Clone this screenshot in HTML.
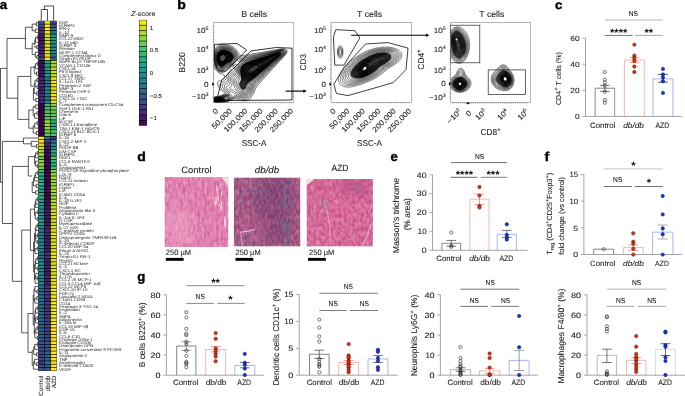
<!DOCTYPE html>
<html lang="en"><head><meta charset="utf-8"><title>Figure</title>
<style>html,body{margin:0;padding:0;background:#fff;overflow:hidden}svg{display:block;will-change:transform}text{font-family:'Liberation Sans', sans-serif}</style>
</head><body>
<svg width="685" height="396" viewBox="0 0 685 396" text-rendering="geometricPrecision">
<rect width="685" height="396" fill="#fff"/>
<g id="pa">
<rect x="38.2" y="20.8" width="18.5" height="350.05" fill="#000" stroke="none" stroke-width="0.5"/>
<rect x="38.48" y="21.14" width="5.61" height="2.62" fill="#365c8d"/>
<rect x="44.65" y="21.14" width="5.61" height="2.62" fill="#fde725"/>
<rect x="50.81" y="21.14" width="5.61" height="2.62" fill="#3f4788"/>
<rect x="38.48" y="24.44" width="5.61" height="2.62" fill="#3d4e8a"/>
<rect x="44.65" y="24.44" width="5.61" height="2.62" fill="#fde725"/>
<rect x="50.81" y="24.44" width="5.61" height="2.62" fill="#39558c"/>
<rect x="38.48" y="27.74" width="5.61" height="2.62" fill="#453581"/>
<rect x="44.65" y="27.74" width="5.61" height="2.62" fill="#f6e620"/>
<rect x="50.81" y="27.74" width="5.61" height="2.62" fill="#2e6f8e"/>
<rect x="38.48" y="31.05" width="5.61" height="2.62" fill="#472f7d"/>
<rect x="44.65" y="31.05" width="5.61" height="2.62" fill="#f1e51d"/>
<rect x="50.81" y="31.05" width="5.61" height="2.62" fill="#2b758e"/>
<rect x="38.48" y="34.35" width="5.61" height="2.62" fill="#481668"/>
<rect x="44.65" y="34.35" width="5.61" height="2.62" fill="#cde11d"/>
<rect x="50.81" y="34.35" width="5.61" height="2.62" fill="#1f948c"/>
<rect x="38.48" y="37.65" width="5.61" height="2.62" fill="#471164"/>
<rect x="44.65" y="37.65" width="5.61" height="2.62" fill="#c0df25"/>
<rect x="50.81" y="37.65" width="5.61" height="2.62" fill="#1e9d89"/>
<rect x="38.48" y="40.95" width="5.61" height="2.62" fill="#481668"/>
<rect x="44.65" y="40.95" width="5.61" height="2.62" fill="#cde11d"/>
<rect x="50.81" y="40.95" width="5.61" height="2.62" fill="#1f948c"/>
<rect x="38.48" y="44.26" width="5.61" height="2.62" fill="#481d6f"/>
<rect x="44.65" y="44.26" width="5.61" height="2.62" fill="#dde318"/>
<rect x="50.81" y="44.26" width="5.61" height="2.62" fill="#238a8d"/>
<rect x="38.48" y="47.56" width="5.61" height="2.62" fill="#481b6d"/>
<rect x="44.65" y="47.56" width="5.61" height="2.62" fill="#d5e21a"/>
<rect x="50.81" y="47.56" width="5.61" height="2.62" fill="#218e8d"/>
<rect x="38.48" y="50.86" width="5.61" height="2.62" fill="#481f70"/>
<rect x="44.65" y="50.86" width="5.61" height="2.62" fill="#dfe318"/>
<rect x="50.81" y="50.86" width="5.61" height="2.62" fill="#23888e"/>
<rect x="38.48" y="54.16" width="5.61" height="2.62" fill="#472d7b"/>
<rect x="44.65" y="54.16" width="5.61" height="2.62" fill="#efe51c"/>
<rect x="50.81" y="54.16" width="5.61" height="2.62" fill="#2a778e"/>
<rect x="38.48" y="57.47" width="5.61" height="2.62" fill="#404588"/>
<rect x="44.65" y="57.47" width="5.61" height="2.62" fill="#fde725"/>
<rect x="50.81" y="57.47" width="5.61" height="2.62" fill="#355e8d"/>
<rect x="38.48" y="60.77" width="5.61" height="2.62" fill="#460a5d"/>
<rect x="44.65" y="60.77" width="5.61" height="2.62" fill="#23a983"/>
<rect x="50.81" y="60.77" width="5.61" height="2.62" fill="#aadc32"/>
<rect x="38.48" y="64.07" width="5.61" height="2.62" fill="#460a5d"/>
<rect x="44.65" y="64.07" width="5.61" height="2.62" fill="#23a983"/>
<rect x="50.81" y="64.07" width="5.61" height="2.62" fill="#aadc32"/>
<rect x="38.48" y="67.37" width="5.61" height="2.62" fill="#460b5e"/>
<rect x="44.65" y="67.37" width="5.61" height="2.62" fill="#21a585"/>
<rect x="50.81" y="67.37" width="5.61" height="2.62" fill="#b2dd2d"/>
<rect x="38.48" y="70.68" width="5.61" height="2.62" fill="#481a6c"/>
<rect x="44.65" y="70.68" width="5.61" height="2.62" fill="#21908d"/>
<rect x="50.81" y="70.68" width="5.61" height="2.62" fill="#d2e21b"/>
<rect x="38.48" y="73.98" width="5.61" height="2.62" fill="#470d60"/>
<rect x="44.65" y="73.98" width="5.61" height="2.62" fill="#20a386"/>
<rect x="50.81" y="73.98" width="5.61" height="2.62" fill="#b5de2b"/>
<rect x="38.48" y="77.28" width="5.61" height="2.62" fill="#482979"/>
<rect x="44.65" y="77.28" width="5.61" height="2.62" fill="#297b8e"/>
<rect x="50.81" y="77.28" width="5.61" height="2.62" fill="#ece51b"/>
<rect x="38.48" y="80.58" width="5.61" height="2.62" fill="#472c7a"/>
<rect x="44.65" y="80.58" width="5.61" height="2.62" fill="#29798e"/>
<rect x="50.81" y="80.58" width="5.61" height="2.62" fill="#efe51c"/>
<rect x="38.48" y="83.88" width="5.61" height="2.62" fill="#46337f"/>
<rect x="44.65" y="83.88" width="5.61" height="2.62" fill="#2d718e"/>
<rect x="50.81" y="83.88" width="5.61" height="2.62" fill="#f4e61e"/>
<rect x="38.48" y="87.19" width="5.61" height="2.62" fill="#481c6e"/>
<rect x="44.65" y="87.19" width="5.61" height="2.62" fill="#228c8d"/>
<rect x="50.81" y="87.19" width="5.61" height="2.62" fill="#dae319"/>
<rect x="38.48" y="90.49" width="5.61" height="2.62" fill="#481d6f"/>
<rect x="44.65" y="90.49" width="5.61" height="2.62" fill="#238a8d"/>
<rect x="50.81" y="90.49" width="5.61" height="2.62" fill="#dde318"/>
<rect x="38.48" y="93.79" width="5.61" height="2.62" fill="#472d7b"/>
<rect x="44.65" y="93.79" width="5.61" height="2.62" fill="#2a778e"/>
<rect x="50.81" y="93.79" width="5.61" height="2.62" fill="#efe51c"/>
<rect x="38.48" y="97.09" width="5.61" height="2.62" fill="#472d7b"/>
<rect x="44.65" y="97.09" width="5.61" height="2.62" fill="#2a778e"/>
<rect x="50.81" y="97.09" width="5.61" height="2.62" fill="#efe51c"/>
<rect x="38.48" y="100.4" width="5.61" height="2.62" fill="#482677"/>
<rect x="44.65" y="100.4" width="5.61" height="2.62" fill="#27808e"/>
<rect x="50.81" y="100.4" width="5.61" height="2.62" fill="#e7e419"/>
<rect x="38.48" y="103.7" width="5.61" height="2.62" fill="#440256"/>
<rect x="44.65" y="103.7" width="5.61" height="2.62" fill="#3dbc74"/>
<rect x="50.81" y="103.7" width="5.61" height="2.62" fill="#7fd34e"/>
<rect x="38.48" y="107" width="5.61" height="2.62" fill="#440154"/>
<rect x="44.65" y="107" width="5.61" height="2.62" fill="#42be71"/>
<rect x="50.81" y="107" width="5.61" height="2.62" fill="#7cd250"/>
<rect x="38.48" y="110.3" width="5.61" height="2.62" fill="#440154"/>
<rect x="44.65" y="110.3" width="5.61" height="2.62" fill="#56c667"/>
<rect x="50.81" y="110.3" width="5.61" height="2.62" fill="#65cb5e"/>
<rect x="38.48" y="113.61" width="5.61" height="2.62" fill="#440154"/>
<rect x="44.65" y="113.61" width="5.61" height="2.62" fill="#56c667"/>
<rect x="50.81" y="113.61" width="5.61" height="2.62" fill="#65cb5e"/>
<rect x="38.48" y="116.91" width="5.61" height="2.62" fill="#440154"/>
<rect x="44.65" y="116.91" width="5.61" height="2.62" fill="#56c667"/>
<rect x="50.81" y="116.91" width="5.61" height="2.62" fill="#65cb5e"/>
<rect x="38.48" y="120.21" width="5.61" height="2.62" fill="#46075a"/>
<rect x="44.65" y="120.21" width="5.61" height="2.62" fill="#9dd93b"/>
<rect x="50.81" y="120.21" width="5.61" height="2.62" fill="#29af7f"/>
<rect x="38.48" y="123.51" width="5.61" height="2.62" fill="#46085c"/>
<rect x="44.65" y="123.51" width="5.61" height="2.62" fill="#a5db36"/>
<rect x="50.81" y="123.51" width="5.61" height="2.62" fill="#25ab82"/>
<rect x="38.48" y="126.82" width="5.61" height="2.62" fill="#450559"/>
<rect x="44.65" y="126.82" width="5.61" height="2.62" fill="#98d83e"/>
<rect x="50.81" y="126.82" width="5.61" height="2.62" fill="#2cb17e"/>
<rect x="38.48" y="130.12" width="5.61" height="2.62" fill="#440154"/>
<rect x="44.65" y="130.12" width="5.61" height="2.62" fill="#73d056"/>
<rect x="50.81" y="130.12" width="5.61" height="2.62" fill="#4ac16d"/>
<rect x="38.48" y="133.42" width="5.61" height="2.62" fill="#440154"/>
<rect x="44.65" y="133.42" width="5.61" height="2.62" fill="#69cd5b"/>
<rect x="50.81" y="133.42" width="5.61" height="2.62" fill="#52c569"/>
<rect x="38.48" y="136.72" width="5.61" height="2.62" fill="#f4e61e"/>
<rect x="44.65" y="136.72" width="5.61" height="2.62" fill="#2d718e"/>
<rect x="50.81" y="136.72" width="5.61" height="2.62" fill="#46337f"/>
<rect x="38.48" y="140.02" width="5.61" height="2.62" fill="#f6e620"/>
<rect x="44.65" y="140.02" width="5.61" height="2.62" fill="#453781"/>
<rect x="50.81" y="140.02" width="5.61" height="2.62" fill="#2e6d8e"/>
<rect x="38.48" y="143.33" width="5.61" height="2.62" fill="#e2e418"/>
<rect x="44.65" y="143.33" width="5.61" height="2.62" fill="#482173"/>
<rect x="50.81" y="143.33" width="5.61" height="2.62" fill="#25858e"/>
<rect x="38.48" y="146.63" width="5.61" height="2.62" fill="#dfe318"/>
<rect x="44.65" y="146.63" width="5.61" height="2.62" fill="#481f70"/>
<rect x="50.81" y="146.63" width="5.61" height="2.62" fill="#23888e"/>
<rect x="38.48" y="149.93" width="5.61" height="2.62" fill="#98d83e"/>
<rect x="44.65" y="149.93" width="5.61" height="2.62" fill="#450559"/>
<rect x="50.81" y="149.93" width="5.61" height="2.62" fill="#2cb17e"/>
<rect x="38.48" y="153.23" width="5.61" height="2.62" fill="#b8de29"/>
<rect x="44.65" y="153.23" width="5.61" height="2.62" fill="#470e61"/>
<rect x="50.81" y="153.23" width="5.61" height="2.62" fill="#1fa188"/>
<rect x="38.48" y="156.54" width="5.61" height="2.62" fill="#60ca60"/>
<rect x="44.65" y="156.54" width="5.61" height="2.62" fill="#440154"/>
<rect x="50.81" y="156.54" width="5.61" height="2.62" fill="#5ac864"/>
<rect x="38.48" y="159.84" width="5.61" height="2.62" fill="#89d548"/>
<rect x="44.65" y="159.84" width="5.61" height="2.62" fill="#440256"/>
<rect x="50.81" y="159.84" width="5.61" height="2.62" fill="#37b878"/>
<rect x="38.48" y="163.14" width="5.61" height="2.62" fill="#9dd93b"/>
<rect x="44.65" y="163.14" width="5.61" height="2.62" fill="#46075a"/>
<rect x="50.81" y="163.14" width="5.61" height="2.62" fill="#29af7f"/>
<rect x="38.48" y="166.44" width="5.61" height="2.62" fill="#7cd250"/>
<rect x="44.65" y="166.44" width="5.61" height="2.62" fill="#440154"/>
<rect x="50.81" y="166.44" width="5.61" height="2.62" fill="#42be71"/>
<rect x="38.48" y="169.75" width="5.61" height="2.62" fill="#42be71"/>
<rect x="44.65" y="169.75" width="5.61" height="2.62" fill="#440154"/>
<rect x="50.81" y="169.75" width="5.61" height="2.62" fill="#7cd250"/>
<rect x="38.48" y="173.05" width="5.61" height="2.62" fill="#2cb17e"/>
<rect x="44.65" y="173.05" width="5.61" height="2.62" fill="#450559"/>
<rect x="50.81" y="173.05" width="5.61" height="2.62" fill="#98d83e"/>
<rect x="38.48" y="176.35" width="5.61" height="2.62" fill="#25ab82"/>
<rect x="44.65" y="176.35" width="5.61" height="2.62" fill="#46085c"/>
<rect x="50.81" y="176.35" width="5.61" height="2.62" fill="#a5db36"/>
<rect x="38.48" y="179.65" width="5.61" height="2.62" fill="#2eb37c"/>
<rect x="44.65" y="179.65" width="5.61" height="2.62" fill="#450559"/>
<rect x="50.81" y="179.65" width="5.61" height="2.62" fill="#95d840"/>
<rect x="38.48" y="182.96" width="5.61" height="2.62" fill="#37b878"/>
<rect x="44.65" y="182.96" width="5.61" height="2.62" fill="#440256"/>
<rect x="50.81" y="182.96" width="5.61" height="2.62" fill="#89d548"/>
<rect x="38.48" y="186.26" width="5.61" height="2.62" fill="#23a983"/>
<rect x="44.65" y="186.26" width="5.61" height="2.62" fill="#460a5d"/>
<rect x="50.81" y="186.26" width="5.61" height="2.62" fill="#aadc32"/>
<rect x="38.48" y="189.56" width="5.61" height="2.62" fill="#21a585"/>
<rect x="44.65" y="189.56" width="5.61" height="2.62" fill="#460b5e"/>
<rect x="50.81" y="189.56" width="5.61" height="2.62" fill="#b2dd2d"/>
<rect x="38.48" y="192.86" width="5.61" height="2.62" fill="#37b878"/>
<rect x="44.65" y="192.86" width="5.61" height="2.62" fill="#440256"/>
<rect x="50.81" y="192.86" width="5.61" height="2.62" fill="#89d548"/>
<rect x="38.48" y="196.17" width="5.61" height="2.62" fill="#31b57b"/>
<rect x="44.65" y="196.17" width="5.61" height="2.62" fill="#450457"/>
<rect x="50.81" y="196.17" width="5.61" height="2.62" fill="#90d743"/>
<rect x="38.48" y="199.47" width="5.61" height="2.62" fill="#1fa188"/>
<rect x="44.65" y="199.47" width="5.61" height="2.62" fill="#470e61"/>
<rect x="50.81" y="199.47" width="5.61" height="2.62" fill="#b8de29"/>
<rect x="38.48" y="202.77" width="5.61" height="2.62" fill="#1e9b8a"/>
<rect x="44.65" y="202.77" width="5.61" height="2.62" fill="#471164"/>
<rect x="50.81" y="202.77" width="5.61" height="2.62" fill="#c2df23"/>
<rect x="38.48" y="206.07" width="5.61" height="2.62" fill="#1e9b8a"/>
<rect x="44.65" y="206.07" width="5.61" height="2.62" fill="#471164"/>
<rect x="50.81" y="206.07" width="5.61" height="2.62" fill="#c2df23"/>
<rect x="38.48" y="209.37" width="5.61" height="2.62" fill="#21908d"/>
<rect x="44.65" y="209.37" width="5.61" height="2.62" fill="#481a6c"/>
<rect x="50.81" y="209.37" width="5.61" height="2.62" fill="#d2e21b"/>
<rect x="38.48" y="212.68" width="5.61" height="2.62" fill="#21908d"/>
<rect x="44.65" y="212.68" width="5.61" height="2.62" fill="#481a6c"/>
<rect x="50.81" y="212.68" width="5.61" height="2.62" fill="#d2e21b"/>
<rect x="38.48" y="215.98" width="5.61" height="2.62" fill="#1f948c"/>
<rect x="44.65" y="215.98" width="5.61" height="2.62" fill="#481668"/>
<rect x="50.81" y="215.98" width="5.61" height="2.62" fill="#cde11d"/>
<rect x="38.48" y="219.28" width="5.61" height="2.62" fill="#1f9f88"/>
<rect x="44.65" y="219.28" width="5.61" height="2.62" fill="#471063"/>
<rect x="50.81" y="219.28" width="5.61" height="2.62" fill="#bddf26"/>
<rect x="38.48" y="222.58" width="5.61" height="2.62" fill="#1f9f88"/>
<rect x="44.65" y="222.58" width="5.61" height="2.62" fill="#471063"/>
<rect x="50.81" y="222.58" width="5.61" height="2.62" fill="#bddf26"/>
<rect x="38.48" y="225.89" width="5.61" height="2.62" fill="#25858e"/>
<rect x="44.65" y="225.89" width="5.61" height="2.62" fill="#482173"/>
<rect x="50.81" y="225.89" width="5.61" height="2.62" fill="#e2e418"/>
<rect x="38.48" y="229.19" width="5.61" height="2.62" fill="#27808e"/>
<rect x="44.65" y="229.19" width="5.61" height="2.62" fill="#482677"/>
<rect x="50.81" y="229.19" width="5.61" height="2.62" fill="#e7e419"/>
<rect x="38.48" y="232.49" width="5.61" height="2.62" fill="#297b8e"/>
<rect x="44.65" y="232.49" width="5.61" height="2.62" fill="#482979"/>
<rect x="50.81" y="232.49" width="5.61" height="2.62" fill="#ece51b"/>
<rect x="38.48" y="235.79" width="5.61" height="2.62" fill="#228c8d"/>
<rect x="44.65" y="235.79" width="5.61" height="2.62" fill="#481c6e"/>
<rect x="50.81" y="235.79" width="5.61" height="2.62" fill="#dae319"/>
<rect x="38.48" y="239.1" width="5.61" height="2.62" fill="#228c8d"/>
<rect x="44.65" y="239.1" width="5.61" height="2.62" fill="#481c6e"/>
<rect x="50.81" y="239.1" width="5.61" height="2.62" fill="#dae319"/>
<rect x="38.48" y="242.4" width="5.61" height="2.62" fill="#23888e"/>
<rect x="44.65" y="242.4" width="5.61" height="2.62" fill="#481f70"/>
<rect x="50.81" y="242.4" width="5.61" height="2.62" fill="#dfe318"/>
<rect x="38.48" y="245.7" width="5.61" height="2.62" fill="#228c8d"/>
<rect x="44.65" y="245.7" width="5.61" height="2.62" fill="#481c6e"/>
<rect x="50.81" y="245.7" width="5.61" height="2.62" fill="#dae319"/>
<rect x="38.48" y="249" width="5.61" height="2.62" fill="#228c8d"/>
<rect x="44.65" y="249" width="5.61" height="2.62" fill="#481c6e"/>
<rect x="50.81" y="249" width="5.61" height="2.62" fill="#dae319"/>
<rect x="38.48" y="252.31" width="5.61" height="2.62" fill="#2d718e"/>
<rect x="44.65" y="252.31" width="5.61" height="2.62" fill="#46337f"/>
<rect x="50.81" y="252.31" width="5.61" height="2.62" fill="#f4e61e"/>
<rect x="38.48" y="255.61" width="5.61" height="2.62" fill="#2e6d8e"/>
<rect x="44.65" y="255.61" width="5.61" height="2.62" fill="#453781"/>
<rect x="50.81" y="255.61" width="5.61" height="2.62" fill="#f6e620"/>
<rect x="38.48" y="258.91" width="5.61" height="2.62" fill="#228c8d"/>
<rect x="44.65" y="258.91" width="5.61" height="2.62" fill="#481c6e"/>
<rect x="50.81" y="258.91" width="5.61" height="2.62" fill="#dae319"/>
<rect x="38.48" y="262.21" width="5.61" height="2.62" fill="#21908d"/>
<rect x="44.65" y="262.21" width="5.61" height="2.62" fill="#481a6c"/>
<rect x="50.81" y="262.21" width="5.61" height="2.62" fill="#d2e21b"/>
<rect x="38.48" y="265.51" width="5.61" height="2.62" fill="#238a8d"/>
<rect x="44.65" y="265.51" width="5.61" height="2.62" fill="#481d6f"/>
<rect x="50.81" y="265.51" width="5.61" height="2.62" fill="#dde318"/>
<rect x="38.48" y="268.82" width="5.61" height="2.62" fill="#228c8d"/>
<rect x="44.65" y="268.82" width="5.61" height="2.62" fill="#481c6e"/>
<rect x="50.81" y="268.82" width="5.61" height="2.62" fill="#dae319"/>
<rect x="38.48" y="272.12" width="5.61" height="2.62" fill="#218e8d"/>
<rect x="44.65" y="272.12" width="5.61" height="2.62" fill="#481b6d"/>
<rect x="50.81" y="272.12" width="5.61" height="2.62" fill="#d5e21a"/>
<rect x="38.48" y="275.42" width="5.61" height="2.62" fill="#27808e"/>
<rect x="44.65" y="275.42" width="5.61" height="2.62" fill="#482677"/>
<rect x="50.81" y="275.42" width="5.61" height="2.62" fill="#e7e419"/>
<rect x="38.48" y="278.72" width="5.61" height="2.62" fill="#25858e"/>
<rect x="44.65" y="278.72" width="5.61" height="2.62" fill="#482173"/>
<rect x="50.81" y="278.72" width="5.61" height="2.62" fill="#e2e418"/>
<rect x="38.48" y="282.03" width="5.61" height="2.62" fill="#23888e"/>
<rect x="44.65" y="282.03" width="5.61" height="2.62" fill="#481f70"/>
<rect x="50.81" y="282.03" width="5.61" height="2.62" fill="#dfe318"/>
<rect x="38.48" y="285.33" width="5.61" height="2.62" fill="#2e6f8e"/>
<rect x="44.65" y="285.33" width="5.61" height="2.62" fill="#453581"/>
<rect x="50.81" y="285.33" width="5.61" height="2.62" fill="#f6e620"/>
<rect x="38.48" y="288.63" width="5.61" height="2.62" fill="#2e6d8e"/>
<rect x="44.65" y="288.63" width="5.61" height="2.62" fill="#453781"/>
<rect x="50.81" y="288.63" width="5.61" height="2.62" fill="#f6e620"/>
<rect x="38.48" y="291.93" width="5.61" height="2.62" fill="#2f6b8e"/>
<rect x="44.65" y="291.93" width="5.61" height="2.62" fill="#443983"/>
<rect x="50.81" y="291.93" width="5.61" height="2.62" fill="#f8e621"/>
<rect x="38.48" y="295.24" width="5.61" height="2.62" fill="#2f6b8e"/>
<rect x="44.65" y="295.24" width="5.61" height="2.62" fill="#443983"/>
<rect x="50.81" y="295.24" width="5.61" height="2.62" fill="#f8e621"/>
<rect x="38.48" y="298.54" width="5.61" height="2.62" fill="#2a778e"/>
<rect x="44.65" y="298.54" width="5.61" height="2.62" fill="#472d7b"/>
<rect x="50.81" y="298.54" width="5.61" height="2.62" fill="#efe51c"/>
<rect x="38.48" y="301.84" width="5.61" height="2.62" fill="#2f6b8e"/>
<rect x="44.65" y="301.84" width="5.61" height="2.62" fill="#443983"/>
<rect x="50.81" y="301.84" width="5.61" height="2.62" fill="#f8e621"/>
<rect x="38.48" y="305.14" width="5.61" height="2.62" fill="#30698e"/>
<rect x="44.65" y="305.14" width="5.61" height="2.62" fill="#443b84"/>
<rect x="50.81" y="305.14" width="5.61" height="2.62" fill="#f8e621"/>
<rect x="38.48" y="308.45" width="5.61" height="2.62" fill="#2e6f8e"/>
<rect x="44.65" y="308.45" width="5.61" height="2.62" fill="#453581"/>
<rect x="50.81" y="308.45" width="5.61" height="2.62" fill="#f6e620"/>
<rect x="38.48" y="311.75" width="5.61" height="2.62" fill="#2f6b8e"/>
<rect x="44.65" y="311.75" width="5.61" height="2.62" fill="#443983"/>
<rect x="50.81" y="311.75" width="5.61" height="2.62" fill="#f8e621"/>
<rect x="38.48" y="315.05" width="5.61" height="2.62" fill="#30698e"/>
<rect x="44.65" y="315.05" width="5.61" height="2.62" fill="#443b84"/>
<rect x="50.81" y="315.05" width="5.61" height="2.62" fill="#f8e621"/>
<rect x="38.48" y="318.35" width="5.61" height="2.62" fill="#30698e"/>
<rect x="44.65" y="318.35" width="5.61" height="2.62" fill="#443b84"/>
<rect x="50.81" y="318.35" width="5.61" height="2.62" fill="#f8e621"/>
<rect x="38.48" y="321.65" width="5.61" height="2.62" fill="#34608d"/>
<rect x="44.65" y="321.65" width="5.61" height="2.62" fill="#414287"/>
<rect x="50.81" y="321.65" width="5.61" height="2.62" fill="#fde725"/>
<rect x="38.48" y="324.96" width="5.61" height="2.62" fill="#34608d"/>
<rect x="44.65" y="324.96" width="5.61" height="2.62" fill="#414287"/>
<rect x="50.81" y="324.96" width="5.61" height="2.62" fill="#fde725"/>
<rect x="38.48" y="328.26" width="5.61" height="2.62" fill="#33638d"/>
<rect x="44.65" y="328.26" width="5.61" height="2.62" fill="#424186"/>
<rect x="50.81" y="328.26" width="5.61" height="2.62" fill="#fbe723"/>
<rect x="38.48" y="331.56" width="5.61" height="2.62" fill="#31678e"/>
<rect x="44.65" y="331.56" width="5.61" height="2.62" fill="#433d84"/>
<rect x="50.81" y="331.56" width="5.61" height="2.62" fill="#fbe723"/>
<rect x="38.48" y="334.86" width="5.61" height="2.62" fill="#33638d"/>
<rect x="44.65" y="334.86" width="5.61" height="2.62" fill="#424186"/>
<rect x="50.81" y="334.86" width="5.61" height="2.62" fill="#fbe723"/>
<rect x="38.48" y="338.17" width="5.61" height="2.62" fill="#34608d"/>
<rect x="44.65" y="338.17" width="5.61" height="2.62" fill="#414287"/>
<rect x="50.81" y="338.17" width="5.61" height="2.62" fill="#fde725"/>
<rect x="38.48" y="341.47" width="5.61" height="2.62" fill="#3c508b"/>
<rect x="44.65" y="341.47" width="5.61" height="2.62" fill="#3a538b"/>
<rect x="50.81" y="341.47" width="5.61" height="2.62" fill="#fde725"/>
<rect x="38.48" y="344.77" width="5.61" height="2.62" fill="#3a538b"/>
<rect x="44.65" y="344.77" width="5.61" height="2.62" fill="#3c508b"/>
<rect x="50.81" y="344.77" width="5.61" height="2.62" fill="#fde725"/>
<rect x="38.48" y="348.07" width="5.61" height="2.62" fill="#3b518b"/>
<rect x="44.65" y="348.07" width="5.61" height="2.62" fill="#3b528b"/>
<rect x="50.81" y="348.07" width="5.61" height="2.62" fill="#fde725"/>
<rect x="38.48" y="351.38" width="5.61" height="2.62" fill="#424186"/>
<rect x="44.65" y="351.38" width="5.61" height="2.62" fill="#33638d"/>
<rect x="50.81" y="351.38" width="5.61" height="2.62" fill="#fbe723"/>
<rect x="38.48" y="354.68" width="5.61" height="2.62" fill="#414287"/>
<rect x="44.65" y="354.68" width="5.61" height="2.62" fill="#34608d"/>
<rect x="50.81" y="354.68" width="5.61" height="2.62" fill="#fde725"/>
<rect x="38.48" y="357.98" width="5.61" height="2.62" fill="#3f4788"/>
<rect x="44.65" y="357.98" width="5.61" height="2.62" fill="#365c8d"/>
<rect x="50.81" y="357.98" width="5.61" height="2.62" fill="#fde725"/>
<rect x="38.48" y="361.28" width="5.61" height="2.62" fill="#46307e"/>
<rect x="44.65" y="361.28" width="5.61" height="2.62" fill="#2c738e"/>
<rect x="50.81" y="361.28" width="5.61" height="2.62" fill="#f4e61e"/>
<rect x="38.48" y="364.59" width="5.61" height="2.62" fill="#3e4c8a"/>
<rect x="44.65" y="364.59" width="5.61" height="2.62" fill="#38588c"/>
<rect x="50.81" y="364.59" width="5.61" height="2.62" fill="#fde725"/>
<rect x="38.48" y="367.89" width="5.61" height="2.62" fill="#3d4e8a"/>
<rect x="44.65" y="367.89" width="5.61" height="2.62" fill="#39558c"/>
<rect x="50.81" y="367.89" width="5.61" height="2.62" fill="#fde725"/>
<g font-size="40" fill="#222">
<text transform="translate(59,23.85) scale(0.11,0.1)">EGF</text>
<text transform="translate(59,27.15) scale(0.11,0.1)">IGFBP2</text>
<text transform="translate(59,30.46) scale(0.11,0.1)">IFN-γ</text>
<text transform="translate(59,33.76) scale(0.11,0.1)">IL-10</text>
<text transform="translate(59,37.06) scale(0.11,0.1)">MMP-9</text>
<text transform="translate(59,40.36) scale(0.11,0.1)">CCL22-MDC</text>
<text transform="translate(59,43.67) scale(0.11,0.1)">IL-12 p40</text>
<text transform="translate(59,46.97) scale(0.11,0.1)">IGFBP-3</text>
<text transform="translate(59,50.27) scale(0.11,0.1)">Resistin</text>
<text transform="translate(59,53.57) scale(0.11,0.1)">WISP-1 CCN4</text>
<text transform="translate(59,56.87) scale(0.11,0.1)">Complement factor D</text>
<text transform="translate(59,60.18) scale(0.11,0.1)">Serpin F1 PEDF</text>
<text transform="translate(59,63.48) scale(0.11,0.1)">BAFF BLyS TNFSF13B</text>
<text transform="translate(59,66.78) scale(0.11,0.1)">VCAM-1 CD106</text>
<text transform="translate(59,70.08) scale(0.11,0.1)">CXCL16</text>
<text transform="translate(59,73.39) scale(0.11,0.1)">Flt-3 ligand</text>
<text transform="translate(59,76.69) scale(0.11,0.1)">CXCL9 MIG</text>
<text transform="translate(59,79.99) scale(0.11,0.1)">CCL17 TARC</text>
<text transform="translate(59,83.29) scale(0.11,0.1)">IL-1α IL-1F1</text>
<text transform="translate(59,86.6) scale(0.11,0.1)">Pentraxin 2 SAP</text>
<text transform="translate(59,89.9) scale(0.11,0.1)">MMP-3</text>
<text transform="translate(59,93.2) scale(0.11,0.1)">Periostin OSF-2</text>
<text transform="translate(59,96.5) scale(0.11,0.1)">CD160</text>
<text transform="translate(59,99.81) scale(0.11,0.1)">CXCL11 I-TAC</text>
<text transform="translate(59,103.11) scale(0.11,0.1)">IL-7</text>
<text transform="translate(59,106.41) scale(0.11,0.1)">Complement component C5-C5a</text>
<text transform="translate(59,109.71) scale(0.11,0.1)">Pref-1 DLK-1 FA1</text>
<text transform="translate(59,113.01) scale(0.11,0.1)">Chemerin</text>
<text transform="translate(59,116.32) scale(0.11,0.1)">Gas-6</text>
<text transform="translate(59,119.62) scale(0.11,0.1)">LIF</text>
<text transform="translate(59,122.92) scale(0.11,0.1)">M-CSF</text>
<text transform="translate(59,126.22) scale(0.11,0.1)">CX3CL1-fractalkine</text>
<text transform="translate(59,129.53) scale(0.11,0.1)">TIM-1 KIM-1 HAVCR</text>
<text transform="translate(59,132.83) scale(0.11,0.1)">CXCL13 BLC BCA-1</text>
<text transform="translate(59,136.13) scale(0.11,0.1)">IGFBP-6</text>
<text transform="translate(59,139.43) scale(0.11,0.1)">IL-15</text>
<text transform="translate(59,142.74) scale(0.11,0.1)">CXCL2-MIP-2</text>
<text transform="translate(59,146.04) scale(0.11,0.1)">IL-22</text>
<text transform="translate(59,149.34) scale(0.11,0.1)">PDGF-BB</text>
<text transform="translate(59,152.64) scale(0.11,0.1)">GM-CSF</text>
<text transform="translate(59,155.95) scale(0.11,0.1)">IGFBP5</text>
<text transform="translate(59,159.25) scale(0.11,0.1)">DKK1</text>
<text transform="translate(59,162.55) scale(0.11,0.1)">CCL5-RANTES</text>
<text transform="translate(59,165.85) scale(0.11,0.1)">IL-5</text>
<text transform="translate(59,169.15) scale(0.11,0.1)">Angiopoietin1</text>
<text transform="translate(59,172.46) scale(0.11,0.1)">PD-ECGF-thymidine phosphorylase</text>
<text transform="translate(59,175.76) scale(0.11,0.1)">LDL-R</text>
<text transform="translate(59,179.06) scale(0.11,0.1)">RAGE</text>
<text transform="translate(59,182.36) scale(0.11,0.1)">CCL11 eotaxin</text>
<text transform="translate(59,185.67) scale(0.11,0.1)">IGFBP1</text>
<text transform="translate(59,188.97) scale(0.11,0.1)">Leptin</text>
<text transform="translate(59,192.27) scale(0.11,0.1)">LIX</text>
<text transform="translate(59,195.57) scale(0.11,0.1)">ICAM1 CD54</text>
<text transform="translate(59,198.88) scale(0.11,0.1)">IL-4</text>
<text transform="translate(59,202.18) scale(0.11,0.1)">IL-1β IL1F2</text>
<text transform="translate(59,205.48) scale(0.11,0.1)">HGF</text>
<text transform="translate(59,208.78) scale(0.11,0.1)">Proliferin</text>
<text transform="translate(59,212.09) scale(0.11,0.1)">Angiopoietin-like 3</text>
<text transform="translate(59,215.39) scale(0.11,0.1)">Cystatin C</text>
<text transform="translate(59,218.69) scale(0.11,0.1)">IL-1ra IL-1F3</text>
<text transform="translate(59,221.99) scale(0.11,0.1)">G-CSF</text>
<text transform="translate(59,225.3) scale(0.11,0.1)">Myeloperoxidase</text>
<text transform="translate(59,228.6) scale(0.11,0.1)">IL-27 p28</text>
<text transform="translate(59,231.9) scale(0.11,0.1)">C-reactive protein</text>
<text transform="translate(59,235.2) scale(0.11,0.1)">DPPIV CD26</text>
<text transform="translate(59,238.5) scale(0.11,0.1)">Osteoprotegerin TNFRSF11B</text>
<text transform="translate(59,241.81) scale(0.11,0.1)">IL-33</text>
<text transform="translate(59,245.11) scale(0.11,0.1)">P-Selectin CD62P</text>
<text transform="translate(59,248.41) scale(0.11,0.1)">CCL20 MIP-3α</text>
<text transform="translate(59,251.71) scale(0.11,0.1)">Fetuin A AHSG</text>
<text transform="translate(59,255.02) scale(0.11,0.1)">IL-23</text>
<text transform="translate(59,258.32) scale(0.11,0.1)">Serpin-E1 PAI-1</text>
<text transform="translate(59,261.62) scale(0.11,0.1)">Reg3G</text>
<text transform="translate(59,264.92) scale(0.11,0.1)">CCL21-6Ckine</text>
<text transform="translate(59,268.23) scale(0.11,0.1)">IL-3</text>
<text transform="translate(59,271.53) scale(0.11,0.1)">CXCL1-KC</text>
<text transform="translate(59,274.83) scale(0.11,0.1)">Thrombopoietin</text>
<text transform="translate(59,278.13) scale(0.11,0.1)">IL-17A</text>
<text transform="translate(59,281.44) scale(0.11,0.1)">CCL2 JE MCP-1</text>
<text transform="translate(59,284.74) scale(0.11,0.1)">CCL3 CCL4 MIP 1αβ</text>
<text transform="translate(59,288.04) scale(0.11,0.1)">CCL12 MCP5</text>
<text transform="translate(59,291.34) scale(0.11,0.1)">CXCL10 IP-10</text>
<text transform="translate(59,294.64) scale(0.11,0.1)">FGF-21</text>
<text transform="translate(59,297.95) scale(0.11,0.1)">Lipocalin-2 NGAL</text>
<text transform="translate(59,301.25) scale(0.11,0.1)">C1qR1 CD93</text>
<text transform="translate(59,304.55) scale(0.11,0.1)">CD14</text>
<text transform="translate(59,307.85) scale(0.11,0.1)">Pentraxin-3 TSG-14</text>
<text transform="translate(59,311.16) scale(0.11,0.1)">Endostatin</text>
<text transform="translate(59,314.46) scale(0.11,0.1)">IL-2</text>
<text transform="translate(59,317.76) scale(0.11,0.1)">RBP4</text>
<text transform="translate(59,321.06) scale(0.11,0.1)">Adiponectin</text>
<text transform="translate(59,324.37) scale(0.11,0.1)">IL-28A B</text>
<text transform="translate(59,327.67) scale(0.11,0.1)">CCL19 MIP-3β</text>
<text transform="translate(59,330.97) scale(0.11,0.1)">GDF-15</text>
<text transform="translate(59,334.27) scale(0.11,0.1)">IL-6</text>
<text transform="translate(59,337.58) scale(0.11,0.1)">CCL6-C10</text>
<text transform="translate(59,340.88) scale(0.11,0.1)">Chitinase 3-like 1</text>
<text transform="translate(59,344.18) scale(0.11,0.1)">Endoglin CD105</text>
<text transform="translate(59,347.48) scale(0.11,0.1)">Osteopontin OPN</text>
<text transform="translate(59,350.78) scale(0.11,0.1)">Proprotein convertase 9 PCSK9</text>
<text transform="translate(59,354.09) scale(0.11,0.1)">IL-11</text>
<text transform="translate(59,357.39) scale(0.11,0.1)">Angiopoietin-2</text>
<text transform="translate(59,360.69) scale(0.11,0.1)">TNF</text>
<text transform="translate(59,363.99) scale(0.11,0.1)">Amphiregulin</text>
<text transform="translate(59,367.3) scale(0.11,0.1)">E-selectin CD62E</text>
<text transform="translate(59,370.6) scale(0.11,0.1)">VEGF</text>
</g>
<text transform="translate(43.48,375.7) rotate(-90) scale(1.02,1)" y="0" font-size="6.1" text-anchor="end" fill="#1a1a1a" stroke="#1a1a1a" stroke-width="0.08">Control</text>
<text transform="translate(49.65,375.7) rotate(-90) scale(1.02,1)" y="0" font-size="6.1" text-anchor="end" fill="#1a1a1a" stroke="#1a1a1a" stroke-width="0.08">db/db</text>
<text transform="translate(55.82,375.7) rotate(-90) scale(1.02,1)" y="0" font-size="6.1" text-anchor="end" fill="#1a1a1a" stroke="#1a1a1a" stroke-width="0.08">AZD</text>
<path d="M41.28 20.8V9.5H47.45V20.8 M44.37 9.5V6H53.62V20.8" fill="none" stroke="#000" stroke-width="0.7"/>
<path d="M38.2 22.45H36.4V25.75H38.2 M38.2 29.06H35.3V32.36H38.2 M36.4 24.1H32.2V30.71H35.3 M38.2 35.66H37.3V38.96H38.2 M37.3 37.31H35.5V42.27H38.2 M38.2 45.57H36.87V48.87H38.2 M35.5 39.79H34.8V47.22H36.87 M38.2 55.47H36.9V58.78H38.2 M38.2 52.17H35.3V57.13H36.9 M34.8 43.5H32.2V54.65H35.3 M32.2 27.3H25.4V48.7H32.2 M38.2 62.08H37.3V65.38H38.2 M37.3 63.73H35.44V68.68H38.2 M38.2 71.99H36.6V75.29H38.2 M35.44 66.21H34.3V73.64H36.6 M38.2 78.59H36.92V81.89H38.2 M38.2 85.2H37.04V88.5H38.2 M36.92 80.24H35.07V86.85H37.04 M38.2 91.8H36.76V95.1H38.2 M35.07 83.54H34.22V93.45H36.76 M38.2 98.41H35.84V101.71H38.2 M34.22 88.5H33.4V100.06H35.84 M34.3 67.2H30.8V86.2H33.4 M38.2 105.01H35.28V108.31H38.2 M38.2 111.61H37.15V114.92H38.2 M37.15 113.27H34.62V118.22H38.2 M35.28 106.66H33.2V115.74H34.62 M38.2 121.52H37.15V124.82H38.2 M37.15 123.17H34.7V128.13H38.2 M38.2 131.43H36.42V134.73H38.2 M34.7 125.65H33.2V133.08H36.42 M33.2 110.1H28.8V128.2H33.2 M30.8 76.4H17.8V119.4H28.8 M25.4 38.4H7V98.2H17.8 M38.2 144.64H36.4V147.94H38.2 M38.2 141.34H31.3V146.29H36.4 M38.2 138.03H23.4V143.81H31.3 M38.2 151.24H37.3V154.55H38.2 M37.3 152.89H35.62V157.85H38.2 M38.2 164.45H37.3V167.75H38.2 M38.2 161.15H35.43V166.1H37.3 M35.62 155.37H34.6V163.63H35.43 M38.2 171.06H37.3V174.36H38.2 M37.3 172.71H35.59V177.66H38.2 M35.59 175.19H34.64V180.96H38.2 M38.2 184.27H36.27V187.57H38.2 M34.64 178.07H33.43V185.92H36.27 M38.2 190.87H35.65V194.17H38.2 M33.43 182H32.2V192.52H35.65 M34.6 156.6H28.3V176H32.2 M38.2 197.48H37.3V200.78H38.2 M37.3 199.13H35.89V204.08H38.2 M35.89 201.6H35.31V207.38H38.2 M38.2 210.69H37.3V213.99H38.2 M38.2 217.29H37.18V220.59H38.2 M37.3 212.34H35.22V218.94H37.18 M35.31 204.49H34.6V215.64H35.22 M38.2 223.9H37.3V227.2H38.2 M37.3 225.55H35.92V230.5H38.2 M38.2 233.8H37.3V237.1H38.2 M38.2 240.41H37.3V243.71H38.2 M37.3 235.45H35.85V242.06H37.3 M35.92 228.02H35.35V238.76H35.85 M38.2 247.01H37.3V250.31H38.2 M37.3 248.66H35.06V253.62H38.2 M35.35 233.39H34.51V251.14H35.06 M38.2 256.92H37.3V260.22H38.2 M37.3 258.57H35.8V263.52H38.2 M38.2 266.83H37.19V270.13H38.2 M35.8 261.05H35.24V268.48H37.19 M38.2 276.73H37.3V280.04H38.2 M38.2 273.43H35.72V278.38H37.3 M35.72 275.91H35.06V283.34H38.2 M35.24 264.76H34.44V279.62H35.06 M34.51 242.26H33.6V272.19H34.44 M34.6 209.2H30.4V250.4H33.6 M38.2 289.94H36.94V293.24H38.2 M38.2 286.64H34.88V291.59H36.94 M38.2 296.55H36.75V299.85H38.2 M36.75 298.2H34.83V303.15H38.2 M34.88 289.12H33.93V300.67H34.83 M38.2 306.45H37.3V309.76H38.2 M37.3 308.11H35.6V313.06H38.2 M38.2 316.36H37.3V319.66H38.2 M37.3 318.01H35.57V322.97H38.2 M35.6 310.58H35.02V320.49H35.57 M38.2 326.27H37.3V329.57H38.2 M37.3 327.92H35.86V332.87H38.2 M38.2 336.18H37.27V339.48H38.2 M35.86 330.4H34.86V337.83H37.27 M35.02 315.54H34.28V334.11H34.86 M33.93 294.9H33.2V324.82H34.28 M38.2 342.78H37.3V346.08H38.2 M37.3 344.43H34.69V349.38H38.2 M38.2 352.69H36.71V355.99H38.2 M34.69 346.91H33.67V354.34H36.71 M38.2 362.59H36.75V365.9H38.2 M38.2 359.29H34.63V364.25H36.75 M34.63 361.77H33.33V369.2H38.2 M33.67 350.62H32.2V365.48H33.33 M33.2 313.5H28V352.3H32.2 M30.4 230.1H21.7V332.9H28 M28.3 166.4H12.4V281.3H21.7 M23.4 141.4H2.4V223.5H12.4 M7 68.4H0.5V182.4H2.4 M0.5 125.4H0" fill="none" stroke="#000" stroke-width="0.66"/>
<rect x="139" y="19.9" width="7.9" height="105.7" fill="#000" stroke="none" stroke-width="0.5"/>
<rect x="139.35" y="20.2" width="7.2" height="4.68" fill="#efe51c"/>
<rect x="139.35" y="25.48" width="7.2" height="4.68" fill="#cde11d"/>
<rect x="139.35" y="30.77" width="7.2" height="4.68" fill="#addc30"/>
<rect x="139.35" y="36.05" width="7.2" height="4.68" fill="#8bd646"/>
<rect x="139.35" y="41.34" width="7.2" height="4.68" fill="#6ccd5a"/>
<rect x="139.35" y="46.62" width="7.2" height="4.68" fill="#50c46a"/>
<rect x="139.35" y="51.91" width="7.2" height="4.68" fill="#38b977"/>
<rect x="139.35" y="57.19" width="7.2" height="4.68" fill="#28ae80"/>
<rect x="139.35" y="62.48" width="7.2" height="4.68" fill="#1fa287"/>
<rect x="139.35" y="67.76" width="7.2" height="4.68" fill="#1f968b"/>
<rect x="139.35" y="73.05" width="7.2" height="4.68" fill="#238a8d"/>
<rect x="139.35" y="78.33" width="7.2" height="4.68" fill="#277e8e"/>
<rect x="139.35" y="83.62" width="7.2" height="4.68" fill="#2c728e"/>
<rect x="139.35" y="88.9" width="7.2" height="4.68" fill="#31668e"/>
<rect x="139.35" y="94.19" width="7.2" height="4.68" fill="#38598c"/>
<rect x="139.35" y="99.47" width="7.2" height="4.68" fill="#3e4a89"/>
<rect x="139.35" y="104.76" width="7.2" height="4.68" fill="#443b84"/>
<rect x="139.35" y="110.04" width="7.2" height="4.68" fill="#472d7b"/>
<rect x="139.35" y="115.33" width="7.2" height="4.68" fill="#481c6e"/>
<rect x="139.35" y="120.61" width="7.2" height="4.68" fill="#460a5d"/>
<text transform="translate(149.8,27.8) scale(1.08,1)" y="2.04" font-size="5.7" text-anchor="start" fill="#1a1a1a" stroke="#1a1a1a" stroke-width="0.08">1</text>
<text transform="translate(149.8,50.2) scale(1.08,1)" y="2.04" font-size="5.7" text-anchor="start" fill="#1a1a1a" stroke="#1a1a1a" stroke-width="0.08">0.5</text>
<text transform="translate(149.8,72.9) scale(1.08,1)" y="2.04" font-size="5.7" text-anchor="start" fill="#1a1a1a" stroke="#1a1a1a" stroke-width="0.08">0</text>
<text transform="translate(149.8,95.6) scale(1.08,1)" y="2.04" font-size="5.7" text-anchor="start" fill="#1a1a1a" stroke="#1a1a1a" stroke-width="0.08">−0.5</text>
<text transform="translate(149.8,118.2) scale(1.08,1)" y="2.04" font-size="5.7" text-anchor="start" fill="#1a1a1a" stroke="#1a1a1a" stroke-width="0.08">−1</text>
<text transform="translate(131,15.8) scale(1.08,1)" y="0" font-size="6.7" text-anchor="start" fill="#1a1a1a" stroke="#1a1a1a" stroke-width="0.08"><tspan font-style="italic">Z</tspan>-score</text>
<text transform="translate(-0.3,9.4)" y="0" font-size="13.2" text-anchor="start" fill="#000" stroke="#000" stroke-width="0.4" stroke-linejoin="round" font-weight="bold">a</text>
</g>
<g id="pb">
<text transform="translate(177.2,9.3)" y="0" font-size="13" text-anchor="start" fill="#000" stroke="#000" stroke-width="0.4" stroke-linejoin="round" font-weight="bold" textLength="8.6" lengthAdjust="spacingAndGlyphs">b</text>
<text transform="translate(254.2,14.4)" y="3.04" font-size="8.5" text-anchor="middle" fill="#1a1a1a" stroke="#1a1a1a" stroke-width="0.08" textLength="26" lengthAdjust="spacingAndGlyphs">B cells</text>
<clipPath id="c1"><rect x="213.8" y="22.3" width="80" height="80.1"/></clipPath>
<path clip-path="url(#c1)" d="M220.8 50.6 221.7 50.4 222.6 50.3 223.5 50.2 224.4 50.3 225.3 50.3 226.2 50.4 227.0 50.6 227.5 50.8 228.1 51.1 228.9 51.4 229.3 51.6 230.1 52.0 230.7 52.3 231.1 52.6 231.6 53.1 232.0 53.7 232.4 54.2 232.6 54.7 232.9 55.4 233.2 56.0 233.3 56.9 233.3 57.8 233.2 58.7 232.9 59.2 232.5 59.9 232.1 60.5 231.8 61.0 231.4 61.4 230.7 61.9 230.2 62.1 229.3 62.3 228.9 62.4 228.0 62.7 227.5 62.9 227.0 63.2 226.5 63.7 225.9 64.1 225.3 64.6 224.8 64.9 224.4 65.3 223.9 65.6 223.5 66.0 222.8 66.4 222.1 66.6 221.2 66.6 220.5 66.4 219.9 66.1 219.4 65.7 219.0 65.2 218.5 64.7 218.2 64.1 218.0 63.7 217.6 62.9 217.5 62.3 217.3 61.4 217.2 61.0 217.0 60.1 217.0 59.2 217.0 58.3 217.0 57.4 217.0 56.5 217.2 55.8 217.4 55.1 217.6 54.5 218.0 53.8 218.2 53.3 218.5 52.6 219.0 52.0 219.4 51.5 219.9 51.1 220.3 50.9 220.8 50.6 220.8 50.6Z M277.4 52.9 277.9 52.8 278.8 52.6 279.7 52.5 280.6 52.7 281.1 53.0 281.2 53.8 281.0 54.2 280.6 54.9 280.2 55.5 279.7 56.0 279.3 56.5 278.8 56.9 278.4 57.3 277.9 57.7 277.5 58.0 277.0 58.4 276.6 58.8 276.1 59.2 275.6 59.6 275.1 60.1 274.6 60.5 274.0 61.0 273.4 61.4 273.0 61.8 272.5 62.3 272.1 62.7 271.6 63.1 271.2 63.5 270.7 63.9 270.3 64.3 269.8 64.7 269.4 65.1 268.9 65.5 268.5 65.9 268.0 66.4 267.5 66.8 267.0 67.3 266.5 67.7 265.9 68.2 265.5 68.6 265.0 69.1 264.5 69.5 264.0 70.0 263.5 70.4 263.1 70.7 262.6 71.1 262.2 71.5 261.7 71.9 261.3 72.3 260.8 72.7 260.3 73.1 259.7 73.6 259.2 74.0 258.7 74.5 258.2 74.9 257.7 75.4 257.2 75.8 256.8 76.2 256.3 76.6 255.9 76.9 255.4 77.3 255.0 77.7 254.4 78.1 253.8 78.5 253.2 79.0 252.7 79.4 252.3 79.8 251.8 80.2 251.4 80.5 250.9 80.9 250.5 81.3 250.0 81.7 249.4 82.1 249.0 82.6 248.7 83.0 248.2 83.6 247.8 84.1 247.3 84.5 246.9 85.0 246.4 85.6 246.3 86.2 246.1 87.1 246.0 87.6 245.6 88.4 245.2 88.9 244.6 89.3 244.2 89.5 243.3 89.6 242.4 89.5 241.9 89.3 241.4 88.9 241.0 88.4 240.6 87.5 240.4 87.1 240.1 86.6 239.7 85.7 239.5 85.3 239.2 84.5 239.2 84.2 239.4 83.5 239.5 82.6 239.7 82.1 240.1 81.5 240.6 80.9 240.8 80.3 240.9 79.4 240.9 78.5 241.0 77.6 241.0 76.7 241.0 75.8 240.9 74.9 240.7 74.0 240.6 73.6 240.5 72.7 240.5 71.8 240.5 70.9 240.5 70.0 240.6 69.1 240.7 68.6 240.9 67.7 241.1 67.3 241.5 66.4 241.7 65.9 242.0 65.5 242.4 65.0 242.9 64.6 243.6 64.1 244.2 63.8 244.6 63.6 245.3 63.2 246.0 62.9 246.4 62.7 247.3 62.3 247.8 62.2 248.6 61.9 249.1 61.7 249.9 61.4 250.5 61.2 251.0 61.0 251.8 60.6 252.3 60.5 253.2 60.2 253.8 60.1 254.5 59.8 255.0 59.6 255.9 59.4 256.6 59.2 257.2 59.0 258.1 58.8 258.6 58.6 259.5 58.3 259.9 58.2 260.8 58.0 261.3 57.8 262.2 57.6 262.8 57.4 263.5 57.2 264.3 56.9 264.9 56.7 265.6 56.5 266.2 56.3 267.1 56.1 267.6 56.0 268.5 55.7 268.9 55.5 269.8 55.2 270.3 55.0 271.2 54.7 271.6 54.6 272.5 54.3 273.0 54.2 273.9 53.9 274.3 53.8 275.2 53.5 275.8 53.3 276.6 53.1 277.4 52.9 277.4 52.9Z M217.6 98.3 218.1 98.3 219.0 98.2 219.9 98.2 220.8 98.2 221.7 98.3 222.6 98.3 223.5 98.3 224.4 98.3 224.8 98.4 224.9 99.2 224.6 99.7 224.3 100.1 223.8 100.6 223.2 101.0 222.6 101.4 222.1 101.6 221.3 101.9 220.8 102.1 219.9 102.2 219.0 102.3 218.1 102.4 217.2 102.3 216.3 102.2 215.4 102.0 214.9 101.8 214.2 101.5 213.7 101.0 213.4 100.6 213.6 99.9 214.0 99.4 214.5 99.1 215.4 98.8 215.8 98.6 216.7 98.5 217.6 98.3 217.6 98.3Z" fill="#000" fill-opacity="0.8" stroke="none"/>
<path clip-path="url(#c1)" d="M211.8 97.8 212.7 97.5 213.1 97.3 214.0 97.1 214.7 97.0 215.4 96.8 216.3 96.7 217.1 96.5 217.6 96.4 218.5 96.2 219.2 96.1 219.9 95.9 220.6 95.6 221.2 95.4 221.8 95.2 222.6 94.9 223.0 94.7 223.8 94.3 224.4 93.9 224.7 93.4 224.4 92.8 223.9 92.4 223.5 92.0 223.0 91.6 222.4 91.1 221.9 90.7 221.3 90.2 220.8 89.8 220.3 89.4 220.0 88.9 219.6 88.4 219.3 88.0 219.0 87.5 218.5 86.9 218.2 86.2 218.0 85.7 217.8 84.8 217.6 84.1 217.6 83.5 217.6 82.9 217.9 82.1 218.1 81.7 218.6 81.2 219.4 80.8 219.9 80.6 220.6 80.3 221.2 80.1 221.7 79.9 222.6 79.5 223.0 79.2 223.5 78.8 223.9 78.1 224.2 77.6 224.3 76.7 224.3 75.8 224.1 74.9 223.7 74.5 223.0 74.2 222.1 74.1 221.7 74.0 220.8 73.8 220.3 73.6 219.4 73.3 219.0 73.0 218.5 72.7 217.9 72.2 217.5 71.8 217.0 71.3 216.6 70.9 216.2 70.4 215.8 69.9 215.4 69.1 215.1 68.6 214.9 68.2 214.5 67.3 214.4 66.8 214.0 66.0 213.9 65.5 213.7 64.6 213.6 64.1 213.4 63.2 213.3 62.3 213.1 61.5 213.1 61.0 213.1 60.1 213.0 59.2 213.0 58.3 213.1 57.4 213.1 56.5 213.2 56.0 213.3 55.1 213.4 54.2 213.6 53.5 213.7 52.9 214.0 52.0 214.2 51.5 214.5 50.6 214.6 50.2 214.9 49.5 215.3 48.8 215.6 48.4 215.9 47.9 216.3 47.4 216.7 46.8 217.2 46.4 217.6 46.0 218.1 45.6 218.6 45.2 219.4 44.8 219.9 44.6 220.7 44.3 221.2 44.2 222.1 44.1 223.0 44.1 223.9 44.2 224.8 44.3 225.3 44.4 226.2 44.6 227.1 44.8 227.5 44.9 228.4 45.1 229.0 45.2 229.8 45.5 230.4 45.7 231.1 46.0 231.6 46.2 232.4 46.6 232.9 46.9 233.4 47.2 233.8 47.5 234.4 47.9 234.9 48.4 235.4 48.8 235.8 49.3 236.2 49.7 236.6 50.2 237.0 50.8 237.4 51.5 237.8 52.0 238.1 52.4 238.4 52.9 238.8 53.5 239.2 54.1 239.7 54.5 240.1 54.9 240.6 55.2 241.5 55.5 241.9 55.6 242.8 55.6 243.3 55.6 244.2 55.4 245.1 55.2 245.6 55.1 246.4 55.0 247.3 54.8 248.2 54.7 248.7 54.6 249.6 54.4 250.5 54.3 250.9 54.2 251.8 54.1 252.7 53.9 253.3 53.8 254.1 53.6 255.0 53.5 255.9 53.4 256.3 53.3 257.2 53.1 258.1 53.0 258.9 52.9 259.5 52.8 260.4 52.6 261.3 52.5 261.7 52.4 262.6 52.2 263.5 52.0 264.0 52.0 264.9 51.8 265.8 51.6 266.3 51.5 267.1 51.4 268.0 51.2 268.8 51.1 269.4 51.0 270.3 50.8 271.2 50.7 271.6 50.6 272.5 50.4 273.4 50.2 273.9 50.1 274.8 50.0 275.7 49.8 276.1 49.7 277.0 49.5 277.9 49.4 278.4 49.3 279.3 49.1 280.2 49.0 281.1 48.9 281.5 48.8 282.4 48.7 283.3 48.7 284.2 48.8 284.7 48.9 285.6 49.2 286.0 49.4 286.5 49.8 286.9 50.5 287.1 51.1 287.1 52.0 286.9 52.4 286.6 53.3 286.3 53.8 286.0 54.2 285.6 54.8 285.1 55.3 284.7 55.8 284.2 56.3 283.8 56.8 283.3 57.3 282.9 57.8 282.4 58.2 282.0 58.7 281.5 59.1 281.1 59.6 280.6 60.1 280.2 60.5 279.8 61.0 279.4 61.4 279.0 61.9 278.6 62.3 278.2 62.8 277.7 63.2 277.3 63.7 276.9 64.1 276.5 64.6 276.1 65.0 275.6 65.5 275.2 65.9 274.8 66.4 274.3 66.9 273.9 67.4 273.4 67.9 273.0 68.4 272.5 68.8 272.1 69.3 271.6 69.8 271.2 70.3 270.7 70.8 270.3 71.3 269.9 71.8 269.5 72.2 269.1 72.7 268.8 73.1 268.4 73.6 268.0 74.0 267.5 74.5 267.1 74.9 266.7 75.4 266.2 75.9 265.8 76.5 265.3 77.0 264.9 77.4 264.4 77.9 264.0 78.5 263.5 79.0 263.1 79.4 262.7 79.9 262.2 80.3 261.8 80.8 261.4 81.2 261.0 81.7 260.5 82.1 260.1 82.6 259.7 83.0 259.3 83.5 258.9 83.9 258.5 84.4 258.1 84.9 257.7 85.5 257.2 86.1 256.8 86.6 256.5 87.1 256.3 87.5 255.9 88.2 255.5 88.9 255.3 89.3 255.0 90.2 254.8 90.7 254.5 91.3 254.3 92.0 254.1 92.5 253.7 93.4 253.5 93.8 253.2 94.4 252.7 95.1 252.4 95.6 252.1 96.1 251.8 96.6 251.4 97.3 250.9 97.9 250.5 98.3 250.0 98.8 249.6 99.1 249.1 99.4 248.6 99.7 247.8 100.1 247.3 100.3 246.6 100.6 246.0 100.7 245.1 100.8 244.2 100.8 243.3 100.8 242.4 100.7 241.9 100.6 241.0 100.3 240.5 100.1 239.7 99.9 239.2 99.7 238.3 99.4 237.9 99.2 237.0 99.0 236.1 98.9 235.2 98.8 234.3 99.0 233.4 99.2 232.9 99.4 232.2 99.7 231.6 100.0 231.1 100.2 230.2 100.6 229.8 100.8 229.3 101.0 228.4 101.4 228.0 101.7 227.4 101.9 226.6 102.3 226.2 102.5 225.3 102.8 224.8 103.0 224.0 103.3 223.5 103.5 222.6 103.7 222.1 103.8 221.2 103.9 220.3 104.1 219.4 104.1 218.5 104.1 217.6 104.1 216.7 104.1 215.8 104.1 214.9 103.9 214.1 103.7 213.6 103.6 212.7 103.3 212.2 103.2 211.8 103.0 M211.8 98.2 212.6 97.9 213.1 97.7 214.0 97.5 214.5 97.4 215.4 97.2 216.3 97.0 216.7 96.9 217.6 96.8 218.5 96.6 219.0 96.5 219.9 96.3 220.7 96.1 221.2 95.9 222.0 95.6 222.6 95.4 223.2 95.2 223.9 94.9 224.4 94.7 225.3 94.4 225.7 94.1 226.2 93.8 226.4 92.9 226.0 92.5 225.5 92.0 224.9 91.6 224.4 91.2 223.9 90.8 223.5 90.4 223.0 90.0 222.6 89.7 222.1 89.3 221.7 88.8 221.2 88.2 220.8 87.5 220.5 87.1 220.3 86.6 220.0 85.7 219.9 85.3 219.9 84.6 220.1 83.9 220.3 83.4 220.8 82.9 221.2 82.5 221.7 82.1 222.4 81.7 223.0 81.4 223.5 81.2 224.4 80.8 224.8 80.4 225.3 80.0 225.7 79.4 225.9 79.0 226.2 78.4 226.4 77.6 226.6 76.7 226.7 76.3 226.9 75.4 227.1 74.7 227.4 74.0 227.7 73.6 228.0 73.1 228.4 72.5 228.9 72.1 229.3 71.7 229.9 71.3 230.3 70.9 230.8 70.4 231.1 70.0 231.1 69.3 230.7 69.0 229.8 68.8 228.9 69.0 228.4 69.2 227.9 69.5 227.3 70.0 226.8 70.4 226.3 70.9 225.7 71.3 225.3 71.6 224.8 71.8 223.9 72.1 223.4 72.2 222.6 72.4 221.7 72.5 220.8 72.4 220.3 72.2 219.4 72.0 219.0 71.7 218.5 71.3 218.0 70.9 217.5 70.4 217.0 70.0 216.6 69.5 216.3 69.1 215.8 68.3 215.6 67.7 215.4 67.3 215.0 66.4 214.8 65.9 214.5 65.0 214.4 64.6 214.2 63.7 214.0 62.9 213.9 62.3 213.8 61.4 213.7 60.5 213.7 59.6 213.7 58.7 213.7 57.8 213.7 56.9 213.8 56.0 214.0 55.1 214.1 54.7 214.2 53.8 214.5 52.9 214.6 52.4 214.9 51.5 215.1 51.1 215.4 50.3 215.7 49.7 216.0 49.3 216.3 48.8 216.7 48.2 217.2 47.6 217.6 47.2 218.1 46.8 218.5 46.4 219.0 46.1 219.9 45.7 220.3 45.5 221.2 45.3 221.7 45.2 222.6 45.2 223.5 45.2 223.9 45.3 224.8 45.4 225.7 45.6 226.4 45.7 227.1 45.8 228.0 46.0 228.6 46.1 229.3 46.4 230.0 46.6 230.7 46.9 231.1 47.1 232.0 47.5 232.5 47.8 232.9 48.1 233.4 48.4 234.0 48.8 234.5 49.3 235.0 49.7 235.4 50.2 235.7 50.6 236.1 51.1 236.5 51.8 237.0 52.4 237.2 52.9 237.5 53.3 237.9 54.1 238.3 54.7 238.6 55.1 239.0 55.6 239.3 56.0 239.8 56.5 240.6 56.9 241.0 57.0 241.9 57.1 242.8 57.1 243.4 56.9 244.2 56.7 244.8 56.5 245.5 56.3 246.4 56.1 247.0 56.0 247.8 55.9 248.7 55.8 249.4 55.6 250.0 55.5 250.9 55.3 251.7 55.1 252.3 55.0 253.2 54.8 253.8 54.7 254.5 54.6 255.4 54.4 256.3 54.3 256.8 54.2 257.7 54.0 258.6 53.9 259.1 53.8 259.9 53.6 260.8 53.4 261.3 53.3 262.2 53.1 263.1 53.0 263.6 52.9 264.4 52.7 265.3 52.5 265.8 52.4 266.7 52.2 267.6 52.1 268.0 52.0 268.9 51.8 269.8 51.6 270.3 51.5 271.2 51.3 272.1 51.2 272.5 51.0 273.4 50.8 274.3 50.7 274.8 50.6 275.7 50.4 276.5 50.2 277.0 50.1 277.9 49.9 278.8 49.8 279.3 49.7 280.2 49.5 281.1 49.4 282.0 49.3 282.9 49.3 283.8 49.4 284.7 49.6 285.1 49.9 285.6 50.2 286.0 50.9 286.3 51.5 286.2 52.4 286.0 52.9 285.6 53.7 285.3 54.2 285.0 54.7 284.6 55.1 284.2 55.6 283.8 56.0 283.3 56.6 282.9 57.0 282.4 57.5 282.0 57.9 281.5 58.3 281.1 58.8 280.6 59.2 280.2 59.7 279.7 60.2 279.3 60.6 278.8 61.1 278.4 61.5 277.9 62.0 277.5 62.5 277.0 63.0 276.6 63.5 276.1 63.9 275.7 64.4 275.2 64.9 274.8 65.4 274.3 65.8 273.9 66.3 273.4 66.7 273.0 67.2 272.5 67.7 272.1 68.1 271.6 68.6 271.2 69.0 270.7 69.5 270.4 70.0 270.0 70.4 269.6 70.9 269.1 71.3 268.7 71.8 268.3 72.2 267.9 72.7 267.5 73.1 267.0 73.6 266.6 74.0 266.2 74.5 265.8 74.9 265.3 75.4 264.9 75.9 264.4 76.4 264.0 76.9 263.5 77.3 263.1 77.8 262.6 78.3 262.2 78.8 261.7 79.3 261.3 79.7 260.8 80.2 260.4 80.7 259.9 81.2 259.5 81.6 259.0 82.1 258.6 82.6 258.1 83.0 257.7 83.5 257.3 83.9 256.9 84.4 256.6 84.8 256.2 85.3 255.9 85.8 255.4 86.5 255.1 87.1 254.9 87.5 254.5 88.1 254.2 88.9 254.0 89.3 253.6 90.2 253.5 90.7 253.2 91.5 253.0 92.0 252.7 92.6 252.3 93.4 252.0 93.8 251.7 94.3 251.4 94.8 250.9 95.5 250.6 96.1 250.3 96.5 249.9 97.0 249.4 97.4 248.8 97.9 248.2 98.2 247.8 98.5 247.3 98.8 246.4 99.2 246.0 99.4 245.1 99.5 244.2 99.5 243.3 99.4 242.4 99.3 241.9 99.2 241.0 99.0 240.5 98.8 239.7 98.5 239.1 98.3 238.3 98.2 237.4 98.0 237.0 97.9 236.1 97.7 235.2 97.8 234.7 98.0 233.8 98.3 233.4 98.5 232.8 98.8 232.0 99.1 231.6 99.4 230.9 99.7 230.2 100.0 229.8 100.2 229.0 100.6 228.4 100.9 228.0 101.1 227.2 101.5 226.6 101.8 226.2 102.0 225.3 102.4 224.8 102.6 224.2 102.8 223.5 103.1 222.7 103.3 222.1 103.4 221.2 103.6 220.3 103.7 219.9 103.8 219.0 103.8 218.1 103.8 217.2 103.8 216.4 103.7 215.8 103.7 214.9 103.6 214.0 103.4 213.6 103.3 212.7 102.9 212.2 102.7 211.8 102.5 M211.8 98.7 212.4 98.3 213.1 98.0 213.6 97.9 214.5 97.6 215.4 97.5 215.8 97.3 216.7 97.2 217.6 97.1 218.1 97.0 219.0 96.8 219.9 96.7 220.6 96.5 221.2 96.3 222.0 96.1 222.6 95.9 223.3 95.6 223.9 95.4 224.7 95.2 225.3 95.0 226.1 94.7 226.6 94.5 227.3 94.3 228.0 93.9 228.4 93.4 228.0 92.6 227.5 92.1 227.1 91.8 226.6 91.5 226.2 91.1 225.6 90.7 225.1 90.2 224.6 89.8 224.2 89.3 223.8 88.9 223.4 88.4 223.0 88.0 222.6 87.2 222.4 86.6 222.2 85.7 222.3 84.8 222.6 84.2 223.0 83.8 223.5 83.5 224.4 83.0 224.8 82.8 225.3 82.6 226.0 82.1 226.6 81.7 227.0 81.2 227.3 80.8 227.5 80.1 227.7 79.4 227.8 78.5 228.0 77.7 228.1 77.2 228.3 76.3 228.4 75.8 228.8 74.9 229.2 74.5 229.7 74.0 230.2 73.6 230.7 73.2 231.1 72.9 231.6 72.6 232.1 72.2 232.9 71.9 233.4 71.6 233.8 71.3 234.3 70.8 234.6 70.0 234.7 69.1 234.7 68.2 234.3 67.5 233.8 67.1 233.0 66.8 232.5 66.8 231.6 66.8 231.1 66.9 230.2 67.0 229.3 67.3 228.9 67.4 228.1 67.7 227.5 68.1 227.1 68.4 226.6 68.8 226.2 69.1 225.7 69.5 225.2 70.0 224.6 70.4 223.9 70.9 223.5 71.0 222.6 71.3 221.7 71.3 220.8 71.3 219.9 71.1 219.4 70.9 218.8 70.4 218.2 70.0 217.7 69.5 217.3 69.1 216.9 68.6 216.6 68.2 216.3 67.7 215.9 66.8 215.7 66.4 215.4 65.7 215.2 65.0 214.9 64.3 214.8 63.7 214.6 62.8 214.5 62.1 214.4 61.4 214.3 60.5 214.2 59.6 214.2 58.7 214.3 57.8 214.3 56.9 214.4 56.0 214.5 55.6 214.6 54.7 214.8 53.8 214.9 53.3 215.2 52.4 215.4 52.0 215.8 51.1 216.0 50.6 216.3 50.0 216.7 49.3 217.1 48.8 217.5 48.4 218.0 47.9 218.5 47.5 219.0 47.2 219.4 46.9 220.0 46.6 220.8 46.3 221.7 46.2 222.1 46.1 223.0 46.1 223.7 46.1 224.4 46.2 225.3 46.4 226.2 46.5 226.7 46.6 227.5 46.7 228.4 46.9 228.9 47.1 229.8 47.4 230.2 47.6 231.1 47.9 231.6 48.2 232.0 48.5 232.7 48.8 233.3 49.3 233.8 49.7 234.3 50.2 234.7 50.6 235.1 51.1 235.5 51.5 235.8 52.0 236.1 52.6 236.5 53.3 236.7 53.8 237.0 54.4 237.4 55.1 237.7 55.6 238.0 56.0 238.3 56.7 238.8 57.3 239.2 57.8 239.7 58.1 240.1 58.3 241.0 58.4 241.9 58.4 242.8 58.3 243.3 58.2 244.2 57.9 244.6 57.7 245.5 57.4 246.0 57.3 246.9 57.1 247.8 57.0 248.2 56.9 249.1 56.7 249.9 56.5 250.5 56.4 251.4 56.1 251.8 56.0 252.7 55.8 253.6 55.6 254.1 55.5 255.0 55.4 255.9 55.2 256.3 55.1 257.2 54.9 258.1 54.7 258.6 54.6 259.5 54.5 260.4 54.3 260.8 54.2 261.7 54.0 262.6 53.8 263.1 53.7 264.0 53.5 264.7 53.3 265.3 53.2 266.2 53.0 266.8 52.9 267.6 52.7 268.5 52.5 268.9 52.4 269.8 52.2 270.7 52.0 271.2 51.9 272.1 51.7 272.8 51.5 273.4 51.4 274.3 51.2 274.8 51.1 275.7 50.9 276.6 50.7 277.0 50.5 277.9 50.4 278.8 50.2 279.3 50.1 280.2 49.9 281.1 49.8 282.0 49.8 282.9 49.8 283.8 50.0 284.3 50.2 284.9 50.6 285.3 51.1 285.5 52.0 285.4 52.9 285.1 53.4 284.7 54.2 284.3 54.7 284.0 55.1 283.6 55.6 283.2 56.0 282.8 56.5 282.3 56.9 281.9 57.4 281.4 57.8 280.9 58.3 280.5 58.7 280.0 59.2 279.6 59.6 279.1 60.1 278.6 60.5 278.1 61.0 277.7 61.4 277.3 61.9 276.8 62.3 276.4 62.8 276.0 63.2 275.6 63.7 275.1 64.1 274.7 64.6 274.2 65.0 273.8 65.5 273.3 65.9 272.8 66.4 272.4 66.8 271.9 67.3 271.5 67.7 271.0 68.2 270.6 68.6 270.2 69.1 269.8 69.5 269.4 70.0 268.9 70.4 268.5 70.9 268.0 71.3 267.6 71.8 267.1 72.3 266.7 72.7 266.2 73.2 265.8 73.6 265.3 74.2 264.9 74.7 264.4 75.1 264.0 75.6 263.5 76.0 263.1 76.5 262.6 77.0 262.2 77.5 261.7 77.9 261.3 78.4 260.8 78.8 260.4 79.3 259.9 79.8 259.5 80.2 259.0 80.7 258.6 81.2 258.1 81.6 257.7 82.0 257.2 82.5 256.8 83.0 256.3 83.4 255.9 83.9 255.5 84.4 255.2 84.8 254.9 85.3 254.5 85.8 254.1 86.6 253.9 87.1 253.6 87.5 253.2 88.4 253.0 88.9 252.7 89.4 252.5 90.2 252.3 90.7 252.0 91.6 251.7 92.0 251.4 92.6 250.9 93.4 250.7 93.8 250.4 94.3 250.0 94.8 249.6 95.5 249.1 96.1 248.7 96.4 248.2 96.7 247.8 97.0 247.0 97.4 246.4 97.8 246.0 98.0 245.1 98.2 244.2 98.3 243.3 98.2 242.4 98.0 241.9 97.9 241.0 97.7 240.3 97.4 239.7 97.3 238.8 97.1 238.2 97.0 237.4 96.8 236.5 96.7 235.6 96.7 234.7 97.0 234.3 97.2 233.8 97.4 233.0 97.9 232.5 98.2 232.0 98.5 231.5 98.8 230.7 99.2 230.2 99.5 229.8 99.7 228.9 100.1 228.4 100.4 228.0 100.6 227.2 101.0 226.6 101.3 226.2 101.6 225.5 101.9 224.8 102.3 224.4 102.4 223.5 102.8 223.0 102.9 222.1 103.2 221.3 103.3 220.8 103.4 219.9 103.5 219.0 103.6 218.1 103.6 217.2 103.6 216.3 103.5 215.4 103.4 214.9 103.3 214.0 103.1 213.4 102.8 212.7 102.6 212.2 102.3 211.8 102.1 M211.8 99.1 212.2 98.7 213.0 98.3 213.6 98.1 214.4 97.9 214.9 97.7 215.8 97.6 216.6 97.4 217.2 97.3 218.1 97.2 219.0 97.1 219.8 97.0 220.3 96.9 221.2 96.7 221.7 96.5 222.6 96.3 223.1 96.1 223.9 95.8 224.4 95.6 225.3 95.4 226.1 95.2 226.6 95.0 227.5 94.8 228.0 94.7 228.9 94.4 229.3 94.2 229.9 93.8 230.1 92.9 229.7 92.5 229.1 92.0 228.5 91.6 228.0 91.2 227.5 90.8 227.1 90.5 226.6 90.1 226.2 89.8 225.7 89.3 225.3 88.9 224.8 88.3 224.5 87.5 224.3 87.1 224.3 86.2 224.4 85.7 224.8 85.0 225.3 84.6 225.7 84.3 226.4 83.9 227.1 83.6 227.5 83.2 228.0 82.7 228.3 82.1 228.5 81.7 228.8 80.8 228.9 80.1 229.0 79.4 229.0 78.5 229.2 77.6 229.4 77.2 229.8 76.5 230.2 75.8 230.5 75.4 230.8 74.9 231.3 74.5 231.8 74.0 232.5 73.6 232.9 73.4 233.6 73.1 234.3 72.8 234.7 72.4 235.2 71.9 235.5 71.3 235.6 70.8 235.7 70.0 235.8 69.1 235.9 68.2 235.9 67.3 235.6 66.7 235.2 66.2 234.7 65.8 233.8 65.6 232.9 65.6 232.0 65.8 231.2 65.9 230.7 66.1 229.8 66.3 229.3 66.4 228.4 66.8 228.0 66.9 227.4 67.3 226.7 67.7 226.2 68.1 225.7 68.5 225.3 68.9 224.8 69.3 224.4 69.6 223.8 70.0 223.0 70.4 222.6 70.5 221.7 70.6 220.8 70.5 220.3 70.4 219.4 70.0 219.0 69.8 218.5 69.4 218.1 69.1 217.6 68.6 217.2 68.0 216.7 67.3 216.5 66.8 216.2 66.4 215.8 65.5 215.7 65.0 215.4 64.2 215.3 63.7 215.1 62.8 214.9 62.2 214.8 61.4 214.7 60.5 214.7 59.6 214.7 58.7 214.7 57.8 214.8 56.9 214.9 56.0 214.9 55.6 215.1 54.7 215.3 53.8 215.4 53.3 215.7 52.4 215.9 52.0 216.3 51.1 216.5 50.6 216.8 50.2 217.2 49.6 217.6 49.1 218.1 48.6 218.5 48.3 219.0 47.9 219.7 47.5 220.3 47.2 220.8 47.0 221.7 46.8 222.6 46.7 223.5 46.8 224.4 46.9 225.3 47.0 225.7 47.1 226.6 47.2 227.5 47.4 228.2 47.5 228.9 47.7 229.6 47.9 230.2 48.2 230.7 48.5 231.5 48.8 232.0 49.1 232.5 49.4 233.0 49.7 233.5 50.2 233.9 50.6 234.4 51.1 234.7 51.6 235.2 52.2 235.6 52.9 235.8 53.3 236.1 54.0 236.4 54.7 236.6 55.1 237.0 55.9 237.3 56.5 237.6 56.9 237.9 57.8 238.1 58.3 238.4 58.7 238.8 59.2 239.7 59.6 240.6 59.6 241.5 59.4 242.4 59.3 242.9 59.2 243.7 59.0 244.6 58.7 245.1 58.5 245.6 58.3 246.4 58.0 247.1 57.8 247.8 57.7 248.7 57.6 249.5 57.4 250.0 57.3 250.9 57.0 251.4 56.9 252.3 56.6 252.8 56.5 253.6 56.3 254.5 56.1 255.0 56.0 255.9 55.9 256.8 55.7 257.2 55.6 258.1 55.3 259.0 55.1 259.5 55.0 260.4 54.8 261.1 54.7 261.7 54.5 262.6 54.3 263.1 54.2 264.0 54.0 264.9 53.8 265.3 53.7 266.2 53.5 267.1 53.3 267.6 53.2 268.5 53.0 268.9 52.9 269.8 52.7 270.7 52.5 271.2 52.4 272.1 52.1 272.6 52.0 273.4 51.8 274.3 51.6 274.8 51.5 275.7 51.3 276.3 51.1 277.0 50.9 277.9 50.7 278.4 50.6 279.3 50.5 280.2 50.3 281.1 50.2 281.5 50.2 282.4 50.2 282.9 50.3 283.8 50.6 284.2 50.9 284.7 51.4 284.9 52.0 284.8 52.9 284.7 53.3 284.2 54.1 283.8 54.7 283.5 55.1 283.1 55.6 282.7 56.0 282.3 56.5 281.8 56.9 281.3 57.4 280.9 57.8 280.4 58.3 279.9 58.7 279.5 59.2 279.0 59.6 278.5 60.1 278.0 60.5 277.5 61.0 277.1 61.4 276.7 61.9 276.2 62.3 275.8 62.8 275.4 63.2 274.9 63.7 274.5 64.1 274.0 64.6 273.5 65.0 273.0 65.5 272.5 65.9 272.1 66.4 271.6 66.8 271.2 67.3 270.7 67.7 270.3 68.1 269.8 68.6 269.4 69.1 269.0 69.5 268.6 70.0 268.1 70.4 267.6 70.9 267.1 71.3 266.7 71.8 266.3 72.2 265.8 72.7 265.4 73.1 265.0 73.6 264.5 74.0 264.1 74.5 263.7 74.9 263.2 75.4 262.8 75.8 262.4 76.3 261.9 76.7 261.5 77.2 261.0 77.6 260.6 78.1 260.1 78.5 259.7 79.0 259.3 79.4 258.8 79.9 258.3 80.3 257.8 80.8 257.4 81.2 256.9 81.7 256.5 82.1 256.0 82.6 255.5 83.0 255.1 83.5 254.7 83.9 254.4 84.4 254.1 84.8 253.6 85.6 253.3 86.2 253.1 86.6 252.7 87.5 252.5 88.0 252.3 88.4 251.8 89.3 251.7 89.8 251.4 90.6 251.2 91.1 250.9 91.6 250.5 92.4 250.2 92.9 249.9 93.4 249.6 93.9 249.1 94.5 248.7 95.0 248.2 95.5 247.8 95.8 247.3 96.1 246.5 96.5 246.0 96.8 245.2 97.0 244.6 97.1 243.7 97.2 242.8 97.1 242.2 97.0 241.5 96.8 240.7 96.5 240.1 96.4 239.2 96.2 238.6 96.1 237.9 96.0 237.0 95.8 236.5 95.6 235.6 95.5 235.0 95.6 234.3 96.0 233.8 96.4 233.4 96.8 232.9 97.1 232.5 97.5 232.0 97.9 231.3 98.3 230.7 98.7 230.2 99.0 229.8 99.2 229.0 99.7 228.4 100.0 228.0 100.2 227.3 100.6 226.6 101.0 226.2 101.2 225.7 101.5 224.8 101.9 224.4 102.2 223.8 102.4 223.0 102.7 222.4 102.8 221.7 103.0 220.8 103.2 219.9 103.3 219.4 103.3 218.5 103.4 217.6 103.4 216.7 103.3 216.3 103.3 215.4 103.2 214.5 103.0 214.0 102.8 213.1 102.5 212.7 102.3 212.2 101.9 211.8 101.7 M221.6 47.5 222.1 47.4 223.0 47.4 223.9 47.4 224.5 47.5 225.3 47.6 226.2 47.7 227.1 47.9 227.5 48.0 228.4 48.2 229.1 48.4 229.8 48.7 230.2 48.9 231.1 49.3 231.6 49.5 232.0 49.8 232.6 50.2 233.1 50.6 233.6 51.1 234.0 51.5 234.3 52.0 234.7 52.7 235.1 53.3 235.3 53.8 235.6 54.6 235.9 55.1 236.1 55.6 236.5 56.5 236.7 56.9 236.9 57.8 237.0 58.3 237.1 59.2 237.3 60.1 237.5 60.5 237.9 61.1 238.8 61.3 239.7 61.1 240.1 60.9 241.0 60.6 241.5 60.5 242.4 60.2 242.8 60.1 243.7 59.8 244.5 59.6 245.1 59.5 245.7 59.2 246.4 58.9 246.9 58.7 247.8 58.5 248.7 58.3 249.1 58.2 250.0 58.0 250.6 57.8 251.4 57.6 252.1 57.4 252.7 57.2 253.6 57.0 254.1 56.9 255.0 56.7 255.9 56.5 256.3 56.4 257.2 56.2 257.9 56.0 258.6 55.8 259.5 55.6 259.9 55.5 260.8 55.3 261.6 55.1 262.2 55.0 263.1 54.8 263.5 54.7 264.4 54.4 265.3 54.2 265.8 54.1 266.7 53.9 267.3 53.8 268.0 53.6 268.9 53.4 269.4 53.2 270.3 53.0 270.8 52.9 271.6 52.7 272.5 52.4 273.0 52.3 273.9 52.1 274.3 52.0 275.2 51.7 276.1 51.5 276.6 51.4 277.5 51.2 277.9 51.1 278.8 50.9 279.7 50.7 280.2 50.6 281.1 50.5 282.0 50.6 282.5 50.6 283.3 51.0 283.8 51.3 284.2 52.0 284.3 52.4 284.2 53.0 283.9 53.8 283.6 54.2 283.3 54.7 282.9 55.2 282.4 55.7 282.0 56.2 281.5 56.7 281.1 57.1 280.6 57.6 280.2 58.0 279.7 58.4 279.3 58.9 278.8 59.3 278.4 59.6 277.8 60.1 277.4 60.5 276.9 61.0 276.5 61.4 276.1 61.9 275.7 62.3 275.2 62.8 274.7 63.2 274.3 63.7 273.8 64.1 273.3 64.6 272.8 65.0 272.3 65.5 271.8 65.9 271.4 66.4 270.9 66.8 270.4 67.3 270.0 67.7 269.5 68.2 269.1 68.6 268.7 69.1 268.2 69.5 267.7 70.0 267.2 70.4 266.7 70.9 266.3 71.3 265.9 71.8 265.4 72.2 264.9 72.7 264.5 73.1 264.1 73.6 263.6 74.0 263.2 74.5 262.8 74.9 262.3 75.4 261.9 75.8 261.5 76.3 261.0 76.7 260.5 77.2 260.1 77.6 259.6 78.1 259.2 78.5 258.7 79.0 258.2 79.4 257.7 79.9 257.2 80.3 256.8 80.7 256.3 81.2 255.9 81.6 255.4 81.9 255.0 82.4 254.5 82.9 254.1 83.4 253.7 83.9 253.3 84.4 253.0 84.8 252.7 85.3 252.3 86.2 252.2 86.6 251.8 87.4 251.5 88.0 251.3 88.4 250.9 89.3 250.8 89.8 250.5 90.5 250.2 91.1 249.9 91.6 249.6 92.1 249.1 92.8 248.8 93.4 248.5 93.8 248.0 94.3 247.5 94.7 246.9 95.1 246.4 95.4 245.8 95.6 245.1 95.8 244.2 96.0 243.3 96.1 242.4 96.0 241.5 95.7 241.0 95.6 240.1 95.4 239.4 95.2 238.8 95.0 237.9 94.8 237.4 94.6 236.8 94.3 236.1 94.0 235.4 93.8 234.7 93.7 234.2 93.4 233.6 92.9 232.9 92.6 232.5 92.3 232.0 92.0 231.2 91.6 230.7 91.4 230.2 91.1 229.4 90.7 228.9 90.4 228.4 90.1 228.0 89.7 227.5 89.2 227.1 88.5 226.8 88.0 226.6 87.5 226.6 87.1 227.1 86.3 227.5 85.9 228.0 85.6 228.4 85.3 229.1 84.8 229.6 84.4 229.9 83.9 230.2 83.0 230.2 82.1 230.2 81.2 230.2 80.7 230.3 79.9 230.3 79.0 230.6 78.1 230.8 77.6 231.1 77.0 231.6 76.3 231.9 75.8 232.3 75.4 232.9 74.9 233.4 74.7 233.8 74.4 234.7 74.0 235.2 73.8 235.6 73.4 236.1 72.8 236.4 72.2 236.5 71.7 236.7 70.9 236.7 70.0 236.8 69.1 236.9 68.2 237.0 67.4 237.0 66.8 237.0 66.4 236.8 65.5 236.5 64.8 236.1 64.2 235.6 64.1 234.8 64.1 234.3 64.2 233.4 64.5 232.9 64.6 232.0 65.0 231.6 65.1 230.7 65.3 230.0 65.5 229.3 65.7 228.6 65.9 228.0 66.2 227.5 66.4 226.8 66.8 226.2 67.3 225.7 67.7 225.3 68.0 224.8 68.4 224.4 68.7 223.9 69.1 223.1 69.5 222.6 69.7 221.7 69.9 220.8 69.8 220.1 69.5 219.4 69.2 219.0 69.0 218.5 68.6 218.1 68.2 217.6 67.7 217.2 67.0 216.8 66.4 216.6 65.9 216.3 65.3 216.0 64.6 215.8 64.1 215.6 63.2 215.4 62.4 215.3 61.9 215.2 61.0 215.1 60.1 215.1 59.2 215.1 58.3 215.2 57.4 215.2 56.5 215.4 55.6 215.4 55.1 215.6 54.2 215.8 53.5 216.1 52.9 216.3 52.3 216.6 51.5 216.8 51.1 217.2 50.5 217.6 49.9 218.1 49.4 218.5 49.0 219.0 48.7 219.4 48.4 220.2 47.9 220.8 47.7 221.6 47.5 221.6 47.5Z M211.8 99.6 212.2 99.1 212.7 98.8 213.6 98.4 214.0 98.2 214.9 98.0 215.4 97.9 216.3 97.7 217.2 97.5 217.9 97.4 218.5 97.4 219.4 97.3 220.3 97.1 221.2 97.0 221.7 96.9 222.6 96.6 223.0 96.5 223.9 96.2 224.4 96.0 225.3 95.8 225.9 95.6 226.6 95.5 227.5 95.3 228.4 95.2 228.9 95.1 229.8 95.0 230.7 94.9 231.6 95.1 232.0 95.6 232.2 96.1 232.0 96.5 231.6 97.2 231.1 97.7 230.7 98.1 230.2 98.4 229.7 98.8 229.0 99.2 228.4 99.6 228.0 99.8 227.4 100.1 226.6 100.6 226.2 100.8 225.7 101.1 225.1 101.5 224.4 101.9 223.9 102.1 223.1 102.4 222.6 102.6 221.7 102.8 221.2 102.9 220.3 103.1 219.4 103.2 218.5 103.2 217.6 103.2 216.7 103.1 215.8 103.0 215.0 102.8 214.5 102.7 213.6 102.4 213.1 102.2 212.7 101.9 212.1 101.5 211.8 101.1 M220.5 48.4 221.2 48.1 222.1 48.0 223.0 48.0 223.9 48.0 224.8 48.0 225.7 48.1 226.6 48.3 227.1 48.4 228.0 48.6 228.8 48.8 229.3 49.1 229.9 49.3 230.7 49.6 231.1 49.8 231.8 50.2 232.4 50.6 232.9 51.1 233.3 51.5 233.7 52.0 234.0 52.4 234.3 53.0 234.7 53.8 234.9 54.2 235.2 54.9 235.5 55.6 235.7 56.0 235.9 56.9 236.1 57.6 236.2 58.3 236.3 59.2 236.3 60.1 236.1 61.0 235.9 61.4 235.6 61.9 235.2 62.3 234.7 62.8 234.1 63.2 233.4 63.6 232.9 63.8 232.3 64.1 231.6 64.5 231.1 64.6 230.2 64.8 229.5 65.0 228.9 65.2 228.2 65.5 227.5 65.8 227.1 66.0 226.5 66.4 225.9 66.8 225.4 67.3 224.8 67.7 224.4 68.1 223.9 68.4 223.5 68.6 222.6 69.1 222.1 69.2 221.2 69.2 220.7 69.1 219.9 68.8 219.4 68.6 218.9 68.2 218.4 67.7 218.0 67.3 217.6 66.8 217.2 66.2 216.8 65.5 216.6 65.0 216.3 64.2 216.1 63.7 215.9 62.8 215.8 62.3 215.6 61.4 215.5 60.5 215.5 59.6 215.5 58.7 215.5 57.8 215.5 56.9 215.6 56.0 215.8 55.1 215.9 54.7 216.2 53.8 216.3 53.3 216.7 52.4 216.9 52.0 217.2 51.4 217.6 50.6 218.0 50.2 218.5 49.7 219.0 49.3 219.4 49.0 219.9 48.7 220.5 48.4 220.5 48.4Z M279.3 51.1 280.2 50.9 281.1 50.9 282.0 50.9 282.6 51.1 283.3 51.5 283.7 52.0 283.8 52.4 283.8 52.9 283.5 53.8 283.2 54.2 282.9 54.7 282.4 55.2 282.0 55.8 281.5 56.2 281.1 56.7 280.6 57.1 280.2 57.6 279.7 58.0 279.3 58.4 278.8 58.8 278.4 59.2 277.9 59.6 277.3 60.1 276.9 60.5 276.5 61.0 276.0 61.4 275.6 61.9 275.1 62.3 274.6 62.8 274.2 63.2 273.7 63.7 273.2 64.1 272.7 64.6 272.1 65.0 271.7 65.5 271.2 65.9 270.8 66.4 270.3 66.8 269.8 67.3 269.4 67.7 268.9 68.2 268.5 68.6 268.0 69.0 267.6 69.4 267.1 69.8 266.7 70.2 266.2 70.7 265.8 71.2 265.3 71.6 264.9 72.0 264.4 72.4 264.0 72.9 263.5 73.3 263.1 73.8 262.6 74.3 262.2 74.8 261.7 75.2 261.3 75.7 260.8 76.1 260.4 76.5 259.9 76.9 259.5 77.4 259.0 77.8 258.6 78.2 258.1 78.7 257.7 79.1 257.2 79.4 256.8 79.9 256.3 80.3 255.8 80.8 255.2 81.2 254.7 81.7 254.3 82.1 253.9 82.6 253.5 83.0 253.1 83.5 252.7 83.9 252.3 84.5 251.9 85.3 251.7 85.7 251.4 86.4 251.1 87.1 250.8 87.5 250.5 88.3 250.3 88.9 250.0 89.5 249.7 90.2 249.5 90.7 249.1 91.2 248.7 91.9 248.3 92.5 248.0 92.9 247.7 93.4 247.2 93.8 246.6 94.3 246.0 94.6 245.4 94.7 244.6 94.9 243.7 95.0 242.8 95.0 241.9 94.8 241.5 94.7 240.6 94.4 240.1 94.2 239.3 93.8 238.8 93.6 238.2 93.4 237.4 93.0 237.0 92.8 236.5 92.5 235.6 92.1 235.2 91.8 234.7 91.5 234.3 91.0 233.8 90.7 233.0 90.2 232.5 90.0 232.0 89.8 231.1 89.4 230.7 89.2 230.2 88.8 229.8 88.3 229.7 87.5 230.0 87.1 230.7 86.7 231.1 86.5 231.6 86.1 231.8 85.3 231.9 84.4 232.0 83.7 232.2 83.0 232.2 82.1 232.0 81.4 232.0 80.8 231.8 79.9 231.9 79.0 232.0 78.5 232.4 77.6 232.7 77.2 233.0 76.7 233.5 76.3 234.0 75.8 234.6 75.4 235.2 75.0 235.6 74.8 236.2 74.5 236.6 74.0 237.0 73.4 237.2 72.7 237.4 71.8 237.4 71.3 237.5 70.4 237.6 69.5 237.6 68.6 237.7 67.7 237.9 66.8 237.9 66.4 238.1 65.5 238.3 64.6 238.5 64.1 238.8 63.2 239.1 62.8 239.7 62.3 240.1 62.1 240.6 61.9 241.4 61.4 241.9 61.2 242.4 61.0 243.3 60.7 243.7 60.5 244.6 60.3 245.2 60.1 246.0 59.8 246.4 59.6 247.3 59.3 247.8 59.2 248.7 59.0 249.5 58.7 250.0 58.6 250.9 58.4 251.4 58.2 252.3 57.9 252.7 57.8 253.6 57.5 254.1 57.4 255.0 57.2 255.9 57.1 256.4 56.9 257.2 56.7 258.1 56.5 258.6 56.4 259.5 56.2 260.0 56.0 260.8 55.8 261.7 55.6 262.2 55.5 263.1 55.3 263.5 55.1 264.4 54.9 265.1 54.7 265.8 54.6 266.7 54.4 267.1 54.2 268.0 54.0 268.8 53.8 269.4 53.6 270.3 53.4 270.7 53.3 271.6 53.0 272.1 52.9 273.0 52.7 273.8 52.4 274.3 52.3 275.2 52.1 275.7 52.0 276.6 51.7 277.3 51.5 277.9 51.4 278.8 51.2 279.3 51.1 279.3 51.1Z M225.4 96.1 226.2 95.9 227.1 95.8 228.0 95.7 228.9 95.7 229.8 95.8 230.5 96.1 230.8 96.5 230.7 97.0 230.2 97.7 229.8 98.2 229.3 98.5 228.9 98.9 228.3 99.2 227.5 99.7 227.1 99.9 226.6 100.2 226.0 100.6 225.3 101.0 224.8 101.4 224.4 101.6 223.7 101.9 223.0 102.2 222.5 102.4 221.7 102.6 220.8 102.8 220.3 102.9 219.4 103.0 218.5 103.0 217.6 103.0 216.7 103.0 215.9 102.8 215.4 102.8 214.5 102.5 214.0 102.4 213.1 102.0 212.7 101.7 212.2 101.2 211.9 100.6 212.1 99.7 212.5 99.2 213.1 98.8 213.6 98.6 214.3 98.3 214.9 98.1 215.8 97.9 216.3 97.8 217.2 97.7 218.1 97.6 219.0 97.5 219.6 97.4 220.3 97.4 221.2 97.2 222.1 97.1 222.6 97.0 223.5 96.7 223.9 96.5 224.8 96.2 225.4 96.1 225.4 96.1Z M220.9 48.8 221.7 48.6 222.6 48.6 223.5 48.5 224.4 48.6 225.3 48.6 226.2 48.7 226.8 48.8 227.5 49.0 228.4 49.3 228.9 49.4 229.6 49.7 230.2 50.0 230.7 50.2 231.5 50.6 232.0 51.0 232.5 51.5 232.9 52.0 233.3 52.4 233.6 52.9 233.8 53.4 234.3 54.2 234.5 54.7 234.7 55.2 235.1 56.0 235.2 56.8 235.3 57.4 235.5 58.3 235.5 59.2 235.3 60.1 235.2 60.5 234.7 61.3 234.3 61.9 233.8 62.3 233.4 62.7 232.9 63.0 232.5 63.3 231.7 63.7 231.1 63.9 230.4 64.1 229.8 64.3 228.9 64.6 228.4 64.7 227.7 65.0 227.1 65.4 226.6 65.6 226.2 65.9 225.7 66.4 225.1 66.8 224.6 67.3 223.9 67.7 223.5 68.0 223.0 68.2 222.1 68.5 221.2 68.6 220.3 68.3 219.9 68.2 219.2 67.7 218.7 67.3 218.3 66.8 217.9 66.4 217.6 65.9 217.2 65.3 216.9 64.6 216.7 64.1 216.4 63.2 216.3 62.8 216.1 61.9 215.9 61.0 215.8 60.1 215.8 59.6 215.8 58.9 215.9 58.3 215.9 57.4 215.9 56.5 216.1 55.6 216.3 54.7 216.4 54.2 216.7 53.4 216.9 52.9 217.2 52.3 217.6 51.5 217.9 51.1 218.2 50.6 218.7 50.2 219.3 49.7 219.9 49.3 220.3 49.1 220.9 48.8 220.9 48.8Z M278.7 51.5 279.3 51.4 280.2 51.3 281.1 51.2 282.0 51.3 282.5 51.5 283.0 52.0 283.3 52.9 283.0 53.8 282.7 54.2 282.4 54.7 282.0 55.2 281.5 55.7 281.1 56.2 280.6 56.7 280.2 57.1 279.7 57.6 279.3 58.0 278.8 58.4 278.4 58.8 277.9 59.2 277.3 59.6 276.8 60.1 276.4 60.5 276.0 61.0 275.5 61.4 275.1 61.9 274.5 62.3 274.0 62.8 273.6 63.2 273.1 63.7 272.6 64.1 272.1 64.5 271.6 64.9 271.2 65.4 270.7 65.8 270.3 66.2 269.8 66.7 269.4 67.1 268.9 67.5 268.5 68.0 268.0 68.4 267.6 68.8 267.1 69.2 266.7 69.6 266.2 70.0 265.8 70.5 265.3 70.9 264.9 71.3 264.4 71.8 263.9 72.2 263.4 72.7 263.0 73.1 262.6 73.6 262.1 74.0 261.7 74.5 261.2 74.9 260.8 75.4 260.3 75.8 259.8 76.3 259.2 76.7 258.7 77.2 258.3 77.6 257.8 78.1 257.3 78.5 256.8 79.0 256.3 79.4 255.9 79.8 255.4 80.2 255.0 80.5 254.5 80.9 254.1 81.3 253.6 81.8 253.2 82.3 252.7 82.7 252.3 83.1 251.8 83.7 251.4 84.4 251.2 84.8 250.9 85.3 250.5 86.2 250.2 86.6 250.0 87.1 249.6 88.0 249.5 88.4 249.2 89.3 248.9 89.8 248.6 90.2 248.2 90.9 247.8 91.6 247.6 92.0 247.2 92.5 246.8 92.9 246.2 93.4 245.5 93.6 244.6 93.8 244.2 93.9 243.3 93.9 242.6 93.8 241.9 93.7 241.2 93.4 240.6 93.1 240.1 92.9 239.2 92.5 238.8 92.3 238.3 92.0 237.8 91.6 237.2 91.1 236.7 90.7 236.3 90.2 236.1 89.8 235.7 88.9 235.5 88.4 235.2 88.0 234.7 87.2 234.5 86.6 234.3 86.2 233.9 85.3 233.7 84.8 233.6 83.9 233.7 83.0 233.8 82.1 233.7 81.2 233.7 80.3 233.7 79.4 233.8 79.0 234.3 78.1 234.6 77.6 235.1 77.2 235.5 76.7 235.9 76.3 236.5 75.9 237.0 75.6 237.4 75.2 237.9 74.5 238.0 74.0 238.0 73.1 238.1 72.2 238.2 71.3 238.3 70.4 238.3 69.5 238.3 68.6 238.4 68.2 238.6 67.3 238.8 66.4 238.9 65.9 239.2 65.1 239.5 64.6 239.7 64.1 240.1 63.4 240.6 63.0 241.0 62.7 241.7 62.3 242.4 61.9 242.8 61.7 243.3 61.4 244.2 61.1 244.6 61.0 245.5 60.7 246.0 60.5 246.9 60.2 247.3 60.0 248.2 59.8 248.8 59.6 249.6 59.4 250.1 59.2 250.9 59.0 251.7 58.7 252.3 58.5 252.9 58.3 253.6 58.1 254.5 57.9 255.0 57.8 255.9 57.6 256.7 57.4 257.2 57.3 258.1 57.0 258.6 56.9 259.5 56.7 260.3 56.5 260.8 56.4 261.7 56.1 262.2 56.0 263.1 55.7 263.6 55.6 264.4 55.3 265.1 55.1 265.8 55.0 266.7 54.8 267.1 54.7 268.0 54.4 268.6 54.2 269.4 54.0 270.2 53.8 270.7 53.6 271.6 53.4 272.1 53.2 273.0 53.0 273.5 52.9 274.3 52.6 275.1 52.4 275.7 52.3 276.6 52.1 277.0 51.9 277.9 51.7 278.7 51.5 278.7 51.5Z M225.0 96.5 225.7 96.4 226.6 96.3 227.5 96.2 228.4 96.2 229.3 96.5 229.6 97.0 229.3 97.8 228.9 98.3 228.4 98.7 228.0 99.0 227.5 99.3 226.8 99.7 226.2 100.1 225.7 100.4 225.3 100.7 224.8 101.1 224.1 101.5 223.5 101.8 223.0 102.0 222.1 102.3 221.7 102.4 220.8 102.7 219.9 102.8 219.0 102.8 218.5 102.9 217.6 102.9 217.2 102.8 216.3 102.8 215.4 102.6 214.7 102.4 214.0 102.2 213.6 101.9 212.9 101.5 212.5 101.0 212.3 100.1 212.7 99.4 213.1 99.1 213.6 98.8 214.5 98.5 214.9 98.3 215.8 98.1 216.7 97.9 217.2 97.9 218.1 97.7 219.0 97.7 219.9 97.6 220.8 97.5 221.7 97.5 222.1 97.4 223.0 97.2 223.5 97.0 224.4 96.7 225.0 96.5 225.0 96.5Z M221.1 49.3 221.7 49.2 222.6 49.0 223.5 49.0 224.4 49.0 225.3 49.1 226.2 49.2 226.8 49.3 227.5 49.5 228.3 49.7 228.9 50.0 229.5 50.2 230.2 50.5 230.7 50.7 231.3 51.1 231.9 51.5 232.3 52.0 232.7 52.4 233.0 52.9 233.4 53.6 233.8 54.2 234.0 54.7 234.3 55.3 234.5 56.0 234.7 56.9 234.7 57.5 234.9 58.3 234.8 59.2 234.7 59.6 234.3 60.5 234.0 61.0 233.7 61.4 233.3 61.9 232.8 62.3 232.1 62.8 231.6 63.1 231.1 63.3 230.2 63.6 229.8 63.7 228.9 64.0 228.4 64.1 227.5 64.5 227.1 64.8 226.6 65.1 226.0 65.5 225.5 65.9 225.0 66.4 224.4 66.8 223.9 67.2 223.5 67.5 222.8 67.7 222.1 67.9 221.2 68.0 220.3 67.8 219.9 67.6 219.4 67.3 218.9 66.8 218.5 66.4 218.1 65.9 217.6 65.3 217.3 64.6 217.1 64.1 216.8 63.2 216.6 62.8 216.4 61.9 216.3 61.2 216.2 60.5 216.1 59.6 216.2 58.7 216.2 57.8 216.2 56.9 216.3 56.1 216.4 55.6 216.6 54.7 216.8 54.2 217.2 53.3 217.4 52.9 217.6 52.3 218.0 51.5 218.4 51.1 218.8 50.6 219.4 50.2 219.9 49.9 220.3 49.6 221.1 49.3 221.1 49.3Z M280.5 51.5 281.1 51.5 281.5 51.6 282.4 52.0 282.7 52.4 282.7 53.3 282.4 53.9 282.0 54.7 281.6 55.1 281.3 55.6 280.9 56.0 280.4 56.5 280.0 56.9 279.5 57.4 279.0 57.8 278.5 58.3 278.0 58.7 277.5 59.1 277.0 59.5 276.6 59.9 276.1 60.4 275.7 60.8 275.2 61.3 274.8 61.7 274.3 62.0 273.9 62.4 273.4 62.8 273.0 63.3 272.5 63.7 272.0 64.1 271.4 64.6 271.0 65.0 270.5 65.5 270.0 65.9 269.6 66.4 269.1 66.8 268.6 67.3 268.2 67.7 267.7 68.2 267.1 68.6 266.7 69.0 266.2 69.4 265.8 69.9 265.3 70.3 264.9 70.7 264.4 71.1 264.0 71.5 263.5 71.9 263.1 72.4 262.6 72.8 262.2 73.3 261.7 73.7 261.3 74.2 260.8 74.6 260.4 75.0 259.9 75.4 259.4 75.8 258.9 76.3 258.4 76.7 257.9 77.2 257.4 77.6 256.9 78.1 256.3 78.5 255.9 78.9 255.4 79.3 255.0 79.7 254.5 80.1 254.1 80.4 253.6 80.9 253.2 81.4 252.7 81.8 252.3 82.2 251.8 82.6 251.4 83.0 250.9 83.6 250.5 84.4 250.3 84.8 250.0 85.3 249.6 85.9 249.1 86.6 248.9 87.1 248.7 88.0 248.6 88.4 248.2 89.3 247.9 89.8 247.7 90.2 247.3 90.8 246.9 91.6 246.6 92.0 246.0 92.5 245.5 92.7 244.6 92.9 244.2 93.0 243.3 93.0 242.8 92.9 241.9 92.7 241.5 92.5 240.6 92.1 240.1 91.9 239.7 91.6 239.1 91.1 238.7 90.7 238.3 90.2 237.9 89.6 237.6 88.9 237.4 88.4 237.0 87.6 236.7 87.1 236.4 86.6 236.1 86.2 235.6 85.6 235.3 84.8 235.2 84.4 235.0 83.5 235.0 82.6 235.0 81.7 235.0 80.8 235.1 79.9 235.2 79.4 235.6 78.8 236.1 78.4 236.5 78.1 237.0 77.6 237.4 77.0 237.9 76.4 238.3 75.9 238.6 75.4 238.8 74.8 238.8 74.0 238.8 73.6 238.8 72.7 238.8 72.2 238.9 71.3 238.9 70.4 238.9 69.5 239.0 68.6 239.2 67.7 239.3 67.3 239.5 66.4 239.7 65.9 240.1 65.0 240.4 64.6 240.6 64.1 241.0 63.7 241.7 63.2 242.4 62.8 242.8 62.6 243.3 62.3 244.0 61.9 244.6 61.6 245.2 61.4 246.0 61.1 246.4 61.0 247.3 60.7 248.0 60.5 248.7 60.3 249.3 60.1 250.0 59.8 250.5 59.6 251.4 59.4 251.9 59.2 252.7 58.9 253.2 58.7 254.1 58.5 254.9 58.3 255.4 58.2 256.3 58.0 256.8 57.8 257.7 57.6 258.6 57.4 259.0 57.3 259.9 57.1 260.4 56.9 261.3 56.7 262.0 56.5 262.6 56.3 263.5 56.0 264.0 55.9 264.9 55.6 265.3 55.5 266.2 55.3 266.8 55.1 267.6 54.9 268.3 54.7 268.9 54.5 269.8 54.2 270.3 54.1 271.2 53.8 271.6 53.7 272.5 53.4 273.0 53.3 273.9 53.1 274.6 52.9 275.2 52.7 276.1 52.5 276.6 52.4 277.5 52.1 277.9 52.0 278.8 51.8 279.7 51.6 280.5 51.5 280.5 51.5Z M224.6 97.0 225.3 96.8 226.2 96.7 227.1 96.6 228.0 96.7 228.6 97.0 228.6 97.9 228.2 98.3 227.6 98.8 227.1 99.1 226.6 99.4 226.2 99.7 225.6 100.1 225.1 100.6 224.4 101.0 223.9 101.3 223.5 101.6 222.6 101.9 222.1 102.1 221.2 102.4 220.8 102.5 219.9 102.6 219.0 102.7 218.1 102.7 217.2 102.7 216.3 102.6 215.4 102.4 214.9 102.3 214.0 102.0 213.6 101.7 213.1 101.4 212.7 100.8 212.6 100.1 212.8 99.7 213.3 99.2 214.0 98.8 214.5 98.6 215.4 98.4 215.8 98.2 216.7 98.1 217.6 98.0 218.2 97.9 219.0 97.8 219.9 97.8 220.8 97.7 221.7 97.7 222.6 97.6 223.1 97.4 223.9 97.2 224.6 97.0 224.6 97.0Z M221.3 49.7 222.1 49.6 223.0 49.5 223.9 49.5 224.8 49.5 225.7 49.6 226.6 49.7 227.1 49.9 228.0 50.2 228.4 50.4 229.1 50.6 229.8 50.9 230.2 51.1 231.1 51.5 231.6 51.9 232.0 52.4 232.4 52.9 232.7 53.3 233.0 53.8 233.4 54.5 233.7 55.1 233.9 55.6 234.1 56.5 234.2 57.4 234.2 58.3 234.1 59.2 233.8 59.7 233.4 60.5 233.1 61.0 232.8 61.4 232.3 61.9 231.7 62.3 231.1 62.7 230.7 62.9 229.8 63.1 229.3 63.2 228.4 63.5 227.9 63.7 227.2 64.1 226.6 64.5 226.2 64.8 225.7 65.1 225.3 65.5 224.8 65.9 224.2 66.4 223.6 66.8 223.0 67.1 222.5 67.3 221.7 67.5 220.8 67.4 220.3 67.2 219.7 66.8 219.1 66.4 218.7 65.9 218.3 65.5 218.0 65.0 217.6 64.5 217.3 63.7 217.1 63.2 216.9 62.3 216.7 61.8 216.6 61.0 216.5 60.1 216.5 59.2 216.5 58.3 216.5 57.4 216.6 56.5 216.7 55.6 216.8 55.1 217.2 54.2 217.4 53.8 217.6 53.2 218.0 52.4 218.2 52.0 218.5 51.5 219.0 51.0 219.5 50.6 220.2 50.2 220.8 49.9 221.3 49.7 221.3 49.7Z M279.4 52.0 280.2 51.9 281.1 52.0 281.5 52.1 282.0 52.4 282.2 53.3 282.0 53.9 281.5 54.7 281.2 55.1 280.8 55.6 280.4 56.0 280.0 56.5 279.6 56.9 279.1 57.4 278.6 57.8 278.0 58.3 277.5 58.7 277.0 59.1 276.6 59.5 276.1 59.9 275.7 60.4 275.2 60.8 274.8 61.2 274.3 61.5 273.9 61.9 273.4 62.3 272.9 62.8 272.4 63.2 271.9 63.7 271.4 64.1 270.9 64.6 270.4 65.0 269.9 65.5 269.4 65.9 268.9 66.4 268.5 66.8 268.0 67.3 267.6 67.7 267.1 68.1 266.7 68.4 266.2 68.8 265.8 69.3 265.3 69.7 264.9 70.1 264.4 70.5 264.0 70.9 263.5 71.3 263.0 71.8 262.5 72.2 262.1 72.7 261.6 73.1 261.1 73.6 260.6 74.0 260.1 74.5 259.6 74.9 259.1 75.4 258.6 75.8 258.1 76.2 257.7 76.6 257.2 77.0 256.8 77.4 256.3 77.8 255.9 78.1 255.4 78.5 254.8 79.0 254.2 79.4 253.7 79.9 253.2 80.3 252.8 80.8 252.3 81.2 251.8 81.6 251.4 82.0 250.9 82.4 250.5 83.0 250.1 83.5 249.8 83.9 249.5 84.4 249.1 84.9 248.7 85.5 248.3 86.2 248.1 86.6 247.9 87.5 247.8 88.0 247.4 88.9 247.2 89.3 246.9 89.8 246.4 90.6 246.0 91.1 245.5 91.5 245.1 91.7 244.2 91.8 243.3 91.7 242.4 91.6 241.9 91.5 241.2 91.1 240.6 90.7 240.1 90.3 239.7 89.8 239.4 89.3 239.1 88.9 238.8 88.4 238.4 87.5 238.2 87.1 237.9 86.6 237.4 86.0 237.1 85.3 236.9 84.8 236.7 83.9 236.5 83.2 236.5 82.6 236.5 81.7 236.6 81.2 236.9 80.3 237.2 79.9 237.5 79.4 237.9 78.8 238.3 78.1 238.5 77.6 238.8 77.2 239.2 76.5 239.5 75.8 239.7 74.9 239.6 74.0 239.5 73.1 239.5 72.2 239.5 71.3 239.5 70.4 239.5 69.5 239.7 68.6 239.8 68.2 240.0 67.3 240.2 66.8 240.5 65.9 240.7 65.5 241.0 65.0 241.5 64.4 241.9 64.0 242.4 63.7 243.1 63.2 243.7 62.9 244.2 62.6 244.8 62.3 245.5 62.0 246.0 61.8 246.9 61.5 247.3 61.4 248.2 61.1 248.7 61.0 249.6 60.6 250.0 60.4 250.9 60.1 251.4 59.9 252.2 59.6 252.7 59.5 253.6 59.2 254.1 59.1 255.0 58.8 255.4 58.7 256.3 58.5 257.0 58.3 257.7 58.1 258.6 57.9 259.0 57.7 259.9 57.5 260.5 57.4 261.3 57.2 262.0 56.9 262.6 56.8 263.5 56.5 264.0 56.3 264.8 56.0 265.3 55.9 266.2 55.7 266.7 55.6 267.6 55.3 268.1 55.1 268.9 54.9 269.5 54.7 270.3 54.5 271.0 54.2 271.6 54.0 272.4 53.8 273.0 53.7 273.9 53.4 274.3 53.3 275.2 53.0 275.7 52.9 276.6 52.7 277.3 52.4 277.9 52.3 278.8 52.1 279.4 52.0 279.4 52.0Z M224.4 97.4 224.8 97.3 225.7 97.3 226.6 97.3 227.5 97.4 227.6 97.9 227.2 98.3 226.6 98.7 226.2 99.1 225.7 99.5 225.3 99.9 224.8 100.4 224.4 100.7 223.9 101.0 223.2 101.5 222.6 101.8 222.1 101.9 221.2 102.2 220.4 102.4 219.9 102.5 219.0 102.6 218.1 102.6 217.2 102.6 216.3 102.4 215.8 102.4 214.9 102.1 214.5 101.9 213.6 101.5 213.2 101.0 212.9 100.6 213.1 99.7 213.6 99.3 214.0 99.0 214.6 98.8 215.4 98.5 216.1 98.3 216.7 98.2 217.6 98.1 218.5 98.0 219.4 98.0 220.3 97.9 221.2 97.9 222.1 97.9 222.6 97.9 223.5 97.7 224.4 97.4 224.4 97.4Z M221.3 50.2 222.1 50.0 223.0 49.9 223.9 49.9 224.8 50.0 225.7 50.1 226.6 50.2 227.1 50.3 227.9 50.6 228.4 50.9 229.0 51.1 229.8 51.5 230.2 51.7 230.9 52.0 231.5 52.4 231.9 52.9 232.2 53.3 232.5 53.8 232.9 54.6 233.2 55.1 233.4 55.6 233.6 56.5 233.6 57.4 233.7 58.3 233.4 59.2 233.2 59.6 232.9 60.1 232.5 60.8 232.0 61.3 231.6 61.8 231.1 62.1 230.6 62.3 229.8 62.6 228.9 62.8 228.4 62.9 227.6 63.2 227.1 63.6 226.6 63.9 226.2 64.3 225.7 64.6 225.1 65.0 224.6 65.5 224.1 65.9 223.5 66.4 223.0 66.6 222.4 66.8 221.7 67.0 220.8 66.9 220.3 66.7 219.8 66.4 219.3 65.9 218.9 65.5 218.5 65.0 218.1 64.5 217.7 63.7 217.5 63.2 217.2 62.3 217.1 61.9 216.9 61.0 216.8 60.1 216.8 59.2 216.8 58.3 216.8 57.4 216.8 56.5 217.0 55.6 217.2 55.0 217.5 54.2 217.7 53.8 218.1 53.0 218.4 52.4 218.6 52.0 219.0 51.5 219.5 51.1 220.2 50.6 220.8 50.4 221.3 50.2 221.3 50.2Z M278.5 52.4 279.3 52.3 280.2 52.3 281.1 52.4 281.5 52.8 281.7 53.3 281.5 53.8 281.1 54.7 280.8 55.1 280.4 55.6 280.0 56.0 279.6 56.5 279.1 56.9 278.6 57.4 278.1 57.8 277.5 58.3 277.0 58.7 276.6 59.1 276.1 59.5 275.7 59.9 275.2 60.3 274.8 60.7 274.3 61.1 273.8 61.4 273.3 61.9 272.9 62.3 272.4 62.8 271.9 63.2 271.3 63.7 270.8 64.1 270.3 64.6 269.8 65.0 269.4 65.5 268.9 65.9 268.5 66.3 268.0 66.7 267.6 67.1 267.1 67.6 266.7 67.9 266.2 68.3 265.8 68.7 265.3 69.1 264.9 69.6 264.4 70.0 263.9 70.4 263.4 70.9 262.8 71.3 262.3 71.8 261.8 72.2 261.4 72.7 260.8 73.1 260.4 73.5 259.9 73.9 259.5 74.3 259.0 74.7 258.6 75.1 258.1 75.5 257.7 75.9 257.2 76.3 256.7 76.7 256.2 77.2 255.6 77.6 255.0 78.1 254.5 78.5 254.1 78.8 253.6 79.2 253.2 79.5 252.7 79.9 252.3 80.3 251.8 80.8 251.3 81.2 250.7 81.7 250.3 82.1 249.9 82.6 249.5 83.0 249.1 83.5 248.7 84.0 248.2 84.6 247.8 85.1 247.4 85.7 247.2 86.2 247.0 87.1 246.9 87.6 246.6 88.4 246.3 88.9 246.0 89.3 245.5 89.9 245.0 90.2 244.2 90.4 243.3 90.4 242.4 90.4 241.9 90.2 241.3 89.8 240.8 89.3 240.5 88.9 240.1 88.4 239.7 87.6 239.4 87.1 239.2 86.6 238.8 86.1 238.3 85.4 238.2 84.8 238.1 83.9 238.1 83.0 238.2 82.1 238.3 81.5 238.7 80.8 239.0 80.3 239.2 79.6 239.4 79.0 239.7 78.3 240.0 77.6 240.1 77.2 240.4 76.3 240.5 75.4 240.4 74.5 240.2 73.6 240.1 73.1 240.1 72.2 240.1 71.3 240.1 70.4 240.1 69.5 240.2 69.1 240.4 68.2 240.6 67.5 240.8 66.8 241.0 66.4 241.5 65.5 241.8 65.0 242.3 64.6 242.8 64.2 243.3 63.9 243.7 63.6 244.4 63.2 245.1 62.9 245.5 62.7 246.3 62.3 246.9 62.1 247.5 61.9 248.2 61.7 248.9 61.4 249.6 61.2 250.0 61.0 250.9 60.6 251.4 60.4 252.3 60.1 252.7 60.0 253.6 59.8 254.1 59.6 255.0 59.3 255.4 59.2 256.3 58.9 257.0 58.7 257.7 58.6 258.6 58.3 259.0 58.2 259.9 57.9 260.4 57.8 261.3 57.6 261.8 57.4 262.6 57.1 263.3 56.9 264.0 56.7 264.7 56.5 265.3 56.3 266.2 56.1 266.7 55.9 267.6 55.7 268.0 55.6 268.9 55.2 269.4 55.1 270.3 54.8 270.7 54.6 271.6 54.3 272.1 54.2 273.0 54.0 273.6 53.8 274.3 53.6 275.1 53.3 275.7 53.2 276.6 52.9 277.0 52.8 277.9 52.6 278.5 52.4 278.5 52.4Z M224.3 97.9 224.8 97.8 225.5 97.9 225.9 98.3 225.7 98.8 225.3 99.4 224.8 99.9 224.4 100.4 223.9 100.7 223.5 101.1 222.7 101.5 222.1 101.8 221.6 101.9 220.8 102.2 219.9 102.3 219.2 102.4 218.5 102.4 217.6 102.4 217.0 102.4 216.3 102.3 215.4 102.1 214.9 101.9 214.0 101.5 213.6 101.2 213.2 100.6 213.5 99.7 214.0 99.2 214.5 99.0 215.0 98.8 215.8 98.5 216.7 98.4 217.2 98.3 218.1 98.2 219.0 98.1 219.9 98.1 220.8 98.1 221.7 98.1 222.6 98.1 223.5 98.0 224.3 97.9 224.3 97.9Z M221.1 50.6 221.7 50.5 222.6 50.3 223.5 50.3 224.4 50.4 225.3 50.4 226.2 50.5 226.7 50.6 227.5 51.0 228.0 51.2 228.9 51.5 229.3 51.8 229.9 52.0 230.7 52.4 231.1 52.7 231.6 53.2 232.0 53.8 232.2 54.2 232.5 54.7 232.9 55.6 233.1 56.0 233.2 56.9 233.2 57.8 233.0 58.7 232.8 59.2 232.5 59.7 232.0 60.4 231.6 61.0 231.2 61.4 230.7 61.7 230.2 61.9 229.3 62.2 228.7 62.3 228.0 62.6 227.5 62.8 226.9 63.2 226.3 63.7 225.7 64.1 225.3 64.4 224.8 64.8 224.4 65.1 223.9 65.5 223.4 65.9 222.6 66.3 222.1 66.5 221.2 66.5 220.8 66.4 219.9 65.9 219.4 65.5 219.0 65.1 218.6 64.6 218.3 64.1 218.0 63.7 217.7 62.8 217.5 62.3 217.3 61.4 217.2 60.7 217.1 60.1 217.0 59.2 217.0 58.3 217.0 57.4 217.1 56.5 217.2 56.0 217.5 55.1 217.6 54.7 218.1 53.8 218.3 53.3 218.5 52.8 219.0 52.1 219.4 51.6 219.9 51.3 220.3 51.0 221.1 50.6 221.1 50.6Z M277.7 52.9 278.4 52.7 279.3 52.6 280.2 52.7 280.8 52.9 281.1 53.3 281.1 53.8 280.7 54.7 280.4 55.1 280.0 55.6 279.6 56.0 279.2 56.5 278.7 56.9 278.2 57.4 277.6 57.8 277.1 58.3 276.6 58.7 276.1 59.1 275.7 59.5 275.2 59.9 274.8 60.3 274.3 60.6 273.8 61.0 273.3 61.4 272.8 61.9 272.4 62.3 271.9 62.8 271.4 63.2 270.8 63.7 270.3 64.1 269.8 64.6 269.4 65.0 268.9 65.4 268.5 65.8 268.0 66.2 267.6 66.6 267.1 67.1 266.7 67.5 266.2 67.8 265.8 68.2 265.3 68.6 264.9 69.1 264.4 69.5 263.8 70.0 263.3 70.4 262.7 70.9 262.2 71.3 261.7 71.7 261.3 72.1 260.8 72.5 260.4 72.9 259.9 73.3 259.5 73.6 259.0 74.0 258.5 74.5 258.0 74.9 257.6 75.4 257.0 75.8 256.5 76.3 255.9 76.7 255.4 77.1 255.0 77.5 254.5 77.8 254.1 78.2 253.6 78.5 253.0 79.0 252.5 79.4 252.0 79.9 251.4 80.3 250.9 80.7 250.5 81.1 250.0 81.4 249.6 81.8 249.1 82.1 248.7 82.6 248.2 83.2 247.8 83.7 247.3 84.2 246.9 84.6 246.4 85.0 246.0 85.7 245.9 86.2 245.8 87.1 245.5 87.9 245.2 88.4 244.7 88.9 244.2 89.2 243.3 89.3 242.4 89.2 241.8 88.9 241.4 88.4 241.0 87.8 240.7 87.1 240.5 86.6 240.1 85.8 240.0 85.3 239.7 84.4 239.8 83.5 240.0 82.6 240.2 82.1 240.6 81.6 241.0 81.0 241.3 80.3 241.3 79.4 241.3 78.5 241.3 77.6 241.2 76.7 241.2 75.8 241.1 74.9 241.0 74.5 240.7 73.6 240.6 72.7 240.6 71.8 240.6 70.9 240.6 70.0 240.7 69.1 240.9 68.2 241.1 67.7 241.4 66.8 241.6 66.4 241.9 65.8 242.4 65.2 242.8 64.8 243.3 64.5 243.8 64.1 244.6 63.7 245.1 63.5 245.6 63.2 246.4 62.8 246.9 62.6 247.6 62.3 248.2 62.1 249.0 61.9 249.6 61.7 250.2 61.4 250.9 61.2 251.4 61.0 252.3 60.6 252.7 60.5 253.6 60.3 254.2 60.1 255.0 59.8 255.4 59.6 256.3 59.4 257.1 59.2 257.7 59.0 258.5 58.7 259.0 58.6 259.9 58.3 260.4 58.2 261.3 57.9 261.7 57.8 262.6 57.5 263.1 57.4 264.0 57.1 264.5 56.9 265.3 56.7 265.8 56.5 266.7 56.3 267.6 56.1 268.0 55.9 268.9 55.6 269.4 55.4 270.2 55.1 270.7 54.9 271.4 54.7 272.1 54.5 273.0 54.3 273.4 54.1 274.3 53.9 274.8 53.7 275.7 53.4 276.1 53.3 277.0 53.1 277.7 52.9 277.7 52.9Z M217.9 98.3 218.5 98.3 219.4 98.3 220.3 98.3 221.2 98.3 222.0 98.3 222.6 98.4 223.5 98.4 224.4 98.5 224.8 99.2 224.4 99.8 223.9 100.4 223.5 100.8 223.0 101.1 222.3 101.5 221.7 101.8 221.1 101.9 220.3 102.1 219.4 102.3 218.5 102.3 217.6 102.3 216.7 102.3 215.8 102.1 215.4 101.9 214.5 101.6 214.0 101.3 213.6 100.8 213.5 100.1 213.8 99.7 214.4 99.2 214.9 99.0 215.5 98.8 216.3 98.6 217.2 98.4 217.9 98.3 217.9 98.3Z M222.4 50.6 223.0 50.6 223.9 50.6 224.4 50.7 225.3 50.8 226.2 50.9 227.0 51.1 227.5 51.3 228.1 51.5 228.9 51.9 229.3 52.1 230.1 52.4 230.7 52.8 231.1 53.2 231.6 53.8 231.9 54.2 232.1 54.7 232.5 55.4 232.7 56.0 232.8 56.9 232.8 57.8 232.6 58.7 232.4 59.2 232.0 59.7 231.6 60.4 231.1 60.9 230.7 61.3 230.2 61.5 229.3 61.8 228.9 62.0 228.0 62.2 227.5 62.4 227.0 62.8 226.4 63.2 225.9 63.7 225.3 64.1 224.8 64.4 224.4 64.8 223.9 65.1 223.4 65.5 222.7 65.9 222.1 66.1 221.2 66.2 220.5 65.9 219.9 65.6 219.4 65.2 219.0 64.7 218.6 64.1 218.3 63.7 218.1 63.2 217.8 62.3 217.6 61.9 217.5 61.0 217.3 60.1 217.2 59.2 217.2 58.3 217.2 57.4 217.3 56.5 217.5 55.6 217.7 55.1 218.1 54.2 218.3 53.8 218.5 53.3 219.0 52.5 219.4 52.0 219.9 51.6 220.3 51.3 220.8 51.0 221.7 50.8 222.4 50.6 222.4 50.6Z M278.9 52.9 279.7 52.9 280.2 53.0 280.6 53.4 280.6 54.0 280.4 54.7 280.1 55.1 279.7 55.6 279.3 56.1 278.8 56.5 278.4 56.9 277.9 57.4 277.3 57.8 276.7 58.3 276.2 58.7 275.7 59.2 275.2 59.6 274.8 60.0 274.3 60.3 273.9 60.6 273.4 61.0 272.9 61.4 272.5 61.9 272.0 62.3 271.5 62.8 271.0 63.2 270.4 63.7 269.9 64.1 269.4 64.6 268.9 65.0 268.5 65.5 268.0 65.9 267.6 66.3 267.1 66.7 266.7 67.1 266.2 67.5 265.8 67.9 265.3 68.3 264.9 68.7 264.4 69.1 263.9 69.5 263.4 70.0 262.8 70.4 262.3 70.9 261.7 71.3 261.3 71.7 260.8 72.1 260.4 72.5 259.9 72.8 259.5 73.2 259.0 73.6 258.5 74.0 258.0 74.5 257.5 74.9 257.0 75.4 256.4 75.8 255.9 76.3 255.4 76.7 255.0 77.1 254.5 77.4 254.1 77.7 253.6 78.1 253.0 78.5 252.4 79.0 251.9 79.4 251.4 79.8 250.9 80.1 250.5 80.5 250.0 80.8 249.2 81.2 248.7 81.5 248.2 81.8 247.8 82.5 247.4 83.0 246.9 83.5 246.4 83.8 245.5 83.8 244.6 83.9 244.4 84.4 244.5 85.3 244.7 85.7 244.8 86.6 244.6 87.3 244.2 87.9 243.7 88.1 242.8 88.1 242.4 87.9 242.0 87.1 242.1 86.2 242.2 85.3 241.9 84.7 241.7 83.9 241.6 83.0 241.8 82.1 242.0 81.7 242.4 81.1 242.6 80.3 242.6 79.4 242.4 78.7 242.2 78.1 241.9 77.4 241.8 76.7 241.7 75.8 241.5 75.0 241.4 74.5 241.1 73.6 241.0 73.1 241.0 72.2 241.0 71.3 241.0 70.4 241.0 69.5 241.1 69.1 241.3 68.2 241.5 67.7 241.8 66.8 242.1 66.4 242.4 65.8 242.8 65.3 243.3 65.0 243.8 64.6 244.6 64.1 245.1 63.9 245.5 63.6 246.4 63.2 246.9 63.0 247.4 62.8 248.2 62.5 248.7 62.3 249.6 62.0 250.0 61.9 250.9 61.5 251.4 61.3 252.1 61.0 252.7 60.8 253.6 60.6 254.1 60.5 255.0 60.1 255.4 60.0 256.3 59.7 256.8 59.6 257.7 59.4 258.1 59.2 259.0 58.9 259.5 58.7 260.4 58.4 260.9 58.3 261.7 58.0 262.4 57.8 263.1 57.7 264.0 57.4 264.4 57.3 265.2 56.9 265.8 56.8 266.7 56.5 267.1 56.4 268.0 56.2 268.5 56.0 269.4 55.7 269.8 55.5 270.7 55.2 271.2 55.0 272.1 54.7 272.5 54.6 273.4 54.3 273.9 54.2 274.8 53.9 275.2 53.8 276.1 53.5 276.7 53.3 277.5 53.2 278.4 53.0 278.9 52.9 278.9 52.9Z M215.8 98.8 216.3 98.7 217.2 98.5 218.1 98.4 219.0 98.4 219.9 98.4 220.8 98.4 221.7 98.5 222.6 98.6 223.5 98.7 223.9 98.9 224.1 99.7 223.8 100.1 223.4 100.6 222.8 101.0 222.1 101.4 221.7 101.6 220.8 101.9 220.3 102.0 219.4 102.2 218.5 102.2 217.6 102.2 216.7 102.2 215.8 102.0 215.4 101.8 214.6 101.5 214.0 101.1 213.7 100.6 214.0 99.7 214.5 99.3 214.9 99.1 215.8 98.8 215.8 98.8Z M221.4 51.1 222.1 51.0 223.0 50.9 223.9 50.9 224.8 51.0 225.7 51.1 226.2 51.2 227.1 51.4 227.5 51.6 228.4 52.0 228.9 52.2 229.4 52.4 230.2 52.9 230.7 53.2 231.1 53.7 231.5 54.2 231.8 54.7 232.0 55.2 232.4 56.0 232.5 56.8 232.5 57.4 232.5 57.9 232.3 58.7 232.0 59.2 231.6 59.8 231.1 60.4 230.7 60.8 230.2 61.1 229.4 61.4 228.9 61.6 228.0 61.9 227.5 62.1 227.1 62.3 226.5 62.8 226.1 63.2 225.5 63.7 224.8 64.1 224.4 64.4 223.9 64.7 223.5 65.1 222.8 65.5 222.1 65.8 221.2 65.9 220.3 65.5 219.9 65.2 219.4 64.8 219.0 64.3 218.6 63.7 218.3 63.2 218.1 62.6 217.9 61.9 217.7 61.0 217.6 60.5 217.5 59.6 217.4 58.7 217.4 57.8 217.4 56.9 217.6 56.0 217.7 55.6 218.1 54.7 218.3 54.2 218.5 53.8 219.0 52.9 219.3 52.4 219.8 52.0 220.3 51.5 220.8 51.3 221.4 51.1 221.4 51.1Z M277.5 53.3 278.4 53.2 279.3 53.2 280.0 53.3 280.3 53.8 280.2 54.4 279.8 55.1 279.4 55.6 279.0 56.0 278.5 56.5 278.1 56.9 277.5 57.4 277.0 57.8 276.6 58.1 276.1 58.5 275.7 58.9 275.2 59.3 274.8 59.6 274.2 60.1 273.6 60.5 273.1 61.0 272.6 61.4 272.1 61.9 271.7 62.3 271.2 62.8 270.7 63.1 270.3 63.5 269.8 63.9 269.4 64.3 268.9 64.7 268.5 65.1 268.0 65.5 267.6 65.9 267.1 66.4 266.6 66.8 266.1 67.3 265.5 67.7 265.0 68.2 264.6 68.6 264.1 69.1 263.5 69.5 263.1 69.9 262.6 70.2 262.2 70.6 261.7 71.0 261.3 71.3 260.7 71.8 260.2 72.2 259.7 72.7 259.1 73.1 258.6 73.6 258.1 74.0 257.7 74.4 257.2 74.8 256.8 75.1 256.3 75.5 255.9 75.8 255.4 76.3 254.8 76.7 254.3 77.2 253.6 77.6 253.2 77.9 252.7 78.3 252.3 78.6 251.8 79.0 251.1 79.4 250.5 79.9 250.0 80.2 249.6 80.5 248.7 80.8 248.2 80.9 247.6 81.2 247.1 81.7 246.6 82.1 246.0 82.3 245.5 82.1 244.7 81.7 244.4 81.2 244.2 80.6 243.9 79.9 243.7 79.4 243.3 78.8 242.9 78.1 242.7 77.6 242.4 77.0 242.2 76.3 242.0 75.4 241.9 74.9 241.6 74.0 241.5 73.6 241.4 72.7 241.3 71.8 241.3 70.9 241.3 70.0 241.4 69.1 241.5 68.6 241.8 67.7 242.0 67.3 242.4 66.5 242.8 65.9 243.2 65.5 243.7 65.1 244.2 64.8 244.6 64.5 245.3 64.1 246.0 63.8 246.4 63.6 247.1 63.2 247.8 63.0 248.2 62.8 249.1 62.4 249.6 62.3 250.5 62.0 250.9 61.9 251.8 61.5 252.3 61.3 253.2 61.0 253.6 60.9 254.5 60.7 255.0 60.5 255.9 60.1 256.3 60.0 257.2 59.8 257.8 59.6 258.6 59.3 259.0 59.2 259.9 58.8 260.4 58.7 261.3 58.4 261.8 58.3 262.6 58.1 263.5 57.9 264.0 57.7 264.8 57.4 265.3 57.2 266.0 56.9 266.7 56.8 267.6 56.5 268.0 56.4 268.9 56.1 269.4 55.9 270.3 55.6 270.7 55.4 271.4 55.1 272.1 54.9 272.9 54.7 273.4 54.5 274.3 54.3 274.8 54.1 275.7 53.8 276.1 53.7 277.0 53.5 277.5 53.3 277.5 53.3Z M216.2 98.8 216.7 98.7 217.6 98.5 218.5 98.5 219.4 98.5 220.3 98.5 221.2 98.6 222.1 98.7 222.7 98.8 223.5 99.2 223.7 99.7 223.5 100.2 223.0 100.7 222.5 101.0 221.7 101.5 221.2 101.7 220.3 101.9 219.9 102.0 219.0 102.1 218.1 102.2 217.2 102.1 216.3 102.0 215.8 101.9 214.9 101.6 214.5 101.3 214.0 100.8 213.9 100.1 214.2 99.7 214.9 99.2 215.4 99.0 216.2 98.8 216.2 98.8Z M220.9 51.5 221.7 51.3 222.6 51.2 223.5 51.2 224.4 51.3 225.3 51.3 226.2 51.5 226.6 51.6 227.5 51.9 228.0 52.1 228.8 52.4 229.3 52.7 229.8 53.0 230.3 53.3 230.8 53.8 231.1 54.3 231.6 55.1 231.9 55.6 232.0 56.1 232.2 56.9 232.2 57.8 232.0 58.4 231.6 59.2 231.3 59.6 230.9 60.1 230.4 60.5 229.8 60.9 229.3 61.1 228.4 61.4 228.0 61.6 227.3 61.9 226.6 62.3 226.2 62.8 225.7 63.2 225.3 63.5 224.8 63.8 224.3 64.1 223.6 64.6 223.0 65.0 222.6 65.3 221.8 65.5 221.2 65.5 220.8 65.4 220.2 65.0 219.6 64.6 219.2 64.1 218.9 63.7 218.5 63.1 218.2 62.3 218.1 61.9 217.9 61.0 217.7 60.1 217.6 59.6 217.6 58.7 217.6 57.8 217.6 56.9 217.7 56.5 217.9 55.6 218.1 55.1 218.5 54.2 218.8 53.8 219.0 53.3 219.4 52.7 219.9 52.2 220.3 51.8 220.9 51.5 220.9 51.5Z M276.5 53.8 277.0 53.7 277.9 53.5 278.8 53.4 279.7 53.7 279.9 54.2 279.7 54.7 279.3 55.3 278.8 55.8 278.4 56.3 277.9 56.8 277.5 57.2 277.0 57.5 276.6 57.9 276.1 58.3 275.5 58.7 274.9 59.2 274.4 59.6 273.9 60.0 273.4 60.4 273.0 60.7 272.5 61.2 272.1 61.6 271.6 62.0 271.2 62.5 270.7 62.8 270.2 63.2 269.7 63.7 269.2 64.1 268.7 64.6 268.3 65.0 267.8 65.5 267.2 65.9 266.7 66.4 266.2 66.8 265.8 67.2 265.3 67.6 264.9 68.0 264.4 68.4 264.0 68.8 263.5 69.2 263.1 69.5 262.5 70.0 262.0 70.4 261.4 70.9 260.8 71.3 260.4 71.7 259.9 72.1 259.5 72.5 259.0 72.9 258.6 73.3 258.1 73.7 257.7 74.0 257.1 74.5 256.5 74.9 255.9 75.4 255.4 75.8 255.0 76.2 254.5 76.6 254.1 76.9 253.6 77.2 253.0 77.6 252.3 78.1 251.8 78.4 251.4 78.7 250.9 79.0 250.3 79.4 249.6 79.9 249.1 80.0 248.2 80.2 247.7 80.3 246.9 80.7 246.4 80.9 245.8 80.8 245.4 80.3 245.1 79.8 244.6 79.3 244.2 78.9 243.7 78.4 243.3 77.8 243.0 77.2 242.8 76.7 242.5 75.8 242.4 75.4 242.1 74.5 241.9 74.0 241.7 73.1 241.7 72.2 241.6 71.3 241.6 70.4 241.7 69.5 241.9 68.6 242.0 68.2 242.4 67.3 242.6 66.8 242.9 66.4 243.3 65.9 243.8 65.5 244.5 65.0 245.1 64.7 245.5 64.4 246.0 64.1 246.9 63.7 247.3 63.5 247.9 63.2 248.7 62.9 249.1 62.7 250.0 62.5 250.5 62.3 251.4 62.0 251.8 61.8 252.6 61.4 253.2 61.3 254.1 61.1 254.5 61.0 255.4 60.6 255.9 60.5 256.8 60.3 257.5 60.1 258.1 59.9 258.6 59.6 259.5 59.3 259.9 59.1 260.8 58.8 261.3 58.7 262.2 58.4 262.8 58.3 263.5 58.1 264.4 57.9 264.9 57.6 265.4 57.4 266.2 57.1 266.9 56.9 267.6 56.8 268.5 56.5 268.9 56.3 269.8 56.0 270.3 55.8 270.8 55.6 271.6 55.3 272.1 55.1 273.0 54.9 273.6 54.7 274.3 54.5 274.9 54.2 275.7 54.0 276.5 53.8 276.5 53.8Z M216.6 98.8 217.2 98.7 218.1 98.6 219.0 98.5 219.9 98.6 220.8 98.6 221.7 98.8 222.1 98.9 223.0 99.2 223.3 99.7 223.0 100.3 222.6 100.8 222.1 101.1 221.5 101.5 220.8 101.7 219.9 101.9 219.4 102.0 218.5 102.1 217.6 102.1 216.7 102.0 216.3 101.9 215.4 101.6 214.9 101.4 214.4 101.0 214.1 100.1 214.5 99.6 215.1 99.2 215.8 99.0 216.6 98.8 216.6 98.8Z M221.7 51.5 222.1 51.5 223.0 51.4 223.9 51.5 224.6 51.5 225.3 51.6 226.2 51.8 226.9 52.0 227.5 52.3 228.1 52.4 228.9 52.8 229.3 53.1 229.8 53.4 230.3 53.8 230.7 54.2 231.1 54.9 231.5 55.6 231.7 56.0 231.8 56.9 231.8 57.8 231.6 58.7 231.3 59.2 230.9 59.6 230.4 60.1 229.8 60.5 229.3 60.7 228.8 61.0 228.0 61.3 227.5 61.5 226.8 61.9 226.3 62.3 225.8 62.8 225.3 63.2 224.8 63.5 224.4 63.8 223.8 64.1 223.1 64.6 222.6 64.9 222.1 65.1 221.2 65.2 220.8 65.0 220.0 64.6 219.5 64.1 219.1 63.7 218.9 63.2 218.5 62.6 218.3 61.9 218.1 61.1 218.0 60.5 217.8 59.6 217.7 58.7 217.7 57.8 217.8 56.9 218.0 56.0 218.1 55.6 218.5 54.7 218.8 54.2 219.0 53.8 219.4 53.0 219.9 52.5 220.3 52.2 220.8 51.9 221.7 51.5 221.7 51.5Z M277.4 53.8 277.9 53.7 278.8 53.7 279.3 54.0 279.3 54.7 279.1 55.1 278.7 55.6 278.3 56.0 277.9 56.5 277.4 56.9 276.8 57.4 276.2 57.8 275.7 58.3 275.2 58.7 274.8 59.0 274.3 59.3 273.9 59.7 273.4 60.1 272.9 60.5 272.4 61.0 271.9 61.4 271.5 61.9 271.0 62.3 270.4 62.8 269.9 63.2 269.4 63.6 268.9 64.0 268.5 64.5 268.0 64.9 267.6 65.3 267.1 65.7 266.7 66.1 266.2 66.5 265.8 66.9 265.3 67.3 264.8 67.7 264.3 68.2 263.8 68.6 263.2 69.1 262.7 69.5 262.2 69.9 261.7 70.3 261.3 70.6 260.8 71.0 260.4 71.3 259.9 71.8 259.4 72.2 258.9 72.7 258.4 73.1 257.8 73.6 257.2 74.0 256.8 74.4 256.3 74.7 255.9 75.0 255.4 75.4 255.0 75.8 254.4 76.3 253.8 76.7 253.2 77.1 252.7 77.4 252.1 77.6 251.4 78.0 250.9 78.4 250.5 78.7 250.0 79.1 249.2 79.4 248.7 79.5 247.8 79.6 246.9 79.8 246.0 79.6 245.5 79.3 245.1 78.9 244.6 78.5 244.1 78.1 243.7 77.6 243.3 76.9 243.0 76.3 242.8 75.8 242.6 74.9 242.4 74.4 242.1 73.6 242.0 72.7 242.0 71.8 242.0 70.9 242.0 70.0 242.1 69.1 242.4 68.2 242.5 67.7 242.8 67.1 243.3 66.4 243.7 66.1 244.2 65.8 244.6 65.5 245.2 65.0 245.8 64.6 246.4 64.2 246.9 64.0 247.6 63.7 248.2 63.4 248.7 63.2 249.6 62.9 250.0 62.7 250.9 62.5 251.4 62.3 252.3 61.9 252.7 61.7 253.6 61.5 254.1 61.4 255.0 61.1 255.4 60.9 256.3 60.7 257.0 60.5 257.7 60.4 258.3 60.1 259.0 59.8 259.5 59.6 260.4 59.2 260.8 59.1 261.7 58.9 262.2 58.7 263.1 58.5 264.0 58.3 264.4 58.2 265.0 57.8 265.8 57.5 266.2 57.3 267.1 57.1 267.8 56.9 268.5 56.7 269.2 56.5 269.8 56.3 270.4 56.0 271.2 55.7 271.6 55.5 272.5 55.2 273.0 55.1 273.9 54.8 274.3 54.7 275.2 54.4 275.7 54.2 276.6 54.0 277.4 53.8 277.4 53.8Z M217.1 98.8 217.6 98.7 218.5 98.6 219.4 98.6 220.3 98.7 221.2 98.8 221.7 98.9 222.6 99.2 223.0 99.7 222.6 100.6 222.1 101.0 221.7 101.2 221.2 101.5 220.3 101.8 219.4 101.9 218.9 101.9 218.1 102.0 217.2 102.0 216.7 101.9 215.8 101.7 215.3 101.5 214.6 101.0 214.3 100.6 214.5 99.9 214.9 99.5 215.4 99.2 216.3 98.9 217.1 98.8 217.1 98.8Z M221.2 52.0 221.7 51.8 222.6 51.7 223.5 51.7 224.4 51.8 225.3 51.9 226.0 52.0 226.6 52.2 227.2 52.4 228.0 52.7 228.4 52.9 229.3 53.3 229.8 53.7 230.2 54.2 230.6 54.7 230.9 55.1 231.1 55.7 231.4 56.5 231.5 57.4 231.4 58.3 231.1 58.8 230.7 59.4 230.2 59.8 229.8 60.1 229.0 60.5 228.4 60.8 228.0 61.0 227.1 61.4 226.6 61.7 226.2 62.1 225.7 62.5 225.3 62.9 224.8 63.2 224.1 63.7 223.5 64.1 223.0 64.3 222.4 64.6 221.7 64.8 220.8 64.7 220.3 64.5 219.9 64.1 219.4 63.7 219.0 63.1 218.7 62.3 218.5 61.9 218.3 61.0 218.1 60.2 218.0 59.6 217.9 58.7 217.9 57.8 218.0 56.9 218.1 56.3 218.3 55.6 218.5 55.1 219.0 54.2 219.2 53.8 219.5 53.3 219.9 52.9 220.4 52.4 221.2 52.0 221.2 52.0Z M276.3 54.2 277.0 54.1 277.9 54.0 278.8 54.2 278.9 54.7 278.7 55.1 278.4 55.6 277.9 56.1 277.5 56.6 277.0 57.0 276.5 57.4 275.9 57.8 275.3 58.3 274.8 58.7 274.3 59.0 273.9 59.3 273.4 59.7 273.0 60.1 272.5 60.5 272.0 61.0 271.6 61.4 271.1 61.9 270.6 62.3 270.1 62.8 269.5 63.2 269.0 63.7 268.5 64.1 268.1 64.6 267.6 65.0 267.1 65.4 266.7 65.8 266.2 66.1 265.8 66.5 265.3 66.9 264.9 67.3 264.4 67.7 263.9 68.2 263.3 68.6 262.8 69.1 262.2 69.5 261.7 70.0 261.3 70.3 260.8 70.6 260.4 71.0 259.9 71.3 259.5 71.8 259.0 72.2 258.5 72.7 258.0 73.1 257.4 73.6 256.8 74.0 256.3 74.4 255.9 74.7 255.4 75.0 255.0 75.4 254.5 75.8 253.9 76.3 253.2 76.7 252.7 76.9 252.2 77.2 251.4 77.5 250.9 77.8 250.5 78.1 250.0 78.5 249.1 78.9 248.2 79.0 247.6 79.0 246.9 79.1 246.4 79.0 245.5 78.6 245.1 78.3 244.6 78.0 244.2 77.5 243.7 76.9 243.5 76.3 243.3 75.8 243.0 74.9 242.8 74.5 242.5 73.6 242.4 73.1 242.3 72.2 242.3 71.3 242.3 70.4 242.4 69.5 242.5 69.1 242.7 68.2 242.9 67.7 243.3 67.0 243.7 66.5 244.2 66.2 244.7 65.9 245.3 65.5 245.8 65.0 246.4 64.6 246.9 64.4 247.3 64.1 248.2 63.7 248.7 63.5 249.3 63.2 250.0 63.0 250.8 62.8 251.4 62.6 252.0 62.3 252.7 62.0 253.2 61.9 254.1 61.7 255.0 61.4 255.4 61.3 256.3 61.0 256.8 60.9 257.7 60.7 258.1 60.5 259.0 60.1 259.5 59.9 260.1 59.6 260.8 59.4 261.6 59.2 262.2 59.0 263.1 58.8 263.5 58.7 264.4 58.5 264.9 58.2 265.5 57.8 266.2 57.6 266.9 57.4 267.6 57.2 268.5 57.0 268.9 56.8 269.8 56.5 270.3 56.3 270.9 56.0 271.6 55.7 272.1 55.6 273.0 55.3 273.5 55.1 274.3 54.9 274.8 54.7 275.7 54.4 276.3 54.2 276.3 54.2Z M217.7 98.8 218.5 98.7 219.4 98.7 220.3 98.8 220.8 98.8 221.7 99.1 222.2 99.2 222.6 99.7 222.6 100.2 222.1 100.8 221.7 101.1 220.9 101.5 220.3 101.7 219.4 101.8 218.5 101.9 217.6 101.9 216.7 101.8 215.8 101.6 215.4 101.4 214.8 101.0 214.5 100.6 214.5 100.1 214.9 99.6 215.7 99.2 216.3 99.0 217.2 98.9 217.7 98.8 217.7 98.8Z M222.1 52.0 222.6 51.9 223.5 51.9 224.0 52.0 224.8 52.1 225.7 52.2 226.4 52.4 227.1 52.7 227.6 52.9 228.4 53.2 228.9 53.5 229.4 53.8 229.9 54.2 230.3 54.7 230.7 55.5 230.9 56.0 231.0 56.9 231.1 57.8 230.8 58.7 230.4 59.2 229.9 59.6 229.3 60.0 228.9 60.3 228.4 60.5 227.5 60.9 227.1 61.2 226.6 61.4 226.1 61.9 225.6 62.3 225.1 62.8 224.4 63.2 223.9 63.5 223.5 63.8 222.8 64.1 222.1 64.4 221.2 64.4 220.3 64.2 219.9 63.8 219.4 63.3 219.1 62.8 218.9 62.3 218.6 61.4 218.4 61.0 218.2 60.1 218.1 59.2 218.1 58.7 218.1 57.8 218.1 57.4 218.2 56.5 218.5 55.6 218.7 55.1 219.0 54.6 219.4 53.8 219.8 53.3 220.2 52.9 220.8 52.5 221.2 52.3 222.1 52.0 222.1 52.0Z M275.5 54.7 276.1 54.5 277.0 54.4 277.9 54.4 278.2 55.1 277.9 55.6 277.5 56.2 277.0 56.6 276.6 57.0 276.1 57.4 275.5 57.8 274.9 58.3 274.3 58.7 273.9 59.0 273.4 59.4 273.0 59.8 272.5 60.2 272.1 60.6 271.6 61.1 271.2 61.5 270.7 61.9 270.3 62.3 269.7 62.8 269.1 63.2 268.6 63.7 268.2 64.1 267.7 64.6 267.2 65.0 266.7 65.5 266.2 65.8 265.8 66.1 265.3 66.5 264.9 66.9 264.4 67.4 264.0 67.8 263.4 68.2 262.8 68.6 262.3 69.1 261.8 69.5 261.3 70.0 260.8 70.3 260.4 70.6 259.9 71.0 259.5 71.4 259.0 71.8 258.6 72.3 258.1 72.7 257.5 73.1 256.9 73.6 256.3 74.0 255.9 74.4 255.4 74.7 255.0 75.1 254.5 75.5 254.1 75.8 253.3 76.3 252.7 76.6 252.3 76.8 251.4 77.1 250.9 77.3 250.4 77.6 249.8 78.1 249.1 78.4 248.2 78.5 247.3 78.5 246.4 78.4 245.7 78.1 245.1 77.8 244.6 77.4 244.2 76.8 243.9 76.3 243.7 75.8 243.3 74.9 243.1 74.5 242.8 73.7 242.7 73.1 242.7 72.2 242.7 71.3 242.7 70.4 242.7 69.5 242.8 69.1 243.1 68.2 243.3 67.6 243.7 67.0 244.2 66.7 244.7 66.4 245.4 65.9 245.9 65.5 246.4 65.0 246.9 64.7 247.3 64.5 248.1 64.1 248.7 63.8 249.1 63.6 250.0 63.3 250.5 63.1 251.4 62.9 251.8 62.7 252.7 62.3 253.2 62.2 254.1 62.0 254.5 61.9 255.4 61.6 255.9 61.4 256.8 61.2 257.6 61.0 258.1 60.8 258.8 60.5 259.5 60.2 259.9 60.0 260.8 59.7 261.3 59.6 262.2 59.3 262.7 59.2 263.5 59.0 264.4 58.8 264.9 58.5 265.3 58.2 266.1 57.8 266.7 57.7 267.6 57.5 268.0 57.4 268.9 57.1 269.4 56.9 270.3 56.6 270.7 56.4 271.5 56.0 272.1 55.8 272.8 55.6 273.4 55.4 274.2 55.1 274.8 54.9 275.5 54.7 275.5 54.7Z M215.9 99.2 216.7 99.0 217.6 98.9 218.5 98.8 219.4 98.8 220.3 98.9 221.2 99.1 221.8 99.2 222.3 99.7 222.1 100.5 221.7 100.9 221.2 101.2 220.6 101.5 219.9 101.7 219.0 101.8 218.1 101.8 217.2 101.8 216.3 101.6 215.8 101.5 215.0 101.0 214.7 100.6 214.9 99.8 215.4 99.5 215.9 99.2 215.9 99.2Z M221.5 52.4 222.1 52.2 223.0 52.2 223.9 52.2 224.8 52.4 225.5 52.4 226.2 52.7 226.8 52.9 227.5 53.2 228.0 53.4 228.8 53.8 229.3 54.2 229.8 54.6 230.2 55.1 230.4 55.6 230.6 56.5 230.6 57.4 230.5 58.3 230.2 58.8 229.8 59.3 229.3 59.6 228.6 60.1 228.0 60.4 227.5 60.6 226.9 61.0 226.2 61.4 225.7 61.9 225.3 62.3 224.8 62.7 224.4 62.9 223.9 63.2 223.2 63.7 222.6 64.0 221.7 64.1 220.8 64.0 220.2 63.7 219.7 63.2 219.3 62.8 219.0 62.1 218.8 61.4 218.5 60.7 218.4 60.1 218.3 59.2 218.2 58.3 218.3 57.4 218.4 56.5 218.5 56.0 218.9 55.1 219.2 54.7 219.4 54.2 219.9 53.6 220.3 53.1 220.8 52.8 221.5 52.4 221.5 52.4Z M276.5 54.7 277.0 54.7 277.5 54.9 277.5 55.6 277.2 56.0 276.8 56.5 276.2 56.9 275.7 57.3 275.2 57.7 274.8 58.1 274.3 58.4 273.8 58.7 273.3 59.2 272.8 59.6 272.3 60.1 271.8 60.5 271.4 61.0 270.9 61.4 270.4 61.9 269.9 62.3 269.4 62.7 268.9 63.1 268.5 63.5 268.0 63.9 267.6 64.4 267.1 64.8 266.7 65.1 266.2 65.5 265.6 65.9 265.0 66.4 264.6 66.8 264.1 67.3 263.6 67.7 263.1 68.1 262.6 68.4 262.2 68.8 261.7 69.3 261.3 69.6 260.8 70.0 260.1 70.4 259.6 70.9 259.1 71.3 258.7 71.8 258.2 72.2 257.7 72.7 257.2 73.0 256.8 73.4 256.3 73.7 255.9 74.0 255.3 74.5 254.8 74.9 254.3 75.4 253.6 75.8 253.2 76.0 252.5 76.3 251.8 76.6 251.4 76.7 250.5 77.2 250.0 77.4 249.6 77.7 248.7 78.0 247.8 78.0 246.9 77.9 246.0 77.7 245.5 77.5 245.1 77.2 244.6 76.7 244.2 75.9 244.0 75.4 243.7 74.9 243.3 74.0 243.2 73.6 243.0 72.7 243.0 71.8 243.0 70.9 243.0 70.0 243.2 69.1 243.3 68.6 243.6 67.7 244.0 67.3 244.6 66.9 245.1 66.7 245.5 66.3 246.0 65.9 246.4 65.5 247.0 65.0 247.8 64.6 248.2 64.4 248.7 64.1 249.6 63.7 250.0 63.6 250.9 63.3 251.4 63.1 252.3 62.8 252.7 62.6 253.6 62.4 254.1 62.3 255.0 62.0 255.4 61.9 256.3 61.6 256.9 61.4 257.7 61.3 258.5 61.0 259.0 60.7 259.5 60.5 260.4 60.2 260.8 60.1 261.7 59.8 262.3 59.6 263.1 59.4 264.0 59.3 264.4 59.1 265.0 58.7 265.7 58.3 266.2 58.1 267.0 57.8 267.6 57.7 268.5 57.5 268.9 57.3 269.8 57.1 270.3 56.9 271.1 56.5 271.6 56.3 272.2 56.0 273.0 55.8 273.6 55.6 274.3 55.4 274.9 55.1 275.7 54.9 276.5 54.7 276.5 54.7Z M216.2 99.2 216.7 99.1 217.6 99.0 218.5 98.9 219.4 98.9 220.3 99.0 221.2 99.2 221.7 99.4 222.1 100.1 221.7 100.8 221.2 101.1 220.3 101.5 219.9 101.6 219.0 101.7 218.1 101.8 217.2 101.7 216.3 101.5 215.8 101.4 215.2 101.0 214.9 100.6 214.9 100.0 215.4 99.6 216.2 99.2 216.2 99.2Z M222.4 52.4 223.0 52.4 223.7 52.4 224.4 52.6 225.3 52.7 226.0 52.9 226.6 53.1 227.1 53.3 228.0 53.7 228.4 53.9 228.9 54.3 229.4 54.7 229.8 55.2 230.1 56.0 230.2 56.9 230.1 57.8 229.8 58.6 229.3 59.1 228.9 59.5 228.4 59.8 228.0 60.1 227.2 60.5 226.6 60.9 226.2 61.2 225.7 61.6 225.3 62.0 224.8 62.3 224.2 62.8 223.5 63.2 223.0 63.5 222.6 63.7 221.7 63.8 220.8 63.7 220.3 63.5 219.9 63.1 219.4 62.6 219.1 61.9 218.9 61.4 218.7 60.5 218.5 59.9 218.5 59.2 218.4 58.3 218.5 57.4 218.5 56.7 218.7 56.0 219.0 55.4 219.4 54.7 219.7 54.2 220.0 53.8 220.5 53.3 221.2 52.9 221.7 52.6 222.4 52.4 222.4 52.4Z M275.9 55.1 276.6 55.1 277.0 55.6 276.6 56.2 276.1 56.6 275.7 56.9 275.1 57.4 274.6 57.8 273.9 58.3 273.4 58.6 273.0 59.0 272.5 59.5 272.1 60.0 271.6 60.4 271.2 60.8 270.7 61.3 270.3 61.7 269.8 62.0 269.4 62.4 268.9 62.8 268.4 63.2 267.9 63.7 267.5 64.1 267.0 64.6 266.4 65.0 265.8 65.4 265.3 65.7 264.9 66.1 264.4 66.5 264.0 67.0 263.5 67.4 263.1 67.7 262.5 68.2 262.0 68.6 261.5 69.1 261.0 69.5 260.4 69.9 259.9 70.2 259.5 70.6 259.0 71.0 258.6 71.5 258.1 71.9 257.7 72.3 257.2 72.7 256.6 73.1 256.0 73.6 255.4 74.0 255.0 74.4 254.5 74.8 254.1 75.2 253.6 75.5 252.7 75.8 252.3 76.0 251.6 76.3 250.9 76.5 250.4 76.7 249.6 77.1 249.1 77.3 248.2 77.4 247.3 77.4 246.4 77.3 246.0 77.1 245.4 76.7 245.0 76.3 244.6 75.8 244.2 74.9 244.0 74.5 243.7 74.0 243.5 73.1 243.4 72.2 243.4 71.3 243.4 70.4 243.5 69.5 243.7 68.6 243.8 68.2 244.2 67.7 244.7 67.3 245.5 66.8 246.0 66.5 246.4 66.0 246.9 65.6 247.3 65.3 247.8 65.0 248.6 64.6 249.1 64.3 249.6 64.1 250.5 63.7 250.9 63.6 251.8 63.3 252.3 63.1 253.2 62.8 253.6 62.7 254.5 62.5 255.0 62.3 255.9 62.0 256.3 61.9 257.2 61.7 258.0 61.4 258.6 61.2 259.2 61.0 259.9 60.7 260.4 60.5 261.3 60.3 262.0 60.1 262.6 59.8 263.5 59.6 264.0 59.6 264.8 59.2 265.3 58.8 265.8 58.6 266.3 58.3 267.1 58.1 268.0 57.9 268.5 57.7 269.4 57.5 269.8 57.4 270.7 57.0 271.2 56.8 271.8 56.5 272.5 56.2 273.0 56.0 273.9 55.8 274.5 55.6 275.2 55.4 275.9 55.1 275.9 55.1Z M216.5 99.2 217.2 99.1 218.1 99.0 219.0 99.0 219.9 99.0 220.8 99.2 221.2 99.3 221.8 99.7 221.7 100.5 221.2 100.9 220.8 101.2 219.9 101.5 219.4 101.6 218.5 101.6 217.6 101.7 216.7 101.6 216.3 101.4 215.5 101.0 215.1 100.6 215.4 99.8 215.8 99.5 216.5 99.2 216.5 99.2Z M221.8 52.9 222.6 52.7 223.5 52.7 224.4 52.8 224.9 52.9 225.7 53.1 226.4 53.3 227.1 53.7 227.5 53.9 228.3 54.2 228.9 54.7 229.3 55.1 229.6 55.6 229.8 56.5 229.7 57.4 229.4 58.3 229.1 58.7 228.7 59.2 228.1 59.6 227.5 60.0 227.1 60.3 226.6 60.6 226.0 61.0 225.5 61.4 225.0 61.9 224.4 62.3 223.9 62.6 223.5 63.0 223.0 63.3 222.1 63.6 221.2 63.5 220.5 63.2 219.9 62.8 219.6 62.3 219.3 61.9 219.0 61.0 218.9 60.5 218.7 59.6 218.6 58.7 218.6 57.8 218.7 56.9 218.9 56.0 219.1 55.6 219.4 55.0 219.9 54.3 220.3 53.8 220.8 53.4 221.2 53.1 221.8 52.9 221.8 52.9Z M274.3 56.0 274.8 56.0 275.7 55.9 275.7 56.2 275.2 56.7 274.8 57.2 274.3 57.5 273.9 57.9 273.3 58.3 272.8 58.7 272.4 59.2 272.0 59.6 271.5 60.1 271.1 60.5 270.6 61.0 270.1 61.4 269.6 61.9 269.1 62.3 268.5 62.8 268.0 63.2 267.6 63.6 267.1 64.1 266.7 64.4 266.2 64.8 265.8 65.0 265.1 65.5 264.6 65.9 264.2 66.4 263.8 66.8 263.2 67.3 262.6 67.7 262.2 68.0 261.7 68.5 261.3 68.9 260.8 69.3 260.4 69.6 259.7 70.0 259.2 70.4 258.8 70.9 258.3 71.3 257.8 71.8 257.2 72.2 256.8 72.6 256.3 73.0 255.9 73.3 255.4 73.7 255.0 74.1 254.5 74.5 253.9 74.9 253.2 75.3 252.7 75.4 251.8 75.7 251.4 75.9 250.5 76.3 250.0 76.4 249.1 76.7 248.7 76.8 247.8 76.9 246.9 76.8 246.4 76.7 245.7 76.3 245.3 75.8 245.0 75.4 244.6 74.8 244.2 74.0 244.0 73.6 243.9 72.7 243.8 71.8 243.7 71.0 243.7 70.4 243.8 70.0 243.9 69.1 244.2 68.4 244.6 67.8 245.1 67.5 245.5 67.2 246.1 66.8 246.6 66.4 247.1 65.9 247.7 65.5 248.2 65.2 248.7 65.0 249.3 64.6 250.0 64.2 250.5 64.0 251.4 63.7 251.8 63.6 252.7 63.3 253.2 63.1 254.1 62.9 254.5 62.8 255.4 62.5 255.9 62.3 256.8 62.0 257.4 61.9 258.1 61.7 258.9 61.4 259.5 61.2 259.9 61.0 260.8 60.7 261.6 60.5 262.2 60.3 262.9 60.1 263.5 59.9 264.4 59.7 264.9 59.5 265.3 59.2 266.0 58.7 266.7 58.5 267.4 58.3 268.0 58.2 268.9 57.9 269.4 57.8 270.3 57.5 270.7 57.3 271.6 56.9 272.1 56.8 272.8 56.5 273.4 56.3 274.3 56.0 274.3 56.0Z M216.9 99.2 217.6 99.1 218.5 99.1 219.4 99.1 220.3 99.2 220.8 99.3 221.5 99.7 221.4 100.6 220.9 101.0 220.3 101.3 219.4 101.5 219.0 101.5 218.1 101.6 217.2 101.6 216.7 101.5 215.8 101.1 215.4 100.8 215.3 100.1 215.7 99.7 216.3 99.4 216.9 99.2 216.9 99.2Z M222.7 52.9 223.5 52.9 223.9 53.0 224.8 53.2 225.6 53.3 226.2 53.6 226.7 53.8 227.5 54.2 228.0 54.5 228.4 54.8 228.9 55.2 229.3 56.0 229.4 56.5 229.3 56.9 229.0 57.8 228.7 58.3 228.4 58.7 228.0 59.2 227.5 59.6 226.9 60.1 226.2 60.5 225.7 60.9 225.3 61.4 224.8 61.7 224.4 62.0 223.9 62.3 223.3 62.8 222.6 63.2 222.1 63.3 221.3 63.2 220.8 63.1 220.3 62.8 219.8 62.3 219.4 61.7 219.2 61.0 219.0 60.4 218.8 59.6 218.8 58.7 218.8 57.8 218.9 56.9 219.0 56.4 219.3 55.6 219.6 55.1 219.9 54.6 220.3 54.1 220.8 53.7 221.4 53.3 222.1 53.0 222.7 52.9 222.7 52.9Z M272.0 57.4 272.5 57.3 273.1 57.4 272.8 57.8 272.5 58.3 272.1 58.9 271.6 59.5 271.2 59.9 270.7 60.4 270.3 60.8 269.8 61.2 269.4 61.6 268.9 62.1 268.5 62.4 268.0 62.8 267.5 63.2 267.0 63.7 266.5 64.1 265.9 64.6 265.3 64.9 264.9 65.2 264.4 65.7 264.0 66.2 263.5 66.6 263.1 67.0 262.6 67.3 262.1 67.7 261.6 68.2 261.2 68.6 260.7 69.1 259.9 69.5 259.5 69.8 259.0 70.2 258.6 70.6 258.1 71.1 257.7 71.4 257.2 71.8 256.6 72.2 256.1 72.7 255.6 73.1 255.1 73.6 254.6 74.0 254.1 74.5 253.6 74.8 253.1 74.9 252.3 75.1 251.5 75.4 250.9 75.7 250.4 75.8 249.6 76.0 248.7 76.2 248.1 76.3 247.3 76.4 246.9 76.3 246.1 75.8 245.6 75.4 245.3 74.9 245.0 74.5 244.6 74.0 244.4 73.1 244.4 72.2 244.2 71.4 244.1 70.9 244.1 70.0 244.2 69.5 244.6 68.6 244.9 68.2 245.4 67.7 246.0 67.4 246.4 67.1 246.9 66.7 247.3 66.3 247.8 65.9 248.5 65.5 249.1 65.1 249.6 64.9 250.1 64.6 250.9 64.1 251.4 64.0 252.3 63.8 252.7 63.6 253.6 63.4 254.1 63.2 255.0 63.0 255.5 62.8 256.3 62.5 256.8 62.3 257.7 62.1 258.4 61.9 259.0 61.7 259.6 61.4 260.4 61.2 261.1 61.0 261.7 60.8 262.5 60.5 263.1 60.3 264.0 60.1 264.4 60.0 265.2 59.6 265.8 59.2 266.2 59.0 266.9 58.7 267.6 58.6 268.5 58.4 269.1 58.3 269.8 58.2 270.6 57.8 271.2 57.6 272.0 57.4 272.0 57.4Z M217.3 99.2 218.1 99.2 219.0 99.1 219.9 99.2 220.3 99.3 221.2 99.7 221.4 100.1 221.2 100.6 220.6 101.0 219.9 101.3 219.0 101.4 218.3 101.5 217.6 101.5 217.2 101.5 216.3 101.2 215.8 101.0 215.5 100.1 215.9 99.7 216.7 99.4 217.3 99.2 217.3 99.2Z M222.0 53.3 222.6 53.2 223.5 53.1 224.4 53.3 224.8 53.5 225.7 53.7 226.2 53.9 226.9 54.2 227.5 54.6 228.0 54.9 228.4 55.3 228.9 56.0 229.0 56.5 228.9 56.9 228.4 57.8 228.2 58.3 227.9 58.7 227.5 59.2 227.0 59.6 226.4 60.1 225.9 60.5 225.3 61.0 224.8 61.4 224.4 61.7 223.9 62.0 223.5 62.4 222.9 62.8 222.1 63.0 221.2 63.0 220.8 62.8 220.2 62.3 219.8 61.9 219.4 61.2 219.2 60.5 219.0 59.6 219.0 59.2 218.9 58.3 219.0 57.4 219.1 56.9 219.3 56.0 219.6 55.6 219.9 55.0 220.3 54.4 220.8 54.0 221.2 53.7 222.0 53.3 222.0 53.3Z M270.6 58.7 271.2 58.7 271.2 58.8 270.7 59.4 270.3 60.0 269.9 60.5 269.5 61.0 269.1 61.4 268.6 61.9 268.1 62.3 267.6 62.7 267.1 63.0 266.7 63.4 266.2 63.9 265.8 64.2 265.2 64.6 264.6 65.0 264.1 65.5 263.8 65.9 263.3 66.4 262.8 66.8 262.2 67.3 261.7 67.6 261.3 68.0 260.8 68.5 260.4 68.9 259.9 69.2 259.4 69.5 258.8 70.0 258.3 70.4 257.8 70.9 257.2 71.3 256.8 71.6 256.3 72.0 255.9 72.4 255.4 72.8 255.0 73.2 254.5 73.7 254.1 74.1 253.3 74.5 252.7 74.6 251.8 74.8 251.4 74.9 250.5 75.3 250.0 75.5 249.1 75.6 248.2 75.8 247.3 75.8 246.4 75.5 246.0 75.1 245.5 74.5 245.2 74.0 245.0 73.6 244.9 72.7 244.7 71.8 244.6 71.3 244.5 70.4 244.6 69.5 244.8 69.1 245.1 68.6 245.5 68.2 246.1 67.7 246.8 67.3 247.3 66.8 247.8 66.4 248.2 66.1 248.7 65.8 249.3 65.5 250.0 65.1 250.5 64.8 250.9 64.5 251.8 64.2 252.3 64.1 253.2 63.9 253.7 63.7 254.5 63.4 255.1 63.2 255.9 63.0 256.4 62.8 257.2 62.5 257.8 62.3 258.6 62.1 259.3 61.9 259.9 61.6 260.6 61.4 261.3 61.3 262.1 61.0 262.6 60.8 263.5 60.5 264.0 60.4 264.9 60.1 265.3 59.9 265.8 59.6 266.6 59.2 267.1 59.0 268.0 58.9 268.9 58.9 269.8 59.0 270.6 58.7 270.6 58.7Z M218.1 99.2 218.5 99.2 219.3 99.2 219.9 99.3 220.8 99.6 221.2 100.1 220.8 100.8 220.3 101.1 219.4 101.3 218.5 101.4 217.6 101.4 216.7 101.3 216.1 101.0 215.6 100.6 215.8 100.0 216.3 99.6 217.2 99.4 218.1 99.2 218.1 99.2Z M221.5 53.8 222.1 53.5 223.0 53.4 223.9 53.5 224.8 53.8 225.3 53.9 226.2 54.2 226.6 54.5 227.1 54.7 227.7 55.1 228.2 55.6 228.5 56.0 228.4 56.7 228.2 57.4 227.9 57.8 227.5 58.4 227.1 59.0 226.6 59.6 226.2 60.0 225.7 60.3 225.3 60.7 224.8 61.1 224.4 61.5 223.7 61.9 223.1 62.3 222.6 62.7 221.7 62.8 220.8 62.5 220.3 62.2 219.9 61.7 219.6 61.0 219.4 60.5 219.2 59.6 219.1 58.7 219.1 57.8 219.2 56.9 219.4 56.3 219.8 55.6 220.1 55.1 220.4 54.7 220.8 54.2 221.5 53.8 221.5 53.8Z M266.5 59.6 267.1 59.5 268.0 59.5 268.5 59.7 268.9 60.5 268.5 61.4 268.0 61.9 267.6 62.2 267.1 62.5 266.7 62.8 266.2 63.2 265.7 63.7 265.1 64.1 264.5 64.6 264.1 65.0 263.7 65.5 263.3 65.9 262.9 66.4 262.3 66.8 261.7 67.2 261.3 67.6 260.8 68.0 260.4 68.5 259.9 68.9 259.5 69.2 258.9 69.5 258.3 70.0 257.8 70.4 257.2 70.8 256.8 71.1 256.3 71.5 255.9 71.8 255.4 72.2 254.9 72.7 254.5 73.1 254.1 73.6 253.5 74.0 252.7 74.3 251.8 74.4 251.4 74.5 250.5 74.8 250.0 75.0 249.1 75.1 248.2 75.3 247.3 75.4 246.5 74.9 246.1 74.5 245.7 74.0 245.5 73.6 245.3 72.7 245.2 71.8 245.1 71.3 244.9 70.4 245.1 69.5 245.3 69.1 245.7 68.6 246.2 68.2 246.8 67.7 247.3 67.4 247.8 67.0 248.2 66.7 248.7 66.3 249.2 65.9 250.0 65.5 250.5 65.3 250.9 64.9 251.6 64.6 252.3 64.4 253.2 64.2 253.6 64.1 254.5 63.8 255.0 63.6 255.9 63.4 256.3 63.2 257.2 62.8 257.7 62.7 258.6 62.4 259.0 62.3 259.9 62.0 260.4 61.8 261.3 61.6 261.8 61.4 262.6 61.1 263.1 61.0 264.0 60.8 264.8 60.5 265.3 60.3 265.8 60.0 266.5 59.6 266.5 59.6Z M216.4 99.7 217.2 99.5 218.1 99.3 219.0 99.3 219.9 99.4 220.7 99.7 221.0 100.1 220.8 100.6 220.0 101.0 219.4 101.2 218.5 101.3 217.6 101.3 216.7 101.2 216.3 101.0 215.8 100.6 215.9 100.1 216.4 99.7 216.4 99.7Z M222.1 53.8 222.6 53.7 223.5 53.7 224.0 53.8 224.8 54.1 225.4 54.2 226.2 54.6 226.6 54.9 227.1 55.2 227.6 55.6 228.0 56.2 228.0 56.7 227.7 57.4 227.4 57.8 227.1 58.4 226.6 59.1 226.2 59.6 225.7 60.0 225.3 60.4 224.8 60.8 224.4 61.1 223.9 61.5 223.3 61.9 222.6 62.3 222.1 62.5 221.2 62.4 220.8 62.2 220.3 61.9 219.9 61.3 219.6 60.5 219.4 60.0 219.3 59.2 219.3 58.3 219.3 57.4 219.4 56.9 219.8 56.0 220.0 55.6 220.3 55.1 220.8 54.6 221.2 54.2 222.1 53.8 222.1 53.8Z M267.1 60.1 267.2 60.1 267.8 60.5 267.6 61.4 267.1 61.7 266.7 61.9 266.1 62.3 265.7 62.8 265.3 63.3 264.9 63.7 264.3 64.1 263.9 64.6 263.5 65.1 263.1 65.7 262.6 66.1 262.2 66.5 261.7 66.8 261.0 67.3 260.6 67.7 260.2 68.2 259.8 68.6 259.1 69.1 258.6 69.4 258.1 69.8 257.7 70.1 257.2 70.4 256.5 70.9 255.9 71.3 255.4 71.7 255.0 72.1 254.5 72.5 254.1 73.0 253.6 73.5 253.2 73.8 252.3 74.0 251.8 74.1 250.9 74.3 250.1 74.5 249.6 74.6 248.7 74.7 247.8 74.8 246.9 74.6 246.4 74.2 246.0 73.6 245.9 73.1 245.7 72.2 245.5 71.4 245.4 70.9 245.4 70.0 245.6 69.5 246.0 69.1 246.4 68.6 246.9 68.2 247.5 67.7 248.2 67.3 248.7 66.9 249.1 66.5 249.6 66.2 250.1 65.9 250.9 65.5 251.4 65.2 251.8 65.0 252.7 64.7 253.2 64.6 254.1 64.3 254.5 64.1 255.4 63.8 256.0 63.7 256.8 63.4 257.2 63.2 258.1 62.9 258.6 62.7 259.5 62.5 259.9 62.3 260.8 62.1 261.5 61.9 262.2 61.7 262.7 61.4 263.5 61.2 264.4 61.1 264.9 61.0 265.8 60.5 266.2 60.3 267.1 60.1 267.1 60.1Z M216.7 99.7 217.2 99.6 218.1 99.4 219.0 99.4 219.9 99.6 220.4 99.7 220.6 100.6 219.9 101.0 219.4 101.1 218.5 101.2 217.6 101.2 216.7 101.1 216.3 100.8 216.1 100.1 216.7 99.7 216.7 99.7Z M221.6 54.2 222.1 54.0 223.0 53.9 223.9 54.1 224.5 54.2 225.3 54.6 225.7 54.8 226.4 55.1 227.0 55.6 227.4 56.0 227.5 56.9 227.1 57.7 226.8 58.3 226.5 58.7 226.2 59.2 225.7 59.7 225.2 60.1 224.7 60.5 224.2 61.0 223.5 61.4 223.0 61.8 222.6 62.1 221.7 62.2 220.8 61.9 220.3 61.5 220.0 61.0 219.8 60.5 219.6 59.6 219.5 58.7 219.5 57.8 219.6 56.9 219.9 56.3 220.3 55.6 220.6 55.1 221.0 54.7 221.6 54.2 221.6 54.2Z M262.6 61.9 263.1 61.8 264.0 61.6 264.9 61.9 265.0 62.3 264.9 62.8 264.4 63.3 263.9 63.7 263.5 64.2 263.1 65.0 262.8 65.5 262.3 65.9 261.7 66.4 261.3 66.6 260.8 66.9 260.4 67.3 259.9 67.9 259.5 68.4 259.0 68.8 258.6 69.1 257.8 69.5 257.2 70.0 256.8 70.3 256.3 70.6 255.9 70.9 255.3 71.3 254.7 71.8 254.2 72.2 253.8 72.7 253.4 73.1 252.7 73.5 252.3 73.7 251.4 73.8 250.5 74.0 250.0 74.1 249.1 74.1 248.2 74.3 247.3 74.3 246.9 74.0 246.4 73.5 246.2 72.7 246.1 71.8 246.1 70.9 246.2 70.0 246.4 69.5 246.9 68.8 247.3 68.4 247.8 68.0 248.3 67.7 248.8 67.3 249.3 66.8 250.0 66.4 250.5 66.2 251.0 65.9 251.8 65.5 252.3 65.3 253.1 65.0 253.6 64.8 254.3 64.6 255.0 64.3 255.6 64.1 256.3 64.0 257.2 63.7 257.7 63.5 258.2 63.2 259.0 63.0 259.6 62.8 260.4 62.6 261.3 62.4 261.7 62.2 262.6 61.9 262.6 61.9Z M217.0 99.7 217.6 99.6 218.5 99.5 219.4 99.6 220.0 99.7 220.5 100.1 220.3 100.6 219.4 101.0 219.0 101.1 218.1 101.1 217.2 101.1 216.7 100.9 216.3 100.6 216.3 100.1 217.0 99.7 217.0 99.7Z M222.3 54.2 223.0 54.2 223.6 54.2 224.4 54.5 224.8 54.7 225.7 55.1 226.2 55.5 226.6 56.0 227.0 56.5 226.8 57.4 226.6 57.8 226.2 58.7 225.8 59.2 225.4 59.6 224.8 60.1 224.4 60.4 223.9 60.8 223.5 61.2 223.0 61.5 222.2 61.9 221.7 61.9 221.2 61.8 220.7 61.4 220.3 61.0 219.9 60.2 219.8 59.6 219.7 58.7 219.7 57.8 219.8 56.9 220.0 56.5 220.3 55.9 220.8 55.2 221.2 54.8 221.7 54.5 222.3 54.2 222.3 54.2Z M261.5 62.8 262.2 62.6 263.1 62.5 263.6 62.8 263.3 63.2 263.1 63.7 262.8 64.6 262.6 65.0 262.2 65.5 261.6 65.9 260.8 66.3 260.4 66.6 259.9 67.1 259.6 67.7 259.3 68.2 258.7 68.6 258.1 69.0 257.7 69.2 257.2 69.5 256.7 70.0 256.0 70.4 255.4 70.8 255.0 71.1 254.5 71.4 254.1 71.8 253.6 72.2 253.2 72.8 252.7 73.2 251.8 73.4 250.9 73.6 250.4 73.6 249.6 73.7 248.7 73.8 247.8 73.8 247.2 73.6 246.8 73.1 246.6 72.2 246.7 71.3 246.9 70.9 247.1 70.0 247.3 69.1 247.6 68.6 248.2 68.2 248.7 67.9 249.1 67.6 249.6 67.1 250.0 66.8 250.9 66.4 251.4 66.2 252.0 65.9 252.7 65.7 253.2 65.5 254.1 65.1 254.5 64.9 255.3 64.6 255.9 64.4 256.8 64.3 257.7 64.2 258.1 63.9 258.6 63.7 259.5 63.4 260.0 63.2 260.8 63.0 261.5 62.8 261.5 62.8Z M217.5 99.7 218.1 99.6 219.0 99.7 219.4 99.7 220.3 100.1 219.9 100.7 219.0 100.9 218.2 101.0 217.6 101.1 217.2 101.0 216.5 100.6 216.7 100.0 217.5 99.7 217.5 99.7Z M221.8 54.7 222.6 54.5 223.5 54.5 224.0 54.7 224.8 55.1 225.3 55.4 225.7 55.7 226.2 56.2 226.5 56.9 226.2 57.8 226.0 58.3 225.7 58.8 225.3 59.3 224.8 59.7 224.4 60.1 223.9 60.5 223.3 61.0 222.6 61.4 222.1 61.6 221.2 61.5 220.8 61.2 220.3 60.6 220.1 60.1 219.9 59.2 219.9 58.7 219.9 57.8 219.9 57.4 220.3 56.5 220.5 56.0 220.8 55.6 221.2 55.1 221.8 54.7 221.8 54.7Z M261.2 63.7 261.7 63.6 262.2 64.1 261.8 65.0 261.3 65.4 260.8 65.6 260.1 65.9 259.7 66.4 259.5 66.9 259.1 67.7 258.7 68.2 258.1 68.6 257.7 68.8 257.2 69.1 256.7 69.5 256.1 70.0 255.4 70.4 255.0 70.7 254.5 71.0 254.1 71.3 253.5 71.8 253.1 72.2 252.7 72.7 251.8 73.1 251.4 73.2 250.6 73.1 250.0 73.1 249.6 73.2 248.7 73.3 247.8 73.3 247.3 73.1 247.1 72.2 247.3 71.5 247.7 70.9 247.8 70.4 247.8 69.5 248.2 68.8 248.7 68.4 249.1 68.1 249.6 67.7 250.1 67.3 250.9 66.9 251.4 66.7 252.2 66.4 252.7 66.2 253.2 65.9 254.0 65.5 254.5 65.3 255.1 65.0 255.9 64.8 256.8 64.7 257.7 64.8 258.6 64.9 259.5 64.9 260.1 64.6 260.6 64.1 261.2 63.7 261.2 63.7Z M216.8 100.1 217.6 99.8 218.5 99.8 219.4 99.9 219.9 100.1 219.7 100.6 219.0 100.8 218.1 100.9 217.2 100.8 216.8 100.1 216.8 100.1Z M221.6 55.1 222.1 54.9 223.0 54.8 223.9 55.0 224.4 55.2 225.0 55.6 225.4 56.0 225.8 56.5 226.0 57.4 225.7 58.1 225.4 58.7 224.9 59.2 224.4 59.6 223.9 60.1 223.5 60.5 223.0 60.9 222.6 61.1 221.7 61.2 221.1 61.0 220.7 60.5 220.3 59.9 220.2 59.2 220.1 58.3 220.2 57.4 220.3 56.9 220.8 56.1 221.1 55.6 221.6 55.1 221.6 55.1Z M255.0 65.5 255.4 65.3 256.3 65.1 257.2 65.2 258.1 65.5 258.6 65.8 258.9 66.4 258.8 67.3 258.6 67.7 258.0 68.2 257.3 68.6 256.8 69.0 256.3 69.4 255.9 69.7 255.4 70.0 254.8 70.4 254.1 70.9 253.6 71.2 253.2 71.5 252.7 72.1 252.3 72.5 251.6 72.7 251.3 72.7 250.5 72.5 249.6 72.6 249.1 72.7 248.2 72.8 247.8 72.4 247.8 72.1 248.2 71.3 248.5 70.9 248.7 70.0 248.7 69.4 249.1 68.8 249.6 68.4 250.0 68.0 250.5 67.7 251.2 67.3 251.8 67.0 252.5 66.8 253.2 66.5 253.6 66.2 254.1 65.9 255.0 65.5 255.0 65.5Z M217.1 100.1 217.6 100.0 218.5 99.9 219.4 100.1 219.4 100.2 219.0 100.6 218.1 100.8 217.2 100.6 217.1 100.1 217.1 100.1Z M222.4 55.1 223.0 55.1 223.5 55.2 224.3 55.6 224.8 56.0 225.1 56.5 225.4 56.9 225.4 57.8 225.2 58.3 224.8 58.8 224.4 59.2 223.9 59.7 223.5 60.1 223.0 60.5 222.1 60.9 221.2 60.6 220.8 60.1 220.6 59.6 220.5 58.7 220.4 57.8 220.6 56.9 220.9 56.5 221.2 55.9 221.7 55.4 222.4 55.1 222.4 55.1Z M255.0 65.9 255.4 65.8 256.3 65.6 257.2 65.7 257.8 65.9 258.2 66.4 258.2 67.3 257.8 67.7 257.3 68.2 256.8 68.5 256.3 68.9 255.9 69.2 255.4 69.6 254.9 70.0 254.1 70.4 253.6 70.7 253.2 71.0 252.6 71.3 252.0 71.8 251.6 71.8 251.2 71.3 250.8 70.9 250.3 70.4 249.9 70.0 249.8 69.1 250.2 68.6 250.8 68.2 251.4 67.9 251.8 67.7 252.7 67.3 253.2 67.1 253.6 66.8 254.2 66.4 255.0 65.9 255.0 65.9Z M217.7 100.1 218.1 100.1 218.5 100.1 218.7 100.1 218.5 100.3 218.2 100.6 218.1 100.6 218.0 100.6 217.7 100.1Z M222.1 55.6 222.6 55.5 223.3 55.6 223.9 56.0 224.4 56.4 224.7 56.9 224.9 57.4 224.8 57.9 224.4 58.7 224.0 59.2 223.6 59.6 223.1 60.1 222.6 60.4 221.7 60.4 221.2 59.9 221.0 59.2 220.8 58.5 220.7 57.8 220.8 57.4 221.2 56.5 221.5 56.0 222.1 55.6 222.1 55.6Z M255.2 66.4 255.9 66.2 256.8 66.1 257.4 66.4 257.5 67.3 257.1 67.7 256.6 68.2 256.0 68.6 255.4 69.0 255.0 69.4 254.5 69.7 254.1 70.0 253.2 70.4 252.7 70.5 251.8 70.6 251.4 70.3 250.9 69.8 250.9 69.1 251.4 68.7 251.8 68.5 252.3 68.2 253.1 67.7 253.6 67.4 254.1 67.1 254.5 66.7 255.2 66.4 255.2 66.4Z M222.3 56.0 223.0 56.0 223.5 56.4 223.9 56.9 224.2 57.4 224.1 58.3 223.9 58.7 223.5 59.3 223.0 59.7 222.1 60.1 221.7 59.6 221.4 58.7 221.2 58.3 221.2 57.4 221.4 56.9 221.7 56.4 222.3 56.0 222.3 56.0Z M255.8 66.8 256.3 66.8 256.6 67.3 256.3 67.8 255.7 68.2 255.0 68.6 254.5 69.0 254.1 69.3 253.6 69.6 252.7 69.7 252.5 69.1 252.9 68.6 253.6 68.2 254.1 67.9 254.5 67.5 255.0 67.2 255.8 66.8 255.8 66.8Z M222.1 56.9 222.6 56.8 223.0 57.1 223.5 57.8 223.5 58.3 223.3 58.7 223.0 59.2 222.1 59.3 221.9 58.7 221.7 57.8 222.1 56.9 222.1 56.9Z" fill="none" stroke="#000" stroke-width="0.55"/>
<path clip-path="url(#c1)" d="M221.7 56.0 222.1 55.7 223.0 55.7 223.8 56.0 224.2 56.5 224.5 56.9 224.7 57.8 224.4 58.5 223.9 59.1 223.5 59.6 223.0 60.0 222.6 60.3 221.7 60.2 221.3 59.6 221.1 59.2 220.9 58.3 220.9 57.4 221.2 56.6 221.7 56.0 221.7 56.0Z M255.8 66.4 256.3 66.3 256.9 66.4 257.3 66.8 257.2 67.3 256.8 67.8 256.3 68.2 255.7 68.6 255.1 69.1 254.5 69.5 254.1 69.8 253.6 70.1 252.7 70.3 251.8 70.2 251.4 69.8 251.4 69.1 251.8 68.8 252.3 68.5 252.7 68.2 253.5 67.7 254.1 67.3 254.5 66.9 255.0 66.7 255.8 66.4 255.8 66.4Z M222.3 56.5 222.8 56.5 223.4 56.9 223.6 57.4 223.7 58.3 223.5 58.8 223.0 59.4 222.6 59.7 222.1 59.6 221.7 58.7 221.6 58.3 221.6 57.4 221.7 56.9 222.3 56.5 222.3 56.5Z" fill="none" stroke="#fff" stroke-width="0.35"/>
<path d="M214.5 44.4L237 43.5L246.7 50L225.5 71.2L218.2 70.9L214.4 61Z" fill="none" stroke="#000" stroke-width="0.8"/>
<path d="M251 50.9L276.5 47.5L292 48.2L292 100L216.6 100.6L221.6 80.5Z" fill="none" stroke="#000" stroke-width="0.8"/>
<rect x="213.8" y="22.3" width="80" height="80.1" fill="none" stroke="#7a7a7a" stroke-width="0.55"/>
<text transform="translate(208.6,30) scale(1.1,1)" y="2.65" font-size="7.4" text-anchor="end" fill="#1a1a1a" stroke="#1a1a1a" stroke-width="0.08">10<tspan font-size="4.9" dy="-2.9">5</tspan></text>
<text transform="translate(208.6,49.1) scale(1.1,1)" y="2.65" font-size="7.4" text-anchor="end" fill="#1a1a1a" stroke="#1a1a1a" stroke-width="0.08">10<tspan font-size="4.9" dy="-2.9">4</tspan></text>
<text transform="translate(208.6,70.6) scale(1.1,1)" y="2.65" font-size="7.4" text-anchor="end" fill="#1a1a1a" stroke="#1a1a1a" stroke-width="0.08">10<tspan font-size="4.9" dy="-2.9">3</tspan></text>
<text transform="translate(208.6,84.3) scale(1.1,1)" y="2.65" font-size="7.4" text-anchor="end" fill="#1a1a1a" stroke="#1a1a1a" stroke-width="0.08">0</text>
<text transform="translate(208.6,96.2) scale(1.1,1)" y="2.65" font-size="7.4" text-anchor="end" fill="#1a1a1a" stroke="#1a1a1a" stroke-width="0.08">−10<tspan font-size="4.9" dy="-2.9">3</tspan></text>
<text transform="translate(218.8,111.6) rotate(-45) scale(1.1,1)" y="0" font-size="7.5" text-anchor="end" fill="#1a1a1a" stroke="#1a1a1a" stroke-width="0.08">0</text>
<text transform="translate(232.6,111.6) rotate(-45) scale(1.1,1)" y="0" font-size="7.5" text-anchor="end" fill="#1a1a1a" stroke="#1a1a1a" stroke-width="0.08">50,000</text>
<text transform="translate(247.9,111.6) rotate(-45) scale(1.1,1)" y="0" font-size="7.5" text-anchor="end" fill="#1a1a1a" stroke="#1a1a1a" stroke-width="0.08">100,000</text>
<text transform="translate(263.2,111.6) rotate(-45) scale(1.1,1)" y="0" font-size="7.5" text-anchor="end" fill="#1a1a1a" stroke="#1a1a1a" stroke-width="0.08">150,000</text>
<text transform="translate(278.5,111.6) rotate(-45) scale(1.1,1)" y="0" font-size="7.5" text-anchor="end" fill="#1a1a1a" stroke="#1a1a1a" stroke-width="0.08">200,000</text>
<text transform="translate(293.8,111.6) rotate(-45) scale(1.1,1)" y="0" font-size="7.5" text-anchor="end" fill="#1a1a1a" stroke="#1a1a1a" stroke-width="0.08">250,000</text>
<text transform="translate(254,142.7)" y="3.04" font-size="8.5" text-anchor="middle" fill="#1a1a1a" stroke="#1a1a1a" stroke-width="0.08" textLength="24.7" lengthAdjust="spacingAndGlyphs">SSC-A</text>
<text transform="translate(181.9,62.4) rotate(-90)" y="3.04" font-size="8.5" text-anchor="middle" fill="#1a1a1a" stroke="#1a1a1a" stroke-width="0.08" textLength="20.5" lengthAdjust="spacingAndGlyphs">B220</text>
<line x1="285.6" y1="91.1" x2="304.9" y2="91.1" stroke="#000" stroke-width="1.15"/><path d="M306.9 91.1l-3.6 -1.7v3.4z" fill="#000"/>
<text transform="translate(369.6,14.4)" y="3.04" font-size="8.5" text-anchor="middle" fill="#1a1a1a" stroke="#1a1a1a" stroke-width="0.08" textLength="25.2" lengthAdjust="spacingAndGlyphs">T cells</text>
<clipPath id="c2"><rect x="331.1" y="22.3" width="80.4" height="80.1"/></clipPath>
<path clip-path="url(#c2)" d="M379.8 52.9 380.6 52.8 381.5 52.7 382.4 52.6 383.3 52.5 384.2 52.5 385.1 52.7 386.0 52.8 386.4 52.9 387.3 53.0 388.2 53.2 388.7 53.4 389.3 53.8 390.0 54.2 390.5 54.6 390.9 55.1 391.2 55.6 391.4 56.5 391.3 57.4 391.1 58.3 390.9 58.7 390.5 59.3 390.0 59.8 389.6 60.2 389.1 60.7 388.7 61.1 388.2 61.4 387.6 61.9 387.0 62.3 386.4 62.8 386.0 63.1 385.5 63.3 384.9 63.7 384.2 64.1 383.7 64.4 383.3 64.6 382.6 65.0 381.9 65.5 381.5 65.8 381.0 66.1 380.6 66.4 379.9 66.8 379.4 67.3 378.9 67.7 378.5 68.2 378.1 68.6 377.6 69.1 377.1 69.5 376.6 70.0 376.1 70.4 375.6 70.8 375.2 71.2 374.7 71.6 374.3 71.9 373.8 72.2 373.1 72.7 372.5 73.1 372.0 73.3 371.6 73.6 370.8 74.0 370.2 74.4 369.8 74.6 369.2 74.9 368.4 75.3 368.0 75.5 367.4 75.8 366.6 76.2 366.2 76.4 365.4 76.7 364.8 77.0 364.2 77.2 363.5 77.5 362.9 77.6 362.1 77.9 361.2 78.1 360.8 78.2 359.9 78.3 359.0 78.3 358.1 78.4 357.2 78.4 356.3 78.3 355.4 78.2 354.5 78.1 354.0 78.1 353.1 77.8 352.7 77.6 352.1 77.2 351.5 76.7 351.2 76.3 350.9 75.4 350.8 74.9 350.7 74.0 350.6 73.1 350.8 72.2 350.9 71.8 351.3 70.9 351.7 70.4 352.0 70.0 352.3 69.5 352.7 69.0 353.1 68.3 353.5 67.7 353.7 67.3 354.0 66.8 354.5 66.3 354.9 65.9 355.4 65.5 355.8 65.0 356.3 64.6 356.8 64.1 357.3 63.7 357.7 63.2 358.3 62.8 358.8 62.3 359.4 61.9 359.9 61.5 360.3 61.2 360.8 60.9 361.4 60.5 362.0 60.1 362.6 59.7 363.0 59.5 363.6 59.2 364.4 58.8 364.8 58.5 365.3 58.3 366.1 57.8 366.6 57.5 367.1 57.3 367.7 56.9 368.4 56.5 368.9 56.3 369.4 56.0 370.2 55.7 370.7 55.5 371.5 55.1 372.0 55.0 372.9 54.7 373.4 54.6 374.2 54.2 374.7 54.0 375.5 53.8 376.1 53.6 377.0 53.3 377.4 53.2 378.3 53.1 379.2 53.0 379.8 52.9 379.8 52.9Z" fill="#000" fill-opacity="0.7" stroke="none"/>
<path clip-path="url(#c2)" d="M339.5 46.1 340.1 45.9 341.0 46.1 341.4 46.5 341.9 47.0 342.1 47.5 342.3 48.0 342.6 48.8 342.8 49.7 342.9 50.2 343.0 51.1 343.0 52.0 343.0 52.9 342.9 53.8 342.8 54.5 342.7 55.1 342.4 56.0 342.2 56.5 341.9 57.0 341.4 57.6 341.0 58.0 340.1 58.2 339.4 57.8 338.9 57.4 338.6 56.9 338.3 56.4 338.0 55.6 337.8 55.1 337.6 54.2 337.4 53.3 337.4 52.9 337.4 52.0 337.4 51.3 337.5 50.6 337.6 49.7 337.8 48.8 337.9 48.4 338.3 47.5 338.6 47.0 338.9 46.6 339.5 46.1 339.5 46.1Z M380.4 47.5 381.0 47.4 381.9 47.3 382.8 47.2 383.7 47.1 384.6 47.1 385.5 47.1 386.4 47.1 387.3 47.1 388.2 47.1 389.1 47.2 390.0 47.3 390.9 47.4 391.4 47.5 392.3 47.7 393.2 47.9 393.6 48.0 394.5 48.3 395.0 48.5 395.9 48.8 396.3 49.0 397.0 49.3 397.7 49.6 398.1 49.8 398.7 50.2 399.3 50.6 399.8 51.1 400.2 51.5 400.7 52.0 401.0 52.4 401.3 53.0 401.6 53.8 401.7 54.6 401.8 55.1 401.8 56.0 401.7 56.5 401.5 57.4 401.3 57.9 400.8 58.7 400.5 59.2 400.2 59.6 399.8 60.1 399.5 60.5 399.0 61.0 398.5 61.4 398.1 61.9 397.6 62.3 397.1 62.8 396.4 63.2 395.9 63.6 395.4 63.9 395.0 64.2 394.5 64.6 393.8 65.0 393.2 65.5 392.7 65.8 392.3 66.1 391.7 66.4 391.0 66.8 390.5 67.1 390.0 67.4 389.4 67.7 388.7 68.2 388.2 68.5 387.8 68.9 387.3 69.2 386.9 69.6 386.4 70.0 385.8 70.4 385.3 70.9 384.8 71.3 384.3 71.8 383.8 72.2 383.3 72.7 382.8 73.1 382.4 73.4 381.9 73.7 381.5 74.1 380.9 74.5 380.2 74.9 379.7 75.3 379.2 75.6 378.8 75.9 378.3 76.3 377.6 76.7 377.0 77.1 376.5 77.5 376.1 77.8 375.5 78.1 374.7 78.5 374.3 78.7 373.8 79.0 373.0 79.4 372.5 79.7 372.0 79.9 371.1 80.3 370.7 80.5 370.0 80.8 369.3 81.1 368.9 81.3 368.0 81.6 367.5 81.8 366.7 82.1 366.2 82.3 365.5 82.6 364.8 82.9 364.4 83.0 363.5 83.4 363.0 83.6 362.1 83.9 361.7 84.1 360.8 84.4 360.3 84.6 359.4 84.8 359.0 84.9 358.1 85.2 357.6 85.3 356.7 85.6 356.1 85.7 355.4 86.0 354.6 86.2 354.0 86.3 353.1 86.5 352.7 86.6 351.8 86.9 350.9 86.9 350.0 87.0 349.1 87.1 348.2 87.1 347.3 87.1 346.4 87.0 345.5 86.9 344.6 86.8 344.0 86.6 343.2 86.3 342.8 86.1 342.2 85.7 341.4 85.4 341.0 85.1 340.5 84.8 340.1 84.3 339.6 83.7 339.3 83.0 339.1 82.6 338.8 81.7 338.7 81.2 338.5 80.3 338.5 79.4 338.5 78.5 338.6 77.6 338.7 77.1 339.0 76.3 339.2 75.7 339.5 74.9 339.7 74.5 340.1 73.7 340.4 73.1 340.6 72.7 341.0 72.0 341.4 71.3 341.8 70.9 342.1 70.4 342.4 70.0 342.8 69.5 343.2 68.8 343.7 68.2 344.0 67.7 344.4 67.3 344.8 66.8 345.2 66.4 345.6 65.9 346.0 65.5 346.4 65.0 346.9 64.6 347.3 64.1 347.8 63.7 348.3 63.2 348.8 62.8 349.3 62.3 349.8 61.9 350.3 61.4 350.9 61.0 351.3 60.6 351.8 60.2 352.2 59.8 352.7 59.4 353.1 59.0 353.6 58.7 354.1 58.3 354.7 57.8 355.4 57.4 355.8 57.1 356.3 56.8 356.8 56.5 357.4 56.0 358.1 55.6 358.5 55.3 359.0 55.0 359.6 54.7 360.3 54.3 360.8 54.1 361.3 53.8 362.1 53.4 362.6 53.1 363.0 52.9 363.8 52.4 364.4 52.1 364.8 51.9 365.7 51.5 366.2 51.3 366.7 51.1 367.5 50.7 368.0 50.5 368.9 50.2 369.3 50.0 370.2 49.8 370.7 49.6 371.6 49.3 372.0 49.1 372.9 48.9 373.4 48.8 374.3 48.5 375.0 48.4 375.6 48.3 376.5 48.1 377.3 47.9 377.9 47.8 378.8 47.7 379.7 47.6 380.4 47.5 380.4 47.5Z M340.0 47.0 340.3 47.0 341.0 47.3 341.4 47.7 341.8 48.4 342.0 48.8 342.2 49.7 342.3 50.4 342.5 51.1 342.5 52.0 342.4 52.9 342.3 53.7 342.2 54.2 342.0 55.1 341.8 55.6 341.4 56.2 341.0 56.7 340.5 57.0 339.9 56.9 339.3 56.5 338.9 56.0 338.7 55.6 338.3 54.7 338.1 54.2 338.0 53.3 337.9 52.4 337.9 51.5 338.0 50.6 338.1 49.7 338.3 49.1 338.6 48.4 338.8 47.9 339.2 47.5 340.0 47.0 340.0 47.0Z M380.4 48.4 381.0 48.3 381.9 48.2 382.8 48.1 383.7 48.0 384.6 48.1 385.5 48.1 386.4 48.1 387.3 48.1 388.2 48.0 389.1 48.1 390.0 48.3 390.8 48.4 391.4 48.5 392.3 48.8 392.7 48.9 393.6 49.1 394.1 49.3 395.0 49.7 395.4 49.9 396.1 50.2 396.8 50.6 397.2 50.9 397.7 51.2 398.1 51.6 398.6 52.0 399.0 52.5 399.5 53.0 399.9 53.7 400.1 54.2 400.2 55.1 400.2 56.0 400.0 56.9 399.9 57.4 399.5 58.1 399.1 58.7 398.9 59.2 398.5 59.6 398.1 60.1 397.7 60.6 397.2 61.1 396.8 61.5 396.3 61.9 395.8 62.3 395.2 62.8 394.6 63.2 394.1 63.6 393.6 64.0 393.2 64.3 392.7 64.6 392.0 65.0 391.4 65.4 390.9 65.7 390.5 65.9 389.7 66.4 389.1 66.7 388.7 67.0 388.2 67.3 387.5 67.7 386.9 68.2 386.4 68.6 386.0 68.9 385.5 69.3 385.1 69.6 384.6 70.0 384.1 70.4 383.6 70.9 383.0 71.3 382.5 71.8 382.0 72.2 381.5 72.6 381.0 73.0 380.6 73.4 380.1 73.7 379.7 74.1 379.1 74.5 378.5 74.9 377.9 75.4 377.4 75.7 377.0 76.0 376.5 76.3 375.9 76.7 375.2 77.1 374.7 77.4 374.2 77.6 373.4 78.1 372.9 78.4 372.5 78.6 371.7 79.0 371.1 79.3 370.7 79.5 369.8 79.8 369.3 80.0 368.6 80.3 368.0 80.6 367.5 80.8 366.6 81.2 366.2 81.3 365.3 81.7 364.8 81.8 364.0 82.1 363.5 82.4 362.8 82.6 362.1 82.8 361.4 83.0 360.8 83.3 360.3 83.5 359.4 83.8 358.6 83.9 358.1 84.1 357.2 84.3 356.7 84.4 355.8 84.7 355.2 84.8 354.5 85.1 353.6 85.2 353.1 85.3 352.2 85.5 351.3 85.6 350.4 85.7 349.5 85.7 348.6 85.7 347.7 85.6 346.8 85.5 345.9 85.4 345.5 85.3 344.6 85.0 344.1 84.8 343.5 84.4 342.8 84.0 342.3 83.6 341.9 83.3 341.4 82.7 341.1 82.1 340.8 81.7 340.5 80.9 340.4 80.3 340.3 79.4 340.4 78.5 340.5 77.6 340.6 77.2 340.7 76.3 341.0 75.4 341.1 74.9 341.4 74.2 341.8 73.6 342.0 73.1 342.3 72.6 342.8 71.9 343.2 71.3 343.4 70.9 343.7 70.4 344.1 69.8 344.6 69.1 345.0 68.6 345.3 68.2 345.6 67.7 346.0 67.3 346.4 66.8 346.8 66.4 347.3 65.9 347.7 65.4 348.2 64.9 348.6 64.5 349.1 64.1 349.5 63.7 350.0 63.2 350.5 62.8 351.0 62.3 351.5 61.9 352.0 61.4 352.5 61.0 353.0 60.5 353.6 60.1 354.0 59.7 354.5 59.4 354.9 59.0 355.4 58.7 356.0 58.3 356.6 57.8 357.2 57.4 357.6 57.1 358.1 56.8 358.5 56.5 359.2 56.0 359.9 55.7 360.3 55.4 361.0 55.1 361.7 54.8 362.1 54.5 362.6 54.2 363.5 53.8 363.9 53.5 364.4 53.3 365.2 52.9 365.7 52.6 366.2 52.4 367.1 52.0 367.5 51.8 368.1 51.5 368.9 51.2 369.3 51.1 370.2 50.7 370.7 50.6 371.6 50.3 372.0 50.1 372.9 49.9 373.4 49.7 374.3 49.5 375.1 49.3 375.6 49.2 376.5 49.0 377.4 48.8 377.9 48.7 378.8 48.6 379.7 48.5 380.4 48.4 380.4 48.4Z M339.5 48.4 340.1 48.1 340.9 48.4 341.3 48.8 341.5 49.3 341.7 50.2 341.9 51.1 341.9 51.5 341.9 52.4 341.8 52.9 341.7 53.8 341.4 54.5 341.1 55.1 340.7 55.6 340.1 55.8 339.6 55.5 339.2 55.1 338.8 54.2 338.6 53.8 338.5 52.9 338.4 52.0 338.5 51.1 338.7 50.2 338.8 49.7 339.1 48.8 339.5 48.4 339.5 48.4Z M383.7 48.8 384.2 48.8 384.6 48.9 385.5 48.9 386.4 48.9 387.3 48.9 388.2 48.9 389.1 49.0 390.0 49.1 390.7 49.3 391.4 49.5 392.3 49.7 392.7 49.9 393.6 50.2 394.1 50.4 394.7 50.6 395.4 51.0 395.9 51.3 396.3 51.6 396.8 52.0 397.3 52.4 397.7 52.9 398.1 53.7 398.4 54.2 398.6 54.7 398.8 55.6 398.6 56.5 398.5 56.9 398.1 57.7 397.9 58.3 397.7 58.7 397.2 59.5 396.8 60.1 396.4 60.5 395.9 61.0 395.4 61.4 395.0 61.7 394.5 62.1 394.1 62.5 393.6 62.8 393.1 63.2 392.5 63.7 391.8 64.1 391.4 64.4 390.9 64.7 390.3 65.0 389.6 65.5 389.1 65.7 388.7 66.0 388.0 66.4 387.3 66.8 386.9 67.1 386.4 67.4 385.9 67.7 385.3 68.2 384.8 68.6 384.2 69.1 383.7 69.5 383.3 69.8 382.8 70.2 382.4 70.6 381.9 71.0 381.5 71.4 381.0 71.8 380.4 72.2 379.9 72.7 379.4 73.1 378.8 73.6 378.3 73.9 377.9 74.2 377.4 74.6 376.9 74.9 376.3 75.4 375.6 75.8 375.2 76.1 374.7 76.4 374.0 76.7 373.4 77.1 372.9 77.4 372.5 77.6 371.6 78.1 371.1 78.3 370.6 78.5 369.8 78.9 369.3 79.1 368.6 79.4 368.0 79.7 367.5 79.9 366.6 80.3 366.2 80.5 365.3 80.8 364.8 80.9 364.0 81.2 363.5 81.4 362.7 81.7 362.1 81.9 361.2 82.1 360.8 82.3 360.0 82.6 359.4 82.8 358.5 83.0 358.1 83.1 357.2 83.3 356.5 83.5 355.8 83.7 354.9 83.9 354.4 83.9 353.6 84.1 352.7 84.3 351.8 84.4 351.3 84.4 350.4 84.4 349.5 84.4 348.9 84.4 348.2 84.3 347.3 84.2 346.5 83.9 345.9 83.7 345.5 83.5 344.8 83.0 344.1 82.6 343.7 82.2 343.2 81.8 342.8 81.2 342.6 80.8 342.3 80.0 342.2 79.4 342.2 78.5 342.1 77.6 342.1 76.7 342.3 76.0 342.5 75.4 342.8 74.6 343.0 74.0 343.2 73.5 343.7 72.7 343.9 72.2 344.2 71.8 344.6 71.1 345.0 70.4 345.4 70.0 345.7 69.5 346.0 69.1 346.4 68.6 346.8 68.0 347.3 67.5 347.7 67.0 348.2 66.5 348.6 65.9 349.0 65.5 349.5 65.0 350.0 64.6 350.4 64.2 350.9 63.7 351.3 63.3 351.8 62.8 352.2 62.4 352.7 62.0 353.1 61.7 353.6 61.3 354.0 60.9 354.5 60.5 355.1 60.1 355.6 59.6 356.2 59.2 356.7 58.8 357.2 58.5 357.6 58.1 358.1 57.8 358.7 57.4 359.4 56.9 359.9 56.7 360.3 56.4 361.1 56.0 361.7 55.7 362.1 55.5 362.7 55.1 363.5 54.8 363.9 54.5 364.5 54.2 365.3 53.8 365.7 53.6 366.2 53.3 367.1 52.9 367.5 52.7 368.2 52.4 368.9 52.1 369.3 52.0 370.2 51.6 370.7 51.4 371.6 51.1 372.0 51.0 372.9 50.7 373.4 50.6 374.3 50.3 374.7 50.2 375.6 50.0 376.5 49.8 377.0 49.7 377.9 49.5 378.8 49.4 379.3 49.3 380.1 49.2 381.0 49.1 381.9 49.0 382.8 48.9 383.7 48.8 383.7 48.8Z M339.8 49.7 340.5 49.6 341.0 50.2 341.1 50.6 341.3 51.5 341.2 52.4 341.0 53.3 340.8 53.8 340.4 54.2 339.9 54.2 339.5 53.8 339.2 53.1 339.1 52.4 339.2 51.5 339.3 51.1 339.5 50.2 339.8 49.7 339.8 49.7Z M381.1 49.7 381.9 49.6 382.8 49.6 383.7 49.5 384.6 49.5 385.5 49.5 386.4 49.6 387.3 49.6 388.2 49.7 388.8 49.7 389.6 49.9 390.5 50.0 391.1 50.2 391.8 50.4 392.4 50.6 393.2 50.9 393.6 51.2 394.4 51.5 395.0 52.0 395.4 52.3 395.9 52.7 396.3 53.1 396.8 53.8 397.0 54.2 397.2 55.0 397.4 55.6 397.3 56.5 397.2 56.9 396.9 57.8 396.7 58.3 396.3 59.1 396.0 59.6 395.6 60.1 395.0 60.5 394.5 61.0 394.1 61.4 393.6 61.8 393.2 62.1 392.7 62.5 392.3 62.8 391.7 63.2 391.1 63.7 390.5 64.1 390.0 64.3 389.6 64.6 388.8 65.0 388.2 65.4 387.8 65.6 387.2 65.9 386.4 66.4 386.0 66.7 385.5 67.0 385.1 67.3 384.5 67.7 384.0 68.2 383.4 68.6 382.8 69.1 382.4 69.4 381.9 69.8 381.5 70.3 381.0 70.7 380.6 71.1 380.1 71.4 379.7 71.8 379.2 72.2 378.6 72.7 378.0 73.1 377.4 73.5 377.0 73.9 376.5 74.2 376.1 74.5 375.5 74.9 374.8 75.4 374.3 75.7 373.8 76.0 373.3 76.3 372.5 76.7 372.0 77.0 371.6 77.2 370.7 77.6 370.2 77.8 369.7 78.1 368.9 78.5 368.4 78.7 367.9 79.0 367.1 79.4 366.6 79.6 365.7 79.9 365.3 80.0 364.4 80.3 363.9 80.5 363.1 80.8 362.6 81.0 361.7 81.2 361.2 81.4 360.3 81.6 359.9 81.8 359.0 82.0 358.3 82.1 357.6 82.3 356.7 82.6 356.3 82.7 355.4 82.8 354.5 82.9 353.7 83.0 353.1 83.1 352.2 83.3 351.3 83.3 350.4 83.2 349.5 83.2 348.6 83.1 348.2 83.0 347.3 82.7 346.8 82.4 346.3 82.1 345.5 81.8 345.0 81.5 344.6 81.0 344.2 80.3 344.1 79.9 343.9 79.0 343.7 78.4 343.6 77.6 343.7 76.7 343.8 76.3 343.9 75.4 344.1 74.5 344.3 74.0 344.6 73.3 344.9 72.7 345.1 72.2 345.5 71.5 345.9 70.9 346.2 70.4 346.6 70.0 346.9 69.5 347.3 69.0 347.7 68.5 348.2 68.0 348.6 67.5 349.1 66.9 349.5 66.4 349.9 65.9 350.3 65.5 350.8 65.0 351.2 64.6 351.6 64.1 352.1 63.7 352.5 63.2 353.0 62.8 353.6 62.4 354.0 62.0 354.5 61.6 354.9 61.3 355.4 60.9 355.9 60.5 356.4 60.1 356.9 59.6 357.5 59.2 358.1 58.7 358.5 58.4 359.0 58.1 359.5 57.8 360.3 57.4 360.8 57.1 361.2 56.9 361.8 56.5 362.6 56.0 363.0 55.8 363.5 55.6 364.4 55.1 364.8 54.9 365.3 54.7 366.1 54.2 366.6 54.0 367.1 53.8 368.0 53.4 368.4 53.1 369.0 52.9 369.8 52.5 370.2 52.3 371.1 52.0 371.6 51.8 372.5 51.6 372.9 51.4 373.8 51.2 374.3 51.0 375.2 50.8 375.8 50.6 376.5 50.5 377.4 50.3 377.9 50.2 378.8 50.0 379.7 49.9 380.6 49.8 381.1 49.7 381.1 49.7Z M379.6 50.6 380.1 50.6 381.0 50.4 381.9 50.3 382.8 50.3 383.7 50.2 384.6 50.2 385.5 50.2 386.4 50.2 387.3 50.3 388.2 50.5 389.1 50.6 389.6 50.7 390.5 50.9 391.3 51.1 391.8 51.3 392.4 51.5 393.2 52.0 393.6 52.3 394.1 52.7 394.5 53.1 395.0 53.6 395.4 54.2 395.7 54.7 395.9 55.3 396.0 56.0 396.0 56.9 395.9 57.5 395.6 58.3 395.4 58.7 395.0 59.2 394.5 59.7 394.1 60.1 393.6 60.6 393.2 61.1 392.7 61.5 392.2 61.9 391.7 62.3 391.1 62.8 390.5 63.2 390.0 63.5 389.6 63.7 388.9 64.1 388.2 64.5 387.8 64.8 387.3 65.0 386.5 65.5 386.0 65.8 385.5 66.1 385.1 66.4 384.5 66.8 383.8 67.3 383.3 67.7 382.8 68.0 382.4 68.4 381.9 68.8 381.5 69.2 381.0 69.6 380.6 70.1 380.1 70.5 379.6 70.9 379.0 71.3 378.4 71.8 377.9 72.2 377.4 72.6 377.0 72.9 376.5 73.3 376.1 73.6 375.4 74.0 374.8 74.5 374.3 74.8 373.8 75.1 373.3 75.4 372.6 75.8 372.0 76.2 371.6 76.4 370.8 76.7 370.2 77.0 369.8 77.2 369.0 77.6 368.4 77.9 368.0 78.2 367.2 78.5 366.6 78.8 366.1 79.0 365.3 79.3 364.7 79.4 363.9 79.7 363.4 79.9 362.6 80.2 362.1 80.4 361.2 80.6 360.6 80.8 359.9 81.0 359.0 81.2 358.5 81.3 357.6 81.4 356.7 81.6 356.3 81.7 355.4 81.8 354.5 81.9 353.6 82.0 352.7 82.1 351.8 82.0 350.9 82.0 350.0 81.9 349.2 81.7 348.6 81.5 348.1 81.2 347.3 80.9 346.8 80.7 346.4 80.3 345.9 79.6 345.8 79.0 345.5 78.1 345.4 77.6 345.3 76.7 345.3 75.8 345.5 75.0 345.6 74.5 345.8 73.6 345.9 73.1 346.4 72.2 346.6 71.8 346.9 71.3 347.3 70.8 347.7 70.2 348.2 69.6 348.6 69.1 348.9 68.6 349.2 68.2 349.6 67.7 350.0 67.2 350.4 66.7 350.9 66.1 351.3 65.6 351.8 65.1 352.2 64.6 352.7 64.2 353.1 63.8 353.6 63.4 354.0 63.1 354.5 62.7 354.9 62.3 355.5 61.9 356.0 61.4 356.6 61.0 357.1 60.5 357.6 60.1 358.1 59.7 358.5 59.3 359.0 59.0 359.5 58.7 360.3 58.3 360.8 58.0 361.2 57.8 361.8 57.4 362.5 56.9 363.0 56.6 363.5 56.4 364.1 56.0 364.8 55.7 365.3 55.5 366.0 55.1 366.6 54.8 367.1 54.6 367.7 54.2 368.4 53.9 368.9 53.7 369.6 53.3 370.2 53.1 370.7 52.9 371.6 52.5 372.0 52.4 372.9 52.1 373.4 52.0 374.3 51.7 375.0 51.5 375.6 51.4 376.5 51.1 377.0 51.0 377.9 50.9 378.8 50.7 379.6 50.6 379.6 50.6Z M381.0 51.1 381.5 51.0 382.4 50.9 383.3 50.8 384.2 50.9 385.1 50.9 386.0 50.9 386.9 51.0 387.5 51.1 388.2 51.2 389.1 51.4 390.0 51.5 390.5 51.7 391.4 52.0 391.8 52.3 392.3 52.5 392.8 52.9 393.2 53.3 393.6 53.9 394.1 54.5 394.5 55.1 394.7 55.6 394.9 56.5 394.8 57.4 394.5 58.1 394.1 58.7 393.8 59.2 393.4 59.6 393.0 60.1 392.6 60.5 392.1 61.0 391.6 61.4 391.0 61.9 390.5 62.3 390.0 62.7 389.6 63.0 389.1 63.2 388.3 63.7 387.8 64.0 387.3 64.2 386.8 64.6 386.0 65.0 385.5 65.3 385.1 65.6 384.6 65.9 383.9 66.4 383.3 66.8 382.8 67.1 382.4 67.5 381.9 67.8 381.5 68.2 381.0 68.6 380.5 69.1 380.1 69.5 379.6 70.0 379.0 70.4 378.4 70.9 377.9 71.3 377.4 71.6 377.0 72.0 376.5 72.4 376.1 72.8 375.6 73.1 374.9 73.6 374.3 74.0 373.8 74.3 373.4 74.6 372.8 74.9 372.0 75.4 371.6 75.6 371.1 75.8 370.2 76.3 369.8 76.5 369.3 76.7 368.4 77.2 368.0 77.4 367.5 77.6 366.6 78.1 366.2 78.3 365.3 78.5 364.8 78.7 364.0 79.0 363.5 79.2 362.8 79.4 362.1 79.7 361.4 79.9 360.8 80.1 359.9 80.2 359.3 80.3 358.5 80.5 357.6 80.6 356.7 80.8 356.3 80.8 355.4 80.8 354.5 80.8 353.6 80.9 352.7 81.0 351.8 80.9 351.2 80.8 350.4 80.6 349.7 80.3 349.1 80.1 348.6 79.8 348.1 79.4 347.7 78.9 347.4 78.1 347.2 77.6 346.8 76.9 346.7 76.3 346.8 75.4 346.9 74.9 347.0 74.0 347.3 73.2 347.5 72.7 347.7 72.2 348.2 71.4 348.5 70.9 348.8 70.4 349.1 70.0 349.5 69.3 350.0 68.6 350.3 68.2 350.6 67.7 351.0 67.3 351.3 66.8 351.8 66.3 352.2 65.7 352.7 65.3 353.1 64.8 353.6 64.4 354.0 64.0 354.5 63.7 355.0 63.2 355.6 62.8 356.1 62.3 356.6 61.9 357.2 61.4 357.6 61.0 358.1 60.6 358.5 60.2 359.0 59.9 359.4 59.6 360.2 59.2 360.8 58.8 361.2 58.6 361.7 58.3 362.5 57.8 363.0 57.5 363.5 57.2 363.9 56.9 364.8 56.5 365.3 56.2 365.7 56.0 366.6 55.6 367.1 55.3 367.5 55.1 368.3 54.7 368.9 54.4 369.3 54.2 370.2 53.8 370.7 53.6 371.2 53.3 372.0 53.1 372.7 52.9 373.4 52.7 374.2 52.4 374.7 52.3 375.6 52.0 376.1 51.9 377.0 51.7 377.9 51.5 378.3 51.5 379.2 51.3 380.1 51.2 381.0 51.1 381.0 51.1Z M382.7 51.5 383.3 51.5 384.2 51.5 384.6 51.6 385.5 51.7 386.4 51.7 387.3 51.8 388.2 52.0 388.7 52.0 389.6 52.3 390.0 52.5 390.9 52.9 391.4 53.2 391.8 53.6 392.3 54.1 392.7 54.7 393.1 55.1 393.3 55.6 393.6 56.5 393.5 57.4 393.2 58.1 392.8 58.7 392.5 59.2 392.2 59.6 391.8 60.1 391.3 60.5 390.8 61.0 390.3 61.4 389.7 61.9 389.1 62.3 388.7 62.6 388.2 62.8 387.6 63.2 386.9 63.7 386.4 64.0 386.0 64.3 385.4 64.6 384.7 65.0 384.2 65.3 383.7 65.6 383.2 65.9 382.6 66.4 382.0 66.8 381.5 67.2 381.0 67.5 380.6 67.9 380.1 68.3 379.7 68.7 379.2 69.2 378.8 69.6 378.3 70.0 377.7 70.4 377.2 70.9 376.6 71.3 376.1 71.8 375.6 72.2 375.2 72.5 374.7 72.8 374.3 73.1 373.6 73.6 372.9 74.0 372.5 74.3 372.0 74.5 371.2 74.9 370.7 75.2 370.2 75.5 369.5 75.8 368.9 76.2 368.4 76.4 367.7 76.7 367.1 77.1 366.6 77.3 365.7 77.6 365.3 77.8 364.5 78.1 363.9 78.3 363.2 78.5 362.6 78.8 361.9 79.0 361.2 79.2 360.3 79.3 359.7 79.4 359.0 79.6 358.1 79.7 357.2 79.8 356.3 79.9 355.4 79.8 354.5 79.8 353.6 79.8 352.7 79.8 351.8 79.6 351.2 79.4 350.4 79.1 350.0 78.9 349.5 78.5 349.1 77.8 348.9 77.2 348.6 76.7 348.4 75.8 348.4 74.9 348.6 74.0 348.7 73.6 349.0 72.7 349.2 72.2 349.5 71.3 349.7 70.9 350.0 70.4 350.4 69.7 350.9 69.1 351.2 68.6 351.5 68.2 351.8 67.7 352.2 67.1 352.7 66.5 353.1 66.0 353.6 65.5 354.0 65.1 354.5 64.7 354.9 64.3 355.4 63.9 355.8 63.6 356.3 63.2 356.7 62.7 357.2 62.3 357.7 61.9 358.3 61.4 358.8 61.0 359.4 60.6 359.9 60.3 360.3 60.0 360.9 59.6 361.6 59.2 362.1 58.9 362.6 58.6 363.2 58.3 363.9 57.8 364.4 57.6 364.8 57.3 365.5 56.9 366.2 56.6 366.6 56.3 367.2 56.0 368.0 55.6 368.4 55.4 368.9 55.1 369.8 54.8 370.2 54.6 371.0 54.2 371.6 54.0 372.3 53.8 372.9 53.6 373.7 53.3 374.3 53.1 375.2 52.9 375.6 52.7 376.5 52.5 377.0 52.4 377.9 52.2 378.8 52.1 379.4 52.0 380.1 51.9 381.0 51.8 381.9 51.7 382.7 51.5 382.7 51.5Z M381.2 52.4 381.9 52.3 382.8 52.2 383.7 52.2 384.6 52.3 385.5 52.4 386.0 52.5 386.9 52.6 387.8 52.7 388.7 52.9 389.1 53.1 389.6 53.4 390.2 53.8 390.9 54.2 391.4 54.7 391.7 55.1 391.9 55.6 392.2 56.5 392.1 57.4 391.8 58.0 391.5 58.7 391.2 59.2 390.8 59.6 390.4 60.1 389.9 60.5 389.4 61.0 388.9 61.4 388.2 61.9 387.8 62.2 387.3 62.5 386.9 62.8 386.3 63.2 385.6 63.7 385.1 64.0 384.6 64.2 384.0 64.6 383.3 65.0 382.8 65.3 382.4 65.6 381.9 65.9 381.2 66.4 380.6 66.8 380.1 67.1 379.7 67.5 379.2 68.0 378.8 68.5 378.3 68.9 377.9 69.3 377.4 69.7 377.0 70.1 376.5 70.5 376.1 70.9 375.6 71.3 375.0 71.8 374.4 72.2 373.8 72.6 373.4 72.9 372.9 73.1 372.2 73.6 371.6 73.9 371.1 74.2 370.6 74.5 369.8 74.9 369.3 75.2 368.9 75.4 368.0 75.8 367.5 76.1 367.1 76.3 366.2 76.7 365.7 76.9 365.1 77.2 364.4 77.5 363.9 77.6 363.0 77.9 362.5 78.1 361.7 78.3 360.8 78.5 360.3 78.6 359.4 78.7 358.5 78.8 357.6 78.8 356.7 78.8 355.8 78.8 354.9 78.7 354.0 78.6 353.3 78.5 352.7 78.4 352.2 78.1 351.3 77.7 350.9 77.3 350.6 76.7 350.4 76.3 350.2 75.4 350.0 74.5 350.0 73.6 350.2 72.7 350.4 71.8 350.6 71.3 350.9 70.8 351.3 70.1 351.8 69.5 352.1 69.1 352.4 68.6 352.7 68.1 353.1 67.4 353.5 66.8 353.9 66.4 354.3 65.9 354.8 65.5 355.3 65.0 355.8 64.6 356.3 64.2 356.7 63.7 357.2 63.3 357.6 62.9 358.1 62.5 358.5 62.2 359.0 61.8 359.4 61.4 360.1 61.0 360.8 60.6 361.2 60.3 361.7 59.9 362.2 59.6 363.0 59.2 363.5 58.9 363.9 58.7 364.6 58.3 365.3 57.9 365.7 57.7 366.2 57.4 367.0 56.9 367.5 56.7 368.0 56.4 368.6 56.0 369.3 55.7 369.8 55.5 370.7 55.1 371.1 55.0 371.9 54.7 372.5 54.5 373.3 54.2 373.8 54.0 374.5 53.8 375.2 53.6 375.9 53.3 376.5 53.2 377.4 52.9 377.9 52.9 378.8 52.7 379.7 52.6 380.6 52.5 381.2 52.4 381.2 52.4Z M382.5 52.9 383.3 52.8 384.2 52.8 384.6 52.9 385.5 53.1 386.4 53.3 387.0 53.3 387.8 53.5 388.4 53.8 389.1 54.2 389.6 54.6 390.0 55.0 390.5 55.6 390.6 56.0 390.7 56.9 390.6 57.8 390.5 58.3 390.0 59.1 389.6 59.6 389.2 60.1 388.7 60.5 388.2 60.9 387.8 61.3 387.3 61.7 386.9 62.0 386.4 62.4 385.8 62.8 385.1 63.2 384.6 63.5 384.2 63.8 383.5 64.1 382.8 64.5 382.4 64.8 381.9 65.1 381.3 65.5 380.7 65.9 380.1 66.3 379.7 66.6 379.2 67.0 378.8 67.4 378.3 67.9 377.9 68.3 377.4 68.8 377.0 69.2 376.5 69.7 376.1 70.1 375.6 70.4 375.1 70.9 374.6 71.3 373.9 71.8 373.4 72.1 372.9 72.4 372.5 72.7 371.8 73.1 371.1 73.5 370.7 73.8 370.2 74.0 369.5 74.5 368.9 74.8 368.4 75.0 367.6 75.4 367.1 75.7 366.6 75.9 365.8 76.3 365.3 76.5 364.6 76.7 363.9 77.0 363.4 77.2 362.6 77.5 362.0 77.6 361.2 77.8 360.3 77.9 359.4 78.0 358.5 78.0 357.6 78.0 356.7 77.9 355.8 77.8 354.9 77.7 354.5 77.6 353.6 77.3 353.1 77.1 352.6 76.7 352.1 76.3 351.8 75.8 351.4 74.9 351.3 74.5 351.2 73.6 351.2 72.7 351.3 72.1 351.7 71.3 352.0 70.9 352.3 70.4 352.7 69.8 353.1 69.1 353.4 68.6 353.7 68.2 354.0 67.6 354.5 66.9 354.9 66.4 355.4 66.0 355.8 65.5 356.3 65.0 356.7 64.6 357.2 64.2 357.6 63.8 358.1 63.4 358.5 63.0 359.0 62.6 359.4 62.3 359.9 61.9 360.5 61.4 361.2 61.0 361.7 60.7 362.1 60.4 362.6 60.1 363.4 59.6 363.9 59.4 364.4 59.1 365.1 58.7 365.7 58.4 366.2 58.1 366.7 57.8 367.5 57.4 368.0 57.1 368.4 56.8 369.1 56.5 369.8 56.2 370.2 56.0 371.1 55.6 371.6 55.4 372.5 55.2 372.9 55.0 373.8 54.7 374.3 54.5 375.0 54.2 375.6 54.1 376.4 53.8 377.0 53.6 377.9 53.4 378.5 53.3 379.2 53.3 380.1 53.2 381.0 53.1 381.9 53.0 382.5 52.9 382.5 52.9Z M382.3 53.3 382.8 53.3 383.7 53.3 384.5 53.3 385.1 53.5 386.0 53.7 386.4 53.8 387.3 54.1 387.8 54.2 388.5 54.7 389.0 55.1 389.5 55.6 389.7 56.0 389.9 56.9 389.9 57.8 389.6 58.6 389.2 59.2 388.8 59.6 388.4 60.1 387.9 60.5 387.4 61.0 386.9 61.4 386.4 61.8 386.0 62.2 385.5 62.4 384.9 62.8 384.2 63.2 383.7 63.5 383.3 63.7 382.6 64.1 381.9 64.5 381.5 64.8 381.0 65.1 380.5 65.5 379.9 65.9 379.3 66.4 378.8 66.8 378.3 67.2 377.9 67.6 377.4 68.1 377.0 68.6 376.5 69.0 376.1 69.4 375.6 69.8 375.2 70.2 374.7 70.6 374.3 71.0 373.8 71.3 373.1 71.8 372.5 72.2 372.0 72.5 371.6 72.8 371.0 73.1 370.2 73.6 369.8 73.9 369.3 74.2 368.7 74.5 368.0 74.8 367.5 75.0 366.8 75.4 366.2 75.7 365.7 75.9 364.8 76.3 364.4 76.4 363.5 76.7 363.0 76.9 362.1 77.2 361.7 77.3 360.8 77.5 359.9 77.5 359.0 77.5 358.1 77.5 357.2 77.4 356.3 77.2 355.8 77.1 354.9 76.9 354.5 76.7 353.6 76.3 353.1 75.9 352.7 75.4 352.4 74.9 352.2 74.5 352.1 73.6 352.1 72.7 352.2 72.1 352.6 71.3 352.8 70.9 353.1 70.2 353.5 69.5 353.8 69.1 354.0 68.6 354.5 67.9 354.9 67.3 355.3 66.8 355.7 66.4 356.1 65.9 356.5 65.5 356.9 65.0 357.4 64.6 357.9 64.1 358.4 63.7 359.0 63.2 359.4 62.9 359.9 62.5 360.3 62.1 360.8 61.8 361.3 61.4 361.9 61.0 362.6 60.6 363.0 60.3 363.5 60.1 364.3 59.6 364.8 59.4 365.3 59.1 365.9 58.7 366.6 58.3 367.1 58.1 367.6 57.8 368.4 57.4 368.9 57.1 369.3 56.9 370.2 56.5 370.7 56.3 371.2 56.0 372.0 55.7 372.6 55.6 373.4 55.3 373.9 55.1 374.7 54.8 375.2 54.6 376.1 54.3 376.5 54.2 377.4 53.9 378.2 53.8 378.8 53.7 379.7 53.6 380.6 53.5 381.5 53.4 382.3 53.3 382.3 53.3Z M382.0 53.8 382.8 53.7 383.7 53.7 384.4 53.8 385.1 54.0 386.0 54.2 386.4 54.4 387.1 54.7 387.8 55.1 388.2 55.4 388.7 55.9 389.1 56.5 389.3 56.9 389.2 57.8 389.0 58.3 388.7 58.8 388.2 59.5 387.8 60.0 387.3 60.4 386.9 60.9 386.4 61.3 386.0 61.6 385.5 61.9 384.7 62.3 384.2 62.6 383.7 62.9 383.2 63.2 382.4 63.7 381.9 64.0 381.5 64.2 380.9 64.6 380.4 65.0 379.8 65.5 379.2 65.9 378.8 66.2 378.3 66.6 377.9 67.0 377.4 67.5 377.0 67.9 376.5 68.4 376.1 68.8 375.6 69.2 375.2 69.6 374.7 70.0 374.3 70.4 373.7 70.9 373.0 71.3 372.5 71.7 372.0 72.0 371.6 72.3 371.0 72.7 370.3 73.1 369.8 73.5 369.3 73.8 368.9 74.0 368.0 74.5 367.5 74.7 366.9 74.9 366.2 75.3 365.7 75.5 365.0 75.8 364.4 76.0 363.7 76.3 363.0 76.5 362.4 76.7 361.7 76.9 360.8 77.1 359.9 77.1 359.0 77.1 358.1 77.0 357.2 76.9 356.7 76.7 355.8 76.5 355.3 76.3 354.5 75.9 354.0 75.6 353.6 75.2 353.1 74.5 352.9 74.0 352.8 73.1 353.0 72.2 353.2 71.8 353.5 70.9 353.7 70.4 354.0 69.6 354.3 69.1 354.6 68.6 354.9 68.1 355.4 67.5 355.8 67.0 356.3 66.5 356.7 65.9 357.1 65.5 357.5 65.0 358.0 64.6 358.5 64.1 359.0 63.8 359.4 63.4 359.9 63.1 360.3 62.7 360.8 62.3 361.3 61.9 362.0 61.4 362.6 61.0 363.0 60.8 363.5 60.5 364.3 60.1 364.8 59.8 365.3 59.5 365.9 59.2 366.6 58.8 367.1 58.6 367.6 58.3 368.4 57.8 368.9 57.6 369.3 57.4 370.2 57.0 370.7 56.8 371.2 56.5 372.0 56.1 372.5 56.0 373.4 55.7 373.8 55.6 374.7 55.2 375.2 55.0 376.1 54.7 376.5 54.6 377.4 54.4 378.0 54.2 378.8 54.1 379.7 54.0 380.6 53.9 381.5 53.8 382.0 53.8 382.0 53.8Z M381.2 54.2 381.9 54.2 382.8 54.2 383.7 54.2 384.3 54.2 385.1 54.4 385.7 54.7 386.4 55.1 386.9 55.4 387.3 55.7 387.9 56.0 388.3 56.5 388.6 57.4 388.3 58.3 388.0 58.7 387.8 59.2 387.3 59.7 386.9 60.2 386.4 60.7 386.0 61.1 385.5 61.5 384.7 61.9 384.2 62.1 383.7 62.3 383.0 62.8 382.4 63.2 381.9 63.4 381.5 63.7 380.7 64.1 380.2 64.6 379.7 65.0 379.2 65.4 378.8 65.8 378.3 66.1 377.9 66.5 377.4 66.9 377.0 67.3 376.5 67.8 376.1 68.3 375.6 68.7 375.1 69.1 374.6 69.5 374.2 70.0 373.6 70.4 373.0 70.9 372.5 71.3 372.0 71.6 371.6 71.9 371.1 72.2 370.4 72.7 369.8 73.1 369.3 73.4 368.9 73.7 368.2 74.0 367.5 74.3 367.1 74.5 366.2 74.9 365.7 75.2 365.2 75.4 364.4 75.7 363.9 75.8 363.0 76.2 362.6 76.3 361.7 76.6 360.8 76.7 359.9 76.7 359.0 76.6 358.1 76.5 357.2 76.3 356.7 76.2 355.9 75.8 355.4 75.6 354.9 75.3 354.4 74.9 354.0 74.5 353.6 73.7 353.5 73.1 353.6 72.5 353.8 71.8 354.0 70.9 354.2 70.4 354.5 69.8 354.9 69.1 355.2 68.6 355.5 68.2 355.8 67.7 356.3 67.2 356.7 66.6 357.2 66.0 357.6 65.5 358.1 65.1 358.5 64.7 359.0 64.3 359.4 64.0 359.9 63.6 360.3 63.2 360.8 62.8 361.4 62.3 362.0 61.9 362.6 61.5 363.0 61.2 363.5 60.9 364.2 60.5 364.8 60.2 365.3 60.0 365.9 59.6 366.6 59.2 367.1 59.0 367.6 58.7 368.4 58.3 368.9 58.0 369.3 57.8 370.2 57.5 370.7 57.2 371.2 56.9 372.0 56.5 372.5 56.4 373.4 56.1 373.8 55.9 374.6 55.6 375.2 55.4 375.9 55.1 376.5 55.0 377.4 54.8 377.9 54.7 378.8 54.5 379.7 54.4 380.6 54.3 381.2 54.2 381.2 54.2Z M380.3 54.7 381.0 54.6 381.9 54.6 382.8 54.7 383.7 54.7 384.2 54.7 385.1 55.0 385.5 55.2 386.1 55.6 386.7 56.0 387.3 56.5 387.6 56.9 387.7 57.8 387.3 58.7 387.0 59.2 386.7 59.6 386.3 60.1 386.0 60.5 385.5 61.0 384.6 61.4 384.2 61.6 383.6 61.9 382.8 62.3 382.4 62.6 381.9 62.9 381.3 63.2 380.6 63.7 380.1 64.0 379.7 64.5 379.2 64.9 378.8 65.3 378.3 65.6 377.9 66.0 377.4 66.4 377.0 66.8 376.5 67.3 376.1 67.7 375.6 68.2 375.0 68.6 374.5 69.1 374.0 69.5 373.6 70.0 373.0 70.4 372.5 70.8 372.0 71.2 371.6 71.5 371.1 71.8 370.4 72.2 369.8 72.7 369.3 73.0 368.9 73.3 368.4 73.6 367.5 74.0 367.1 74.2 366.4 74.5 365.7 74.8 365.3 75.0 364.4 75.4 363.9 75.5 363.0 75.8 362.6 76.0 361.7 76.3 361.2 76.4 360.3 76.4 359.5 76.3 359.0 76.2 358.1 76.0 357.4 75.8 356.7 75.5 356.3 75.3 355.8 74.9 355.0 74.5 354.5 74.0 354.3 73.6 354.1 72.7 354.3 71.8 354.5 71.3 354.8 70.4 355.0 70.0 355.4 69.2 355.7 68.6 356.0 68.2 356.4 67.7 356.8 67.3 357.2 66.7 357.6 66.2 358.1 65.6 358.5 65.2 359.0 64.8 359.4 64.5 359.9 64.1 360.4 63.7 360.9 63.2 361.4 62.8 362.0 62.3 362.6 61.9 363.0 61.6 363.5 61.4 364.1 61.0 364.8 60.6 365.3 60.3 365.8 60.1 366.6 59.6 367.1 59.4 367.6 59.2 368.4 58.7 368.9 58.5 369.3 58.3 370.2 57.9 370.7 57.7 371.2 57.4 372.0 56.9 372.5 56.7 373.2 56.5 373.8 56.3 374.4 56.0 375.2 55.7 375.6 55.6 376.5 55.3 377.4 55.2 377.9 55.1 378.8 55.0 379.7 54.8 380.3 54.7 380.3 54.7Z M379.8 55.1 380.6 55.0 381.5 55.0 382.4 55.1 382.8 55.2 383.7 55.2 384.6 55.4 385.1 55.6 385.8 56.0 386.3 56.5 386.6 56.9 386.8 57.8 386.5 58.7 386.3 59.2 386.0 59.7 385.5 60.3 385.1 60.7 384.5 61.0 383.7 61.3 383.3 61.6 382.7 61.9 382.0 62.3 381.5 62.7 381.0 62.9 380.4 63.2 379.8 63.7 379.4 64.1 378.9 64.6 378.4 65.0 378.0 65.5 377.5 65.9 377.0 66.3 376.5 66.7 376.1 67.2 375.6 67.6 375.2 68.0 374.7 68.3 374.3 68.7 373.8 69.2 373.4 69.7 372.9 70.0 372.4 70.4 371.8 70.9 371.2 71.3 370.7 71.7 370.2 72.0 369.8 72.3 369.2 72.7 368.6 73.1 368.0 73.5 367.5 73.7 366.6 74.0 366.2 74.2 365.6 74.5 364.8 74.9 364.4 75.0 363.5 75.4 363.0 75.5 362.1 75.8 361.7 76.0 360.8 76.1 359.9 76.0 359.3 75.8 358.5 75.6 357.8 75.4 357.2 75.1 356.7 74.8 356.3 74.5 355.6 74.0 355.1 73.6 354.9 73.1 354.8 72.2 355.0 71.8 355.3 70.9 355.5 70.4 355.8 69.5 356.0 69.1 356.3 68.6 356.7 68.0 357.2 67.4 357.6 66.8 358.0 66.4 358.4 65.9 358.8 65.5 359.3 65.0 359.9 64.6 360.3 64.2 360.8 63.8 361.2 63.4 361.7 63.0 362.1 62.6 362.6 62.3 363.3 61.9 363.9 61.5 364.4 61.2 364.8 61.0 365.6 60.5 366.2 60.3 366.6 60.1 367.5 59.7 368.0 59.4 368.4 59.2 369.3 58.7 369.8 58.5 370.4 58.3 371.1 57.9 371.6 57.6 372.0 57.3 372.8 56.9 373.4 56.8 374.2 56.5 374.7 56.3 375.3 56.0 376.1 55.8 377.0 55.6 377.5 55.6 378.3 55.5 379.2 55.3 379.8 55.1 379.8 55.1Z M379.5 55.6 380.1 55.5 381.0 55.4 381.9 55.5 382.4 55.6 383.3 55.7 384.2 55.8 384.7 56.0 385.4 56.5 385.8 56.9 386.0 57.8 385.8 58.7 385.5 59.3 385.1 60.0 384.6 60.4 384.2 60.6 383.4 61.0 382.8 61.3 382.4 61.6 381.9 61.9 381.2 62.3 380.6 62.6 380.1 62.9 379.6 63.2 379.2 63.7 378.8 64.1 378.3 64.6 377.9 65.0 377.4 65.5 376.9 65.9 376.3 66.4 375.9 66.8 375.4 67.3 374.9 67.7 374.3 68.2 373.9 68.6 373.5 69.1 373.0 69.5 372.5 70.0 372.0 70.3 371.6 70.7 371.1 71.0 370.7 71.3 370.0 71.8 369.3 72.2 368.9 72.6 368.4 72.9 368.0 73.2 367.1 73.6 366.6 73.8 365.9 74.0 365.3 74.3 364.8 74.5 363.9 74.9 363.5 75.1 362.6 75.4 362.1 75.5 361.2 75.7 360.3 75.7 359.4 75.5 359.0 75.3 358.1 74.9 357.6 74.7 357.2 74.4 356.7 74.0 356.1 73.6 355.7 73.1 355.6 72.2 355.8 71.4 356.0 70.9 356.2 70.0 356.3 69.5 356.7 68.6 357.0 68.2 357.4 67.7 357.7 67.3 358.1 66.8 358.5 66.3 359.0 65.8 359.4 65.4 359.9 65.0 360.4 64.6 360.9 64.1 361.3 63.7 361.8 63.2 362.4 62.8 363.0 62.4 363.5 62.1 363.9 61.9 364.6 61.4 365.3 61.1 365.7 60.9 366.4 60.5 367.1 60.2 367.5 60.1 368.4 59.6 368.9 59.3 369.3 59.1 370.2 58.7 370.7 58.6 371.2 58.3 371.8 57.8 372.5 57.4 372.9 57.3 373.8 57.0 374.3 56.9 375.1 56.5 375.6 56.3 376.5 56.1 377.0 56.0 377.9 56.0 378.8 55.8 379.5 55.6 379.5 55.6Z M379.5 56.0 380.1 55.9 381.0 55.8 381.9 56.0 382.4 56.1 383.3 56.2 384.2 56.4 384.6 56.7 385.1 57.3 385.2 57.8 385.1 58.4 384.8 59.2 384.4 59.6 383.8 60.1 383.3 60.4 382.8 60.7 382.4 61.1 381.9 61.4 381.2 61.9 380.6 62.2 380.1 62.4 379.5 62.8 379.0 63.2 378.5 63.7 378.1 64.1 377.7 64.6 377.3 65.0 376.8 65.5 376.3 65.9 375.8 66.4 375.3 66.8 374.8 67.3 374.3 67.7 373.8 68.1 373.4 68.6 373.0 69.1 372.5 69.5 372.0 69.9 371.6 70.3 371.1 70.6 370.7 71.0 370.1 71.3 369.4 71.8 368.9 72.2 368.4 72.6 368.0 72.9 367.5 73.1 366.6 73.5 366.2 73.6 365.3 74.0 364.8 74.2 364.2 74.5 363.5 74.8 363.0 75.0 362.1 75.3 361.4 75.4 360.8 75.4 360.3 75.4 359.4 75.1 359.0 74.9 358.3 74.5 357.6 74.1 357.2 73.8 356.7 73.3 356.4 72.7 356.4 71.8 356.6 70.9 356.7 70.0 356.8 69.5 357.2 68.6 357.5 68.2 357.8 67.7 358.2 67.3 358.5 66.8 359.0 66.3 359.4 65.8 359.9 65.4 360.3 65.0 360.8 64.6 361.3 64.1 361.7 63.7 362.3 63.2 362.9 62.8 363.5 62.5 363.9 62.2 364.5 61.9 365.3 61.4 365.7 61.2 366.2 61.0 367.1 60.6 367.5 60.4 368.2 60.1 368.9 59.7 369.3 59.5 370.0 59.2 370.7 59.0 371.2 58.7 371.8 58.3 372.5 57.8 372.9 57.6 373.8 57.4 374.3 57.3 375.0 56.9 375.6 56.7 376.3 56.5 377.0 56.4 377.9 56.4 378.8 56.3 379.5 56.0 379.5 56.0Z M379.7 56.5 380.1 56.4 381.0 56.4 381.8 56.5 382.4 56.6 383.3 56.8 383.8 56.9 384.2 57.4 384.2 58.2 383.9 58.7 383.5 59.2 383.1 59.6 382.7 60.1 382.3 60.5 381.9 61.0 381.2 61.4 380.6 61.7 380.1 61.9 379.3 62.3 378.8 62.8 378.3 63.2 377.9 63.7 377.5 64.1 377.1 64.6 376.7 65.0 376.2 65.5 375.6 65.9 375.2 66.3 374.7 66.8 374.3 67.2 373.8 67.6 373.4 68.1 372.9 68.6 372.5 69.1 372.0 69.5 371.6 69.8 371.1 70.2 370.7 70.6 370.2 70.9 369.5 71.3 368.9 71.8 368.4 72.2 368.0 72.6 367.5 72.9 366.8 73.1 366.2 73.4 365.5 73.6 364.8 73.9 364.4 74.1 363.6 74.5 363.0 74.7 362.3 74.9 361.7 75.1 360.8 75.1 360.0 74.9 359.4 74.7 359.0 74.4 358.4 74.0 357.9 73.6 357.4 73.1 357.2 72.7 357.0 71.8 357.1 70.9 357.2 70.0 357.3 69.5 357.6 68.6 357.9 68.2 358.2 67.7 358.6 67.3 359.0 66.8 359.4 66.3 359.9 65.8 360.3 65.4 360.8 65.0 361.2 64.5 361.7 64.1 362.1 63.7 362.7 63.2 363.5 62.8 363.9 62.6 364.4 62.3 365.1 61.9 365.7 61.6 366.2 61.3 366.9 61.0 367.5 60.7 368.0 60.5 368.8 60.1 369.3 59.8 369.8 59.6 370.7 59.3 371.1 59.2 371.9 58.7 372.5 58.3 372.9 58.1 373.7 57.8 374.3 57.7 375.0 57.4 375.6 57.1 376.2 56.9 377.0 56.9 377.9 56.9 378.8 56.8 379.7 56.5 379.7 56.5Z M376.4 57.4 377.0 57.4 377.4 57.4 378.0 57.4 378.8 57.3 379.7 57.2 380.6 57.1 381.5 57.1 382.4 57.4 382.8 57.6 382.9 58.3 382.6 58.7 382.3 59.2 382.0 60.1 381.7 60.5 381.2 61.0 380.6 61.3 380.1 61.5 379.2 61.9 378.8 62.2 378.3 62.5 377.9 63.0 377.4 63.5 377.0 64.0 376.5 64.6 376.1 65.0 375.6 65.4 375.2 65.7 374.7 66.1 374.3 66.6 373.8 67.1 373.4 67.6 372.9 68.0 372.5 68.5 372.0 69.0 371.6 69.4 371.1 69.8 370.7 70.2 370.2 70.5 369.6 70.9 369.0 71.3 368.5 71.8 368.0 72.2 367.5 72.6 367.1 72.8 366.2 73.1 365.7 73.3 364.9 73.6 364.4 73.9 363.9 74.1 363.0 74.5 362.6 74.6 361.7 74.8 360.8 74.8 359.9 74.5 359.4 74.3 359.0 73.9 358.5 73.5 358.1 73.0 357.7 72.2 357.5 71.8 357.5 70.9 357.6 70.0 357.7 69.5 358.0 68.6 358.3 68.2 358.6 67.7 359.0 67.3 359.4 66.7 359.9 66.2 360.3 65.8 360.8 65.4 361.2 64.9 361.7 64.5 362.1 64.0 362.6 63.7 363.2 63.2 363.9 62.9 364.4 62.7 364.9 62.3 365.7 61.9 366.2 61.7 366.7 61.4 367.5 61.1 368.0 60.8 368.6 60.5 369.3 60.2 369.8 60.0 370.7 59.7 371.1 59.6 371.9 59.2 372.5 58.8 372.9 58.6 373.8 58.3 374.3 58.2 375.2 57.8 375.6 57.6 376.4 57.4 376.4 57.4Z M375.5 58.3 376.1 58.0 377.0 58.0 377.9 58.1 378.8 58.1 379.7 58.1 380.6 58.2 381.0 58.4 381.4 59.2 381.3 60.1 381.0 60.5 380.2 61.0 379.7 61.2 379.2 61.4 378.3 61.9 377.9 62.2 377.4 62.7 377.0 63.2 376.5 63.7 376.2 64.1 375.8 64.6 375.3 65.0 374.7 65.4 374.3 65.9 373.9 66.4 373.6 66.8 373.1 67.3 372.6 67.7 372.2 68.2 371.8 68.6 371.4 69.1 370.9 69.5 370.4 70.0 369.8 70.4 369.3 70.7 368.9 71.0 368.4 71.5 368.0 71.9 367.5 72.3 366.7 72.7 366.2 72.9 365.4 73.1 364.8 73.4 364.4 73.6 363.5 74.0 363.0 74.2 362.2 74.5 361.7 74.6 360.8 74.6 360.3 74.4 359.7 74.0 359.2 73.6 358.8 73.1 358.5 72.7 358.1 72.0 357.9 71.3 357.9 70.4 358.1 69.5 358.2 69.1 358.5 68.5 359.0 67.8 359.3 67.3 359.7 66.8 360.1 66.4 360.5 65.9 361.0 65.5 361.5 65.0 361.9 64.6 362.4 64.1 363.0 63.7 363.5 63.4 363.9 63.2 364.7 62.8 365.3 62.5 365.7 62.2 366.5 61.9 367.1 61.6 367.5 61.4 368.3 61.0 368.9 60.7 369.3 60.5 370.2 60.2 370.7 60.1 371.6 59.8 372.0 59.6 372.8 59.2 373.4 59.0 374.3 58.8 374.7 58.7 375.5 58.3 375.5 58.3Z M376.0 58.7 376.5 58.7 377.2 58.7 377.9 58.9 378.8 59.0 379.7 59.0 380.3 59.2 380.6 59.6 380.5 60.1 379.9 60.5 379.2 60.8 378.8 61.1 377.9 61.4 377.4 61.8 377.0 62.2 376.5 62.7 376.1 63.2 375.8 63.7 375.6 64.1 375.1 64.6 374.5 65.0 374.0 65.5 373.7 65.9 373.4 66.4 372.9 67.0 372.5 67.4 372.0 67.8 371.6 68.3 371.1 68.8 370.7 69.3 370.2 69.7 369.8 70.0 369.2 70.4 368.6 70.9 368.2 71.3 367.7 71.8 367.1 72.2 366.6 72.5 366.0 72.7 365.3 73.0 364.8 73.2 363.9 73.6 363.5 73.8 362.9 74.0 362.1 74.3 361.2 74.3 360.3 74.1 359.9 73.8 359.4 73.4 359.0 72.7 358.7 72.2 358.5 71.8 358.3 70.9 358.4 70.0 358.5 69.2 358.8 68.6 359.1 68.2 359.4 67.6 359.9 67.0 360.3 66.5 360.8 66.1 361.2 65.6 361.7 65.2 362.1 64.7 362.6 64.3 363.0 64.0 363.5 63.7 364.4 63.3 364.8 63.0 365.3 62.8 366.2 62.4 366.6 62.2 367.2 61.9 368.0 61.5 368.4 61.3 369.0 61.0 369.8 60.7 370.2 60.5 371.1 60.4 372.0 60.2 372.5 59.9 373.2 59.6 373.8 59.5 374.7 59.3 375.2 59.1 376.0 58.7 376.0 58.7Z M373.9 60.1 374.7 60.0 375.6 59.8 376.5 59.7 377.2 60.1 376.9 60.5 376.5 61.1 376.1 61.8 375.7 62.3 375.5 62.8 375.2 63.5 374.9 64.1 374.4 64.6 373.8 65.0 373.5 65.5 373.3 65.9 372.9 66.4 372.5 66.9 372.0 67.3 371.6 67.8 371.1 68.3 370.7 68.8 370.2 69.3 369.8 69.6 369.3 70.0 368.7 70.4 368.2 70.9 367.8 71.3 367.3 71.8 366.6 72.2 366.2 72.4 365.4 72.7 364.8 72.9 364.4 73.1 363.5 73.6 363.0 73.8 362.2 74.0 361.7 74.1 361.1 74.0 360.3 73.8 359.9 73.4 359.4 72.8 359.2 72.2 358.9 71.8 358.7 70.9 358.7 70.0 359.0 69.1 359.2 68.6 359.4 68.1 359.9 67.4 360.3 66.8 360.8 66.4 361.2 66.0 361.7 65.5 362.1 65.0 362.6 64.6 363.0 64.3 363.5 64.0 364.1 63.7 364.8 63.4 365.3 63.1 366.0 62.8 366.6 62.6 367.1 62.3 367.9 61.9 368.4 61.6 368.9 61.4 369.8 61.0 370.2 60.9 371.1 60.9 372.0 60.8 372.6 60.5 373.4 60.2 373.9 60.1 373.9 60.1Z M369.7 61.4 370.2 61.3 371.1 61.4 371.6 61.6 372.5 61.7 372.9 61.4 373.8 61.0 374.4 61.4 374.6 62.3 374.6 63.2 374.3 63.9 373.8 64.3 373.4 64.8 373.1 65.5 372.8 65.9 372.5 66.4 372.0 66.8 371.6 67.3 371.1 67.8 370.7 68.3 370.2 68.8 369.8 69.2 369.3 69.6 368.9 70.0 368.3 70.4 367.9 70.9 367.4 71.3 366.8 71.8 366.2 72.1 365.7 72.3 364.9 72.7 364.4 72.9 363.9 73.1 363.0 73.5 362.6 73.7 361.7 73.9 360.8 73.7 360.3 73.4 359.9 72.9 359.5 72.2 359.3 71.8 359.1 70.9 359.1 70.0 359.3 69.1 359.5 68.6 359.9 67.9 360.3 67.3 360.7 66.8 361.1 66.4 361.6 65.9 362.0 65.5 362.5 65.0 363.0 64.6 363.5 64.3 363.9 64.1 364.7 63.7 365.3 63.4 365.7 63.2 366.6 62.9 367.1 62.8 367.9 62.3 368.4 62.0 368.9 61.7 369.7 61.4 369.7 61.4Z M369.6 61.9 370.2 61.8 370.8 61.9 371.5 62.3 372.0 62.8 372.5 62.9 373.4 62.8 373.4 63.6 373.0 64.1 372.8 64.6 372.6 65.5 372.3 65.9 371.9 66.4 371.5 66.8 371.1 67.3 370.7 67.8 370.2 68.3 369.8 68.8 369.3 69.2 368.9 69.6 368.4 70.0 368.0 70.4 367.5 70.9 367.0 71.3 366.3 71.8 365.7 72.1 365.3 72.3 364.4 72.7 363.9 72.9 363.4 73.1 362.6 73.5 362.1 73.6 361.5 73.6 360.8 73.3 360.3 73.0 359.9 72.3 359.7 71.8 359.4 71.0 359.4 70.4 359.4 69.5 359.6 69.1 359.9 68.4 360.3 67.7 360.6 67.3 361.0 66.8 361.5 66.4 361.9 65.9 362.4 65.5 362.9 65.0 363.5 64.6 363.9 64.3 364.4 64.1 365.3 63.7 365.7 63.5 366.6 63.3 367.1 63.2 367.9 62.8 368.4 62.4 368.9 62.2 369.6 61.9 369.6 61.9Z M368.8 62.8 369.3 62.5 370.2 62.4 370.9 62.8 371.2 63.2 371.6 64.0 371.9 64.6 371.9 65.5 371.6 66.1 371.1 66.6 370.7 67.3 370.3 67.7 369.9 68.2 369.5 68.6 369.0 69.1 368.6 69.5 368.1 70.0 367.6 70.4 367.1 70.9 366.6 71.3 366.2 71.6 365.7 71.8 364.9 72.2 364.4 72.5 363.9 72.7 363.0 73.1 362.6 73.2 361.7 73.4 361.0 73.1 360.5 72.7 360.2 72.2 359.9 71.4 359.7 70.9 359.7 70.0 359.9 69.1 360.1 68.6 360.3 68.1 360.8 67.5 361.2 67.0 361.7 66.5 362.1 66.1 362.6 65.6 363.0 65.2 363.5 64.9 364.0 64.6 364.8 64.2 365.3 64.0 366.2 63.7 366.6 63.7 367.5 63.6 368.2 63.2 368.8 62.8 368.8 62.8Z M368.8 63.7 369.3 63.4 370.2 63.6 370.6 64.1 370.9 64.6 371.1 65.1 371.1 65.6 370.8 66.4 370.5 66.8 370.2 67.3 369.8 67.8 369.3 68.3 368.9 68.8 368.4 69.3 368.0 69.8 367.5 70.2 367.1 70.6 366.6 70.9 366.1 71.3 365.4 71.8 364.8 72.1 364.4 72.3 363.5 72.6 363.0 72.8 362.1 73.1 361.2 72.9 360.8 72.5 360.3 71.8 360.2 71.3 360.0 70.4 360.0 69.5 360.3 68.7 360.6 68.2 360.9 67.7 361.3 67.3 361.7 66.8 362.2 66.4 362.6 65.9 363.1 65.5 363.7 65.0 364.4 64.7 364.8 64.5 365.7 64.1 366.2 64.0 367.1 64.0 368.0 64.0 368.8 63.7 368.8 63.7Z M365.4 64.6 366.2 64.4 367.1 64.5 367.7 64.6 368.4 64.7 369.3 64.8 369.9 65.0 370.2 65.9 370.0 66.8 369.7 67.3 369.3 67.8 368.9 68.3 368.4 68.8 368.0 69.4 367.5 69.9 367.1 70.3 366.6 70.6 366.2 71.0 365.7 71.3 365.0 71.8 364.4 72.1 363.9 72.3 363.0 72.6 362.6 72.7 361.7 72.8 361.2 72.5 360.8 72.0 360.5 71.3 360.3 70.9 360.2 70.0 360.3 69.4 360.7 68.6 360.9 68.2 361.3 67.7 361.7 67.2 362.1 66.8 362.6 66.3 363.0 65.9 363.5 65.5 364.3 65.0 364.8 64.8 365.4 64.6 365.4 64.6Z M365.0 65.0 365.7 64.8 366.6 64.8 367.5 65.0 368.0 65.2 368.8 65.5 369.3 65.9 369.5 66.4 369.3 67.0 368.9 67.7 368.5 68.2 368.2 68.6 367.9 69.1 367.5 69.5 367.0 70.0 366.5 70.4 365.9 70.9 365.3 71.3 364.8 71.6 364.4 71.9 363.5 72.2 363.0 72.3 362.1 72.4 361.5 72.2 361.1 71.8 360.8 71.3 360.6 70.4 360.6 69.5 360.8 69.0 361.2 68.2 361.6 67.7 362.0 67.3 362.5 66.8 362.9 66.4 363.4 65.9 363.9 65.5 364.4 65.3 365.0 65.0 365.0 65.0Z M364.6 65.5 365.3 65.3 366.2 65.1 367.1 65.3 367.5 65.5 368.4 65.9 368.8 66.4 368.7 67.3 368.4 67.7 368.0 68.4 367.6 69.1 367.2 69.5 366.7 70.0 366.2 70.4 365.7 70.8 365.3 71.1 364.8 71.4 363.9 71.8 363.5 71.9 362.6 72.0 361.7 71.9 361.2 71.4 361.0 70.9 360.8 70.0 361.1 69.1 361.3 68.6 361.7 68.1 362.1 67.6 362.6 67.1 363.0 66.6 363.5 66.2 363.9 65.8 364.6 65.5 364.6 65.5Z M365.7 65.5 366.2 65.5 366.6 65.6 367.4 65.9 368.0 66.4 368.2 66.8 368.0 67.6 367.7 68.2 367.5 68.6 367.1 69.3 366.6 69.7 366.2 70.1 365.7 70.5 365.2 70.9 364.5 71.3 363.9 71.5 363.0 71.6 362.1 71.5 361.7 71.2 361.3 70.4 361.2 70.0 361.2 69.5 361.7 68.6 362.0 68.2 362.4 67.7 362.8 67.3 363.2 66.8 363.6 66.4 364.3 65.9 364.8 65.7 365.7 65.5 365.7 65.5Z M365.0 65.9 365.7 65.8 366.4 65.9 367.1 66.3 367.5 66.8 367.6 67.3 367.5 67.7 367.2 68.6 366.9 69.1 366.5 69.5 365.9 70.0 365.4 70.4 364.9 70.9 364.4 71.1 363.5 71.3 362.6 71.1 362.1 70.9 361.7 70.3 361.6 69.5 361.8 69.1 362.1 68.6 362.6 68.0 363.0 67.4 363.5 66.9 363.9 66.5 364.4 66.2 365.0 65.9 365.0 65.9Z M364.6 66.4 365.3 66.2 366.2 66.3 366.6 66.6 367.1 67.2 367.1 67.7 367.1 68.2 366.6 69.0 366.2 69.5 365.7 69.8 365.3 70.2 364.8 70.6 364.2 70.9 363.5 71.0 363.0 70.9 362.4 70.4 362.1 70.0 362.1 69.4 362.5 68.6 362.8 68.2 363.2 67.7 363.5 67.3 363.9 66.8 364.6 66.4 364.6 66.4Z M364.4 66.8 364.8 66.6 365.7 66.6 366.3 66.8 366.7 67.3 366.7 68.2 366.5 68.6 366.2 69.1 365.7 69.5 365.1 70.0 364.5 70.4 363.9 70.6 363.2 70.4 362.7 70.0 362.7 69.1 363.0 68.5 363.5 67.8 363.9 67.3 364.4 66.8 364.4 66.8Z M364.3 67.3 364.8 67.0 365.7 67.0 366.2 67.4 366.3 68.2 366.1 68.6 365.7 69.1 365.2 69.5 364.5 70.0 363.9 70.2 363.5 70.0 363.2 69.1 363.5 68.5 363.9 67.7 364.3 67.3 364.3 67.3Z M364.5 67.7 365.3 67.4 365.8 67.7 365.7 68.4 365.3 68.9 364.8 69.2 363.9 69.3 363.9 68.6 364.2 68.2 364.5 67.7 364.5 67.7Z" fill="none" stroke="#000" stroke-width="0.5"/>
<path clip-path="url(#c2)" d="M364.4 67.3 364.8 67.0 365.7 67.1 366.2 67.6 366.3 68.2 366.1 68.6 365.6 69.1 365.0 69.5 364.4 70.0 363.9 70.1 363.5 69.9 363.3 69.1 363.5 68.6 363.9 67.9 364.4 67.3 364.4 67.3Z" fill="#fff" stroke="#fff" stroke-width="0.3"/>
<path d="M335.8 29.7L354.9 30.7L359.8 37.9L344 65.1L334.8 65.1L333.4 36.8Z" fill="none" stroke="#000" stroke-width="0.75"/>
<path d="M333.8 84.3L344 67.5L365.5 44L388 42.6L408 48.1L406 69.6L393.1 82.7L348.1 95.6L336.4 93.5Z" fill="none" stroke="#000" stroke-width="0.75"/>
<rect x="331.1" y="22.3" width="80.4" height="80.1" fill="none" stroke="#7a7a7a" stroke-width="0.55"/>
<text transform="translate(326,30) scale(1.1,1)" y="2.65" font-size="7.4" text-anchor="end" fill="#1a1a1a" stroke="#1a1a1a" stroke-width="0.08">10<tspan font-size="4.9" dy="-2.9">5</tspan></text>
<text transform="translate(326,49.1) scale(1.1,1)" y="2.65" font-size="7.4" text-anchor="end" fill="#1a1a1a" stroke="#1a1a1a" stroke-width="0.08">10<tspan font-size="4.9" dy="-2.9">4</tspan></text>
<text transform="translate(326,70.6) scale(1.1,1)" y="2.65" font-size="7.4" text-anchor="end" fill="#1a1a1a" stroke="#1a1a1a" stroke-width="0.08">10<tspan font-size="4.9" dy="-2.9">3</tspan></text>
<text transform="translate(326,84.3) scale(1.1,1)" y="2.65" font-size="7.4" text-anchor="end" fill="#1a1a1a" stroke="#1a1a1a" stroke-width="0.08">0</text>
<text transform="translate(326,96.2) scale(1.1,1)" y="2.65" font-size="7.4" text-anchor="end" fill="#1a1a1a" stroke="#1a1a1a" stroke-width="0.08">−10<tspan font-size="4.9" dy="-2.9">3</tspan></text>
<text transform="translate(336.2,111.6) rotate(-45) scale(1.1,1)" y="0" font-size="7.5" text-anchor="end" fill="#1a1a1a" stroke="#1a1a1a" stroke-width="0.08">0</text>
<text transform="translate(350.1,111.6) rotate(-45) scale(1.1,1)" y="0" font-size="7.5" text-anchor="end" fill="#1a1a1a" stroke="#1a1a1a" stroke-width="0.08">50,000</text>
<text transform="translate(365.5,111.6) rotate(-45) scale(1.1,1)" y="0" font-size="7.5" text-anchor="end" fill="#1a1a1a" stroke="#1a1a1a" stroke-width="0.08">100,000</text>
<text transform="translate(380.9,111.6) rotate(-45) scale(1.1,1)" y="0" font-size="7.5" text-anchor="end" fill="#1a1a1a" stroke="#1a1a1a" stroke-width="0.08">150,000</text>
<text transform="translate(396.3,111.6) rotate(-45) scale(1.1,1)" y="0" font-size="7.5" text-anchor="end" fill="#1a1a1a" stroke="#1a1a1a" stroke-width="0.08">200,000</text>
<text transform="translate(411.7,111.6) rotate(-45) scale(1.1,1)" y="0" font-size="7.5" text-anchor="end" fill="#1a1a1a" stroke="#1a1a1a" stroke-width="0.08">250,000</text>
<text transform="translate(369.5,142.7)" y="3.04" font-size="8.5" text-anchor="middle" fill="#1a1a1a" stroke="#1a1a1a" stroke-width="0.08" textLength="24.9" lengthAdjust="spacingAndGlyphs">SSC-A</text>
<text transform="translate(303.2,62.2) rotate(-90)" y="3.04" font-size="8.5" text-anchor="middle" fill="#1a1a1a" stroke="#1a1a1a" stroke-width="0.08" textLength="16.4" lengthAdjust="spacingAndGlyphs">CD3</text>
<line x1="351.2" y1="35.2" x2="427.5" y2="35.2" stroke="#000" stroke-width="1.15"/><path d="M429.5 35.2l-3.6 -1.7v3.4z" fill="#000"/>
<text transform="translate(491.8,14.4)" y="3.04" font-size="8.5" text-anchor="middle" fill="#1a1a1a" stroke="#1a1a1a" stroke-width="0.08" textLength="25" lengthAdjust="spacingAndGlyphs">T cells</text>
<clipPath id="c3"><rect x="450.7" y="22.3" width="79.8" height="80.2"/></clipPath>
<path clip-path="url(#c3)" d="M455.5 31.3 456.2 31.1 457.1 31.1 458.0 31.2 458.4 31.4 459.2 31.7 459.8 32.2 460.2 32.5 460.7 32.9 461.1 33.3 461.6 33.8 462.0 34.4 462.3 34.9 462.6 35.3 462.9 36.0 463.3 36.7 463.5 37.1 463.8 37.8 464.2 38.5 464.3 38.9 464.6 39.8 464.8 40.3 465.0 41.2 465.2 41.9 465.3 42.5 465.5 43.4 465.6 44.3 465.7 44.8 465.7 45.7 465.7 46.6 465.7 47.5 465.7 48.4 465.6 48.9 465.6 49.7 465.5 50.6 465.2 51.5 465.1 52.0 464.8 52.9 464.6 53.3 464.3 54.1 464.0 54.7 463.7 55.1 463.4 55.6 462.9 56.1 462.5 56.6 462.0 57.1 461.6 57.5 461.0 57.8 460.2 58.2 459.8 58.3 458.9 58.3 458.4 58.3 457.5 58.0 457.1 57.8 456.5 57.4 456.0 56.9 455.5 56.5 455.2 56.0 454.8 55.6 454.4 54.9 454.0 54.2 453.8 53.8 453.5 53.2 453.2 52.4 453.0 51.9 452.8 51.1 452.6 50.2 452.5 49.7 452.2 48.8 452.1 48.4 451.9 47.5 451.7 46.6 451.6 46.1 451.4 45.2 451.3 44.3 451.2 43.6 451.2 43.0 451.2 42.1 451.1 41.2 451.1 40.3 451.1 39.4 451.2 38.5 451.3 38.0 451.5 37.1 451.7 36.2 451.8 35.8 452.1 34.9 452.4 34.4 452.6 34.0 453.0 33.3 453.5 32.7 453.9 32.2 454.4 31.9 454.8 31.6 455.5 31.3 455.5 31.3Z M502.0 70.4 502.5 70.2 503.4 70.0 504.3 70.2 505.1 70.4 505.7 70.8 506.1 71.0 506.6 71.4 507.2 71.8 507.8 72.2 508.3 72.7 508.7 73.1 509.1 73.6 509.4 74.0 509.7 74.6 510.2 75.4 510.4 75.8 510.6 76.5 510.9 77.2 511.1 78.0 511.2 78.5 511.3 79.4 511.3 80.3 511.2 81.2 511.1 81.9 511.0 82.6 510.7 83.5 510.5 83.9 510.2 84.5 509.7 85.1 509.3 85.6 508.8 86.1 508.4 86.4 507.9 86.7 507.0 87.0 506.2 87.1 505.7 87.1 504.9 87.1 504.3 87.0 503.4 86.7 503.0 86.5 502.3 86.2 501.6 85.9 501.2 85.6 500.5 85.3 499.8 84.9 499.4 84.6 498.9 84.3 498.4 83.9 497.8 83.5 497.3 83.0 496.9 82.6 496.6 82.1 496.2 81.6 496.0 80.8 495.8 79.9 495.8 79.4 495.8 79.0 496.0 78.1 496.3 77.6 496.7 76.8 497.0 76.3 497.2 75.8 497.6 75.1 498.0 74.5 498.4 74.0 498.8 73.6 499.2 73.1 499.6 72.7 500.0 72.2 500.4 71.8 500.8 71.3 501.4 70.9 502.0 70.4 502.0 70.4Z M459.6 76.7 460.2 76.5 461.1 76.5 461.7 76.7 462.5 77.2 462.9 77.5 463.4 77.8 463.8 78.2 464.3 78.6 464.7 79.0 465.2 79.5 465.6 79.9 466.1 80.6 466.5 81.2 466.7 81.7 467.0 82.6 467.0 83.0 467.0 83.9 467.0 84.4 466.8 85.3 466.5 85.9 466.2 86.6 465.9 87.1 465.5 87.5 465.0 88.0 464.5 88.4 463.8 88.9 463.4 89.1 462.9 89.3 462.0 89.7 461.6 89.8 460.7 90.0 459.8 90.0 458.9 89.9 458.4 89.8 457.5 89.6 456.8 89.3 456.2 89.1 455.7 88.9 455.2 88.4 454.8 88.0 454.4 87.5 453.9 87.0 453.5 86.2 453.3 85.7 453.0 85.1 452.9 84.4 452.8 83.5 453.0 82.6 453.1 82.1 453.4 81.2 453.7 80.8 454.0 80.3 454.4 79.8 454.8 79.3 455.3 79.0 455.9 78.5 456.6 78.2 457.1 77.9 457.7 77.6 458.4 77.3 458.9 77.0 459.6 76.7 459.6 76.7Z" fill="#000" fill-opacity="0.6" stroke="none"/>
<path clip-path="url(#c3)" d="M457.1 26.8 457.5 26.8 458.0 26.8 458.9 27.0 459.8 27.2 460.2 27.4 460.8 27.7 461.6 28.1 462.0 28.4 462.5 28.7 463.0 29.0 463.4 29.5 463.9 29.9 464.3 30.4 464.7 30.9 465.2 31.4 465.6 32.0 466.1 32.6 466.4 33.1 466.7 33.5 467.0 34.0 467.4 34.9 467.7 35.3 467.9 35.9 468.2 36.7 468.3 37.3 468.6 38.0 468.8 38.7 469.0 39.4 469.1 40.3 469.2 41.2 469.3 41.6 469.4 42.5 469.4 43.4 469.5 44.3 469.6 45.2 469.6 46.1 469.5 47.0 469.4 47.9 469.3 48.8 469.2 49.5 469.2 50.2 468.9 51.1 468.8 51.6 468.6 52.4 468.3 53.3 468.2 53.8 467.9 54.7 467.8 55.1 467.4 55.8 467.1 56.5 466.9 56.9 466.5 57.6 466.2 58.3 465.9 58.7 465.6 59.2 465.2 59.7 464.7 60.3 464.3 60.8 463.8 61.2 463.4 61.6 462.9 62.0 462.4 62.3 461.7 62.8 461.1 63.1 460.5 63.2 459.8 63.3 458.9 63.4 458.0 63.2 457.5 63.1 456.7 62.8 456.2 62.5 455.7 62.3 455.2 61.9 454.6 61.4 454.0 61.0 453.6 60.5 453.2 60.1 452.9 59.6 452.5 59.2 452.1 58.7 451.7 58.0 451.3 57.4 451.1 56.9 450.8 56.3 450.4 55.6 450.2 55.1 449.9 54.4 449.6 53.8 449.4 53.1 449.3 52.4 449.1 51.5 449.0 51.1 448.8 50.2 448.5 49.3 448.4 48.8 448.3 47.9 448.2 47.0 448.1 46.1 448.1 45.7 448.0 44.8 448.0 43.9 447.9 43.0 447.9 42.1 448.0 41.2 448.1 40.6 448.2 39.8 448.3 38.9 448.4 38.0 448.5 37.3 448.7 36.7 448.9 35.8 449.0 35.3 449.3 34.4 449.4 34.0 449.8 33.1 450.0 32.6 450.3 31.9 450.7 31.3 451.0 30.8 451.3 30.4 451.7 29.9 452.1 29.3 452.6 28.8 453.0 28.4 453.5 28.0 454.1 27.7 454.8 27.3 455.3 27.2 456.2 26.9 457.1 26.8 457.1 26.8Z M502.2 65.0 503.0 64.9 503.9 64.9 504.4 65.0 505.2 65.4 505.7 65.6 506.3 65.9 506.9 66.4 507.3 66.8 507.7 67.3 508.0 67.7 508.4 68.3 508.8 68.9 509.3 69.5 509.7 70.0 510.1 70.4 510.5 70.9 510.8 71.3 511.2 71.8 511.5 72.3 512.0 73.1 512.3 73.6 512.5 74.0 512.9 74.9 513.1 75.4 513.3 76.2 513.5 76.7 513.7 77.6 513.8 78.3 513.9 79.0 514.0 79.9 514.0 80.8 513.9 81.7 513.8 82.6 513.7 83.0 513.4 83.9 513.3 84.4 513.0 85.3 512.8 85.7 512.4 86.4 512.0 87.0 511.6 87.5 511.2 88.0 510.8 88.4 510.3 88.9 509.7 89.3 509.3 89.6 508.8 89.8 507.9 90.2 507.5 90.4 506.6 90.6 505.8 90.7 505.2 90.7 504.3 90.7 503.9 90.7 503.0 90.6 502.1 90.4 501.6 90.2 500.7 90.0 500.0 89.8 499.4 89.6 498.8 89.3 498.0 89.0 497.6 88.9 496.7 88.4 496.2 88.2 495.8 87.9 495.3 87.5 494.9 87.0 494.4 86.6 494.0 86.1 493.5 85.6 493.1 85.0 492.8 84.4 492.5 83.9 492.2 83.3 491.9 82.6 491.7 82.0 491.5 81.2 491.4 80.3 491.3 79.4 491.3 79.0 491.3 78.4 491.3 77.6 491.5 76.7 491.7 75.9 492.0 75.4 492.2 74.9 492.6 74.2 493.0 73.6 493.3 73.1 493.6 72.7 494.0 72.2 494.4 71.7 494.9 71.2 495.3 70.8 495.8 70.3 496.2 69.9 496.7 69.4 497.1 69.0 497.6 68.5 498.0 68.0 498.5 67.5 498.9 67.0 499.4 66.6 499.8 66.2 500.3 65.9 501.0 65.5 501.6 65.2 502.2 65.0 502.2 65.0Z M459.3 68.6 459.8 68.4 460.7 68.2 461.6 68.3 462.2 68.6 462.8 69.1 463.2 69.5 463.5 70.0 463.8 70.7 464.2 71.3 464.3 71.8 464.6 72.7 464.8 73.1 465.2 74.0 465.4 74.5 465.6 75.0 466.1 75.6 466.5 76.1 467.0 76.5 467.4 76.9 467.9 77.3 468.3 77.7 468.8 78.1 469.2 78.7 469.7 79.3 470.1 79.9 470.3 80.3 470.6 81.2 470.8 81.7 471.0 82.6 471.0 83.5 470.9 84.4 470.7 85.3 470.6 85.7 470.2 86.6 469.9 87.1 469.6 87.5 469.2 88.0 468.8 88.6 468.3 89.0 467.9 89.4 467.4 89.8 466.8 90.2 466.1 90.7 465.6 90.9 465.1 91.1 464.3 91.5 463.8 91.7 462.9 92.0 462.5 92.0 461.6 92.3 460.7 92.3 459.8 92.4 458.9 92.3 458.0 92.2 457.4 92.0 456.6 91.8 456.0 91.6 455.3 91.4 454.8 91.1 454.1 90.7 453.5 90.3 453.0 90.0 452.6 89.6 452.1 89.3 451.7 88.8 451.2 88.3 450.8 87.7 450.4 87.1 450.2 86.6 449.9 86.1 449.6 85.3 449.4 84.8 449.3 83.9 449.3 83.0 449.4 82.1 449.5 81.7 449.8 80.8 450.0 80.3 450.3 79.7 450.8 79.1 451.2 78.5 451.6 78.1 452.1 77.6 452.6 77.2 453.0 76.9 453.5 76.6 453.9 76.3 454.5 75.8 455.1 75.4 455.6 74.9 455.9 74.5 456.2 74.0 456.6 73.2 456.8 72.7 457.1 72.0 457.4 71.3 457.6 70.9 458.0 70.1 458.4 69.5 458.7 69.1 459.3 68.6 459.3 68.6Z M455.1 28.1 455.7 27.9 456.6 27.8 457.5 27.8 458.4 27.9 459.3 28.1 459.8 28.4 460.3 28.6 461.1 29.0 461.6 29.3 462.0 29.7 462.5 30.1 462.9 30.5 463.4 31.0 463.8 31.5 464.3 32.0 464.7 32.6 465.1 33.1 465.4 33.5 465.7 34.0 466.1 34.6 466.5 35.3 466.7 35.8 467.0 36.5 467.2 37.1 467.4 38.0 467.6 38.5 467.9 39.3 468.1 39.8 468.2 40.7 468.3 41.3 468.5 42.1 468.5 43.0 468.6 43.9 468.6 44.8 468.7 45.7 468.6 46.6 468.6 47.5 468.5 48.4 468.4 49.3 468.3 49.8 468.2 50.6 468.0 51.5 467.9 52.0 467.6 52.9 467.4 53.4 467.2 54.2 467.0 54.8 466.7 55.6 466.4 56.0 466.1 56.7 465.7 57.4 465.5 57.8 465.2 58.3 464.7 58.9 464.3 59.5 463.8 60.0 463.4 60.5 462.9 60.8 462.5 61.2 462.0 61.4 461.1 61.8 460.7 62.0 459.8 62.2 458.9 62.3 458.0 62.2 457.2 61.9 456.6 61.7 456.2 61.4 455.5 61.0 454.9 60.5 454.4 60.1 454.0 59.6 453.6 59.2 453.3 58.7 452.9 58.3 452.6 57.8 452.1 57.0 451.9 56.5 451.7 56.0 451.2 55.2 451.0 54.7 450.8 54.2 450.4 53.3 450.3 52.9 450.1 52.0 449.9 51.2 449.8 50.6 449.5 49.7 449.4 49.3 449.2 48.4 449.1 47.5 449.0 46.8 448.9 46.1 448.8 45.2 448.8 44.3 448.7 43.4 448.7 42.5 448.7 41.6 448.8 40.7 448.9 39.8 449.0 39.0 449.0 38.5 449.2 37.6 449.4 36.7 449.5 36.2 449.7 35.3 449.9 34.7 450.1 34.0 450.3 33.4 450.7 32.6 451.0 32.2 451.2 31.7 451.7 31.1 452.1 30.5 452.6 29.9 453.0 29.5 453.5 29.0 453.9 28.7 454.4 28.5 455.1 28.1 455.1 28.1Z M502.1 65.9 502.5 65.8 503.4 65.7 504.3 65.9 504.8 66.1 505.5 66.4 506.1 66.8 506.6 67.3 507.0 67.7 507.3 68.2 507.7 68.6 508.1 69.1 508.4 69.5 508.8 70.1 509.3 70.6 509.7 71.1 510.2 71.6 510.6 72.2 511.0 72.7 511.3 73.1 511.5 73.6 512.0 74.5 512.2 74.9 512.4 75.5 512.7 76.3 512.9 77.0 513.1 77.6 513.2 78.5 513.3 79.4 513.3 80.3 513.3 81.2 513.2 82.1 513.0 83.0 512.9 83.5 512.6 84.4 512.4 84.9 512.1 85.7 511.8 86.2 511.5 86.6 511.1 87.1 510.6 87.6 510.2 88.1 509.7 88.4 509.0 88.9 508.4 89.2 507.9 89.4 507.0 89.7 506.3 89.8 505.7 89.9 504.8 89.9 504.0 89.8 503.4 89.7 502.5 89.6 501.6 89.4 501.2 89.2 500.3 89.0 499.8 88.8 498.9 88.5 498.5 88.3 497.7 88.0 497.1 87.7 496.7 87.5 496.1 87.1 495.6 86.6 495.1 86.2 494.7 85.7 494.2 85.3 493.9 84.8 493.5 84.4 493.1 83.6 492.8 83.0 492.6 82.5 492.4 81.7 492.2 80.9 492.1 80.3 492.0 79.4 492.0 78.5 492.2 77.6 492.3 77.2 492.5 76.3 492.7 75.8 493.1 75.1 493.5 74.5 493.8 74.0 494.1 73.6 494.5 73.1 494.9 72.6 495.3 72.1 495.8 71.6 496.2 71.2 496.7 70.7 497.1 70.3 497.6 69.8 498.0 69.3 498.5 68.8 498.9 68.3 499.4 67.8 499.8 67.3 500.3 66.9 500.7 66.6 501.2 66.4 502.1 65.9 502.1 65.9Z M459.9 69.5 460.7 69.4 461.6 69.5 462.0 69.7 462.5 70.1 462.9 70.8 463.3 71.3 463.5 71.8 463.8 72.6 464.0 73.1 464.3 73.9 464.6 74.5 464.8 74.9 465.2 75.7 465.6 76.3 466.1 76.7 466.5 77.1 467.0 77.5 467.4 77.9 467.9 78.3 468.3 78.8 468.8 79.4 469.1 79.9 469.3 80.3 469.7 81.2 469.8 81.7 470.0 82.6 470.1 83.5 470.0 84.4 469.8 85.3 469.6 85.7 469.2 86.5 468.9 87.1 468.6 87.5 468.3 88.0 467.9 88.4 467.4 88.9 466.9 89.3 466.3 89.8 465.6 90.2 465.2 90.4 464.7 90.7 463.8 91.1 463.4 91.2 462.5 91.5 462.0 91.6 461.1 91.8 460.2 91.8 459.3 91.8 458.4 91.7 457.9 91.6 457.1 91.4 456.3 91.1 455.7 90.9 455.3 90.7 454.5 90.2 453.9 89.9 453.5 89.6 453.0 89.2 452.6 88.8 452.1 88.3 451.7 87.7 451.3 87.1 451.0 86.6 450.8 86.2 450.4 85.3 450.3 84.8 450.1 83.9 450.1 83.0 450.3 82.1 450.4 81.7 450.8 80.8 451.0 80.3 451.2 79.9 451.7 79.2 452.1 78.6 452.6 78.2 453.0 77.8 453.5 77.4 453.9 77.1 454.5 76.7 455.1 76.3 455.7 75.8 456.2 75.4 456.5 74.9 456.9 74.5 457.1 74.0 457.5 73.1 457.7 72.7 458.0 71.9 458.2 71.3 458.4 70.9 458.9 70.3 459.3 69.9 459.9 69.5 459.9 69.5Z M455.3 29.0 455.7 28.9 456.6 28.7 457.5 28.7 458.4 28.9 458.9 29.1 459.8 29.5 460.2 29.8 460.7 30.0 461.3 30.4 461.8 30.8 462.3 31.3 462.7 31.7 463.1 32.2 463.5 32.6 463.8 33.2 464.3 33.8 464.7 34.4 465.0 34.9 465.3 35.3 465.6 36.0 466.0 36.7 466.1 37.1 466.4 38.0 466.6 38.5 466.9 39.4 467.0 39.9 467.2 40.7 467.4 41.6 467.5 42.1 467.6 43.0 467.7 43.9 467.7 44.8 467.7 45.7 467.7 46.6 467.7 47.5 467.6 48.4 467.6 49.3 467.5 50.2 467.4 50.6 467.2 51.5 467.0 52.2 466.8 52.9 466.5 53.6 466.3 54.2 466.1 54.8 465.7 55.6 465.5 56.0 465.2 56.6 464.7 57.4 464.5 57.8 464.1 58.3 463.8 58.7 463.4 59.2 462.9 59.6 462.3 60.1 461.6 60.5 461.1 60.7 460.2 61.0 459.8 61.0 458.9 61.1 458.0 61.0 457.5 60.9 456.7 60.5 456.2 60.3 455.7 60.0 455.3 59.6 454.8 59.2 454.4 58.7 453.9 58.2 453.5 57.6 453.1 56.9 452.9 56.5 452.6 55.9 452.2 55.1 452.0 54.7 451.7 54.1 451.4 53.3 451.2 52.8 451.0 52.0 450.8 51.1 450.7 50.6 450.4 49.7 450.3 49.3 450.1 48.4 449.9 47.5 449.9 47.0 449.8 46.1 449.7 45.2 449.6 44.3 449.5 43.4 449.5 42.5 449.5 41.6 449.5 40.7 449.6 39.8 449.7 38.9 449.8 38.0 449.9 37.3 450.0 36.7 450.2 35.8 450.4 35.3 450.7 34.4 450.8 34.0 451.2 33.1 451.5 32.6 451.8 32.2 452.1 31.7 452.6 31.1 453.0 30.6 453.5 30.1 453.9 29.7 454.4 29.5 455.3 29.0 455.3 29.0Z M502.7 66.8 503.4 66.8 503.9 66.9 504.8 67.2 505.2 67.4 505.7 67.7 506.2 68.2 506.6 68.7 507.0 69.2 507.5 69.7 507.9 70.2 508.4 70.7 508.8 71.1 509.3 71.6 509.7 72.1 510.2 72.7 510.5 73.1 510.8 73.6 511.1 74.1 511.5 74.9 511.7 75.4 512.0 76.1 512.2 76.7 512.4 77.6 512.5 78.1 512.6 79.0 512.7 79.9 512.7 80.8 512.6 81.7 512.5 82.6 512.4 83.0 512.1 83.9 511.9 84.4 511.5 85.3 511.3 85.7 511.0 86.2 510.6 86.6 510.2 87.1 509.7 87.5 509.1 88.0 508.4 88.4 507.9 88.6 507.0 88.9 506.6 88.9 505.7 89.0 504.8 89.0 503.9 88.9 503.4 88.8 502.5 88.7 501.8 88.4 501.2 88.3 500.5 88.0 499.8 87.8 499.2 87.5 498.5 87.3 498.0 87.1 497.1 86.7 496.7 86.4 496.2 86.1 495.8 85.7 495.3 85.3 494.9 84.8 494.4 84.3 494.0 83.6 493.7 83.0 493.5 82.6 493.3 81.7 493.1 81.1 492.9 80.3 492.9 79.4 492.9 78.5 493.1 77.8 493.3 77.2 493.5 76.5 493.8 75.8 494.1 75.4 494.4 74.8 494.9 74.2 495.3 73.6 495.7 73.1 496.1 72.7 496.5 72.2 497.0 71.8 497.5 71.3 498.0 70.9 498.4 70.4 498.8 70.0 499.1 69.5 499.5 69.1 499.9 68.6 500.3 68.2 500.8 67.7 501.5 67.3 502.1 67.0 502.7 66.8 502.7 66.8Z M460.2 70.9 460.7 70.8 461.2 70.9 461.9 71.3 462.4 71.8 462.7 72.2 463.0 72.7 463.3 73.6 463.5 74.0 463.8 74.9 464.0 75.4 464.3 75.9 464.7 76.5 465.2 77.0 465.6 77.4 466.1 77.8 466.5 78.2 467.0 78.6 467.4 79.1 467.9 79.7 468.3 80.3 468.5 80.8 468.8 81.7 469.0 82.1 469.1 83.0 469.1 83.9 469.0 84.8 468.8 85.3 468.5 86.2 468.3 86.6 467.9 87.2 467.4 87.8 467.0 88.3 466.5 88.8 466.1 89.1 465.6 89.5 465.1 89.8 464.3 90.2 463.8 90.4 463.2 90.7 462.5 90.9 461.6 91.1 461.1 91.2 460.2 91.3 459.3 91.3 458.4 91.2 458.0 91.1 457.1 90.8 456.6 90.7 455.7 90.3 455.3 90.1 454.8 89.8 454.2 89.3 453.7 88.9 453.2 88.4 452.8 88.0 452.4 87.5 452.1 87.1 451.7 86.3 451.5 85.7 451.2 85.1 451.1 84.4 451.0 83.5 451.1 82.6 451.2 81.9 451.5 81.2 451.7 80.8 452.1 80.0 452.5 79.4 452.8 79.0 453.3 78.5 453.8 78.1 454.4 77.7 454.8 77.4 455.3 77.1 455.7 76.7 456.3 76.3 456.8 75.8 457.2 75.4 457.6 74.9 458.0 74.2 458.3 73.6 458.5 73.1 458.8 72.2 459.1 71.8 459.5 71.3 460.2 70.9 460.2 70.9Z M456.3 29.5 457.1 29.4 457.7 29.5 458.4 29.7 459.1 29.9 459.8 30.4 460.2 30.6 460.7 30.9 461.2 31.3 461.7 31.7 462.2 32.2 462.6 32.6 462.9 33.1 463.4 33.8 463.8 34.4 464.1 34.9 464.4 35.3 464.7 36.0 465.1 36.7 465.3 37.1 465.6 38.0 465.8 38.5 466.1 39.4 466.3 39.8 466.5 40.7 466.6 41.2 466.8 42.1 466.9 43.0 467.0 43.8 467.0 44.3 467.1 45.2 467.1 46.1 467.1 47.0 467.0 47.9 467.0 48.6 467.0 49.3 466.9 50.2 466.7 51.1 466.5 51.7 466.3 52.4 466.1 53.2 465.9 53.8 465.6 54.3 465.3 55.1 465.1 55.6 464.7 56.1 464.3 56.9 463.9 57.4 463.6 57.8 463.2 58.3 462.8 58.7 462.3 59.2 461.6 59.6 461.1 59.9 460.4 60.1 459.8 60.2 458.9 60.3 458.0 60.2 457.5 60.0 456.6 59.7 456.2 59.4 455.7 59.1 455.3 58.7 454.8 58.2 454.4 57.6 453.9 57.0 453.6 56.5 453.4 56.0 453.0 55.4 452.7 54.7 452.5 54.2 452.1 53.5 451.9 52.9 451.7 52.0 451.6 51.5 451.3 50.6 451.2 50.2 450.9 49.3 450.8 48.7 450.6 47.9 450.5 47.0 450.4 46.1 450.3 45.7 450.2 44.8 450.1 43.9 450.0 43.0 450.0 42.1 450.0 41.2 450.0 40.3 450.1 39.4 450.2 38.5 450.3 37.6 450.4 37.1 450.6 36.2 450.8 35.5 451.0 34.9 451.2 34.3 451.6 33.5 451.8 33.1 452.1 32.6 452.6 31.9 453.0 31.4 453.5 30.9 453.9 30.5 454.4 30.2 454.9 29.9 455.7 29.6 456.3 29.5 456.3 29.5Z M502.9 67.7 503.4 67.7 503.9 67.8 504.8 68.1 505.2 68.4 505.7 68.8 506.1 69.2 506.6 69.6 507.0 70.1 507.5 70.5 507.9 70.9 508.4 71.4 508.8 71.8 509.3 72.3 509.7 72.8 510.2 73.5 510.6 74.0 510.8 74.5 511.1 75.1 511.4 75.8 511.6 76.3 511.9 77.2 512.0 77.8 512.1 78.5 512.3 79.4 512.3 80.3 512.2 81.2 512.1 82.1 512.0 82.6 511.8 83.5 511.5 84.1 511.2 84.8 511.0 85.3 510.6 85.8 510.2 86.3 509.7 86.8 509.3 87.2 508.8 87.5 507.9 88.0 507.5 88.1 506.6 88.3 505.7 88.4 504.8 88.4 503.9 88.3 503.0 88.1 502.5 88.0 501.6 87.6 501.2 87.5 500.3 87.2 499.8 87.0 499.0 86.6 498.5 86.4 497.9 86.2 497.1 85.8 496.7 85.5 496.2 85.2 495.8 84.8 495.3 84.3 494.9 83.7 494.5 83.0 494.2 82.6 494.0 81.8 493.9 81.2 493.7 80.3 493.6 79.4 493.7 78.5 494.0 77.6 494.1 77.2 494.4 76.5 494.8 75.8 495.0 75.4 495.4 74.9 495.8 74.4 496.2 73.7 496.7 73.2 497.1 72.7 497.6 72.3 498.0 71.9 498.5 71.4 498.9 71.0 499.4 70.4 499.8 70.0 500.2 69.5 500.6 69.1 501.1 68.6 501.6 68.2 502.1 68.0 502.9 67.7 502.9 67.7Z M460.2 72.2 460.7 72.1 461.3 72.2 461.9 72.7 462.2 73.1 462.5 73.7 462.8 74.5 463.0 74.9 463.4 75.7 463.8 76.3 464.2 76.7 464.6 77.2 465.1 77.6 465.6 78.1 466.1 78.5 466.5 79.0 467.0 79.4 467.3 79.9 467.6 80.3 467.9 81.2 468.1 81.7 468.3 82.6 468.4 83.0 468.4 83.9 468.3 84.5 468.1 85.3 467.9 86.0 467.6 86.6 467.3 87.1 467.0 87.5 466.5 88.0 466.1 88.5 465.6 88.9 465.0 89.3 464.3 89.7 463.8 90.0 463.2 90.2 462.5 90.5 461.6 90.7 461.1 90.8 460.2 90.9 459.3 90.9 458.4 90.7 458.0 90.6 457.1 90.4 456.6 90.2 455.7 89.9 455.3 89.6 454.8 89.3 454.3 88.9 453.8 88.4 453.4 88.0 453.0 87.5 452.6 86.9 452.2 86.2 452.1 85.7 451.8 84.8 451.7 84.4 451.6 83.5 451.7 82.7 451.8 82.1 452.1 81.3 452.3 80.8 452.6 80.3 453.0 79.6 453.5 79.1 453.9 78.7 454.4 78.3 454.8 78.0 455.3 77.6 456.0 77.2 456.6 76.8 457.1 76.4 457.5 76.0 458.0 75.5 458.4 74.9 458.7 74.5 458.9 74.0 459.3 73.2 459.7 72.7 460.2 72.2 460.2 72.2Z M455.6 30.4 456.2 30.2 457.1 30.2 458.0 30.3 458.4 30.5 459.2 30.8 459.8 31.2 460.2 31.5 460.7 31.9 461.1 32.2 461.6 32.6 462.1 33.1 462.5 33.7 462.9 34.4 463.3 34.9 463.5 35.3 463.8 35.9 464.3 36.7 464.5 37.1 464.7 37.7 465.1 38.5 465.2 38.9 465.5 39.8 465.6 40.4 465.9 41.2 466.1 42.1 466.2 42.5 466.3 43.4 466.4 44.3 466.5 45.2 466.4 46.1 466.4 47.0 466.4 47.9 466.4 48.8 466.3 49.7 466.2 50.6 466.1 51.1 465.9 52.0 465.6 52.7 465.4 53.3 465.2 53.8 464.8 54.7 464.6 55.1 464.3 55.6 463.8 56.3 463.4 56.9 463.0 57.4 462.6 57.8 462.1 58.3 461.6 58.7 461.1 58.9 460.5 59.2 459.8 59.4 458.9 59.4 458.0 59.3 457.5 59.1 456.8 58.7 456.2 58.4 455.7 58.0 455.3 57.5 454.8 57.0 454.5 56.5 454.2 56.0 453.9 55.6 453.5 54.9 453.2 54.2 453.0 53.8 452.6 52.9 452.5 52.4 452.2 51.5 452.1 51.1 451.9 50.2 451.7 49.6 451.5 48.8 451.3 47.9 451.2 47.5 451.0 46.6 450.9 45.7 450.8 45.2 450.7 44.3 450.6 43.4 450.6 42.5 450.6 41.6 450.5 40.7 450.6 39.8 450.6 38.9 450.7 38.0 450.8 37.6 451.0 36.7 451.2 35.8 451.4 35.3 451.7 34.5 451.9 34.0 452.2 33.5 452.6 32.9 453.0 32.2 453.5 31.7 453.9 31.3 454.4 31.0 454.8 30.7 455.6 30.4 455.6 30.4Z M502.1 69.1 503.0 68.8 503.9 68.8 504.7 69.1 505.2 69.5 505.7 69.8 506.1 70.1 506.6 70.5 507.1 70.9 507.6 71.3 508.1 71.8 508.6 72.2 509.0 72.7 509.4 73.1 509.7 73.6 510.2 74.3 510.5 74.9 510.8 75.4 511.1 76.3 511.3 76.7 511.5 77.6 511.6 78.1 511.8 79.0 511.8 79.9 511.8 80.8 511.7 81.7 511.5 82.4 511.4 83.0 511.1 83.9 510.9 84.4 510.6 84.9 510.2 85.5 509.7 86.1 509.3 86.5 508.8 86.9 508.4 87.1 507.5 87.5 507.0 87.6 506.1 87.8 505.2 87.8 504.3 87.7 503.6 87.5 503.0 87.4 502.3 87.1 501.6 86.8 501.2 86.6 500.3 86.3 499.8 86.1 499.1 85.7 498.5 85.5 498.0 85.3 497.3 84.8 496.8 84.4 496.3 83.9 495.8 83.5 495.5 83.0 495.2 82.6 494.9 81.9 494.7 81.2 494.6 80.3 494.5 79.4 494.6 78.5 494.9 77.7 495.1 77.2 495.4 76.7 495.8 76.0 496.2 75.4 496.5 74.9 496.8 74.5 497.1 74.0 497.6 73.5 498.0 73.0 498.5 72.6 498.9 72.1 499.4 71.6 499.8 71.1 500.3 70.7 500.7 70.2 501.2 69.8 501.6 69.4 502.1 69.1 502.1 69.1Z M460.2 74.5 460.7 74.1 461.5 74.5 461.9 74.9 462.2 75.4 462.5 75.8 462.9 76.4 463.4 76.9 463.8 77.3 464.3 77.7 464.7 78.1 465.2 78.6 465.7 79.0 466.2 79.4 466.5 79.9 467.0 80.7 467.2 81.2 467.4 81.9 467.7 82.6 467.8 83.5 467.7 84.4 467.5 85.3 467.4 85.7 467.0 86.5 466.6 87.1 466.3 87.5 465.9 88.0 465.4 88.4 464.8 88.9 464.3 89.2 463.8 89.5 463.1 89.8 462.5 90.0 461.7 90.2 461.1 90.4 460.2 90.5 459.3 90.5 458.4 90.3 458.0 90.2 457.1 90.0 456.6 89.8 455.7 89.4 455.3 89.1 454.8 88.8 454.4 88.4 453.9 87.9 453.5 87.3 453.1 86.6 452.8 86.2 452.6 85.6 452.4 84.8 452.2 83.9 452.2 83.0 452.4 82.1 452.6 81.7 453.0 80.8 453.2 80.3 453.5 79.9 453.9 79.4 454.4 78.9 454.9 78.5 455.6 78.1 456.2 77.7 456.6 77.4 457.1 77.2 457.8 76.7 458.3 76.3 458.8 75.8 459.3 75.4 459.7 74.9 460.2 74.5 460.2 74.5Z M456.2 30.8 457.1 30.8 457.5 30.9 458.4 31.1 458.9 31.3 459.6 31.7 460.2 32.2 460.7 32.6 461.1 33.0 461.6 33.4 462.0 34.0 462.3 34.4 462.6 34.9 462.9 35.5 463.4 36.2 463.6 36.7 463.8 37.2 464.2 38.0 464.4 38.5 464.7 39.4 464.9 39.8 465.2 40.7 465.3 41.2 465.5 42.1 465.6 42.9 465.7 43.4 465.9 44.3 466.0 45.2 466.0 46.1 465.9 47.0 465.9 47.9 465.9 48.8 465.8 49.7 465.7 50.6 465.6 51.1 465.3 52.0 465.2 52.4 464.9 53.3 464.7 53.8 464.3 54.5 463.9 55.1 463.7 55.6 463.3 56.0 462.9 56.5 462.5 57.0 462.0 57.5 461.6 57.8 460.8 58.3 460.2 58.5 459.3 58.7 458.4 58.6 457.5 58.3 457.1 58.1 456.6 57.8 456.1 57.4 455.6 56.9 455.2 56.5 454.8 56.0 454.4 55.4 454.0 54.7 453.8 54.2 453.5 53.7 453.2 52.9 453.0 52.4 452.7 51.5 452.6 51.0 452.4 50.2 452.1 49.4 452.0 48.8 451.8 47.9 451.7 47.5 451.5 46.6 451.3 45.7 451.2 45.2 451.1 44.3 451.0 43.4 451.0 42.5 451.0 41.6 450.9 40.7 451.0 39.8 451.0 38.9 451.1 38.0 451.2 37.4 451.4 36.7 451.6 35.8 451.8 35.3 452.1 34.5 452.4 34.0 452.7 33.5 453.0 33.0 453.5 32.4 453.9 31.9 454.4 31.6 454.9 31.3 455.7 30.9 456.2 30.8 456.2 30.8Z M502.1 70.0 502.5 69.8 503.4 69.6 504.3 69.8 504.8 70.0 505.6 70.4 506.1 70.8 506.6 71.1 507.0 71.4 507.5 71.8 508.1 72.2 508.6 72.7 508.9 73.1 509.3 73.6 509.7 74.3 510.1 74.9 510.4 75.4 510.6 76.1 510.9 76.7 511.1 77.4 511.3 78.1 511.4 79.0 511.5 79.9 511.4 80.8 511.3 81.7 511.1 82.6 511.0 83.0 510.7 83.9 510.5 84.4 510.2 84.8 509.7 85.4 509.3 85.9 508.8 86.3 508.4 86.6 507.5 87.0 507.0 87.2 506.1 87.3 505.2 87.3 504.3 87.2 503.9 87.1 503.0 86.8 502.5 86.6 501.7 86.2 501.2 85.9 500.7 85.7 499.9 85.3 499.4 85.1 498.9 84.8 498.3 84.4 497.6 83.9 497.1 83.5 496.7 83.0 496.3 82.6 496.0 82.1 495.8 81.7 495.5 80.8 495.4 79.9 495.4 79.0 495.6 78.1 495.8 77.6 496.2 76.9 496.6 76.3 496.8 75.8 497.1 75.3 497.6 74.6 498.0 74.0 498.4 73.6 498.9 73.1 499.3 72.7 499.6 72.2 500.0 71.8 500.5 71.3 501.0 70.9 501.5 70.4 502.1 70.0 502.1 70.0Z M459.7 76.3 460.2 76.1 461.1 76.0 461.7 76.3 462.4 76.7 462.9 77.2 463.4 77.6 463.8 77.9 464.3 78.3 464.7 78.8 465.2 79.2 465.6 79.6 466.1 80.2 466.5 80.8 466.7 81.2 467.0 82.0 467.2 82.6 467.3 83.5 467.2 84.4 467.0 85.2 466.9 85.7 466.5 86.4 466.1 87.1 465.7 87.5 465.3 88.0 464.8 88.4 464.3 88.8 463.8 89.1 463.3 89.3 462.5 89.7 462.0 89.8 461.1 90.1 460.2 90.1 459.3 90.1 458.4 90.0 457.8 89.8 457.1 89.6 456.4 89.3 455.7 89.0 455.3 88.7 454.8 88.3 454.4 87.8 453.9 87.2 453.5 86.6 453.3 86.2 453.0 85.6 452.8 84.8 452.7 83.9 452.7 83.0 452.9 82.1 453.1 81.7 453.5 80.8 453.7 80.3 454.1 79.9 454.5 79.4 455.0 79.0 455.6 78.5 456.2 78.2 456.6 77.9 457.3 77.6 458.0 77.3 458.4 77.0 458.9 76.7 459.7 76.3 459.7 76.3Z M455.2 31.7 455.7 31.5 456.6 31.4 457.5 31.5 458.4 31.7 458.9 31.9 459.3 32.2 459.9 32.6 460.5 33.1 460.9 33.5 461.3 34.0 461.6 34.4 462.0 35.1 462.4 35.8 462.7 36.2 462.9 36.8 463.4 37.6 463.6 38.0 463.8 38.7 464.1 39.4 464.3 40.0 464.6 40.7 464.7 41.5 464.9 42.1 465.1 43.0 465.2 43.6 465.3 44.3 465.4 45.2 465.5 46.1 465.4 47.0 465.4 47.9 465.4 48.8 465.3 49.7 465.2 50.4 465.1 51.1 464.8 52.0 464.6 52.4 464.3 53.3 464.1 53.8 463.8 54.3 463.4 55.0 462.9 55.6 462.6 56.0 462.1 56.5 461.6 56.9 461.1 57.3 460.7 57.6 459.8 57.8 459.3 57.9 458.8 57.8 458.0 57.7 457.3 57.4 456.6 57.0 456.2 56.6 455.7 56.2 455.3 55.6 455.0 55.1 454.7 54.7 454.4 54.2 453.9 53.4 453.7 52.9 453.5 52.3 453.3 51.5 453.0 50.7 452.9 50.2 452.6 49.3 452.5 48.8 452.3 47.9 452.1 47.4 452.0 46.6 451.8 45.7 451.7 45.2 451.6 44.3 451.5 43.4 451.4 42.5 451.4 41.6 451.4 40.7 451.3 39.8 451.4 38.9 451.5 38.0 451.7 37.2 451.8 36.7 452.1 35.8 452.2 35.3 452.6 34.6 452.9 34.0 453.2 33.5 453.6 33.1 453.9 32.6 454.5 32.2 455.2 31.7 455.2 31.7Z M502.0 70.9 502.5 70.6 503.4 70.5 504.3 70.6 505.2 70.9 505.7 71.1 506.1 71.4 506.8 71.8 507.5 72.2 507.9 72.6 508.4 73.1 508.8 73.6 509.2 74.0 509.5 74.5 509.7 75.0 510.2 75.8 510.4 76.3 510.6 77.1 510.8 77.6 511.0 78.5 511.1 79.4 511.1 80.3 511.0 81.2 510.8 82.1 510.6 82.9 510.5 83.5 510.2 84.1 509.7 84.7 509.3 85.3 508.8 85.7 508.4 86.1 507.9 86.4 507.2 86.6 506.6 86.8 505.7 86.9 504.8 86.8 504.1 86.6 503.4 86.4 503.0 86.2 502.1 85.7 501.6 85.5 501.2 85.2 500.5 84.8 499.9 84.4 499.4 84.0 498.9 83.7 498.5 83.4 498.0 83.0 497.6 82.4 497.1 81.7 496.9 81.2 496.7 80.8 496.4 79.9 496.4 79.0 496.7 78.1 496.9 77.6 497.1 77.0 497.5 76.3 497.7 75.8 498.0 75.2 498.5 74.6 498.9 74.0 499.3 73.6 499.7 73.1 500.0 72.7 500.4 72.2 500.9 71.8 501.4 71.3 502.0 70.9 502.0 70.9Z M459.6 77.2 460.2 77.0 461.1 77.1 461.7 77.2 462.5 77.6 462.9 77.8 463.4 78.2 463.8 78.6 464.3 79.0 464.8 79.4 465.2 79.9 465.6 80.4 466.1 81.2 466.4 81.7 466.6 82.1 466.8 83.0 466.8 83.9 466.6 84.8 466.5 85.3 466.2 86.2 465.9 86.6 465.6 87.1 465.2 87.5 464.7 88.0 464.1 88.4 463.4 88.9 462.9 89.1 462.3 89.3 461.6 89.6 460.7 89.8 459.8 89.8 458.9 89.7 458.0 89.5 457.4 89.3 456.6 89.1 456.2 88.9 455.5 88.4 455.0 88.0 454.7 87.5 454.3 87.1 453.9 86.5 453.5 85.7 453.4 85.3 453.1 84.4 453.1 83.5 453.2 82.6 453.5 81.7 453.7 81.2 454.0 80.8 454.4 80.2 454.8 79.7 455.3 79.2 455.7 78.9 456.4 78.5 457.1 78.2 457.5 78.0 458.4 77.6 458.9 77.4 459.6 77.2 459.6 77.2Z M455.4 32.2 456.2 31.9 457.1 31.9 458.0 32.1 458.4 32.2 459.2 32.6 459.8 33.1 460.2 33.5 460.7 34.0 461.0 34.4 461.3 34.9 461.6 35.3 462.0 36.2 462.3 36.7 462.6 37.1 462.9 37.9 463.3 38.5 463.4 38.9 463.7 39.8 463.9 40.3 464.2 41.2 464.3 41.7 464.5 42.5 464.7 43.4 464.8 43.9 464.9 44.8 465.0 45.7 465.0 46.6 465.0 47.5 465.0 48.4 464.9 49.3 464.8 50.2 464.7 50.6 464.5 51.5 464.3 52.0 464.0 52.9 463.8 53.3 463.4 54.1 463.0 54.7 462.7 55.1 462.3 55.6 461.8 56.0 461.3 56.5 460.7 56.9 460.2 57.1 459.3 57.2 458.4 57.1 457.9 56.9 457.1 56.6 456.6 56.3 456.2 55.8 455.7 55.3 455.3 54.7 455.0 54.2 454.7 53.8 454.4 53.3 454.0 52.4 453.9 52.0 453.6 51.1 453.5 50.6 453.2 49.7 453.0 49.3 452.8 48.4 452.6 47.6 452.5 47.0 452.3 46.1 452.1 45.6 452.0 44.8 451.9 43.9 451.8 43.0 451.8 42.1 451.7 41.2 451.7 40.7 451.7 39.8 451.7 39.4 451.8 38.5 451.9 37.6 452.1 36.8 452.3 36.2 452.6 35.4 452.8 34.9 453.1 34.4 453.5 33.9 453.9 33.3 454.4 32.8 454.8 32.5 455.4 32.2 455.4 32.2Z M502.4 71.3 503.0 71.1 503.9 71.1 504.8 71.2 505.2 71.4 506.1 71.8 506.6 72.1 507.0 72.4 507.5 72.7 508.0 73.1 508.4 73.6 508.8 74.1 509.3 74.8 509.7 75.4 509.9 75.8 510.2 76.7 510.4 77.2 510.6 78.1 510.7 78.5 510.8 79.4 510.8 80.3 510.7 81.2 510.6 81.7 510.4 82.6 510.2 83.2 509.9 83.9 509.6 84.4 509.2 84.8 508.8 85.3 508.3 85.7 507.5 86.2 507.0 86.3 506.1 86.5 505.2 86.5 504.3 86.3 503.9 86.1 503.1 85.7 502.5 85.5 502.1 85.2 501.5 84.8 500.9 84.4 500.3 83.9 499.9 83.5 499.4 83.1 498.9 82.7 498.5 82.2 498.2 81.7 497.9 81.2 497.6 80.6 497.4 79.9 497.4 79.0 497.6 78.2 497.7 77.6 498.0 76.7 498.2 76.3 498.5 75.7 498.9 74.9 499.2 74.5 499.5 74.0 499.9 73.6 500.3 73.1 500.7 72.6 501.2 72.1 501.6 71.8 502.4 71.3 502.4 71.3Z M459.9 77.6 460.7 77.6 461.2 77.6 462.0 77.9 462.5 78.1 463.2 78.5 463.8 79.0 464.3 79.4 464.7 79.9 465.1 80.3 465.4 80.8 465.7 81.2 466.1 82.0 466.3 82.6 466.4 83.5 466.3 84.4 466.1 85.3 466.0 85.7 465.6 86.4 465.2 87.0 464.7 87.5 464.3 87.9 463.8 88.3 463.4 88.5 462.6 88.9 462.0 89.2 461.4 89.3 460.7 89.5 459.8 89.5 458.9 89.4 458.4 89.3 457.5 89.1 456.9 88.9 456.2 88.6 455.7 88.2 455.3 87.8 454.8 87.3 454.4 86.6 454.1 86.2 453.9 85.7 453.6 84.8 453.5 84.3 453.5 83.5 453.5 83.0 453.7 82.1 453.9 81.6 454.4 80.8 454.7 80.3 455.1 79.9 455.6 79.4 456.2 79.1 456.6 78.8 457.3 78.5 458.0 78.2 458.4 78.1 459.3 77.8 459.9 77.6 459.9 77.6Z M455.6 32.6 456.2 32.5 457.1 32.4 458.0 32.6 458.4 32.8 459.0 33.1 459.6 33.5 460.0 34.0 460.4 34.4 460.7 34.9 461.1 35.6 461.5 36.2 461.7 36.7 462.0 37.3 462.5 38.0 462.7 38.5 462.9 39.1 463.2 39.8 463.4 40.4 463.7 41.2 463.8 41.9 464.0 42.5 464.2 43.4 464.3 44.0 464.5 44.8 464.6 45.7 464.6 46.6 464.6 47.5 464.5 48.4 464.5 49.3 464.4 50.2 464.3 50.6 464.0 51.5 463.8 52.0 463.5 52.9 463.3 53.3 462.9 53.9 462.5 54.6 462.0 55.1 461.6 55.5 461.1 55.9 460.7 56.2 459.8 56.5 459.3 56.5 458.9 56.4 458.0 56.2 457.5 56.0 456.9 55.6 456.4 55.1 456.0 54.7 455.6 54.2 455.3 53.8 454.8 53.0 454.6 52.4 454.4 52.0 454.1 51.1 453.9 50.6 453.6 49.7 453.4 49.3 453.2 48.4 453.0 47.7 452.9 47.0 452.7 46.1 452.6 45.7 452.4 44.8 452.3 43.9 452.2 43.0 452.1 42.5 452.1 41.6 452.0 40.7 452.0 39.8 452.1 38.9 452.1 38.4 452.3 37.6 452.5 36.7 452.7 36.2 453.0 35.3 453.3 34.9 453.6 34.4 453.9 34.0 454.4 33.5 454.8 33.1 455.6 32.6 455.6 32.6Z M502.8 71.8 503.4 71.6 504.3 71.6 505.0 71.8 505.7 72.1 506.1 72.3 506.9 72.7 507.5 73.1 507.9 73.5 508.4 74.0 508.7 74.5 509.0 74.9 509.3 75.4 509.7 76.3 509.9 76.7 510.2 77.6 510.3 78.1 510.5 79.0 510.5 79.9 510.4 80.8 510.3 81.7 510.2 82.1 509.9 83.0 509.7 83.5 509.3 84.2 508.8 84.7 508.4 85.2 507.9 85.5 507.5 85.8 506.6 86.0 505.7 86.1 504.8 86.0 504.1 85.7 503.4 85.5 503.0 85.2 502.3 84.8 501.7 84.4 501.2 84.0 500.7 83.6 500.3 83.1 499.8 82.6 499.4 82.1 499.1 81.7 498.8 81.2 498.5 80.5 498.3 79.9 498.3 79.0 498.4 78.1 498.5 77.6 498.7 76.7 498.9 76.1 499.3 75.4 499.5 74.9 499.8 74.5 500.3 73.9 500.7 73.3 501.2 72.8 501.6 72.4 502.1 72.1 502.8 71.8 502.8 71.8Z M460.1 78.1 460.7 78.1 461.1 78.1 462.0 78.4 462.5 78.6 463.2 79.0 463.7 79.4 464.2 79.9 464.6 80.3 465.0 80.8 465.3 81.2 465.6 82.0 465.9 82.6 466.0 83.5 465.9 84.4 465.7 85.3 465.6 85.7 465.2 86.4 464.7 87.0 464.3 87.5 463.8 87.9 463.4 88.2 462.9 88.4 462.0 88.8 461.6 89.0 460.7 89.2 459.8 89.2 458.9 89.1 458.0 88.9 457.5 88.8 456.6 88.5 456.2 88.2 455.7 87.8 455.3 87.3 454.8 86.7 454.5 86.2 454.3 85.7 454.0 84.8 453.9 84.4 453.8 83.5 453.9 82.7 454.1 82.1 454.4 81.5 454.8 80.8 455.2 80.3 455.6 79.9 456.2 79.5 456.6 79.2 457.1 79.0 458.0 78.6 458.4 78.5 459.3 78.2 460.1 78.1 460.1 78.1Z M455.7 33.1 456.2 32.9 457.1 32.9 458.0 33.0 458.4 33.2 458.9 33.5 459.4 34.0 459.8 34.4 460.2 35.0 460.7 35.7 461.0 36.2 461.3 36.7 461.6 37.4 462.0 38.0 462.2 38.5 462.5 39.1 462.8 39.8 462.9 40.4 463.2 41.2 463.4 42.0 463.6 42.5 463.8 43.4 463.8 43.9 464.0 44.8 464.1 45.7 464.2 46.6 464.2 47.5 464.1 48.4 464.1 49.3 463.9 50.2 463.8 50.6 463.5 51.5 463.4 52.0 463.0 52.9 462.8 53.3 462.5 53.8 462.0 54.4 461.6 54.9 461.1 55.3 460.6 55.6 459.8 55.9 458.9 55.8 458.2 55.6 457.5 55.3 457.1 55.0 456.6 54.7 456.2 54.2 455.7 53.6 455.3 52.9 455.0 52.4 454.8 52.0 454.5 51.1 454.4 50.6 454.0 49.7 453.8 49.3 453.6 48.4 453.5 47.9 453.3 47.0 453.1 46.1 452.9 45.7 452.8 44.8 452.6 43.9 452.6 43.4 452.5 42.5 452.4 41.6 452.3 40.7 452.3 39.8 452.4 38.9 452.5 38.0 452.6 37.6 452.9 36.7 453.0 36.2 453.4 35.3 453.7 34.9 454.1 34.4 454.5 34.0 455.0 33.5 455.7 33.1 455.7 33.1Z M502.9 72.2 503.4 72.1 504.3 72.1 505.2 72.2 505.7 72.4 506.3 72.7 507.0 73.1 507.5 73.5 507.9 74.0 508.4 74.5 508.7 74.9 509.0 75.4 509.3 76.0 509.6 76.7 509.8 77.2 510.0 78.1 510.2 79.0 510.2 79.4 510.2 80.1 510.1 80.8 510.0 81.7 509.7 82.6 509.6 83.0 509.3 83.6 508.8 84.2 508.4 84.7 507.9 85.1 507.5 85.4 506.6 85.6 505.7 85.7 504.8 85.6 504.0 85.3 503.4 85.1 503.0 84.8 502.4 84.4 501.8 83.9 501.3 83.5 500.9 83.0 500.5 82.6 500.1 82.1 499.8 81.7 499.4 81.1 499.1 80.3 499.0 79.4 499.0 78.5 499.1 77.6 499.3 76.7 499.4 76.3 499.8 75.4 500.0 74.9 500.3 74.5 500.7 73.9 501.2 73.4 501.6 72.9 502.1 72.6 502.9 72.2 502.9 72.2Z M459.4 78.5 460.2 78.4 461.1 78.5 461.6 78.6 462.5 79.0 462.9 79.3 463.4 79.6 463.8 80.0 464.3 80.5 464.7 81.1 465.1 81.7 465.4 82.1 465.6 83.0 465.6 83.9 465.5 84.8 465.2 85.7 465.0 86.2 464.7 86.6 464.3 87.1 463.8 87.5 463.1 88.0 462.5 88.3 462.0 88.5 461.1 88.9 460.7 88.9 459.8 89.0 459.2 88.9 458.4 88.8 457.5 88.5 457.1 88.4 456.4 88.0 455.9 87.5 455.5 87.1 455.2 86.6 454.8 86.1 454.4 85.3 454.3 84.8 454.1 83.9 454.2 83.0 454.4 82.3 454.6 81.7 454.9 81.2 455.3 80.7 455.7 80.2 456.2 79.9 456.9 79.4 457.5 79.1 458.0 79.0 458.9 78.7 459.4 78.5 459.4 78.5Z M456.1 33.5 456.6 33.4 457.5 33.5 458.0 33.6 458.7 34.0 459.2 34.4 459.6 34.9 459.9 35.3 460.2 35.9 460.7 36.7 461.0 37.1 461.2 37.6 461.6 38.4 461.9 38.9 462.1 39.4 462.4 40.3 462.5 40.7 462.8 41.6 462.9 42.2 463.1 43.0 463.3 43.9 463.4 44.3 463.6 45.2 463.7 46.1 463.7 47.0 463.7 47.9 463.6 48.8 463.4 49.7 463.4 50.2 463.1 51.1 462.9 51.7 462.7 52.4 462.4 52.9 462.0 53.5 461.6 54.1 461.1 54.5 460.7 54.8 459.8 55.1 458.9 55.0 458.0 54.7 457.5 54.5 457.1 54.2 456.6 53.8 456.2 53.3 455.7 52.6 455.4 52.0 455.2 51.5 454.9 50.6 454.7 50.2 454.4 49.4 454.2 48.8 454.0 47.9 453.9 47.5 453.6 46.6 453.5 46.1 453.3 45.2 453.1 44.3 453.0 43.7 452.9 43.0 452.8 42.1 452.7 41.2 452.7 40.3 452.7 39.4 452.8 38.5 453.0 37.6 453.1 37.1 453.5 36.2 453.7 35.8 454.0 35.3 454.4 34.8 454.8 34.3 455.3 34.0 456.1 33.5 456.1 33.5Z M503.2 72.7 503.9 72.6 504.8 72.6 505.2 72.7 506.1 73.0 506.6 73.3 507.1 73.6 507.6 74.0 508.0 74.5 508.4 75.1 508.8 75.8 509.1 76.3 509.3 76.7 509.6 77.6 509.7 78.3 509.9 79.0 509.9 79.9 509.8 80.8 509.7 81.2 509.5 82.1 509.3 82.8 508.9 83.5 508.6 83.9 508.2 84.4 507.6 84.8 507.0 85.1 506.1 85.3 505.2 85.2 504.3 85.0 503.9 84.8 503.1 84.4 502.5 84.0 502.1 83.6 501.6 83.2 501.2 82.7 500.8 82.1 500.5 81.7 500.2 81.2 499.8 80.5 499.7 79.9 499.6 79.0 499.6 78.1 499.7 77.2 499.8 76.7 500.1 75.8 500.3 75.4 500.7 74.7 501.2 74.1 501.6 73.6 502.1 73.2 502.5 72.9 503.2 72.7 503.2 72.7Z M459.1 79.0 459.8 78.9 460.7 78.9 461.4 79.0 462.0 79.2 462.5 79.5 463.2 79.9 463.7 80.3 464.1 80.8 464.4 81.2 464.7 81.8 465.1 82.6 465.2 83.0 465.2 83.9 465.2 84.4 465.0 85.3 464.7 85.9 464.3 86.6 463.8 87.1 463.4 87.4 462.9 87.7 462.5 88.0 461.6 88.4 461.1 88.5 460.2 88.7 459.3 88.6 458.4 88.5 458.0 88.3 457.1 88.0 456.6 87.8 456.2 87.4 455.7 86.9 455.3 86.2 455.0 85.7 454.8 85.3 454.6 84.4 454.5 83.5 454.7 82.6 454.8 82.1 455.3 81.3 455.7 80.8 456.1 80.3 456.6 80.0 457.1 79.7 457.7 79.4 458.4 79.2 459.1 79.0 459.1 79.0Z M456.5 34.0 457.1 33.9 457.5 34.0 458.4 34.4 458.9 34.8 459.3 35.3 459.7 35.8 460.0 36.2 460.2 36.7 460.7 37.6 461.0 38.0 461.2 38.5 461.6 39.4 461.8 39.8 462.0 40.6 462.2 41.2 462.5 42.1 462.6 42.5 462.8 43.4 462.9 44.2 463.1 44.8 463.2 45.7 463.3 46.6 463.3 47.5 463.1 48.4 463.0 49.3 462.9 49.7 462.7 50.6 462.5 51.5 462.3 52.0 462.0 52.6 461.6 53.2 461.1 53.7 460.7 54.0 460.2 54.3 459.3 54.4 458.7 54.2 458.0 54.0 457.5 53.8 457.0 53.3 456.6 52.9 456.2 52.3 455.8 51.5 455.6 51.1 455.3 50.5 455.0 49.7 454.8 49.3 454.5 48.4 454.4 47.9 454.2 47.0 453.9 46.3 453.8 45.7 453.6 44.8 453.5 44.3 453.4 43.4 453.2 42.5 453.1 41.6 453.0 41.2 453.0 40.3 453.0 39.8 453.1 38.9 453.2 38.0 453.5 37.2 453.7 36.7 453.9 36.2 454.4 35.5 454.8 34.9 455.3 34.5 455.7 34.2 456.5 34.0 456.5 34.0Z M503.3 73.1 503.9 73.0 504.8 73.0 505.4 73.1 506.1 73.4 506.6 73.6 507.2 74.0 507.6 74.5 507.9 75.0 508.4 75.6 508.8 76.3 509.0 76.7 509.3 77.6 509.4 78.1 509.6 79.0 509.6 79.9 509.5 80.8 509.4 81.7 509.2 82.1 508.8 83.0 508.5 83.5 508.2 83.9 507.7 84.4 507.0 84.7 506.5 84.8 505.7 84.9 505.2 84.8 504.3 84.6 503.9 84.4 503.1 83.9 502.6 83.5 502.1 83.1 501.7 82.6 501.3 82.1 501.0 81.7 500.7 81.2 500.4 80.3 500.2 79.9 500.1 79.0 500.1 78.1 500.2 77.2 500.3 76.7 500.6 75.8 500.8 75.4 501.2 74.7 501.6 74.2 502.1 73.7 502.5 73.4 503.3 73.1 503.3 73.1Z M458.6 79.4 459.3 79.3 460.2 79.2 461.1 79.3 461.6 79.4 462.5 79.9 462.9 80.2 463.4 80.5 463.8 81.0 464.3 81.7 464.6 82.1 464.7 82.7 464.9 83.5 464.9 84.4 464.7 85.0 464.5 85.7 464.2 86.2 463.8 86.6 463.4 87.1 462.7 87.5 462.0 87.9 461.6 88.1 460.7 88.4 459.8 88.4 458.9 88.3 458.0 88.1 457.5 87.9 456.9 87.5 456.3 87.1 456.0 86.6 455.7 86.2 455.3 85.5 455.0 84.8 454.8 84.0 454.8 83.5 454.9 83.0 455.2 82.1 455.4 81.7 455.7 81.2 456.2 80.7 456.7 80.3 457.4 79.9 458.0 79.6 458.6 79.4 458.6 79.4Z M456.6 34.4 457.1 34.4 457.5 34.5 458.3 34.9 458.8 35.3 459.2 35.8 459.5 36.2 459.8 36.7 460.2 37.5 460.5 38.0 460.8 38.5 461.1 39.4 461.4 39.8 461.6 40.5 461.8 41.2 462.0 42.0 462.2 42.5 462.4 43.4 462.5 43.9 462.7 44.8 462.9 45.7 462.9 46.6 462.8 47.5 462.6 48.4 462.5 49.1 462.4 49.7 462.2 50.6 462.0 51.3 461.8 52.0 461.5 52.4 461.1 52.9 460.6 53.3 459.8 53.6 458.9 53.6 458.1 53.3 457.5 53.0 457.1 52.6 456.6 52.0 456.3 51.5 456.1 51.1 455.7 50.5 455.5 49.7 455.3 49.3 455.0 48.4 454.8 47.9 454.6 47.0 454.4 46.5 454.1 45.7 453.9 44.9 453.8 44.3 453.7 43.4 453.5 42.5 453.4 42.1 453.3 41.2 453.3 40.3 453.4 39.4 453.5 38.5 453.6 38.0 453.9 37.1 454.1 36.7 454.4 36.1 454.8 35.5 455.3 35.1 455.7 34.7 456.6 34.4 456.6 34.4Z M503.1 73.6 503.9 73.4 504.8 73.3 505.7 73.5 506.1 73.7 506.7 74.0 507.2 74.5 507.6 74.9 507.9 75.4 508.4 76.1 508.7 76.7 508.9 77.2 509.2 78.1 509.3 78.8 509.4 79.4 509.3 80.3 509.3 80.8 509.1 81.7 508.8 82.3 508.5 83.0 508.2 83.5 507.7 83.9 507.0 84.4 506.6 84.5 505.7 84.6 504.8 84.4 504.3 84.3 503.8 83.9 503.1 83.5 502.6 83.0 502.1 82.6 501.8 82.1 501.5 81.7 501.2 81.2 500.8 80.3 500.7 79.9 500.5 79.0 500.5 78.1 500.6 77.2 500.7 76.5 501.0 75.8 501.2 75.4 501.6 74.7 502.1 74.2 502.5 73.9 503.1 73.6 503.1 73.6Z M458.1 79.9 458.9 79.6 459.8 79.5 460.7 79.5 461.6 79.8 462.0 80.0 462.7 80.3 463.2 80.8 463.7 81.2 464.0 81.7 464.3 82.3 464.5 83.0 464.6 83.9 464.5 84.8 464.3 85.4 463.8 86.2 463.5 86.6 462.9 87.1 462.5 87.4 462.0 87.6 461.2 88.0 460.7 88.1 459.8 88.2 458.9 88.0 458.4 87.9 457.5 87.6 457.1 87.4 456.6 87.0 456.2 86.5 455.8 85.7 455.5 85.3 455.3 84.7 455.1 83.9 455.2 83.0 455.3 82.6 455.7 81.7 456.1 81.2 456.6 80.8 457.1 80.4 457.5 80.1 458.1 79.9 458.1 79.9Z M456.6 34.9 457.1 34.9 457.5 35.0 458.2 35.3 458.7 35.8 459.1 36.2 459.4 36.7 459.8 37.4 460.2 38.0 460.4 38.5 460.7 39.2 461.0 39.8 461.1 40.3 461.5 41.2 461.6 41.7 461.8 42.5 462.0 43.4 462.1 43.9 462.3 44.8 462.5 45.7 462.5 46.1 462.5 47.0 462.4 47.5 462.2 48.4 462.0 48.9 461.9 49.7 461.7 50.6 461.6 51.1 461.2 52.0 460.8 52.4 460.2 52.8 459.8 52.9 458.9 52.9 458.4 52.8 457.7 52.4 457.3 52.0 456.9 51.5 456.6 51.1 456.2 50.4 455.9 49.7 455.7 49.3 455.5 48.4 455.3 47.9 455.0 47.0 454.8 46.6 454.5 45.7 454.4 45.2 454.2 44.3 454.0 43.4 453.9 43.0 453.7 42.1 453.6 41.2 453.6 40.3 453.7 39.4 453.8 38.5 453.9 37.8 454.2 37.1 454.4 36.7 454.8 36.1 455.3 35.6 455.7 35.2 456.6 34.9 456.6 34.9Z M503.0 74.0 503.4 73.8 504.3 73.7 505.2 73.7 506.1 74.0 506.6 74.3 507.0 74.7 507.5 75.2 507.9 75.8 508.3 76.3 508.5 76.7 508.8 77.6 509.0 78.1 509.1 79.0 509.1 79.9 509.0 80.8 508.8 81.5 508.6 82.1 508.4 82.6 507.9 83.3 507.5 83.7 507.0 84.0 506.1 84.2 505.2 84.2 504.4 83.9 503.9 83.7 503.4 83.4 503.0 83.0 502.5 82.6 502.1 82.1 501.6 81.4 501.3 80.8 501.2 80.3 500.9 79.4 500.8 78.5 500.9 77.6 501.0 76.7 501.2 76.2 501.6 75.4 501.9 74.9 502.3 74.5 503.0 74.0 503.0 74.0Z M458.9 79.9 459.8 79.8 460.7 79.8 461.1 79.9 462.0 80.3 462.5 80.6 462.9 80.9 463.4 81.4 463.8 82.1 464.1 82.6 464.3 83.5 464.3 83.9 464.3 84.4 464.0 85.3 463.8 85.7 463.4 86.3 462.9 86.8 462.5 87.1 461.7 87.5 461.1 87.8 460.2 87.9 459.3 87.9 458.4 87.7 457.9 87.5 457.1 87.1 456.6 86.7 456.3 86.2 456.1 85.7 455.7 85.1 455.5 84.4 455.4 83.5 455.6 82.6 455.8 82.1 456.2 81.6 456.6 81.1 457.1 80.7 457.7 80.3 458.4 80.0 458.9 79.9 458.9 79.9Z M456.5 35.3 457.1 35.3 457.5 35.4 458.2 35.8 458.6 36.2 459.0 36.7 459.3 37.3 459.8 38.0 460.0 38.5 460.2 39.0 460.6 39.8 460.8 40.3 461.1 41.2 461.2 41.6 461.5 42.5 461.6 43.0 461.8 43.9 461.9 44.8 462.0 45.4 462.2 46.1 462.1 47.0 462.0 47.5 461.7 48.4 461.6 48.9 461.4 49.7 461.1 50.6 461.0 51.1 460.7 51.6 460.2 52.1 459.3 52.3 458.4 52.2 458.0 51.9 457.5 51.5 457.1 51.0 456.6 50.3 456.3 49.7 456.2 49.3 455.9 48.4 455.7 47.9 455.4 47.0 455.2 46.6 454.8 45.7 454.7 45.2 454.5 44.3 454.4 43.9 454.2 43.0 454.0 42.1 453.9 41.6 453.8 40.7 453.9 39.8 454.0 39.4 454.1 38.5 454.3 37.6 454.6 37.1 454.8 36.7 455.3 36.1 455.7 35.7 456.5 35.3 456.5 35.3Z M503.9 74.0 504.3 74.0 505.2 74.0 505.7 74.1 506.4 74.5 506.9 74.9 507.3 75.4 507.7 75.8 508.0 76.3 508.4 77.1 508.6 77.6 508.8 78.5 508.9 79.0 508.9 79.9 508.8 80.4 508.7 81.2 508.4 82.1 508.1 82.6 507.8 83.0 507.3 83.5 506.6 83.9 505.7 83.9 504.8 83.8 504.1 83.5 503.4 83.1 503.0 82.7 502.5 82.2 502.2 81.7 501.9 81.2 501.6 80.8 501.3 79.9 501.2 79.2 501.1 78.5 501.2 77.7 501.3 77.2 501.5 76.3 501.7 75.8 502.1 75.2 502.5 74.7 503.0 74.4 503.9 74.0 503.9 74.0Z M458.3 80.3 458.9 80.1 459.8 80.0 460.7 80.1 461.6 80.3 462.0 80.6 462.5 80.9 462.9 81.3 463.4 81.8 463.8 82.6 464.0 83.0 464.0 83.9 463.9 84.8 463.8 85.3 463.4 85.9 462.9 86.5 462.5 86.8 462.0 87.1 461.1 87.5 460.7 87.7 459.8 87.7 458.9 87.6 458.4 87.5 457.5 87.1 457.1 86.8 456.6 86.3 456.3 85.7 456.1 85.3 455.8 84.4 455.7 83.9 455.7 83.0 455.9 82.6 456.2 82.0 456.6 81.4 457.1 81.0 457.5 80.7 458.3 80.3 458.3 80.3Z M456.5 35.8 457.1 35.7 457.5 35.9 458.1 36.2 458.5 36.7 458.9 37.2 459.3 38.0 459.6 38.5 459.9 38.9 460.2 39.8 460.4 40.3 460.7 41.2 460.8 41.6 461.1 42.5 461.2 43.0 461.4 43.9 461.6 44.8 461.6 45.2 461.8 46.1 461.7 47.0 461.6 47.5 461.3 48.4 461.1 49.0 460.9 49.7 460.7 50.2 460.2 51.1 459.8 51.5 459.3 51.6 458.6 51.5 458.0 51.2 457.5 50.7 457.1 50.2 456.8 49.7 456.6 49.3 456.3 48.4 456.2 47.9 455.9 47.0 455.6 46.6 455.3 45.9 455.0 45.2 454.8 44.6 454.7 43.9 454.5 43.0 454.4 42.5 454.2 41.6 454.1 40.7 454.2 39.8 454.4 38.9 454.4 38.5 454.7 37.6 454.9 37.1 455.3 36.7 455.7 36.2 456.5 35.8 456.5 35.8Z M503.5 74.5 504.3 74.2 505.2 74.3 505.9 74.5 506.6 74.9 507.0 75.4 507.4 75.8 507.7 76.3 508.0 76.7 508.4 77.6 508.5 78.1 508.7 79.0 508.7 79.9 508.6 80.8 508.4 81.4 508.1 82.1 507.8 82.6 507.4 83.0 506.7 83.5 506.1 83.7 505.2 83.6 504.8 83.5 503.9 83.1 503.4 82.7 503.0 82.3 502.5 81.8 502.2 81.2 502.0 80.8 501.6 80.0 501.5 79.4 501.4 78.5 501.5 77.6 501.6 76.8 501.8 76.3 502.1 75.7 502.5 75.1 503.0 74.8 503.5 74.5 503.5 74.5Z M459.1 80.3 459.8 80.3 460.7 80.3 461.1 80.4 462.0 80.8 462.5 81.2 462.9 81.7 463.3 82.1 463.5 82.6 463.8 83.5 463.7 84.4 463.5 85.3 463.3 85.7 462.9 86.2 462.4 86.6 461.6 87.1 461.1 87.3 460.2 87.5 459.3 87.5 458.4 87.3 458.0 87.1 457.3 86.6 456.9 86.2 456.6 85.7 456.2 84.9 456.0 84.4 455.9 83.5 456.2 82.6 456.4 82.1 456.8 81.7 457.2 81.2 457.9 80.8 458.4 80.5 459.1 80.3 459.1 80.3Z M456.6 36.2 457.1 36.2 457.5 36.4 458.0 36.7 458.4 37.2 458.9 37.9 459.3 38.5 459.5 38.9 459.8 39.7 460.0 40.3 460.2 41.0 460.5 41.6 460.7 42.5 460.8 43.0 461.0 43.9 461.1 44.7 461.2 45.2 461.4 46.1 461.3 47.0 461.1 47.5 460.9 48.4 460.7 48.9 460.3 49.7 460.0 50.2 459.5 50.6 458.9 50.8 458.4 50.6 458.0 50.2 457.5 49.7 457.1 49.3 456.8 48.4 456.6 47.9 456.3 47.0 456.1 46.6 455.7 46.0 455.4 45.2 455.2 44.8 455.0 43.9 454.8 43.3 454.7 42.5 454.5 41.6 454.4 41.2 454.4 40.7 454.5 39.8 454.7 38.9 454.8 38.1 455.1 37.6 455.4 37.1 455.9 36.7 456.6 36.2 456.6 36.2Z M504.6 74.5 504.9 74.5 505.7 74.7 506.2 74.9 506.7 75.4 507.1 75.8 507.5 76.4 507.9 77.2 508.2 77.6 508.4 78.4 508.5 79.0 508.5 79.9 508.4 80.6 508.2 81.2 507.9 81.9 507.5 82.6 507.0 83.0 506.6 83.3 505.7 83.4 504.8 83.2 504.3 83.0 503.7 82.6 503.2 82.1 502.8 81.7 502.5 81.2 502.1 80.5 501.8 79.9 501.7 79.0 501.7 78.1 501.8 77.2 502.1 76.3 502.3 75.8 502.7 75.4 503.2 74.9 503.9 74.6 504.6 74.5 504.6 74.5Z M458.3 80.8 458.9 80.6 459.8 80.5 460.7 80.5 461.5 80.8 462.0 81.1 462.5 81.5 462.9 82.1 463.2 82.6 463.4 83.0 463.5 83.9 463.4 84.8 463.2 85.3 462.9 85.8 462.5 86.3 462.0 86.7 461.1 87.1 460.7 87.2 459.8 87.3 458.9 87.2 458.4 87.1 457.6 86.6 457.2 86.2 456.9 85.7 456.6 85.3 456.3 84.4 456.2 83.9 456.2 83.3 456.4 82.6 456.7 82.1 457.1 81.7 457.6 81.2 458.3 80.8 458.3 80.8Z M456.0 37.1 456.6 36.8 457.5 37.0 458.0 37.3 458.4 37.8 458.9 38.5 459.1 38.9 459.3 39.5 459.6 40.3 459.8 40.8 460.0 41.6 460.2 42.5 460.4 43.0 460.6 43.9 460.7 44.5 460.8 45.2 460.9 46.1 460.9 47.0 460.7 47.6 460.4 48.4 460.2 48.8 459.8 49.4 459.2 49.7 458.8 49.7 458.0 49.4 457.5 49.0 457.2 48.4 457.1 47.9 456.8 47.0 456.5 46.6 456.2 46.1 455.8 45.2 455.6 44.8 455.3 44.0 455.2 43.4 455.0 42.5 454.8 42.0 454.7 41.2 454.8 40.3 454.8 39.8 455.0 38.9 455.3 38.0 455.5 37.6 456.0 37.1 456.0 37.1Z M503.8 74.9 504.3 74.8 505.2 74.8 505.7 74.9 506.4 75.4 506.8 75.8 507.2 76.3 507.5 76.8 507.9 77.6 508.1 78.1 508.3 79.0 508.3 79.9 508.2 80.8 507.9 81.4 507.5 82.1 507.1 82.6 506.6 83.0 506.1 83.1 505.2 83.1 504.8 83.0 504.1 82.6 503.5 82.1 503.1 81.7 502.8 81.2 502.5 80.8 502.1 79.9 502.0 79.4 501.9 78.5 502.0 77.6 502.1 77.0 502.4 76.3 502.6 75.8 503.1 75.4 503.8 74.9 503.8 74.9Z M459.0 80.8 459.8 80.7 460.7 80.8 461.1 80.9 461.8 81.2 462.3 81.7 462.7 82.1 463.0 82.6 463.3 83.5 463.3 84.4 463.0 85.3 462.7 85.7 462.3 86.2 461.7 86.6 461.1 86.9 460.3 87.1 459.8 87.1 459.3 87.1 458.4 86.9 458.0 86.6 457.4 86.2 457.1 85.7 456.7 84.8 456.5 84.4 456.4 83.5 456.6 82.7 457.0 82.1 457.4 81.7 458.0 81.2 458.4 81.0 459.0 80.8 459.0 80.8Z M456.2 37.6 456.6 37.4 457.5 37.6 458.0 37.9 458.4 38.5 458.7 38.9 458.9 39.4 459.2 40.3 459.4 40.7 459.6 41.6 459.8 42.5 459.9 43.0 460.1 43.9 460.2 44.5 460.4 45.2 460.5 46.1 460.4 47.0 460.2 47.5 459.8 48.4 459.4 48.8 458.9 49.0 458.3 48.8 457.8 48.4 457.5 47.9 457.2 47.0 457.0 46.6 456.6 46.0 456.2 45.3 455.9 44.8 455.7 44.3 455.5 43.4 455.3 42.6 455.2 42.1 455.0 41.2 455.1 40.3 455.3 39.4 455.4 38.9 455.7 38.0 456.2 37.6 456.2 37.6Z M503.5 75.4 504.3 75.0 505.2 75.0 506.0 75.4 506.6 75.8 506.9 76.3 507.3 76.7 507.5 77.2 507.9 78.1 508.0 78.5 508.2 79.4 508.1 80.3 507.9 80.8 507.6 81.7 507.2 82.1 506.7 82.6 506.1 82.8 505.2 82.8 504.6 82.6 503.9 82.1 503.4 81.7 503.0 81.2 502.7 80.8 502.5 80.3 502.2 79.4 502.1 78.5 502.2 77.6 502.4 76.7 502.6 76.3 503.0 75.8 503.5 75.4 503.5 75.4Z M458.4 81.2 458.9 81.0 459.8 80.9 460.7 81.0 461.4 81.2 462.0 81.7 462.4 82.1 462.7 82.6 462.9 83.2 463.1 83.9 462.9 84.7 462.7 85.3 462.5 85.7 462.0 86.2 461.2 86.6 460.7 86.8 459.8 86.9 458.9 86.8 458.4 86.6 457.7 86.2 457.4 85.7 457.1 85.3 456.7 84.4 456.6 83.9 456.6 83.4 456.9 82.6 457.3 82.1 457.7 81.7 458.4 81.2 458.4 81.2Z M456.5 38.0 457.1 38.0 457.5 38.1 458.0 38.5 458.4 39.2 458.7 39.8 458.9 40.5 459.1 41.2 459.2 42.1 459.3 42.8 459.5 43.4 459.7 44.3 459.8 44.8 460.0 45.7 460.0 46.6 459.8 47.2 459.3 47.9 458.9 48.2 458.3 47.9 458.0 47.5 457.5 46.6 457.3 46.1 457.0 45.7 456.6 45.2 456.2 44.5 456.0 43.9 455.7 43.2 455.6 42.5 455.4 41.6 455.4 40.7 455.5 39.8 455.7 39.0 456.0 38.5 456.5 38.0 456.5 38.0Z M504.0 75.4 504.8 75.2 505.6 75.4 506.1 75.8 506.6 76.2 507.0 76.7 507.3 77.2 507.5 77.6 507.9 78.5 507.9 79.1 507.9 79.9 507.9 80.3 507.6 81.2 507.3 81.7 506.9 82.1 506.1 82.5 505.7 82.6 505.2 82.6 504.3 82.2 503.9 81.8 503.4 81.4 503.0 80.8 502.7 80.3 502.5 79.9 502.3 79.0 502.3 78.1 502.5 77.2 502.7 76.7 503.0 76.2 503.4 75.7 504.0 75.4 504.0 75.4Z M458.9 81.2 459.3 81.1 460.2 81.1 460.9 81.2 461.6 81.6 462.0 82.0 462.5 82.6 462.7 83.0 462.8 83.9 462.7 84.8 462.5 85.3 462.0 85.9 461.6 86.2 460.7 86.6 460.2 86.7 459.3 86.7 458.9 86.6 458.1 86.2 457.6 85.7 457.4 85.3 457.1 84.7 456.9 83.9 457.0 83.0 457.2 82.6 457.5 82.1 458.0 81.7 458.9 81.2 458.9 81.2Z M456.3 38.9 457.1 38.6 457.8 38.9 458.1 39.4 458.4 40.3 458.5 40.7 458.6 41.6 458.7 42.5 458.9 43.4 459.0 43.9 459.2 44.8 459.3 45.3 459.5 46.1 459.3 46.6 458.4 46.8 458.0 46.2 457.7 45.7 457.3 45.2 456.9 44.8 456.6 44.3 456.2 43.4 456.1 43.0 455.9 42.1 455.8 41.2 455.8 40.3 456.1 39.4 456.3 38.9 456.3 38.9Z M503.7 75.8 504.3 75.5 505.2 75.5 505.9 75.8 506.4 76.3 506.8 76.7 507.1 77.2 507.5 78.1 507.7 78.5 507.8 79.4 507.7 80.3 507.5 80.9 507.0 81.7 506.6 82.0 506.1 82.3 505.2 82.3 504.8 82.1 504.1 81.7 503.6 81.2 503.2 80.8 502.9 80.3 502.6 79.4 502.5 79.0 502.5 78.1 502.6 77.6 502.9 76.7 503.2 76.3 503.7 75.8 503.7 75.8Z M458.4 81.7 458.9 81.5 459.8 81.3 460.7 81.4 461.4 81.7 461.9 82.1 462.2 82.6 462.5 83.3 462.6 83.9 462.5 84.7 462.3 85.3 461.9 85.7 461.3 86.2 460.7 86.4 459.8 86.5 458.9 86.4 458.4 86.2 457.9 85.7 457.5 85.2 457.2 84.4 457.1 83.8 457.1 83.4 457.4 82.6 457.8 82.1 458.4 81.7 458.4 81.7Z M456.8 39.4 457.3 39.4 457.7 39.8 458.0 40.7 458.0 41.2 458.1 42.1 458.1 43.0 458.0 43.8 457.5 44.1 457.1 43.9 456.6 43.1 456.5 42.5 456.3 41.6 456.3 40.7 456.5 39.8 456.8 39.4 456.8 39.4Z M504.2 75.8 504.8 75.7 505.4 75.8 506.1 76.3 506.5 76.7 506.8 77.2 507.1 77.6 507.5 78.5 507.6 79.0 507.6 79.9 507.5 80.3 507.1 81.2 506.7 81.7 506.1 82.0 505.2 82.0 504.5 81.7 503.9 81.3 503.5 80.8 503.2 80.3 502.9 79.9 502.7 79.0 502.7 78.1 503.0 77.2 503.2 76.7 503.5 76.3 504.2 75.8 504.2 75.8Z M458.8 81.7 459.3 81.5 460.2 81.5 460.9 81.7 461.6 82.1 462.0 82.6 462.2 83.0 462.4 83.9 462.2 84.8 462.0 85.3 461.6 85.8 460.7 86.2 460.2 86.3 459.3 86.3 458.9 86.2 458.2 85.7 457.9 85.3 457.5 84.6 457.3 83.9 457.4 83.0 457.7 82.6 458.1 82.1 458.8 81.7 458.8 81.7Z M503.9 76.3 504.8 76.0 505.7 76.3 506.1 76.7 506.6 77.2 506.9 77.6 507.1 78.1 507.4 79.0 507.4 79.9 507.1 80.8 506.8 81.2 506.1 81.7 505.7 81.8 505.2 81.7 504.3 81.3 503.9 81.0 503.4 80.4 503.2 79.9 503.0 79.4 502.9 78.5 503.0 77.8 503.2 77.2 503.5 76.7 503.9 76.3 503.9 76.3Z M458.5 82.1 459.3 81.8 460.2 81.7 461.1 82.0 461.6 82.5 462.0 83.0 462.1 83.5 462.1 84.4 462.0 84.8 461.6 85.4 461.1 85.8 460.2 86.1 459.3 86.1 458.6 85.7 458.2 85.3 457.9 84.8 457.6 83.9 457.7 83.0 458.0 82.6 458.5 82.1 458.5 82.1Z M504.6 76.3 505.1 76.3 505.7 76.6 506.1 77.0 506.6 77.6 506.9 78.1 507.1 78.5 507.2 79.4 507.1 80.3 506.8 80.8 506.4 81.2 505.7 81.5 504.8 81.3 504.3 81.0 503.9 80.6 503.4 80.0 503.2 79.4 503.1 78.5 503.3 77.6 503.5 77.2 503.9 76.6 504.6 76.3 504.6 76.3Z M458.9 82.1 459.3 82.0 460.2 81.9 460.9 82.1 461.4 82.6 461.7 83.0 461.9 83.9 461.7 84.8 461.4 85.3 460.7 85.7 460.2 85.9 459.3 85.8 458.9 85.6 458.4 85.2 458.0 84.4 457.8 83.9 458.0 83.0 458.3 82.6 458.9 82.1 458.9 82.1Z M504.2 76.7 504.8 76.6 505.5 76.7 506.0 77.2 506.4 77.6 506.7 78.1 507.0 79.0 507.1 79.4 507.0 79.9 506.6 80.7 506.1 81.1 505.2 81.2 504.4 80.8 503.9 80.3 503.6 79.9 503.4 79.4 503.3 78.5 503.4 77.9 503.8 77.2 504.2 76.7 504.2 76.7Z M459.8 82.1 459.8 82.1 460.7 82.3 461.1 82.6 461.6 83.4 461.7 83.9 461.6 84.5 461.1 85.2 460.7 85.5 459.8 85.6 458.9 85.3 458.5 84.8 458.3 84.4 458.1 83.5 458.4 82.8 458.9 82.4 459.8 82.1 459.8 82.1Z M504.1 77.2 504.8 76.9 505.7 77.2 506.1 77.6 506.4 78.1 506.6 78.5 506.8 79.4 506.6 80.3 506.1 80.8 505.7 80.9 505.0 80.8 504.3 80.4 503.9 79.9 503.7 79.4 503.6 78.5 503.8 77.6 504.1 77.2 504.1 77.2Z M459.1 82.6 459.8 82.4 460.7 82.6 461.1 83.0 461.4 83.5 461.4 84.4 461.1 84.8 460.4 85.3 459.8 85.3 459.3 85.2 458.9 84.8 458.4 84.0 458.4 83.5 458.6 83.0 459.1 82.6 459.1 82.6Z M504.2 77.6 504.8 77.2 505.7 77.6 506.1 78.1 506.4 78.5 506.6 79.4 506.2 80.3 505.7 80.6 504.8 80.4 504.3 80.1 503.9 79.4 503.8 79.0 503.9 78.2 504.2 77.6 504.2 77.6Z M459.1 83.0 459.8 82.7 460.7 83.0 461.1 83.5 461.0 84.4 460.6 84.8 459.8 85.0 459.3 84.7 458.9 84.1 458.8 83.5 459.1 83.0 459.1 83.0Z M504.8 77.6 505.1 77.6 505.7 78.0 506.1 78.5 506.3 79.0 506.2 79.9 505.7 80.2 504.8 80.1 504.3 79.6 504.1 79.0 504.3 78.1 504.8 77.6 504.8 77.6Z M459.4 83.5 460.2 83.2 460.7 83.8 460.7 84.0 460.2 84.5 459.7 84.4 459.4 83.5 459.4 83.5Z" fill="none" stroke="#000" stroke-width="0.5"/>
<path clip-path="url(#c3)" d="M504.3 77.6 504.8 77.3 505.7 77.6 506.0 78.1 506.3 78.5 506.5 79.4 506.1 80.3 505.7 80.5 504.8 80.3 504.3 80.0 504.0 79.4 503.9 79.0 503.9 78.5 504.3 77.6 504.3 77.6Z M459.2 83.0 459.8 82.8 460.6 83.0 461.0 83.5 460.9 84.4 460.4 84.8 459.8 84.9 459.3 84.6 458.9 83.9 459.2 83.0 459.2 83.0Z" fill="#fff" stroke="#fff" stroke-width="0.3"/>
<circle cx="456.5" cy="39.3" r="0.9" fill="#fff" stroke="none" stroke-width="0.5"/>
<rect x="450.7" y="25.2" width="29.1" height="37.6" fill="none" stroke="#222" stroke-width="0.7"/>
<rect x="488.2" y="69.9" width="37.2" height="24.6" fill="none" stroke="#222" stroke-width="0.7"/>
<rect x="450.7" y="22.3" width="79.8" height="80.2" fill="none" stroke="#7a7a7a" stroke-width="0.55"/>
<text transform="translate(445.8,30) scale(1.1,1)" y="2.65" font-size="7.4" text-anchor="end" fill="#1a1a1a" stroke="#1a1a1a" stroke-width="0.08">10<tspan font-size="4.9" dy="-2.9">5</tspan></text>
<text transform="translate(445.8,49.1) scale(1.1,1)" y="2.65" font-size="7.4" text-anchor="end" fill="#1a1a1a" stroke="#1a1a1a" stroke-width="0.08">10<tspan font-size="4.9" dy="-2.9">4</tspan></text>
<text transform="translate(445.8,70.4) scale(1.1,1)" y="2.65" font-size="7.4" text-anchor="end" fill="#1a1a1a" stroke="#1a1a1a" stroke-width="0.08">10<tspan font-size="4.9" dy="-2.9">3</tspan></text>
<text transform="translate(445.8,83.8) scale(1.1,1)" y="2.65" font-size="7.4" text-anchor="end" fill="#1a1a1a" stroke="#1a1a1a" stroke-width="0.08">0</text>
<text transform="translate(445.8,96.9) scale(1.1,1)" y="2.65" font-size="7.4" text-anchor="end" fill="#1a1a1a" stroke="#1a1a1a" stroke-width="0.08">−10<tspan font-size="4.9" dy="-2.9">3</tspan></text>
<text transform="translate(461.8,112.1) rotate(-45) scale(1.1,1)" y="0" font-size="7.5" text-anchor="end" fill="#1a1a1a" stroke="#1a1a1a" stroke-width="0.08">−10<tspan font-size="4.9" dy="-2.9">3</tspan></text>
<text transform="translate(486.9,112.1) rotate(-45) scale(1.1,1)" y="0" font-size="7.5" text-anchor="end" fill="#1a1a1a" stroke="#1a1a1a" stroke-width="0.08">10<tspan font-size="4.9" dy="-2.9">3</tspan></text>
<text transform="translate(508.9,112.1) rotate(-45) scale(1.1,1)" y="0" font-size="7.5" text-anchor="end" fill="#1a1a1a" stroke="#1a1a1a" stroke-width="0.08">10<tspan font-size="4.9" dy="-2.9">4</tspan></text>
<text transform="translate(529,112.1) rotate(-45) scale(1.1,1)" y="0" font-size="7.5" text-anchor="end" fill="#1a1a1a" stroke="#1a1a1a" stroke-width="0.08">10<tspan font-size="4.9" dy="-2.9">5</tspan></text>
<text transform="translate(471.9,113.6) rotate(-45) scale(1.1,1)" y="0" font-size="7.5" text-anchor="end" fill="#1a1a1a" stroke="#1a1a1a" stroke-width="0.08">0</text>
<text transform="translate(490.6,132.4)" y="3.04" font-size="8.5" text-anchor="middle" fill="#1a1a1a" stroke="#1a1a1a" stroke-width="0.08" textLength="20.4" lengthAdjust="spacingAndGlyphs">CD8<tspan font-size="6.6" dy="-3.1">+</tspan></text>
<text transform="translate(421.3,59.4) rotate(-90)" y="3.04" font-size="8.5" text-anchor="middle" fill="#1a1a1a" stroke="#1a1a1a" stroke-width="0.08" textLength="20.5" lengthAdjust="spacingAndGlyphs">CD4<tspan font-size="6.6" dy="-3.1">+</tspan></text>
<rect x="448.9" y="82.3" width="1.8" height="3" fill="#111" stroke="none" stroke-width="0.5"/>
<rect x="466.6" y="102.5" width="3" height="1.6" fill="#111" stroke="none" stroke-width="0.5"/>
<rect x="212" y="82.8" width="1.8" height="2.6" fill="#111" stroke="none" stroke-width="0.5"/>
<rect x="329.3" y="82.8" width="1.8" height="2.6" fill="#111" stroke="none" stroke-width="0.5"/>
<line x1="213.3" y1="26.3" x2="213.3" y2="100.4" stroke="#555" stroke-width="1.1" stroke-dasharray="0.4 1.5"/>
<line x1="330.6" y1="26.3" x2="330.6" y2="100.4" stroke="#555" stroke-width="1.1" stroke-dasharray="0.4 1.5"/>
<line x1="450.2" y1="26.3" x2="450.2" y2="100.5" stroke="#555" stroke-width="1.1" stroke-dasharray="0.4 1.5"/>
<line x1="215.8" y1="103" x2="293.8" y2="103" stroke="#555" stroke-width="1.1" stroke-dasharray="0.4 2.66"/>
<line x1="333.1" y1="103" x2="411.5" y2="103" stroke="#555" stroke-width="1.1" stroke-dasharray="0.4 2.66"/>
<line x1="452.7" y1="103.1" x2="528.5" y2="103.1" stroke="#555" stroke-width="1.1" stroke-dasharray="0.4 1.5"/>
</g>
<g id="pbars">
<text transform="translate(555,9.2)" y="0" font-size="12" text-anchor="start" fill="#000" stroke="#000" stroke-width="0.4" stroke-linejoin="round" font-weight="bold" textLength="7.4" lengthAdjust="spacingAndGlyphs">c</text>
<path d="M595.1 116.4V88.2H614.6V116.4" fill="none" stroke="#3a3a3a" stroke-width="0.62"/>
<path d="M614.6 89.2V116.4" fill="none" stroke="#b5b5b5" stroke-width="0.8"/>
<path d="M624.4 116.4V60H644.3V116.4" fill="none" stroke="#f18c7e" stroke-width="0.62"/>
<path d="M653 116.4V78.9H672.9V116.4" fill="none" stroke="#7089f2" stroke-width="0.62"/>
<path d="M585.5 38.1V116.4H681.8" fill="none" stroke="#868686" stroke-width="0.75"/>
<line x1="582.3" y1="116.4" x2="585.5" y2="116.4" stroke="#868686" stroke-width="0.7"/>
<text transform="translate(579.6,116.4)" y="2.72" font-size="7.6" text-anchor="end" fill="#1a1a1a" stroke="#1a1a1a" stroke-width="0.08" textLength="4.65" lengthAdjust="spacingAndGlyphs">0</text>
<line x1="582.3" y1="90.3" x2="585.5" y2="90.3" stroke="#868686" stroke-width="0.7"/>
<text transform="translate(579.6,90.3)" y="2.72" font-size="7.6" text-anchor="end" fill="#1a1a1a" stroke="#1a1a1a" stroke-width="0.08" textLength="9.3" lengthAdjust="spacingAndGlyphs">20</text>
<line x1="582.3" y1="64.2" x2="585.5" y2="64.2" stroke="#868686" stroke-width="0.7"/>
<text transform="translate(579.6,64.2)" y="2.72" font-size="7.6" text-anchor="end" fill="#1a1a1a" stroke="#1a1a1a" stroke-width="0.08" textLength="9.3" lengthAdjust="spacingAndGlyphs">40</text>
<line x1="582.3" y1="38.1" x2="585.5" y2="38.1" stroke="#868686" stroke-width="0.7"/>
<text transform="translate(579.6,38.1)" y="2.72" font-size="7.6" text-anchor="end" fill="#1a1a1a" stroke="#1a1a1a" stroke-width="0.08" textLength="9.3" lengthAdjust="spacingAndGlyphs">60</text>
<path d="M599.95 85.3H609.75 M599.95 91.4H609.75 M604.85 85.3V91.4" fill="none" stroke="#3a3a3a" stroke-width="0.7"/>
<circle cx="604.85" cy="72" r="1.6" fill="none" stroke="#222" stroke-width="0.6"/>
<circle cx="604.85" cy="79.6" r="1.6" fill="none" stroke="#222" stroke-width="0.6"/>
<circle cx="604.85" cy="82.6" r="1.6" fill="none" stroke="#222" stroke-width="0.6"/>
<circle cx="604.85" cy="85.7" r="1.6" fill="none" stroke="#222" stroke-width="0.6"/>
<circle cx="604.85" cy="91.8" r="1.6" fill="none" stroke="#222" stroke-width="0.6"/>
<circle cx="604.85" cy="100" r="1.6" fill="none" stroke="#222" stroke-width="0.6"/>
<circle cx="604.85" cy="102.7" r="1.6" fill="none" stroke="#222" stroke-width="0.6"/>
<path d="M629.45 57.3H639.25 M629.45 62.4H639.25 M634.35 57.3V62.4" fill="none" stroke="#ee6e5c" stroke-width="0.7"/>
<circle cx="634.35" cy="44.6" r="1.7" fill="#ea310f" stroke="#4a0a02" stroke-width="0.5"/>
<circle cx="634.35" cy="55.7" r="1.7" fill="#ea310f" stroke="#4a0a02" stroke-width="0.5"/>
<circle cx="634.35" cy="61" r="1.7" fill="#ea310f" stroke="#4a0a02" stroke-width="0.5"/>
<circle cx="634.35" cy="66.5" r="1.7" fill="#ea310f" stroke="#4a0a02" stroke-width="0.5"/>
<circle cx="634.35" cy="72" r="1.7" fill="#ea310f" stroke="#4a0a02" stroke-width="0.5"/>
<circle cx="634.35" cy="58.2" r="1.7" fill="#ea310f" stroke="#4a0a02" stroke-width="0.5"/>
<path d="M658.05 74.4H667.85 M658.05 82.2H667.85 M662.95 74.4V82.2" fill="none" stroke="#111" stroke-width="0.7"/>
<circle cx="662.95" cy="68.9" r="1.7" fill="#1236e0" stroke="#06145e" stroke-width="0.5"/>
<circle cx="662.95" cy="74.4" r="1.7" fill="#1236e0" stroke="#06145e" stroke-width="0.5"/>
<circle cx="662.95" cy="77.5" r="1.7" fill="#1236e0" stroke="#06145e" stroke-width="0.5"/>
<circle cx="662.95" cy="81.2" r="1.7" fill="#1236e0" stroke="#06145e" stroke-width="0.5"/>
<circle cx="662.95" cy="92.9" r="1.7" fill="#1236e0" stroke="#06145e" stroke-width="0.5"/>
<text transform="translate(602.7,125.2)" y="2.79" font-size="7.8" text-anchor="middle" fill="#1a1a1a" stroke="#1a1a1a" stroke-width="0.08" textLength="25.2" lengthAdjust="spacingAndGlyphs">Control</text>
<text transform="translate(633.6,125.2)" y="2.79" font-size="7.8" text-anchor="middle" fill="#1a1a1a" stroke="#1a1a1a" stroke-width="0.08" font-style="italic" textLength="20.7" lengthAdjust="spacingAndGlyphs">db/db</text>
<text transform="translate(662.3,125.2)" y="2.79" font-size="7.8" text-anchor="middle" fill="#1a1a1a" stroke="#1a1a1a" stroke-width="0.08" textLength="13.8" lengthAdjust="spacingAndGlyphs">AZD</text>
<text transform="translate(558.9,78.6) rotate(-90)" y="2.58" font-size="7.2" text-anchor="middle" fill="#1a1a1a" stroke="#1a1a1a" stroke-width="0.08" textLength="52.8" lengthAdjust="spacingAndGlyphs">CD4<tspan font-size="6.0" dy="-3.0">+</tspan><tspan dy="3.0"> T cells (%)</tspan></text>
<line x1="604.8" y1="20" x2="662.7" y2="20" stroke="#9a9a9a" stroke-width="0.75"/>
<line x1="604.8" y1="35.4" x2="632.6" y2="35.4" stroke="#444" stroke-width="0.75"/>
<line x1="635" y1="35.4" x2="662.7" y2="35.4" stroke="#8a8a8a" stroke-width="0.75"/>
<text transform="translate(633.4,13.5)" y="2.61" font-size="7.3" text-anchor="middle" fill="#111" stroke="#111" stroke-width="0.08" textLength="9.2" lengthAdjust="spacingAndGlyphs">NS</text>
<text transform="translate(618.7,35.98)" y="0" font-size="10.4" text-anchor="middle" fill="#111" font-weight="bold" textLength="17.48" lengthAdjust="spacingAndGlyphs">****</text>
<text transform="translate(648.8,35.98)" y="0" font-size="10.4" text-anchor="middle" fill="#111" font-weight="bold" textLength="8.74" lengthAdjust="spacingAndGlyphs">**</text>
<text transform="translate(390.4,160.7)" y="0" font-size="13.2" text-anchor="start" fill="#000" stroke="#000" stroke-width="0.4" stroke-linejoin="round" font-weight="bold">e</text>
<path d="M441.9 250.3V243.3H460.7V250.3" fill="none" stroke="#3a3a3a" stroke-width="0.62"/>
<path d="M469.9 250.3V199.2H489V250.3" fill="none" stroke="#f18c7e" stroke-width="0.62"/>
<path d="M497.2 250.3V234.3H516.4V250.3" fill="none" stroke="#7089f2" stroke-width="0.62"/>
<path d="M432.5 174.7V250.3H527.5" fill="none" stroke="#868686" stroke-width="0.75"/>
<line x1="429.3" y1="250.3" x2="432.5" y2="250.3" stroke="#868686" stroke-width="0.7"/>
<text transform="translate(426.6,250.3)" y="2.83" font-size="7.9" text-anchor="end" fill="#1a1a1a" stroke="#1a1a1a" stroke-width="0.08" textLength="4.9" lengthAdjust="spacingAndGlyphs">0</text>
<line x1="429.3" y1="231.4" x2="432.5" y2="231.4" stroke="#868686" stroke-width="0.7"/>
<text transform="translate(426.6,231.4)" y="2.83" font-size="7.9" text-anchor="end" fill="#1a1a1a" stroke="#1a1a1a" stroke-width="0.08" textLength="8.82" lengthAdjust="spacingAndGlyphs">10</text>
<line x1="429.3" y1="212.5" x2="432.5" y2="212.5" stroke="#868686" stroke-width="0.7"/>
<text transform="translate(426.6,212.5)" y="2.83" font-size="7.9" text-anchor="end" fill="#1a1a1a" stroke="#1a1a1a" stroke-width="0.08" textLength="9.8" lengthAdjust="spacingAndGlyphs">20</text>
<line x1="429.3" y1="193.6" x2="432.5" y2="193.6" stroke="#868686" stroke-width="0.7"/>
<text transform="translate(426.6,193.6)" y="2.83" font-size="7.9" text-anchor="end" fill="#1a1a1a" stroke="#1a1a1a" stroke-width="0.08" textLength="9.8" lengthAdjust="spacingAndGlyphs">30</text>
<line x1="429.3" y1="174.7" x2="432.5" y2="174.7" stroke="#868686" stroke-width="0.7"/>
<text transform="translate(426.6,174.7)" y="2.83" font-size="7.9" text-anchor="end" fill="#1a1a1a" stroke="#1a1a1a" stroke-width="0.08" textLength="9.8" lengthAdjust="spacingAndGlyphs">40</text>
<path d="M446.4 240.4H456.2 M446.4 246.2H456.2 M451.3 240.4V246.2" fill="none" stroke="#3a3a3a" stroke-width="0.7"/>
<circle cx="451.3" cy="232.5" r="1.6" fill="none" stroke="#222" stroke-width="0.6"/>
<circle cx="451.3" cy="245.6" r="1.6" fill="none" stroke="#222" stroke-width="0.6"/>
<circle cx="451.3" cy="246.8" r="1.6" fill="none" stroke="#222" stroke-width="0.6"/>
<path d="M474.55 194.1H484.35 M474.55 204.4H484.35 M479.45 194.1V204.4" fill="none" stroke="#ee6e5c" stroke-width="0.7"/>
<circle cx="479.45" cy="187" r="1.7" fill="#ea310f" stroke="#4a0a02" stroke-width="0.5"/>
<circle cx="479.45" cy="195.6" r="1.7" fill="#ea310f" stroke="#4a0a02" stroke-width="0.5"/>
<circle cx="479.45" cy="206" r="1.7" fill="#ea310f" stroke="#4a0a02" stroke-width="0.5"/>
<circle cx="479.45" cy="207.4" r="1.7" fill="#ea310f" stroke="#4a0a02" stroke-width="0.5"/>
<path d="M501.9 230.4H511.7 M501.9 237.4H511.7 M506.8 230.4V237.4" fill="none" stroke="#444" stroke-width="0.7"/>
<circle cx="506.8" cy="224.3" r="1.7" fill="#1236e0" stroke="#06145e" stroke-width="0.5"/>
<circle cx="506.8" cy="234.9" r="1.7" fill="#1236e0" stroke="#06145e" stroke-width="0.5"/>
<circle cx="506.8" cy="237.4" r="1.7" fill="#1236e0" stroke="#06145e" stroke-width="0.5"/>
<circle cx="506.8" cy="239.6" r="1.7" fill="#1236e0" stroke="#06145e" stroke-width="0.5"/>
<text transform="translate(448.9,257.8)" y="2.79" font-size="7.8" text-anchor="middle" fill="#1a1a1a" stroke="#1a1a1a" stroke-width="0.08" textLength="25.2" lengthAdjust="spacingAndGlyphs">Control</text>
<text transform="translate(479.6,257.8)" y="2.79" font-size="7.8" text-anchor="middle" fill="#1a1a1a" stroke="#1a1a1a" stroke-width="0.08" font-style="italic" textLength="20.7" lengthAdjust="spacingAndGlyphs">db/db</text>
<text transform="translate(506.4,257.8)" y="2.79" font-size="7.8" text-anchor="middle" fill="#1a1a1a" stroke="#1a1a1a" stroke-width="0.08" textLength="13.8" lengthAdjust="spacingAndGlyphs">AZD</text>
<text transform="translate(396.3,215.6) rotate(-90)" y="3.08" font-size="8.6" text-anchor="middle" fill="#1a1a1a" stroke="#1a1a1a" stroke-width="0.08" textLength="75.3" lengthAdjust="spacingAndGlyphs">Masson’s trichrome</text>
<text transform="translate(407.2,214.2) rotate(-90)" y="3.08" font-size="8.6" text-anchor="middle" fill="#1a1a1a" stroke="#1a1a1a" stroke-width="0.08" textLength="32" lengthAdjust="spacingAndGlyphs">(% area)</text>
<line x1="450.9" y1="162.6" x2="507.2" y2="162.6" stroke="#444" stroke-width="0.75"/>
<line x1="450.9" y1="177.3" x2="477.5" y2="177.3" stroke="#333" stroke-width="0.75"/>
<line x1="480.8" y1="177.3" x2="507.2" y2="177.3" stroke="#555" stroke-width="0.75"/>
<text transform="translate(479.6,156.1)" y="2.61" font-size="7.3" text-anchor="middle" fill="#111" stroke="#111" stroke-width="0.08" textLength="9.2" lengthAdjust="spacingAndGlyphs">NS</text>
<text transform="translate(464.4,177.58)" y="0" font-size="10.4" text-anchor="middle" fill="#111" font-weight="bold" textLength="17.48" lengthAdjust="spacingAndGlyphs">****</text>
<text transform="translate(493,177.58)" y="0" font-size="10.4" text-anchor="middle" fill="#111" font-weight="bold" textLength="13.11" lengthAdjust="spacingAndGlyphs">***</text>
<text transform="translate(544.4,160.5)" y="0" font-size="13" text-anchor="start" fill="#000" stroke="#000" stroke-width="0.4" stroke-linejoin="round" font-weight="bold" textLength="4.8" lengthAdjust="spacingAndGlyphs">f</text>
<path d="M593.7 254.5V249.2H613.6V254.5" fill="none" stroke="#3a3a3a" stroke-width="0.62"/>
<path d="M623.4 254.5V247.6H643.2V254.5" fill="none" stroke="#f18c7e" stroke-width="0.62"/>
<path d="M652.5 254.5V232.2H672.9V254.5" fill="none" stroke="#7089f2" stroke-width="0.62"/>
<path d="M583.9 174.55V254.5H681.8" fill="none" stroke="#868686" stroke-width="0.75"/>
<line x1="580.7" y1="254.5" x2="583.9" y2="254.5" stroke="#868686" stroke-width="0.7"/>
<text transform="translate(578,254.5)" y="2.72" font-size="7.6" text-anchor="end" fill="#1a1a1a" stroke="#1a1a1a" stroke-width="0.08" textLength="4.8" lengthAdjust="spacingAndGlyphs">0</text>
<line x1="580.7" y1="227.85" x2="583.9" y2="227.85" stroke="#868686" stroke-width="0.7"/>
<text transform="translate(578,227.85)" y="2.72" font-size="7.6" text-anchor="end" fill="#1a1a1a" stroke="#1a1a1a" stroke-width="0.08" textLength="4.8" lengthAdjust="spacingAndGlyphs">5</text>
<line x1="580.7" y1="201.2" x2="583.9" y2="201.2" stroke="#868686" stroke-width="0.7"/>
<text transform="translate(578,201.2)" y="2.72" font-size="7.6" text-anchor="end" fill="#1a1a1a" stroke="#1a1a1a" stroke-width="0.08" textLength="8.64" lengthAdjust="spacingAndGlyphs">10</text>
<line x1="580.7" y1="174.55" x2="583.9" y2="174.55" stroke="#868686" stroke-width="0.7"/>
<text transform="translate(578,174.55)" y="2.72" font-size="7.6" text-anchor="end" fill="#1a1a1a" stroke="#1a1a1a" stroke-width="0.08" textLength="8.64" lengthAdjust="spacingAndGlyphs">15</text>
<circle cx="603.65" cy="249.2" r="1.6" fill="none" stroke="#222" stroke-width="0.6"/>
<path d="M628.4 245.1H638.2 M628.4 250.3H638.2 M633.3 245.1V250.3" fill="none" stroke="#ee6e5c" stroke-width="0.7"/>
<circle cx="633.3" cy="233.3" r="1.7" fill="#ea310f" stroke="#4a0a02" stroke-width="0.5"/>
<circle cx="633.3" cy="241.7" r="1.7" fill="#ea310f" stroke="#4a0a02" stroke-width="0.5"/>
<circle cx="633.3" cy="243.7" r="1.7" fill="#ea310f" stroke="#4a0a02" stroke-width="0.5"/>
<circle cx="633.3" cy="248.8" r="1.7" fill="#ea310f" stroke="#4a0a02" stroke-width="0.5"/>
<circle cx="633.3" cy="254.6" r="1.7" fill="#ea310f" stroke="#4a0a02" stroke-width="0.5"/>
<path d="M657.8 225.1H667.6 M657.8 239H667.6 M662.7 225.1V239" fill="none" stroke="#8a8a8a" stroke-width="0.7"/>
<circle cx="662.7" cy="196" r="1.7" fill="#1236e0" stroke="#06145e" stroke-width="0.5"/>
<circle cx="662.7" cy="214.4" r="1.7" fill="#1236e0" stroke="#06145e" stroke-width="0.5"/>
<circle cx="662.7" cy="228.4" r="1.7" fill="#1236e0" stroke="#06145e" stroke-width="0.5"/>
<circle cx="662.7" cy="234.3" r="1.7" fill="#1236e0" stroke="#06145e" stroke-width="0.5"/>
<circle cx="662.7" cy="254.6" r="1.7" fill="#1236e0" stroke="#06145e" stroke-width="0.5"/>
<text transform="translate(602.7,263.6)" y="2.72" font-size="7.6" text-anchor="middle" fill="#1a1a1a" stroke="#1a1a1a" stroke-width="0.08" textLength="25.2" lengthAdjust="spacingAndGlyphs">Control</text>
<text transform="translate(633.4,263.6)" y="2.72" font-size="7.6" text-anchor="middle" fill="#1a1a1a" stroke="#1a1a1a" stroke-width="0.08" font-style="italic" textLength="20.7" lengthAdjust="spacingAndGlyphs">db/db</text>
<text transform="translate(662,263.6)" y="2.72" font-size="7.6" text-anchor="middle" fill="#1a1a1a" stroke="#1a1a1a" stroke-width="0.08" textLength="13.8" lengthAdjust="spacingAndGlyphs">AZD</text>
<text transform="translate(549.6,213.8) rotate(-90)" y="2.65" font-size="7.4" text-anchor="middle" fill="#1a1a1a" stroke="#1a1a1a" stroke-width="0.08" textLength="82" lengthAdjust="spacingAndGlyphs">T<tspan font-size="5.4" dy="1.6">reg</tspan><tspan dy="-1.6"> (CD4</tspan><tspan font-size="5.6" dy="-2.9">+</tspan><tspan dy="2.9">CD25</tspan><tspan font-size="5.6" dy="-2.9">+</tspan><tspan dy="2.9">Foxp3</tspan><tspan font-size="5.6" dy="-2.9">+</tspan><tspan dy="2.9">)</tspan></text>
<text transform="translate(561.8,215.9) rotate(-90)" y="2.65" font-size="7.4" text-anchor="middle" fill="#1a1a1a" stroke="#1a1a1a" stroke-width="0.08" textLength="77.8" lengthAdjust="spacingAndGlyphs">fold change (vs control)</text>
<line x1="603.9" y1="168.9" x2="662.7" y2="168.9" stroke="#b0b0b0" stroke-width="0.75"/>
<line x1="603.9" y1="186.5" x2="632" y2="186.5" stroke="#444" stroke-width="0.75"/>
<line x1="635" y1="186.5" x2="662.7" y2="186.5" stroke="#444" stroke-width="0.75"/>
<text transform="translate(633.4,168.58)" y="0" font-size="10.4" text-anchor="middle" fill="#111" font-weight="bold" textLength="4.37" lengthAdjust="spacingAndGlyphs">*</text>
<text transform="translate(617.7,179.6)" y="2.61" font-size="7.3" text-anchor="middle" fill="#111" stroke="#111" stroke-width="0.08" textLength="9.2" lengthAdjust="spacingAndGlyphs">NS</text>
<text transform="translate(648.8,186.18)" y="0" font-size="10.4" text-anchor="middle" fill="#111" font-weight="bold" textLength="4.37" lengthAdjust="spacingAndGlyphs">*</text>
<text transform="translate(137.3,280.9)" y="0" font-size="13.2" text-anchor="start" fill="#000" stroke="#000" stroke-width="0.4" stroke-linejoin="round" font-weight="bold">g</text>
<path d="M176.7 375.2V346H195.9V375.2" fill="none" stroke="#3a3a3a" stroke-width="0.62"/>
<path d="M205.7 375.2V349.5H225.6V375.2" fill="none" stroke="#f18c7e" stroke-width="0.62"/>
<path d="M234.8 375.2V365.4H254.8V375.2" fill="none" stroke="#7089f2" stroke-width="0.62"/>
<path d="M166.4 294.8V375.2H264" fill="none" stroke="#868686" stroke-width="0.75"/>
<line x1="163.2" y1="375.2" x2="166.4" y2="375.2" stroke="#868686" stroke-width="0.7"/>
<text transform="translate(160.5,375.2)" y="2.79" font-size="7.8" text-anchor="end" fill="#1a1a1a" stroke="#1a1a1a" stroke-width="0.08" textLength="5.05" lengthAdjust="spacingAndGlyphs">0</text>
<line x1="163.2" y1="355.1" x2="166.4" y2="355.1" stroke="#868686" stroke-width="0.7"/>
<text transform="translate(160.5,355.1)" y="2.79" font-size="7.8" text-anchor="end" fill="#1a1a1a" stroke="#1a1a1a" stroke-width="0.08" textLength="10.1" lengthAdjust="spacingAndGlyphs">20</text>
<line x1="163.2" y1="335" x2="166.4" y2="335" stroke="#868686" stroke-width="0.7"/>
<text transform="translate(160.5,335)" y="2.79" font-size="7.8" text-anchor="end" fill="#1a1a1a" stroke="#1a1a1a" stroke-width="0.08" textLength="10.1" lengthAdjust="spacingAndGlyphs">40</text>
<line x1="163.2" y1="314.9" x2="166.4" y2="314.9" stroke="#868686" stroke-width="0.7"/>
<text transform="translate(160.5,314.9)" y="2.79" font-size="7.8" text-anchor="end" fill="#1a1a1a" stroke="#1a1a1a" stroke-width="0.08" textLength="10.1" lengthAdjust="spacingAndGlyphs">60</text>
<line x1="163.2" y1="294.8" x2="166.4" y2="294.8" stroke="#868686" stroke-width="0.7"/>
<text transform="translate(160.5,294.8)" y="2.79" font-size="7.8" text-anchor="end" fill="#1a1a1a" stroke="#1a1a1a" stroke-width="0.08" textLength="10.1" lengthAdjust="spacingAndGlyphs">80</text>
<path d="M181.4 341.7H191.2 M181.4 350.5H191.2 M186.3 341.7V350.5" fill="none" stroke="#707070" stroke-width="0.7"/>
<circle cx="186.3" cy="312.2" r="1.6" fill="none" stroke="#222" stroke-width="0.6"/>
<circle cx="186.3" cy="317.5" r="1.6" fill="none" stroke="#222" stroke-width="0.6"/>
<circle cx="186.3" cy="328.7" r="1.6" fill="none" stroke="#222" stroke-width="0.6"/>
<circle cx="186.3" cy="333.8" r="1.6" fill="none" stroke="#222" stroke-width="0.6"/>
<circle cx="186.3" cy="335.2" r="1.6" fill="none" stroke="#222" stroke-width="0.6"/>
<circle cx="186.3" cy="341.6" r="1.6" fill="none" stroke="#222" stroke-width="0.6"/>
<circle cx="186.3" cy="344" r="1.6" fill="none" stroke="#222" stroke-width="0.6"/>
<circle cx="186.3" cy="350.8" r="1.6" fill="none" stroke="#222" stroke-width="0.6"/>
<circle cx="186.3" cy="355.9" r="1.6" fill="none" stroke="#222" stroke-width="0.6"/>
<circle cx="186.3" cy="361.7" r="1.6" fill="none" stroke="#222" stroke-width="0.6"/>
<circle cx="186.3" cy="364.1" r="1.6" fill="none" stroke="#222" stroke-width="0.6"/>
<circle cx="186.3" cy="367.2" r="1.6" fill="none" stroke="#222" stroke-width="0.6"/>
<circle cx="186.3" cy="363" r="1.6" fill="none" stroke="#222" stroke-width="0.6"/>
<path d="M210.75 346.4H220.55 M210.75 351.9H220.55 M215.65 346.4V351.9" fill="none" stroke="#ee6e5c" stroke-width="0.7"/>
<circle cx="215.65" cy="333.1" r="1.7" fill="#ea310f" stroke="#4a0a02" stroke-width="0.5"/>
<circle cx="215.65" cy="338.8" r="1.7" fill="#ea310f" stroke="#4a0a02" stroke-width="0.5"/>
<circle cx="215.65" cy="348.4" r="1.7" fill="#ea310f" stroke="#4a0a02" stroke-width="0.5"/>
<circle cx="215.65" cy="350.9" r="1.7" fill="#ea310f" stroke="#4a0a02" stroke-width="0.5"/>
<circle cx="215.65" cy="353.6" r="1.7" fill="#ea310f" stroke="#4a0a02" stroke-width="0.5"/>
<circle cx="215.65" cy="361.3" r="1.7" fill="#ea310f" stroke="#4a0a02" stroke-width="0.5"/>
<circle cx="215.65" cy="356.5" r="1.7" fill="#ea310f" stroke="#4a0a02" stroke-width="0.5"/>
<path d="M239.9 362.5H249.7 M239.9 367.8H249.7 M244.8 362.5V367.8" fill="none" stroke="#444" stroke-width="0.7"/>
<circle cx="244.8" cy="353.9" r="1.7" fill="#1236e0" stroke="#06145e" stroke-width="0.5"/>
<circle cx="244.8" cy="362.7" r="1.7" fill="#1236e0" stroke="#06145e" stroke-width="0.5"/>
<circle cx="244.8" cy="364.7" r="1.7" fill="#1236e0" stroke="#06145e" stroke-width="0.5"/>
<circle cx="244.8" cy="368.6" r="1.7" fill="#1236e0" stroke="#06145e" stroke-width="0.5"/>
<circle cx="244.8" cy="375" r="1.7" fill="#1236e0" stroke="#06145e" stroke-width="0.5"/>
<text transform="translate(185.7,382.1)" y="2.79" font-size="7.8" text-anchor="middle" fill="#1a1a1a" stroke="#1a1a1a" stroke-width="0.08" textLength="25.2" lengthAdjust="spacingAndGlyphs">Control</text>
<text transform="translate(216,382.1)" y="2.79" font-size="7.8" text-anchor="middle" fill="#1a1a1a" stroke="#1a1a1a" stroke-width="0.08" textLength="20.7" lengthAdjust="spacingAndGlyphs">db/db</text>
<text transform="translate(244.2,382.1)" y="2.79" font-size="7.8" text-anchor="middle" fill="#1a1a1a" stroke="#1a1a1a" stroke-width="0.08" textLength="13.8" lengthAdjust="spacingAndGlyphs">AZD</text>
<text transform="translate(141.9,334.8) rotate(-90)" y="3.04" font-size="8.5" text-anchor="middle" fill="#1a1a1a" stroke="#1a1a1a" stroke-width="0.08" textLength="64.8" lengthAdjust="spacingAndGlyphs">B cells B220<tspan font-size="6.0" dy="-3.0">+</tspan><tspan dy="3.0"> (%)</tspan></text>
<line x1="186.3" y1="285.7" x2="244.6" y2="285.7" stroke="#666" stroke-width="0.75"/>
<line x1="186.3" y1="303.4" x2="213.9" y2="303.4" stroke="#666" stroke-width="0.75"/>
<line x1="217.4" y1="303.4" x2="244.6" y2="303.4" stroke="#666" stroke-width="0.75"/>
<text transform="translate(215.5,285.78)" y="0" font-size="10.4" text-anchor="middle" fill="#111" font-weight="bold" textLength="8.74" lengthAdjust="spacingAndGlyphs">**</text>
<text transform="translate(200.2,296.5)" y="2.61" font-size="7.3" text-anchor="middle" fill="#111" stroke="#111" stroke-width="0.08" textLength="9.2" lengthAdjust="spacingAndGlyphs">NS</text>
<text transform="translate(230.3,302.98)" y="0" font-size="10.4" text-anchor="middle" fill="#111" font-weight="bold" textLength="4.37" lengthAdjust="spacingAndGlyphs">*</text>
<path d="M309.5 375.2V354.3H329.1V375.2" fill="none" stroke="#3a3a3a" stroke-width="0.62"/>
<path d="M338.7 375.2V362.5H358.6V375.2" fill="none" stroke="#f18c7e" stroke-width="0.62"/>
<path d="M368 375.2V359H387.9V375.2" fill="none" stroke="#7089f2" stroke-width="0.62"/>
<path d="M299.2 294.5V375.2H397.5" fill="none" stroke="#868686" stroke-width="0.75"/>
<line x1="296" y1="375.2" x2="299.2" y2="375.2" stroke="#868686" stroke-width="0.7"/>
<text transform="translate(293.3,375.2)" y="2.79" font-size="7.8" text-anchor="end" fill="#1a1a1a" stroke="#1a1a1a" stroke-width="0.08" textLength="5.05" lengthAdjust="spacingAndGlyphs">0</text>
<line x1="296" y1="348.3" x2="299.2" y2="348.3" stroke="#868686" stroke-width="0.7"/>
<text transform="translate(293.3,348.3)" y="2.79" font-size="7.8" text-anchor="end" fill="#1a1a1a" stroke="#1a1a1a" stroke-width="0.08" textLength="5.05" lengthAdjust="spacingAndGlyphs">5</text>
<line x1="296" y1="321.4" x2="299.2" y2="321.4" stroke="#868686" stroke-width="0.7"/>
<text transform="translate(293.3,321.4)" y="2.79" font-size="7.8" text-anchor="end" fill="#1a1a1a" stroke="#1a1a1a" stroke-width="0.08" textLength="9.09" lengthAdjust="spacingAndGlyphs">10</text>
<line x1="296" y1="294.5" x2="299.2" y2="294.5" stroke="#868686" stroke-width="0.7"/>
<text transform="translate(293.3,294.5)" y="2.79" font-size="7.8" text-anchor="end" fill="#1a1a1a" stroke="#1a1a1a" stroke-width="0.08" textLength="9.09" lengthAdjust="spacingAndGlyphs">15</text>
<path d="M314.4 350.2H324.2 M314.4 358.4H324.2 M319.3 350.2V358.4" fill="none" stroke="#3a3a3a" stroke-width="0.7"/>
<circle cx="319.3" cy="319.5" r="1.6" fill="none" stroke="#222" stroke-width="0.6"/>
<circle cx="319.3" cy="327.7" r="1.6" fill="none" stroke="#222" stroke-width="0.6"/>
<circle cx="319.3" cy="336.5" r="1.6" fill="none" stroke="#222" stroke-width="0.6"/>
<circle cx="319.3" cy="341.6" r="1.6" fill="none" stroke="#222" stroke-width="0.6"/>
<circle cx="319.3" cy="359" r="1.6" fill="none" stroke="#222" stroke-width="0.6"/>
<circle cx="319.3" cy="364.1" r="1.6" fill="none" stroke="#222" stroke-width="0.6"/>
<circle cx="319.3" cy="366.8" r="1.6" fill="none" stroke="#222" stroke-width="0.6"/>
<circle cx="319.3" cy="372.3" r="1.6" fill="none" stroke="#222" stroke-width="0.6"/>
<circle cx="319.3" cy="361.5" r="1.6" fill="none" stroke="#222" stroke-width="0.6"/>
<circle cx="319.3" cy="365.5" r="1.6" fill="none" stroke="#222" stroke-width="0.6"/>
<path d="M343.75 360.4H353.55 M343.75 364.5H353.55 M348.65 360.4V364.5" fill="none" stroke="#ee6e5c" stroke-width="0.7"/>
<circle cx="348.65" cy="344.1" r="1.7" fill="#ea310f" stroke="#4a0a02" stroke-width="0.5"/>
<circle cx="348.65" cy="355.5" r="1.7" fill="#ea310f" stroke="#4a0a02" stroke-width="0.5"/>
<circle cx="348.65" cy="358" r="1.7" fill="#ea310f" stroke="#4a0a02" stroke-width="0.5"/>
<circle cx="348.65" cy="361" r="1.7" fill="#ea310f" stroke="#4a0a02" stroke-width="0.5"/>
<circle cx="348.65" cy="364.1" r="1.7" fill="#ea310f" stroke="#4a0a02" stroke-width="0.5"/>
<circle cx="348.65" cy="367.2" r="1.7" fill="#ea310f" stroke="#4a0a02" stroke-width="0.5"/>
<circle cx="348.65" cy="369.9" r="1.7" fill="#ea310f" stroke="#4a0a02" stroke-width="0.5"/>
<circle cx="348.65" cy="372.3" r="1.7" fill="#ea310f" stroke="#4a0a02" stroke-width="0.5"/>
<circle cx="348.65" cy="356.8" r="1.7" fill="#ea310f" stroke="#4a0a02" stroke-width="0.5"/>
<circle cx="348.65" cy="362.6" r="1.7" fill="#ea310f" stroke="#4a0a02" stroke-width="0.5"/>
<circle cx="348.65" cy="365.6" r="1.7" fill="#ea310f" stroke="#4a0a02" stroke-width="0.5"/>
<path d="M373.05 355.5H382.85 M373.05 362.5H382.85 M377.95 355.5V362.5" fill="none" stroke="#444" stroke-width="0.7"/>
<circle cx="377.95" cy="349.8" r="1.7" fill="#1236e0" stroke="#06145e" stroke-width="0.5"/>
<circle cx="377.95" cy="351.8" r="1.7" fill="#1236e0" stroke="#06145e" stroke-width="0.5"/>
<circle cx="377.95" cy="358" r="1.7" fill="#1236e0" stroke="#06145e" stroke-width="0.5"/>
<circle cx="377.95" cy="361" r="1.7" fill="#1236e0" stroke="#06145e" stroke-width="0.5"/>
<circle cx="377.95" cy="367.2" r="1.7" fill="#1236e0" stroke="#06145e" stroke-width="0.5"/>
<circle cx="377.95" cy="369.9" r="1.7" fill="#1236e0" stroke="#06145e" stroke-width="0.5"/>
<text transform="translate(319.3,382.1)" y="2.79" font-size="7.8" text-anchor="middle" fill="#1a1a1a" stroke="#1a1a1a" stroke-width="0.08" textLength="25.2" lengthAdjust="spacingAndGlyphs">Control</text>
<text transform="translate(349,382.1)" y="2.79" font-size="7.8" text-anchor="middle" fill="#1a1a1a" stroke="#1a1a1a" stroke-width="0.08" textLength="20.7" lengthAdjust="spacingAndGlyphs">db/db</text>
<text transform="translate(377.6,382.1)" y="2.79" font-size="7.8" text-anchor="middle" fill="#1a1a1a" stroke="#1a1a1a" stroke-width="0.08" textLength="13.8" lengthAdjust="spacingAndGlyphs">AZD</text>
<text transform="translate(275.9,337.1) rotate(-90)" y="3.04" font-size="8.5" text-anchor="middle" fill="#1a1a1a" stroke="#1a1a1a" stroke-width="0.08" textLength="97" lengthAdjust="spacingAndGlyphs">Dendritic cells CD11c<tspan font-size="6.0" dy="-3.0">+</tspan><tspan dy="3.0"> (%)</tspan></text>
<line x1="319.3" y1="293.3" x2="378" y2="293.3" stroke="#555" stroke-width="0.75"/>
<line x1="319.3" y1="310.5" x2="346.9" y2="310.5" stroke="#555" stroke-width="0.75"/>
<line x1="350" y1="310.5" x2="378" y2="310.5" stroke="#555" stroke-width="0.75"/>
<text transform="translate(348.4,286.4)" y="2.61" font-size="7.3" text-anchor="middle" fill="#111" stroke="#111" stroke-width="0.08" textLength="9.2" lengthAdjust="spacingAndGlyphs">NS</text>
<text transform="translate(333.2,303.8)" y="2.61" font-size="7.3" text-anchor="middle" fill="#111" stroke="#111" stroke-width="0.08" textLength="9.2" lengthAdjust="spacingAndGlyphs">NS</text>
<text transform="translate(364.3,303.8)" y="2.61" font-size="7.3" text-anchor="middle" fill="#111" stroke="#111" stroke-width="0.08" textLength="9.2" lengthAdjust="spacingAndGlyphs">NS</text>
<path d="M450.3 375.2V369.6H470.7V375.2" fill="none" stroke="#8a8a8a" stroke-width="0.62"/>
<path d="M479.5 375.2V370.9H499.8V375.2" fill="none" stroke="#f18c7e" stroke-width="0.62"/>
<path d="M509.2 375.2V360.4H529.1V375.2" fill="none" stroke="#7089f2" stroke-width="0.62"/>
<path d="M440.4 294.8V375.2H538" fill="none" stroke="#868686" stroke-width="0.75"/>
<line x1="437.2" y1="375.2" x2="440.4" y2="375.2" stroke="#868686" stroke-width="0.7"/>
<text transform="translate(434.5,375.2)" y="2.79" font-size="7.8" text-anchor="end" fill="#1a1a1a" stroke="#1a1a1a" stroke-width="0.08" textLength="5.05" lengthAdjust="spacingAndGlyphs">0</text>
<line x1="437.2" y1="355.1" x2="440.4" y2="355.1" stroke="#868686" stroke-width="0.7"/>
<text transform="translate(434.5,355.1)" y="2.79" font-size="7.8" text-anchor="end" fill="#1a1a1a" stroke="#1a1a1a" stroke-width="0.08" textLength="9.09" lengthAdjust="spacingAndGlyphs">10</text>
<line x1="437.2" y1="335" x2="440.4" y2="335" stroke="#868686" stroke-width="0.7"/>
<text transform="translate(434.5,335)" y="2.79" font-size="7.8" text-anchor="end" fill="#1a1a1a" stroke="#1a1a1a" stroke-width="0.08" textLength="10.1" lengthAdjust="spacingAndGlyphs">20</text>
<line x1="437.2" y1="314.9" x2="440.4" y2="314.9" stroke="#868686" stroke-width="0.7"/>
<text transform="translate(434.5,314.9)" y="2.79" font-size="7.8" text-anchor="end" fill="#1a1a1a" stroke="#1a1a1a" stroke-width="0.08" textLength="10.1" lengthAdjust="spacingAndGlyphs">30</text>
<line x1="437.2" y1="294.8" x2="440.4" y2="294.8" stroke="#868686" stroke-width="0.7"/>
<text transform="translate(434.5,294.8)" y="2.79" font-size="7.8" text-anchor="end" fill="#1a1a1a" stroke="#1a1a1a" stroke-width="0.08" textLength="10.1" lengthAdjust="spacingAndGlyphs">40</text>
<path d="M455.6 367.8H465.4 M455.6 371.3H465.4 M460.5 367.8V371.3" fill="none" stroke="#3a3a3a" stroke-width="0.7"/>
<circle cx="460.5" cy="347.1" r="1.6" fill="none" stroke="#222" stroke-width="0.6"/>
<circle cx="460.5" cy="358" r="1.6" fill="none" stroke="#222" stroke-width="0.6"/>
<circle cx="460.5" cy="361" r="1.6" fill="none" stroke="#222" stroke-width="0.6"/>
<circle cx="460.5" cy="364.1" r="1.6" fill="none" stroke="#222" stroke-width="0.6"/>
<circle cx="460.5" cy="367.2" r="1.6" fill="none" stroke="#222" stroke-width="0.6"/>
<circle cx="460.5" cy="369.9" r="1.6" fill="none" stroke="#222" stroke-width="0.6"/>
<circle cx="460.5" cy="372.3" r="1.6" fill="none" stroke="#222" stroke-width="0.6"/>
<circle cx="460.5" cy="374.4" r="1.6" fill="none" stroke="#222" stroke-width="0.6"/>
<circle cx="460.5" cy="375" r="1.6" fill="none" stroke="#222" stroke-width="0.6"/>
<circle cx="460.5" cy="373.3" r="1.6" fill="none" stroke="#222" stroke-width="0.6"/>
<circle cx="460.5" cy="371" r="1.6" fill="none" stroke="#222" stroke-width="0.6"/>
<circle cx="460.5" cy="366" r="1.6" fill="none" stroke="#222" stroke-width="0.6"/>
<path d="M484.75 368.6H494.55 M484.75 373.3H494.55 M489.65 368.6V373.3" fill="none" stroke="#ee6e5c" stroke-width="0.7"/>
<circle cx="489.65" cy="353.5" r="1.7" fill="#ea310f" stroke="#4a0a02" stroke-width="0.5"/>
<circle cx="489.65" cy="358" r="1.7" fill="#ea310f" stroke="#4a0a02" stroke-width="0.5"/>
<circle cx="489.65" cy="367.6" r="1.7" fill="#ea310f" stroke="#4a0a02" stroke-width="0.5"/>
<circle cx="489.65" cy="374.4" r="1.7" fill="#ea310f" stroke="#4a0a02" stroke-width="0.5"/>
<circle cx="489.65" cy="375" r="1.7" fill="#ea310f" stroke="#4a0a02" stroke-width="0.5"/>
<circle cx="489.65" cy="374.8" r="1.7" fill="#ea310f" stroke="#4a0a02" stroke-width="0.5"/>
<path d="M514.25 350.4H524.05 M514.25 370.5H524.05 M519.15 350.4V370.5" fill="none" stroke="#777" stroke-width="0.7"/>
<circle cx="519.15" cy="316" r="1.7" fill="#1236e0" stroke="#06145e" stroke-width="0.5"/>
<circle cx="519.15" cy="347.3" r="1.7" fill="#1236e0" stroke="#06145e" stroke-width="0.5"/>
<circle cx="519.15" cy="375" r="1.7" fill="#1236e0" stroke="#06145e" stroke-width="0.5"/>
<text transform="translate(460.1,382.1)" y="2.79" font-size="7.8" text-anchor="middle" fill="#1a1a1a" stroke="#1a1a1a" stroke-width="0.08" textLength="25.2" lengthAdjust="spacingAndGlyphs">Control</text>
<text transform="translate(490.6,382.1)" y="2.79" font-size="7.8" text-anchor="middle" fill="#1a1a1a" stroke="#1a1a1a" stroke-width="0.08" textLength="20.7" lengthAdjust="spacingAndGlyphs">db/db</text>
<text transform="translate(518.4,382.1)" y="2.79" font-size="7.8" text-anchor="middle" fill="#1a1a1a" stroke="#1a1a1a" stroke-width="0.08" textLength="13.8" lengthAdjust="spacingAndGlyphs">AZD</text>
<text transform="translate(413.8,335.5) rotate(-90)" y="3.04" font-size="8.5" text-anchor="middle" fill="#1a1a1a" stroke="#1a1a1a" stroke-width="0.08" textLength="81.7" lengthAdjust="spacingAndGlyphs">Neurophils Ly6G<tspan font-size="6.0" dy="-3.0">+</tspan><tspan dy="3.0"> (%)</tspan></text>
<line x1="460.5" y1="289.2" x2="519.2" y2="289.2" stroke="#444" stroke-width="0.75"/>
<line x1="460.5" y1="306.4" x2="488.1" y2="306.4" stroke="#444" stroke-width="0.75"/>
<line x1="491.2" y1="306.4" x2="519.2" y2="306.4" stroke="#555" stroke-width="0.75"/>
<text transform="translate(490.2,282.3)" y="2.61" font-size="7.3" text-anchor="middle" fill="#111" stroke="#111" stroke-width="0.08" textLength="9.2" lengthAdjust="spacingAndGlyphs">NS</text>
<text transform="translate(474.4,300.1)" y="2.61" font-size="7.3" text-anchor="middle" fill="#111" stroke="#111" stroke-width="0.08" textLength="9.2" lengthAdjust="spacingAndGlyphs">NS</text>
<text transform="translate(505.5,300.1)" y="2.61" font-size="7.3" text-anchor="middle" fill="#111" stroke="#111" stroke-width="0.08" textLength="9.2" lengthAdjust="spacingAndGlyphs">NS</text>
<path d="M597.2 375.2V355.3H616.6V375.2" fill="none" stroke="#8f8f8f" stroke-width="0.62"/>
<path d="M626.5 375.2V360.4H645.9V375.2" fill="none" stroke="#f18c7e" stroke-width="0.62"/>
<path d="M655.5 375.2V349.4H675.4V375.2" fill="none" stroke="#b9c5f8" stroke-width="0.62"/>
<path d="M587 294.8V375.2H685" fill="none" stroke="#868686" stroke-width="0.75"/>
<line x1="583.8" y1="375.2" x2="587" y2="375.2" stroke="#868686" stroke-width="0.7"/>
<text transform="translate(581.1,375.2)" y="2.79" font-size="7.8" text-anchor="end" fill="#1a1a1a" stroke="#1a1a1a" stroke-width="0.08" textLength="5.05" lengthAdjust="spacingAndGlyphs">0</text>
<line x1="583.8" y1="355.1" x2="587" y2="355.1" stroke="#868686" stroke-width="0.7"/>
<text transform="translate(581.1,355.1)" y="2.79" font-size="7.8" text-anchor="end" fill="#1a1a1a" stroke="#1a1a1a" stroke-width="0.08" textLength="10.1" lengthAdjust="spacingAndGlyphs">20</text>
<line x1="583.8" y1="335" x2="587" y2="335" stroke="#868686" stroke-width="0.7"/>
<text transform="translate(581.1,335)" y="2.79" font-size="7.8" text-anchor="end" fill="#1a1a1a" stroke="#1a1a1a" stroke-width="0.08" textLength="10.1" lengthAdjust="spacingAndGlyphs">40</text>
<line x1="583.8" y1="314.9" x2="587" y2="314.9" stroke="#868686" stroke-width="0.7"/>
<text transform="translate(581.1,314.9)" y="2.79" font-size="7.8" text-anchor="end" fill="#1a1a1a" stroke="#1a1a1a" stroke-width="0.08" textLength="10.1" lengthAdjust="spacingAndGlyphs">60</text>
<line x1="583.8" y1="294.8" x2="587" y2="294.8" stroke="#868686" stroke-width="0.7"/>
<text transform="translate(581.1,294.8)" y="2.79" font-size="7.8" text-anchor="end" fill="#1a1a1a" stroke="#1a1a1a" stroke-width="0.08" textLength="10.1" lengthAdjust="spacingAndGlyphs">80</text>
<path d="M602 349.2H611.8 M602 362.5H611.8 M606.9 349.2V362.5" fill="none" stroke="#3a3a3a" stroke-width="0.7"/>
<circle cx="606.9" cy="316.4" r="1.6" fill="none" stroke="#222" stroke-width="0.6"/>
<circle cx="606.9" cy="317.2" r="1.6" fill="none" stroke="#222" stroke-width="0.6"/>
<circle cx="606.9" cy="326.3" r="1.6" fill="none" stroke="#222" stroke-width="0.6"/>
<circle cx="606.9" cy="328.9" r="1.6" fill="none" stroke="#222" stroke-width="0.6"/>
<circle cx="606.9" cy="331.4" r="1.6" fill="none" stroke="#222" stroke-width="0.6"/>
<circle cx="606.9" cy="371.3" r="1.6" fill="none" stroke="#222" stroke-width="0.6"/>
<circle cx="606.9" cy="373.3" r="1.6" fill="none" stroke="#222" stroke-width="0.6"/>
<circle cx="606.9" cy="375" r="1.6" fill="none" stroke="#222" stroke-width="0.6"/>
<circle cx="606.9" cy="374.2" r="1.6" fill="none" stroke="#222" stroke-width="0.6"/>
<path d="M631.3 357.6H641.1 M631.3 363.5H641.1 M636.2 357.6V363.5" fill="none" stroke="#ee6e5c" stroke-width="0.7"/>
<circle cx="636.2" cy="336.1" r="1.7" fill="#ea310f" stroke="#4a0a02" stroke-width="0.5"/>
<circle cx="636.2" cy="346.7" r="1.7" fill="#ea310f" stroke="#4a0a02" stroke-width="0.5"/>
<circle cx="636.2" cy="353.9" r="1.7" fill="#ea310f" stroke="#4a0a02" stroke-width="0.5"/>
<circle cx="636.2" cy="357" r="1.7" fill="#ea310f" stroke="#4a0a02" stroke-width="0.5"/>
<circle cx="636.2" cy="361" r="1.7" fill="#ea310f" stroke="#4a0a02" stroke-width="0.5"/>
<circle cx="636.2" cy="364.1" r="1.7" fill="#ea310f" stroke="#4a0a02" stroke-width="0.5"/>
<circle cx="636.2" cy="369.2" r="1.7" fill="#ea310f" stroke="#4a0a02" stroke-width="0.5"/>
<circle cx="636.2" cy="371.9" r="1.7" fill="#ea310f" stroke="#4a0a02" stroke-width="0.5"/>
<circle cx="636.2" cy="359" r="1.7" fill="#ea310f" stroke="#4a0a02" stroke-width="0.5"/>
<circle cx="636.2" cy="366.5" r="1.7" fill="#ea310f" stroke="#4a0a02" stroke-width="0.5"/>
<path d="M660.55 343.7H670.35 M660.55 355.5H670.35 M665.45 343.7V355.5" fill="none" stroke="#222" stroke-width="0.7"/>
<circle cx="665.45" cy="331.6" r="1.7" fill="#1236e0" stroke="#06145e" stroke-width="0.5"/>
<circle cx="665.45" cy="332.6" r="1.7" fill="#1236e0" stroke="#06145e" stroke-width="0.5"/>
<circle cx="665.45" cy="345.3" r="1.7" fill="#1236e0" stroke="#06145e" stroke-width="0.5"/>
<circle cx="665.45" cy="346.7" r="1.7" fill="#1236e0" stroke="#06145e" stroke-width="0.5"/>
<circle cx="665.45" cy="357.4" r="1.7" fill="#1236e0" stroke="#06145e" stroke-width="0.5"/>
<circle cx="665.45" cy="361" r="1.7" fill="#1236e0" stroke="#06145e" stroke-width="0.5"/>
<circle cx="665.45" cy="375" r="1.7" fill="#1236e0" stroke="#06145e" stroke-width="0.5"/>
<text transform="translate(606.4,382.1)" y="2.79" font-size="7.8" text-anchor="middle" fill="#1a1a1a" stroke="#1a1a1a" stroke-width="0.08" textLength="25.2" lengthAdjust="spacingAndGlyphs">Control</text>
<text transform="translate(636.5,382.1)" y="2.79" font-size="7.8" text-anchor="middle" fill="#1a1a1a" stroke="#1a1a1a" stroke-width="0.08" font-style="italic" textLength="20.7" lengthAdjust="spacingAndGlyphs">db/db</text>
<text transform="translate(665.1,382.1)" y="2.79" font-size="7.8" text-anchor="middle" fill="#1a1a1a" stroke="#1a1a1a" stroke-width="0.08" textLength="13.8" lengthAdjust="spacingAndGlyphs">AZD</text>
<text transform="translate(561.4,336.1) rotate(-90)" y="3.04" font-size="8.5" text-anchor="middle" fill="#1a1a1a" stroke="#1a1a1a" stroke-width="0.08" textLength="95" lengthAdjust="spacingAndGlyphs">Macrophages F4/80<tspan font-size="6.0" dy="-3.0">+</tspan><tspan dy="3.0"> (%)</tspan></text>
<line x1="606.8" y1="289.2" x2="665.8" y2="289.2" stroke="#9a9a9a" stroke-width="0.75"/>
<line x1="606.8" y1="306.4" x2="634.6" y2="306.4" stroke="#8a8a8a" stroke-width="0.75"/>
<line x1="637.7" y1="306.4" x2="665.8" y2="306.4" stroke="#8a8a8a" stroke-width="0.75"/>
<text transform="translate(636.5,282.3)" y="2.61" font-size="7.3" text-anchor="middle" fill="#111" stroke="#111" stroke-width="0.08" textLength="9.2" lengthAdjust="spacingAndGlyphs">NS</text>
<text transform="translate(620.7,300.1)" y="2.61" font-size="7.3" text-anchor="middle" fill="#111" stroke="#111" stroke-width="0.08" textLength="9.2" lengthAdjust="spacingAndGlyphs">NS</text>
<text transform="translate(651.8,300.1)" y="2.61" font-size="7.3" text-anchor="middle" fill="#111" stroke="#111" stroke-width="0.08" textLength="9.2" lengthAdjust="spacingAndGlyphs">NS</text>
</g>
<g id="pd">
<text transform="translate(137.3,161)" y="0" font-size="13" text-anchor="start" fill="#000" stroke="#000" stroke-width="0.4" stroke-linejoin="round" font-weight="bold" textLength="8.6" lengthAdjust="spacingAndGlyphs">d</text>
<defs>
<filter id="tx1" x="0" y="0" width="1" height="1" color-interpolation-filters="sRGB"><feTurbulence type="fractalNoise" baseFrequency="0.42 0.16" numOctaves="4" seed="4" result="n"/>
<feColorMatrix in="n" type="matrix" values="0.12 0 0 0 0.815  0.42 0 0 0 0.293  0.3 0 0 0 0.533  0 0 0 0 1"/></filter>
<filter id="tx2" x="0" y="0" width="1" height="1" color-interpolation-filters="sRGB"><feTurbulence type="fractalNoise" baseFrequency="0.38 0.2" numOctaves="4" seed="8" result="n"/>
<feColorMatrix in="n" type="matrix" values="0.42 0 0 0 0.45  0.32 0 0 0 0.195  0.26 0 0 0 0.395  0 0 0 0 1"/></filter>
<filter id="tx3" x="0" y="0" width="1" height="1" color-interpolation-filters="sRGB"><feTurbulence type="fractalNoise" baseFrequency="0.36 0.22" numOctaves="4" seed="15" result="n"/>
<feColorMatrix in="n" type="matrix" values="0.14 0 0 0 0.765  0.42 0 0 0 0.205  0.32 0 0 0 0.44  0 0 0 0 1"/></filter>
<filter id="bl"><feGaussianBlur stdDeviation="5"/></filter>
</defs>
<clipPath id="ci0"><rect x="164.8" y="177.3" width="63.4" height="69.4"/></clipPath>
<g clip-path="url(#ci0)">
<rect x="164.8" y="177.3" width="63.4" height="69.4" fill="#dc6c9e" stroke="none" stroke-width="0.5"/>
<rect x="164.8" y="177.3" width="63.4" height="69.4" filter="url(#tx1)" opacity="1"/>
<path d="M182.01 216.15l-0.62 4.5 M187.14 190.12l1.5 4.3 M188.76 232.33l-0.12 2.45 M195.6 225.42l0.06 2.21 M202.16 244.25l1.14 2.54 M165.37 213.97l1.17 1.98 M172.04 194.09l-0.71 4.14 M196.85 213.33l0.56 5.17 M183.81 223.27l2.84 6.38 M202.68 235.61l0.59 5.51 M176.79 193.24l1.18 5.71 M180.03 236.05l0.23 3.93 M201.24 236.1l-0.27 6.55 M182.68 245.34l0.69 3.93 M167.58 220.98l0.32 2.42 M177.45 244.21l2.36 5.29 M169.29 194.4l0.51 5.96 M171.56 216.12l0.46 4.21 M172.05 228.09l-0.34 2.56 M180.81 192.07l-0.52 3.31 M201.73 233.06l1.17 2.82 M179.8 236.59l-2.22 4.71 M168.62 245.96l0.7 5.82 M177.31 197.86l-0.15 2.36 M168.23 217.74l0.6 3.81 M182.04 243.86l-1.1 4.28 M186.66 237.44l0.65 6.51 M195.91 194.62l0.03 2.95 M192.93 242.56l-0.5 6.39 M187.76 206.55l-1.32 2.15 M166.27 244.11l0.45 3.25 M196.13 218.69l-1.07 3.3 M171.47 227.29l-0.15 4.79 M197.23 219.93l0.27 3.39 M199.7 191.46l-0.31 4.22 M167.1 189.53l0.57 3.8 M186.57 186.43l3.91 5.69 M189.79 225.27l-1.59 4.66 M170.14 179.73l-2.69 4.8 M201.42 178.78l0.5 5.16 M183.14 228l1.49 1.85 M185.57 228.45l-5.17 3.94 M192.84 226.14l-0.05 3.76 M190.86 239.82l4.76 4.21 M180.67 232.16l-0.48 5.1 M179.34 217.74l2.35 4.46 M167.85 221.67l-2.56 5.03 M179.58 228.31l0.98 4.81 M181.56 235.48l-0.59 2.07 M187.67 210.68l-0.28 3.14 M191.36 211.81l2.13 2.49 M165.23 198.19l3.22 4.32 M172.51 189.07l-0.87 4.12 M198.72 199.99l2.23 4.84 M172.35 207.2l-0.42 6.39 M179.42 217.77l2.64 2.42 M169.98 211.75l-0.79 5.5 M200.94 196.51l1.82 2.18 M181.94 196.4l0.52 5.1 M183.59 199.19l-0.88 6.13 M202.16 208.7l0.66 6.33 M166.38 226.48l0.67 4.81 M176.56 232.23l0.03 4.27 M165.74 234.88l0.49 3.15 M170.16 180.56l2.05 4.72 M189.72 233.33l2.78 6.2 M190.84 191.13l0.74 1.92 M182.76 226.86l0.42 2.87 M175.16 201.29l1.49 4.85 M193.57 204.61l3.04 5.13 M199.27 183.35l-0.74 2.54 M182.05 220.71l2.44 6.08 M179.13 216.78l-1.55 6.54 M182.44 222.5l1.61 2.56 M192.26 234.09l1.44 2.71 M199.04 245.35l3.67 5.82 M185.23 232.18l2.84 5.6 M178.06 183.04l-1.82 3.79 M185.73 230.62l1.49 5.86 M167.24 232.81l0.48 2.82 M177.54 231.98l0.28 4.57 M192.32 235.59l0.2 5.44 M200.78 211.49l0.15 3.1 M184.83 197.44l1.21 5.51 M189.1 213.58l-0.17 3.55 M179.3 235.96l3.17 5.68 M172.72 236.34l-0.97 4.77 M172.44 214.49l1.12 4.38 M187.82 179.23l-0.78 3.93 M195.27 216.36l1.09 4.32" stroke="#f0b5d0" stroke-width="0.4" stroke-opacity="0.55" fill="none" stroke-linecap="round"/>
<ellipse cx="178.8" cy="227.3" rx="16" ry="20" fill="#f2b6d2" opacity="0.35" filter="url(#bl)"/>
<path d="M208.61 181.87l2.92 5.04 M223.34 195.98l1.01 3.76 M172.85 207.4l-0.49 3.87 M184.91 190.59l3.39 2.91 M223.46 186.28l0.44 2.74 M179.21 224.98l0.81 3.19 M187.33 220.31l-0.67 2.4 M197.16 194.69l-0.48 2.75 M198.42 207.61l1.72 3.74 M174.93 191.48l-0.36 4.51 M205.28 214.06l-0.6 5.39 M179.55 228.71l2.79 4.44 M222.03 199.22l1.35 2.54 M228.1 238.9l-1.33 2.16 M179.97 227.72l0.97 5.24 M191.53 232.12l0.04 2.5 M190.34 224.85l-0.27 4.72 M222.58 244.51l0.36 2.43 M196.86 229.92l1.79 2.1 M169.27 184.67l0.39 2.11 M199.78 213.03l0.95 2.57 M177.73 235.61l1.51 5.77 M223.56 183.91l-2.24 3.13 M213.28 199.98l-0.58 3.82 M197.47 207.15l1.05 4.69 M218.33 189.88l0.79 3.73 M211.67 205.43l0.42 4.03 M165.78 239.29l-0.12 5.21 M209.48 237.03l1.79 4.02 M196.77 245.5l2.19 4.74 M181.17 240.54l1.02 5.16 M190.52 239.52l3.88 3.92 M208.85 230.55l0.68 4.84 M169.27 201.02l1.96 3.35 M165.47 201.98l1.38 2.59 M224.69 223.53l1.75 2.86 M206.63 216.83l2.95 5.22 M205.52 225.97l1.23 4.89 M226.94 178.88l1.72 2.49 M190.26 180.8l1.46 2.37 M188.62 184.13l0.75 4.13 M197 244.42l-2.36 3.56 M227.89 221.58l0.54 4.36 M212.94 180.43l1.71 5.46 M174.94 210.04l-0.11 4.44 M168.51 242.9l-0.67 3.62 M198.2 218.79l1.65 4.32 M200.34 196.98l-0.19 4.86 M183.57 178.27l0.45 2.59 M212.64 204.36l0.4 5.58 M212.25 180.78l-1.41 1.81 M222.21 207.11l0.91 3.8 M226.5 194.21l4.08 2.7 M194.49 245.23l1.53 5.04 M203.07 185.29l1.22 2.54 M168.1 213.95l1.08 2.25 M192.88 223.65l1.83 3.92 M191.4 231.29l0.41 4.1 M228.05 243.41l0.49 2.41 M221.4 231.73l1.88 4.09 M187.57 196.14l1.51 4.1 M204.94 229.58l1.53 2.3 M180.58 245.29l-0.93 1.95 M168.65 196.1l1.89 3.18 M204.32 184.41l0.71 2.24 M207.68 215.51l0.94 4.43 M188.46 210.51l0.48 4.96 M217.96 182.46l-0.34 2.46 M216.1 220.59l0.54 3.66 M181.16 233.51l1.4 3.18" stroke="#cf5a90" stroke-width="0.45" stroke-opacity="0.4" fill="none" stroke-linecap="round"/>
<path d="M221.2 177.3l7 0l0 9l-2.5 -4z" fill="#f1e4ea"/>
<path d="M224.7 215.3q2.5 6 0.5 13q-2 -6 -0.5 -13z" fill="#f3dfe8"/>
<path d="M219.43 204.06l1.62 5.76 M221.57 191.71l-0.1 4.48 M214.98 201.55l0.58 5.22 M218.08 197.38l0.59 4.15 M220.4 183.97l0.38 3.3 M216.63 198.25l-0.44 5.76 M216.46 185.44l1.53 4.19 M215.14 197.9l-0.23 5.27 M221.55 202.98l0.09 6.21 M216.64 189.29l1.23 4.43" stroke="#f6e6ee" stroke-width="0.8" stroke-opacity="0.9" fill="none" stroke-linecap="round"/>
</g>
<clipPath id="ci1"><rect x="233.9" y="177.7" width="66.3" height="68.6"/></clipPath>
<g clip-path="url(#ci1)">
<rect x="233.9" y="177.7" width="66.3" height="68.6" fill="#b9577f" stroke="none" stroke-width="0.5"/>
<rect x="233.9" y="177.7" width="66.3" height="68.6" filter="url(#tx2)" opacity="1"/>
<ellipse cx="273.9" cy="205.7" rx="20" ry="38" fill="#4a2a5c" opacity="0.28" filter="url(#bl)"/>
<ellipse cx="253.9" cy="227.7" rx="14" ry="14" fill="#d9709c" opacity="0.3" filter="url(#bl)"/>
<path d="M295.87 239.08l0.97 3.7 M257.99 204.84l-0.59 3.89 M246.83 216.38l0.64 6.15 M271.21 189.81l4.08 4.11 M292.3 197.01l-1.21 4.56 M271.52 244l0.99 5.16 M287.23 182.09l2.03 1.31 M239.31 228.26l3.03 5.75 M239.52 221.2l-0.96 5.16 M250.17 192.82l-1.75 5.56 M268.48 230.16l3.71 5.75 M278.48 211.57l0.08 4.69 M281.7 226.28l-0.76 6.08 M278.1 236.25l2.84 5.32 M289.18 238.66l-1.54 4.35 M280.98 232.73l1.7 3.74 M261.78 187.73l1.28 3.66 M245.02 191.72l4.12 -0.12 M253.26 244.23l-0.22 2.56 M276.86 230.93l0.36 2.87 M238.03 209.17l1.93 1.01 M241.11 190.36l2.09 2.27 M249.51 226.9l1.45 2.54 M252.53 189.53l2.44 5.25 M254.57 215.31l0.19 3.3 M292.74 240.42l2.44 2.8 M270.19 243.35l1.21 1.9 M296.72 232.68l0.89 3.82 M268.88 213.09l2.37 4.72 M249.65 178.45l-3.79 2.17 M258.53 232.36l1.08 2.57 M244.3 199.78l2.46 2.2 M291.53 213.11l3.05 1.33 M269.34 188.03l5.65 1.53 M233.99 234.05l-0.48 2.36 M251.8 226.85l1.99 1.49 M265.73 209.85l-1.83 6.01 M254.03 231.85l1.67 3.73 M294.68 183.94l0.58 4.68 M268.75 188.51l3.1 5.33 M254.55 199.02l-0.3 4.33 M281.31 202.38l0.49 5.41 M240.91 204.74l6.02 1.24 M277.26 178.55l-0.04 3.89 M280.97 193.99l1.33 1.56 M299.64 232.54l1.32 2.73 M274.75 197.62l2.11 2.78 M256.27 204.6l-0.64 5.29 M250.9 191.42l2.03 6.41 M271.21 227.35l2.21 2.91 M288.72 184.03l0.75 5.34 M280.86 190.04l0.45 3.99 M289.39 218.36l-0.01 2.79 M242.13 205.61l0.22 2.35 M294.94 206.99l4.53 3.67 M288.34 204.18l1.11 3.49 M261.22 178.76l5.01 4.76 M286.26 222.99l-0.67 5 M235.13 200.41l1.45 2.08 M258.94 212.64l-1.57 5.73 M288.61 219.64l-0.93 6.45 M270.25 201.89l-1.6 4.21 M243.3 226.64l-1.44 5.39 M289.3 191.23l2.02 6.41 M275.48 191.28l-0.1 4.88 M280.12 200.28l0.65 6.61 M257.85 209.46l-1.46 2.25 M293.84 214.98l-2.57 4.06 M271.05 195.84l-4.7 3.87 M273.78 186.11l5.13 3.34 M253.03 239.23l1.4 5.99 M246.2 215.28l-0.72 2.27 M236.02 190.05l-3.68 3.81 M254.3 223.75l1.93 5.35 M259.2 218.3l0.7 2.91 M264.93 187.51l1.3 3.71 M271.66 189.62l2.74 3.99 M255.92 221.72l0.66 2.09 M278.39 187.63l-1.33 4.14 M261.18 220.49l2.18 4.99 M284.16 229.27l6.16 -0.59 M290.59 205.76l0.57 4.13 M271.42 239.8l2.95 2.94 M293.85 199.7l0.78 2.14 M282.01 239.45l1.86 5.45 M254.11 218.41l1.76 1.56 M242.15 208.36l1.46 1.73 M279.97 213.8l0.85 3.08 M254.21 204.83l1.6 6.36 M297.98 223.37l0.62 6.3 M261.84 232.94l0.65 4.79 M293.8 184.46l-2.59 5.37 M242.11 214.58l0.79 3.12 M253.74 199.98l0.61 2.23 M293.25 233.64l2.74 4.1 M236.94 179.84l0.1 6.49 M254.31 211.89l-3.24 2.92 M247.59 197.96l4.49 4.86 M293.36 191.11l0.21 4.36 M245.3 238.05l3.99 5.72 M247.29 221.08l-0.14 2.25 M240.93 227.49l-1.94 2.99 M293.59 237.35l1.7 5.21 M296.08 208.24l1.13 2.11 M248.7 198.77l0.95 2.75 M249.51 223.29l3.07 5.1 M258.6 223.11l-0.54 3.1 M253.85 241.27l3.22 4.25 M252.25 221.6l-2.99 2.96 M268.93 214.11l-0.88 2.05 M273.66 197.22l0.64 2.35 M252.81 229.54l-1.62 2.79 M252.4 215.3l-0.7 6.9 M236.13 209.37l-3.23 4.76 M259.41 241.45l2.44 4.11 M276.66 202.37l1.37 5.11 M285.81 213.15l4.84 2.44 M268.41 242.97l0.83 2.75 M285.59 189.03l2.05 3.67 M285.15 231.66l2.66 5.33 M249.54 211.25l0.71 4.44 M236.24 218.64l-1.67 5.32 M271.87 237.58l0.32 2.06 M266.79 207.52l0.15 4.21 M251.33 232.48l-2.71 4.02 M269.92 232l-0.5 3.15 M243.6 199.04l-0.53 5.08 M268.74 195.86l0.8 4.88 M239.77 233.99l0.29 2.78 M279.69 234.7l-0.2 5.93" stroke="#6a3570" stroke-width="0.6" stroke-opacity="0.5" fill="none" stroke-linecap="round"/>
<path d="M237.95 205.87l3.07 5.02 M236.69 211.28l0.6 5.01 M299.28 187.62l1.86 1.09 M249.85 238.76l0.38 2.54 M259.95 198.15l1.03 1.87 M299.94 230.06l1.31 4.76 M249.14 195.07l2.35 3.05 M295.72 202.67l1.47 3.01 M298.96 219.61l-0.37 4.58 M237.78 201.24l1.13 4.64 M291.21 218.22l-0.07 3.57 M289.79 203.85l3.17 4.03 M248.18 201.53l0.33 2.63 M247.4 192.41l-0.6 3.82 M254.36 208.37l-1.65 5.19 M247.46 203.97l0.84 2.13 M279.74 202.59l0.97 2.55 M251.29 204.66l1.49 5.49 M281.32 196.13l2.81 5.01 M257.75 230.23l0.76 4.83 M294.04 179.1l1.19 2 M292.4 200.01l-0.19 5.08 M268.33 181.47l1.23 1.78 M243.9 218.54l0.32 2.1 M254.6 206.79l2.63 4.05 M251.16 227.47l1.87 4.27 M243.66 191.75l1.67 3.21 M259.53 237.11l-0.93 2.75 M253.26 201.36l0.66 1.99 M275.7 216.52l1.17 5.1 M298.58 198.15l2.09 1.96 M279.59 223.43l5.44 2.07 M291.47 193.79l1.7 3.3 M259.92 181.82l1.66 3.12 M255.66 211.8l1.4 3.33 M265.41 189.14l0.45 4.64 M249.8 184.08l1.47 2.15 M272.53 225.81l-0.14 4.21 M280.32 179.28l1.4 1.76 M260.71 181.45l0.35 3.97 M272.74 209.87l1.01 1.84 M256.91 238.87l0.22 4.26 M251.26 223.53l0.7 4.41 M297.19 202.58l-0.44 4.28 M296.38 230.62l2.54 2.61 M261.45 196.65l3.76 3.76 M292.23 203.9l0.62 2.47 M267.52 198.87l1.39 3.15 M298.67 187.98l1.11 4.59 M249.45 177.76l0.23 4.17 M260.02 194.12l3.48 2.33 M275.3 216.17l1.69 5.05 M298.13 200.58l2.48 2.1 M281.37 225.4l-1.84 4.38 M297.81 234.25l0.08 3.96 M271.28 203.05l-0.51 3.1 M283.56 214.33l1.04 3.13 M245.69 212.94l0.05 2.5 M238.09 182.41l-0.48 2.4 M263.84 230.67l-0.23 3.92" stroke="#d777a0" stroke-width="0.45" stroke-opacity="0.45" fill="none" stroke-linecap="round"/>
<path d="M239.29 204.44l1.6 1.41 M250.72 202.29l2.36 0.76 M257.63 185.47l2.19 0.82 M259.07 203.71l3.47 -0.83 M252.71 190.68l3.51 0.7 M260.46 181.57l1.94 -1.48 M256.09 184.83l2.48 1.63 M265.09 207.66l1.45 1.12 M256.69 190.64l3.82 -0.27 M266.68 179.2l3.26 -0.4 M237.82 179.01l3.9 0.81 M237.88 187.89l-0.51 1.48 M251.89 192.61l3.5 -0.01 M261.7 186.46l1.21 2.16 M254.38 201.33l0.6 3.18 M252 202.4l1.7 0.76 M239.7 181.01l1.16 2.46 M237.89 187.69l1.5 0.39 M252.66 182.13l2.07 0.06 M249.88 188.99l2.15 0.06 M235.6 179.69l0.75 1.52 M239.95 192.62l3.99 0.22 M240.6 204.47l3.27 -1.29 M247.03 179.48l2.35 1.65 M255.68 196.93l3.61 0.63 M266.86 191.38l-2.99 1.98 M257.93 183.13l0.9 1.56 M236.37 188.78l2.77 1.95 M244.18 193.57l1.69 3.51 M234.27 193.98l2.98 1.88 M260.16 200.4l2.62 -2.42 M259.35 208.14l0.2 1.74 M265.41 190.12l3.56 1.26 M234.68 195.51l2.05 -0.23 M246.78 189.1l2.26 -0.84 M255.05 188.63l1.52 -1.58 M263.91 187.63l1.28 3.1 M240.91 200.64l1.64 2.35 M256.45 183.17l1.47 1.87 M248.18 177.99l1.88 2.02 M247.27 187.62l0 -2.01 M263.09 187.61l3.38 0.09 M237.49 208.18l0.14 -2.04 M247.43 199.5l0.19 1.94 M242.96 198.61l0.61 1.86" stroke="#3f8c9c" stroke-width="0.5" stroke-opacity="0.7" fill="none" stroke-linecap="round"/>
<path d="M284.1 245.58l0.25 2.43 M287.04 203.64l0.53 3.81 M289.73 236.45l0.65 3.83 M285.67 216.65l-1.27 3.87 M285.12 223.35l-0.87 3.14 M284.39 193.48l1.02 3.4 M280.65 220.73l0.74 3.26 M286.6 218.49l-0.32 3.39 M290.84 228.33l0.27 2.93 M288.13 245.57l1.01 2.16 M290.81 211.39l-0.66 2.62 M289.22 222.24l-1.67 4.06 M285.74 245.87l0.46 2.15 M289.54 226.52l0.12 3.36 M286 237.08l-1.03 2.38 M283.28 221.86l-1.05 4.23 M285.52 194.29l-0.46 4.38 M289.38 230.58l2.26 3.76 M281.92 202.8l0.45 2.26 M280.7 201.42l-0.63 2.27 M282.24 204.36l1.7 4.22 M286.86 239.56l-1.52 2.14 M286.98 237.83l-1.16 4.02 M282.4 223.55l0.22 3.01 M283.66 220.9l0.05 2.84 M286.71 225.37l-0.08 4.08 M285.26 186.56l-0.19 2.34 M290.29 219.55l0.68 4.94 M287.65 228.21l-0.28 3.07 M283.6 205.71l-0.57 3.22 M289.01 205.76l-0.8 3.27 M285.68 242.3l0.67 2.62 M286.45 197.24l-1.27 4.44 M283.35 236.32l0.74 4.74 M284.42 228.69l1.04 3.66 M285.07 182.1l0.69 3.25 M290.44 197.8l-0.25 4.08 M287.44 194.49l0.68 4.64 M282.98 206.56l-0.1 3.02 M289.01 236.03l0.66 2.2 M289.82 183.76l0.62 3.03 M284.28 227.3l0.67 4.65 M290.38 179.29l0.89 3.8 M285.29 202.52l0.96 3.9 M286.73 244.27l-0.06 4.93 M290.84 204.81l-0.54 4.07 M290.89 182.27l1.15 3.19 M284.57 222.71l-0.3 2.61 M284.23 187.51l-2.03 2.46 M288.18 183.43l-0.55 3.83 M288.18 195.08l-1.19 4.27 M288.06 230.93l-0.34 2.02 M289.43 242.5l-0.71 4.63 M280.57 201.79l0.75 2.21 M288.68 198.39l0.36 3.5" stroke="#3c8a9a" stroke-width="0.55" stroke-opacity="0.75" fill="none" stroke-linecap="round"/>
<path d="M238.03 240.37l2.36 1.47 M243.65 243.25l1.78 1.14 M247.62 233.32l2.54 1.4 M249.13 244.25l0.8 1.57 M262.08 234.7l0.94 2.33 M254.19 244.43l3.84 0.74 M247.6 232.73l1.57 2.95 M257.52 234.73l0.45 2.79 M234.85 234.09l3.03 -0.68 M262 233.21l-1.23 2.22 M236.5 236.16l0.06 2.32 M250.11 241.55l0.78 3.63 M265.27 240.37l0.99 -2.28 M243.82 242.72l2.02 0.72 M246.09 238.47l2.46 -0.77 M248.84 233.26l3.24 1.54 M235.95 239.82l1.95 -0.66 M237.19 237.68l2.26 0.32" stroke="#2f8f9f" stroke-width="0.7" stroke-opacity="0.8" fill="none" stroke-linecap="round"/>
<path d="M239.9 232.3l9 -1.2l6 -1.8" stroke="#f4e9ee" stroke-width="0.8" fill="none"/>
<path d="M240.9 233.3l1 12" stroke="#f0dfe6" stroke-width="0.6" fill="none"/>
</g>
<clipPath id="ci2"><rect x="306.8" y="178.9" width="65.9" height="67.4"/></clipPath>
<g clip-path="url(#ci2)">
<rect x="306.8" y="178.9" width="65.9" height="67.4" fill="#da6291" stroke="none" stroke-width="0.5"/>
<rect x="306.8" y="178.9" width="65.9" height="67.4" filter="url(#tx3)" opacity="1"/>
<path d="M338.7 194.42l1.03 1.77 M333.6 244.03l1.84 0.87 M345.9 243.66l3.22 2.1 M326.65 219.96l-0.02 4.95 M327.57 212.44l2.23 0.39 M312.92 195.88l1.93 2.74 M359.23 207.58l0.63 3.37 M351.6 184.66l5.56 4.12 M361.6 201.02l4.73 3.59 M349.13 182.72l-2.05 5.45 M309.96 221l5.17 -0.46 M308.27 241.87l4.55 3.54 M345.01 179.28l2.91 4.55 M371.63 240.69l2.08 1.15 M358.29 208.59l2.1 3.68 M335.59 186.85l3.09 1.84 M355.22 183.72l-1.15 5.21 M342.92 186.53l-0.35 2.57 M327.23 243.19l3.05 -0.16 M334.14 215.05l5.08 3.55 M314.93 237.79l2.53 3.3 M331.68 224.35l3.19 5.83 M339.33 225.38l2.37 0.88 M355.72 190.12l-0.32 4.92 M320.12 202.24l1.34 4.77 M341.07 205.09l0.52 4.84 M362.31 203.05l5.96 3.48 M328.42 225.91l2.33 2.15 M324.02 228.13l1.79 1.47 M361.16 204.35l3.63 4.25 M335.32 220.53l6.29 -1.82 M336.84 211.71l2.73 1.58 M356.43 185.8l1.67 1.39 M352.83 217.19l-1.98 4.33 M328.75 189.11l-1.92 5.71 M313.24 231.75l2.21 2.17 M319.93 214.96l3.88 4.35 M345.18 239.52l4.23 5.09 M352.22 203.43l-0.92 3.33 M363.32 227.89l2.33 2.37 M323.22 180.27l2.74 2.12 M323.46 187.77l2.56 3.61 M324.77 198.11l3.76 5.14 M317.35 236.84l-0.57 6.25 M346.96 215.55l2.94 4.41 M367.38 231.15l3.04 1.29 M310.38 242.03l2.85 1.37 M336.64 203.87l-0.99 5.56 M368.99 212.98l2.6 1.79 M369.4 186.33l4.41 5.04 M350.11 183.74l1.54 4.57 M314.69 245.55l2.19 2.79 M364.27 183.04l1.25 1.75 M344.42 245.14l3.47 4.17 M363.17 231.8l3.1 3.45 M318.96 214.4l1.98 3.21 M339.68 192.21l2.77 3.46 M311.99 211.72l4.14 2.4 M370.89 216.74l0.84 3.58 M353.07 242.18l1.31 6.75 M369.4 241.27l-0.52 2.04 M339.07 218.71l5.4 0.53 M347.18 220.23l1.45 4.36 M370.03 181.05l1.47 2.09 M364.07 243.41l2.35 5.68 M352.17 213.93l2.36 4.29 M356.71 233.35l1.92 5.65 M371.08 235.07l2.02 3.5 M328.91 202.27l-1.2 3.09 M345.39 214.36l1.56 3.33 M351.28 209.56l1.17 2.63 M316.68 195.98l-2.31 3.74 M358.44 201.34l1.49 2.95 M341.25 196.08l-1.5 6.21 M318.96 194.55l3.51 4.41 M351.23 232.17l0.37 4.69 M311.98 230.36l1.99 3.55 M372.03 203.89l0.59 3.74 M366.84 245.66l4 4.4 M358.35 201.69l1.98 5.61" stroke="#e9a0c2" stroke-width="0.4" stroke-opacity="0.35" fill="none" stroke-linecap="round"/>
<ellipse cx="354.8" cy="186.9" rx="18" ry="10" fill="#a83f78" opacity="0.35" filter="url(#bl)"/>
<path d="M331.81 198.25l3.69 1.26 M360.73 179.83l3.36 2.16 M331.87 183.29l0.76 2.72 M364.67 243.64l3.57 4.48 M329.33 241.63l0.01 5.78 M319.5 188.05l-0.57 4.68 M364.96 227.86l-0.08 3.49 M314.72 197.3l3.73 4.39 M311.52 191.36l1.87 2.63 M318.85 187.18l1.55 3.8 M342.41 217.16l2.64 5.15 M312.17 193.93l2.12 0.92 M327.19 230.17l-0.07 2.64 M328.57 217.21l2.3 2.2 M359.05 244.45l5.04 1.89 M337.45 191.76l1.96 5.43 M371.24 180.55l1.02 1.96 M317.53 190.56l4.29 2.45 M320.74 180.22l1.36 3.76 M349.82 210.25l-1.06 2.52 M307.8 199.41l0.58 4.44 M331.14 210.78l1.83 4.11 M327.7 202.93l0.03 3.67 M342.39 209.93l2.77 1.84 M367.01 194.63l-2.25 5.05 M317.52 213.2l4.75 3.57 M325.82 190.42l2.4 3.61 M317.19 242.76l2.46 1.95 M313.19 225.22l3.14 2.46 M367.6 213.56l-0.09 3.51 M306.91 212.36l2.58 3.72 M337.26 184.96l-0.62 3.94 M338.55 222.12l0.4 3.75 M312.38 232.82l1.67 2.42 M361.44 232.68l2.12 3.41 M334.89 216.32l-3.3 4.75 M339.08 211.4l2.81 2.86 M329.37 192.14l-1.24 2.58 M361.77 233.06l-2.81 3.82 M359.35 226.87l3.29 4.07 M359.6 190.78l1.01 2.8 M367.4 180.44l3.25 2.41 M329.41 232.26l5.65 0.92 M349.26 183.25l4.45 1.42 M314.01 245.1l0.58 2.68 M352.55 230l4.46 3.92 M347.85 187.34l2.86 4.66 M357.45 231.83l3.55 4.19 M344.31 242.49l2.8 2.16 M330.09 180.44l2.21 1.45 M359.23 194.32l4.12 2.42 M340.79 200.2l2.95 0.92 M319.15 222.56l2.82 1.76 M367.9 240.34l3.15 -0.33 M369.54 220.65l-1.16 3.13 M325.21 214.12l2.65 2.93 M309.13 237.03l4.44 2.25 M323.26 192.33l2.63 3.43 M322.7 200.97l1.23 3.19 M341.52 242.86l1.99 4.1 M334.11 206.32l2.64 5.21 M314.84 208.08l-0.32 4.73 M357.04 216.31l5.41 1.48 M323.35 215.38l5.97 0.53 M341.58 191.66l1.26 2.28 M343.13 197.27l3.15 3.73 M354.7 200.42l2.07 4.36 M336.89 208.05l2.32 0.71 M338.09 243.25l0.86 2.11 M324.55 225.71l2.23 3.01" stroke="#bf4c84" stroke-width="0.45" stroke-opacity="0.3" fill="none" stroke-linecap="round"/>
<path d="M321.82 202.86l1.91 1.63 M326 206.44l1.73 2.5 M321.17 206.85l0.71 2.59 M320.93 197.92l0.65 2.39 M324.55 198.38l-0.82 2.59 M325.5 201.32l2.05 3.39 M321.76 201.16l0.61 2.7 M324.08 202.48l-1.24 3.51" stroke="#4e8fa0" stroke-width="0.6" stroke-opacity="0.8" fill="none" stroke-linecap="round"/>
<path d="M351.95 188.4l2.37 0.48 M355.54 184.34l2.24 -0.46 M359.28 183.83l2.63 0.13 M356.27 189.45l0.96 2.46 M354.32 189.68l0.77 2.38 M360.22 187.79l2.19 0.47 M361.28 190.3l2.58 -0.22 M359.87 181.61l3.28 -1 M357.58 190.66l1.53 -0.16 M355.12 188.1l1.08 1.85" stroke="#5b6f9a" stroke-width="0.6" stroke-opacity="0.6" fill="none" stroke-linecap="round"/>
<path d="M323.8 200.9q8 20 6 44" stroke="#f6e3ec" stroke-width="0.5" fill="none"/>
<path d="M361.8 246.3q6 -10 9 -22" stroke="#f6e3ec" stroke-width="0.6" fill="none"/>
<path d="M306.8 178.9l8 0l-8 6z" fill="#efe3e8"/>
</g>
<text transform="translate(196.5,169.6)" y="3.29" font-size="9.2" text-anchor="middle" fill="#1a1a1a" stroke="#1a1a1a" stroke-width="0.08" textLength="30.4" lengthAdjust="spacingAndGlyphs">Control</text>
<text transform="translate(267,169.5)" y="3.29" font-size="9.2" text-anchor="middle" fill="#1a1a1a" stroke="#1a1a1a" stroke-width="0.08" font-style="italic" textLength="24.3" lengthAdjust="spacingAndGlyphs">db/db</text>
<text transform="translate(340,168.1)" y="3.29" font-size="9.2" text-anchor="middle" fill="#1a1a1a" stroke="#1a1a1a" stroke-width="0.08" textLength="17" lengthAdjust="spacingAndGlyphs">AZD</text>
<text transform="translate(165.8,251.8)" y="2.76" font-size="7.7" text-anchor="start" fill="#1a1a1a" stroke="#1a1a1a" stroke-width="0.08" textLength="25.2" lengthAdjust="spacingAndGlyphs">250 µM</text>
<rect x="165.8" y="257.9" width="17.8" height="2.9" fill="#000" stroke="none" stroke-width="0.5"/>
<text transform="translate(235.5,251.8)" y="2.76" font-size="7.7" text-anchor="start" fill="#1a1a1a" stroke="#1a1a1a" stroke-width="0.08" textLength="25.2" lengthAdjust="spacingAndGlyphs">250 µM</text>
<rect x="235.5" y="257.9" width="17.8" height="2.9" fill="#000" stroke="none" stroke-width="0.5"/>
<text transform="translate(309.1,251.8)" y="2.76" font-size="7.7" text-anchor="start" fill="#1a1a1a" stroke="#1a1a1a" stroke-width="0.08" textLength="25.2" lengthAdjust="spacingAndGlyphs">250 µM</text>
<rect x="308" y="257.9" width="17.8" height="2.9" fill="#000" stroke="none" stroke-width="0.5"/>
</g>
</svg>
</body></html>
